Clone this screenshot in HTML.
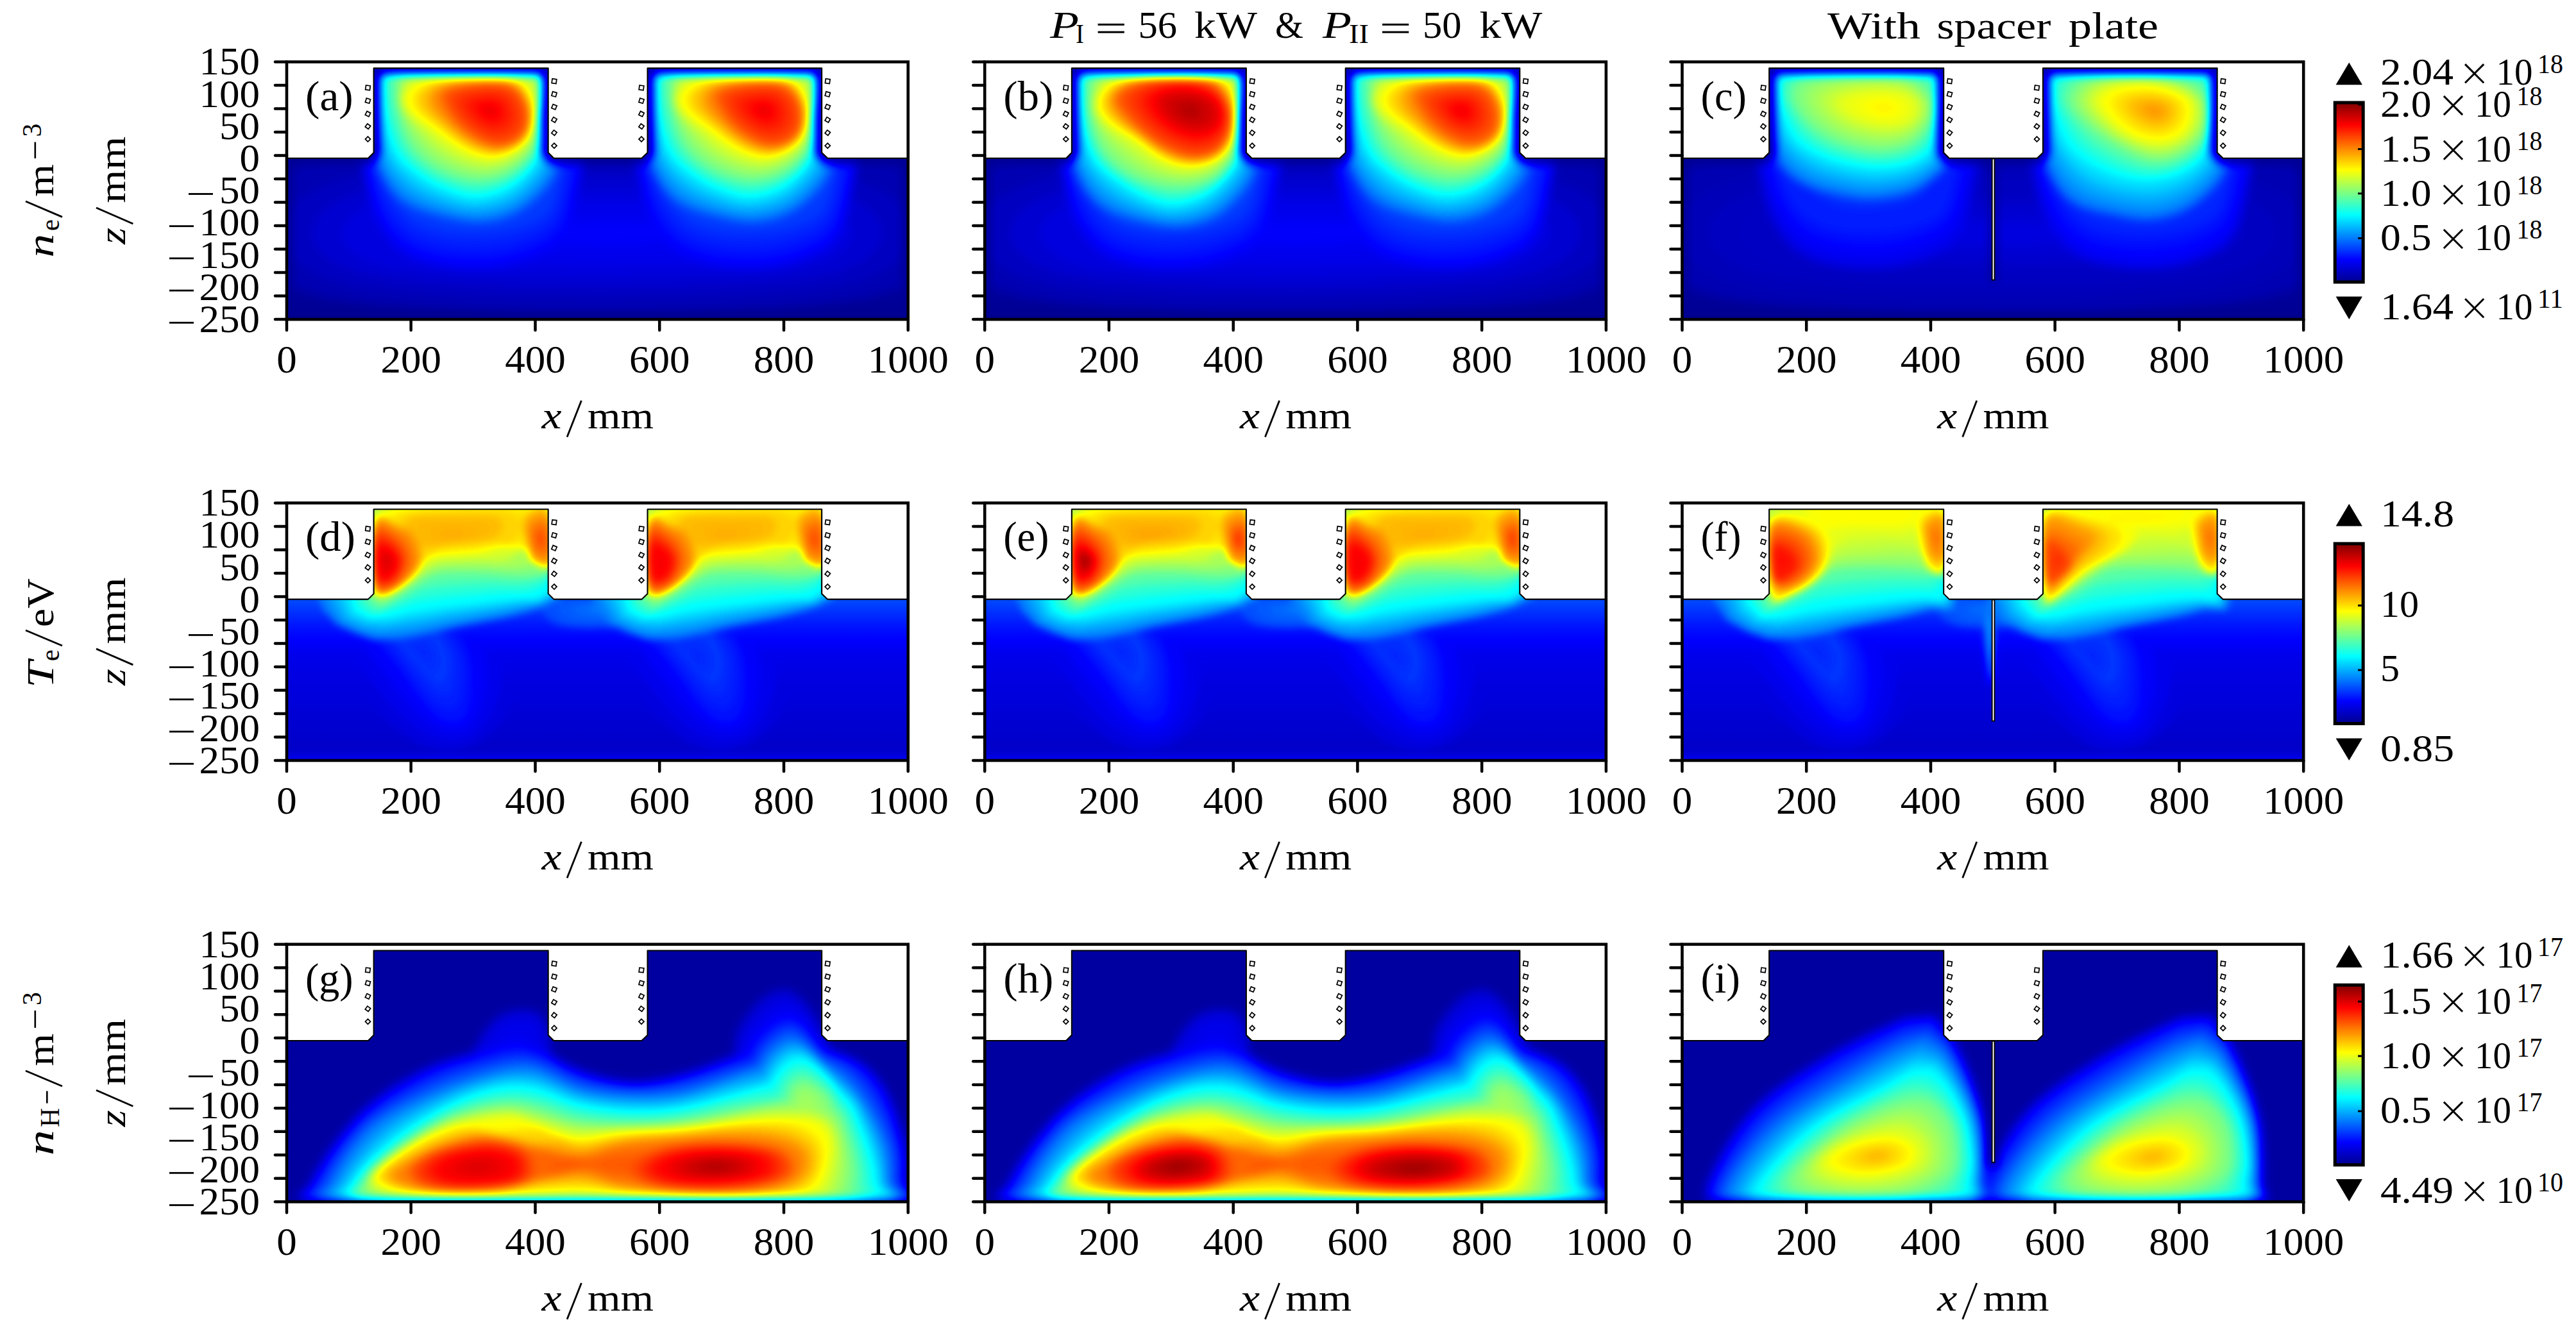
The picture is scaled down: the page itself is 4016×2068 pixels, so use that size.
<!DOCTYPE html><html><head><meta charset="utf-8"><style>html,body{margin:0;padding:0;background:#fff;overflow:hidden}svg{display:block}text{font-family:"Liberation Serif",serif;fill:#000}</style></head><body><svg xmlns="http://www.w3.org/2000/svg" width="4016" height="2068" viewBox="0 0 4016 2068"><defs><filter id="jet" x="0" y="0" width="1" height="1" color-interpolation-filters="sRGB"><feComponentTransfer><feFuncR type="table" tableValues="0 0 0 0 0.5 1 1 1 0.5"/><feFuncG type="table" tableValues="0 0 0.5 1 1 1 0.5 0 0"/><feFuncB type="table" tableValues="0.5625 1 1 1 0.5 0 0 0 0"/></feComponentTransfer></filter><linearGradient id="cbar" x1="0" y1="0" x2="0" y2="1"><stop offset="0.0000" stop-color="#800000"/><stop offset="0.0156" stop-color="#8f0000"/><stop offset="0.0312" stop-color="#9f0000"/><stop offset="0.0469" stop-color="#af0000"/><stop offset="0.0625" stop-color="#bf0000"/><stop offset="0.0781" stop-color="#cf0000"/><stop offset="0.0938" stop-color="#df0000"/><stop offset="0.1094" stop-color="#ef0000"/><stop offset="0.1250" stop-color="#ff0000"/><stop offset="0.1406" stop-color="#ff1000"/><stop offset="0.1562" stop-color="#ff2000"/><stop offset="0.1719" stop-color="#ff3000"/><stop offset="0.1875" stop-color="#ff4000"/><stop offset="0.2031" stop-color="#ff5000"/><stop offset="0.2188" stop-color="#ff6000"/><stop offset="0.2344" stop-color="#ff7000"/><stop offset="0.2500" stop-color="#ff8000"/><stop offset="0.2656" stop-color="#ff8f00"/><stop offset="0.2812" stop-color="#ff9f00"/><stop offset="0.2969" stop-color="#ffaf00"/><stop offset="0.3125" stop-color="#ffbf00"/><stop offset="0.3281" stop-color="#ffcf00"/><stop offset="0.3438" stop-color="#ffdf00"/><stop offset="0.3594" stop-color="#ffef00"/><stop offset="0.3750" stop-color="#ffff00"/><stop offset="0.3906" stop-color="#efff10"/><stop offset="0.4062" stop-color="#dfff20"/><stop offset="0.4219" stop-color="#cfff30"/><stop offset="0.4375" stop-color="#bfff40"/><stop offset="0.4531" stop-color="#afff50"/><stop offset="0.4688" stop-color="#9fff60"/><stop offset="0.4844" stop-color="#8fff70"/><stop offset="0.5000" stop-color="#80ff80"/><stop offset="0.5156" stop-color="#70ff8f"/><stop offset="0.5312" stop-color="#60ff9f"/><stop offset="0.5469" stop-color="#50ffaf"/><stop offset="0.5625" stop-color="#40ffbf"/><stop offset="0.5781" stop-color="#30ffcf"/><stop offset="0.5938" stop-color="#20ffdf"/><stop offset="0.6094" stop-color="#10ffef"/><stop offset="0.6250" stop-color="#00ffff"/><stop offset="0.6406" stop-color="#00efff"/><stop offset="0.6562" stop-color="#00dfff"/><stop offset="0.6719" stop-color="#00cfff"/><stop offset="0.6875" stop-color="#00bfff"/><stop offset="0.7031" stop-color="#00afff"/><stop offset="0.7188" stop-color="#009fff"/><stop offset="0.7344" stop-color="#008fff"/><stop offset="0.7500" stop-color="#0080ff"/><stop offset="0.7656" stop-color="#0070ff"/><stop offset="0.7812" stop-color="#0060ff"/><stop offset="0.7969" stop-color="#0050ff"/><stop offset="0.8125" stop-color="#0040ff"/><stop offset="0.8281" stop-color="#0030ff"/><stop offset="0.8438" stop-color="#0020ff"/><stop offset="0.8594" stop-color="#0010ff"/><stop offset="0.8750" stop-color="#0000ff"/><stop offset="0.8906" stop-color="#0000f1"/><stop offset="0.9062" stop-color="#0000e3"/><stop offset="0.9219" stop-color="#0000d5"/><stop offset="0.9375" stop-color="#0000c7"/><stop offset="0.9531" stop-color="#0000b9"/><stop offset="0.9688" stop-color="#0000ab"/><stop offset="0.9844" stop-color="#00009d"/><stop offset="1.0000" stop-color="#00008f"/></linearGradient><clipPath id="dom"><path d="M18.4 412 H352 L375 389 V43 H1090 V389 L1113 412 H1473 L1497 389 V43 H2211 V389 L2235 412 H2564.7 V1072.8 H18.4 Z"/></clipPath><linearGradient id="ne_base" gradientUnits="userSpaceOnUse" x1="0" y1="412" x2="0" y2="1072"><stop offset="0.000" stop-color="#080808"/><stop offset="0.500" stop-color="#0a0a0a"/><stop offset="0.800" stop-color="#050505"/><stop offset="1.000" stop-color="#000000"/></linearGradient><linearGradient id="te_base" gradientUnits="userSpaceOnUse" x1="0" y1="412" x2="0" y2="1072"><stop offset="0.000" stop-color="#333333"/><stop offset="0.150" stop-color="#262626"/><stop offset="0.350" stop-color="#1a1a1a"/><stop offset="0.600" stop-color="#161616"/><stop offset="0.900" stop-color="#111111"/><stop offset="0.960" stop-color="#111111"/><stop offset="1.000" stop-color="#212121"/></linearGradient><linearGradient id="nh_base" gradientUnits="userSpaceOnUse" x1="0" y1="412" x2="0" y2="1072"><stop offset="0.000" stop-color="#050505"/><stop offset="1.000" stop-color="#050505"/></linearGradient><filter id="fb00" x="-10%" y="-10%" width="120%" height="120%" color-interpolation-filters="sRGB"><feGaussianBlur stdDeviation="20"/></filter><filter id="mb00" x="-5%" y="-5%" width="110%" height="110%" color-interpolation-filters="sRGB"><feGaussianBlur stdDeviation="20"/></filter><filter id="fb01" x="-10%" y="-10%" width="120%" height="120%" color-interpolation-filters="sRGB"><feGaussianBlur stdDeviation="20"/></filter><filter id="mb01" x="-5%" y="-5%" width="110%" height="110%" color-interpolation-filters="sRGB"><feGaussianBlur stdDeviation="20"/></filter><filter id="fb02" x="-10%" y="-10%" width="120%" height="120%" color-interpolation-filters="sRGB"><feGaussianBlur stdDeviation="20"/></filter><filter id="mb02" x="-5%" y="-5%" width="110%" height="110%" color-interpolation-filters="sRGB"><feGaussianBlur stdDeviation="20"/></filter><filter id="fb10" x="-10%" y="-10%" width="120%" height="120%" color-interpolation-filters="sRGB"><feGaussianBlur stdDeviation="16"/></filter><filter id="fb11" x="-10%" y="-10%" width="120%" height="120%" color-interpolation-filters="sRGB"><feGaussianBlur stdDeviation="16"/></filter><filter id="fb12" x="-10%" y="-10%" width="120%" height="120%" color-interpolation-filters="sRGB"><feGaussianBlur stdDeviation="16"/></filter><filter id="fb20" x="-10%" y="-10%" width="120%" height="120%" color-interpolation-filters="sRGB"><feGaussianBlur stdDeviation="20"/></filter><filter id="mb20" x="-5%" y="-5%" width="110%" height="110%" color-interpolation-filters="sRGB"><feGaussianBlur stdDeviation="18"/></filter><filter id="fb21" x="-10%" y="-10%" width="120%" height="120%" color-interpolation-filters="sRGB"><feGaussianBlur stdDeviation="20"/></filter><filter id="mb21" x="-5%" y="-5%" width="110%" height="110%" color-interpolation-filters="sRGB"><feGaussianBlur stdDeviation="18"/></filter><filter id="fb22" x="-10%" y="-10%" width="120%" height="120%" color-interpolation-filters="sRGB"><feGaussianBlur stdDeviation="20"/></filter><filter id="mb22" x="-5%" y="-5%" width="110%" height="110%" color-interpolation-filters="sRGB"><feGaussianBlur stdDeviation="18"/></filter></defs><g transform="translate(440.000 89.995) scale(0.380431)">
<g clip-path="url(#dom)"><g filter="url(#jet)">
<g filter="url(#fb00)">
<rect x="-100" y="-100" width="2800" height="1300" fill="url(#ne_base)"/>
<g style="mix-blend-mode:lighten">
<g style="mix-blend-mode:lighten"><path d="M1251 300l-8 65l-9 65l-12 66l-14 69l-16 74l-25 78l-50 61l-71 34l-72 28l-75 17l-75 7l-74 0l-73 -7l-72 -14l-70 -23l-63 -39l-48 -56l-35 -64l-25 -65l-17 -63l-13 -61l-12 -57l-15 -57l-17 -58l-16 -63l-14 -68l-3 -73l18 -70l54 -49l72 -26l70 -15l63 -10l58 -7l55 -5l52 -2l51 -3l51 0l54 1l55 3l60 6l65 10l71 15l66 32l47 53l23 67l10 70l2 68z" fill="#202020"/><path d="M1225 300l-8 62l-9 61l-11 62l-14 65l-15 71l-26 71l-52 52l-66 30l-68 23l-69 14l-69 6l-68 0l-67 -6l-67 -12l-64 -21l-58 -34l-47 -49l-35 -57l-24 -60l-18 -59l-12 -56l-12 -55l-14 -53l-16 -55l-16 -59l-14 -65l-5 -70l13 -69l45 -52l67 -29l68 -16l62 -11l57 -7l54 -5l52 -3l51 -2l51 0l53 1l55 4l59 5l63 11l68 18l62 34l41 54l19 66l8 67l0 65z" fill="#252525"/><path d="M1199 300l-8 58l-9 58l-11 58l-12 62l-15 66l-28 64l-52 43l-63 26l-63 19l-63 11l-63 5l-62 0l-61 -5l-61 -10l-59 -18l-54 -30l-44 -43l-35 -50l-25 -54l-18 -54l-12 -53l-11 -51l-13 -50l-16 -52l-15 -56l-14 -61l-7 -67l8 -68l37 -55l61 -32l65 -18l61 -11l58 -7l53 -5l52 -3l50 -2l51 0l52 1l54 4l59 6l62 12l65 19l56 37l36 55l16 64l5 65l-2 62z" fill="#292929"/><path d="M1173 300l-8 55l-9 54l-11 55l-11 57l-14 63l-29 57l-53 34l-59 22l-59 14l-58 8l-56 3l-56 1l-55 -4l-55 -8l-54 -16l-49 -25l-43 -36l-34 -44l-26 -48l-17 -50l-12 -49l-11 -48l-13 -46l-14 -49l-15 -52l-14 -58l-9 -64l3 -68l28 -57l56 -35l63 -19l60 -12l57 -7l53 -6l51 -2l50 -2l50 0l52 1l54 5l58 6l60 13l62 21l52 38l29 57l13 63l3 62l-3 59z" fill="#2e2e2e"/><path d="M1067 300l-6 41l-7 41l-8 41l-8 43l-11 47l-21 43l-40 25l-44 17l-44 10l-44 6l-42 3l-42 0l-41 -2l-42 -7l-40 -12l-37 -19l-32 -27l-26 -32l-19 -36l-13 -38l-9 -37l-8 -35l-9 -36l-11 -36l-11 -39l-11 -44l-7 -48l2 -50l21 -43l42 -27l48 -14l45 -9l42 -5l40 -4l38 -2l38 -2l38 1l38 1l41 3l43 4l46 10l46 16l39 29l22 42l9 48l2 46l-2 45z" fill="#323232"/><path d="M962 300l-4 27l-5 27l-6 28l-5 29l-7 31l-15 28l-26 17l-29 12l-30 6l-29 4l-28 2l-28 0l-28 -1l-27 -5l-27 -7l-25 -13l-21 -18l-17 -22l-13 -24l-9 -25l-6 -24l-5 -24l-6 -24l-7 -24l-8 -26l-7 -29l-5 -32l2 -34l14 -29l28 -17l31 -10l31 -6l28 -3l26 -3l26 -1l25 -1l25 0l26 1l27 2l29 3l30 6l31 11l26 19l15 29l6 31l1 31l-1 30z" fill="#373737"/><path d="M856 300l-2 14l-3 13l-2 14l-3 14l-4 16l-7 14l-13 9l-15 5l-14 4l-15 2l-14 1l-14 0l-14 -1l-14 -2l-13 -4l-12 -7l-11 -9l-9 -10l-6 -12l-4 -13l-3 -12l-3 -12l-3 -12l-4 -12l-3 -13l-4 -15l-2 -16l0 -16l7 -15l14 -9l16 -4l15 -3l14 -2l14 -1l12 -1l13 -1l13 1l12 0l14 1l14 1l16 4l15 5l13 10l7 14l3 16l1 15l-1 15z" fill="#3b3b3b"/></g>
<g style="mix-blend-mode:lighten"><path d="M2373 300l-8 65l-9 65l-12 66l-14 69l-16 74l-25 78l-50 61l-71 34l-72 28l-75 17l-75 7l-74 0l-73 -7l-72 -14l-70 -23l-63 -39l-48 -56l-35 -64l-25 -65l-17 -63l-13 -61l-12 -57l-15 -57l-17 -58l-16 -63l-14 -68l-3 -73l18 -70l54 -49l72 -26l70 -15l63 -10l58 -7l55 -5l52 -2l51 -3l51 0l54 1l55 3l60 6l65 10l71 15l66 32l47 53l23 67l10 70l2 68z" fill="#202020"/><path d="M2347 300l-8 62l-9 61l-11 62l-14 65l-15 71l-26 71l-52 52l-66 30l-68 23l-69 14l-69 6l-68 0l-67 -6l-67 -12l-64 -21l-58 -34l-47 -49l-35 -57l-24 -60l-18 -59l-12 -56l-12 -55l-14 -53l-16 -55l-16 -59l-14 -65l-5 -70l13 -69l45 -52l67 -29l68 -16l62 -11l57 -7l54 -5l52 -3l51 -2l51 0l53 1l55 4l59 5l63 11l68 18l62 34l41 54l19 66l8 67l0 65z" fill="#252525"/><path d="M2321 300l-8 58l-9 58l-11 58l-12 62l-15 66l-28 64l-52 43l-63 26l-63 19l-63 11l-63 5l-62 0l-61 -5l-61 -10l-59 -18l-54 -30l-44 -43l-35 -50l-25 -54l-18 -54l-12 -53l-11 -51l-13 -50l-16 -52l-15 -56l-14 -61l-7 -67l8 -68l37 -55l61 -32l65 -18l61 -11l58 -7l53 -5l52 -3l50 -2l51 0l52 1l54 4l59 6l62 12l65 19l56 37l36 55l16 64l5 65l-2 62z" fill="#292929"/><path d="M2295 300l-8 55l-9 54l-11 55l-11 57l-14 63l-29 57l-53 34l-59 22l-59 14l-58 8l-56 3l-56 1l-55 -4l-55 -8l-54 -16l-49 -25l-43 -36l-34 -44l-26 -48l-17 -50l-12 -49l-11 -48l-13 -46l-14 -49l-15 -52l-14 -58l-9 -64l3 -68l28 -57l56 -35l63 -19l60 -12l57 -7l53 -6l51 -2l50 -2l50 0l52 1l54 5l58 6l60 13l62 21l52 38l29 57l13 63l3 62l-3 59z" fill="#2e2e2e"/><path d="M2189 300l-6 41l-7 41l-8 41l-8 43l-11 47l-21 43l-40 25l-44 17l-44 10l-44 6l-42 3l-42 0l-41 -2l-42 -7l-40 -12l-37 -19l-32 -27l-26 -32l-19 -36l-13 -38l-9 -37l-8 -35l-9 -36l-11 -36l-11 -39l-11 -44l-7 -48l2 -50l21 -43l42 -27l48 -14l45 -9l42 -5l40 -4l38 -2l38 -2l38 1l38 1l41 3l43 4l46 10l46 16l39 29l22 42l9 48l2 46l-2 45z" fill="#323232"/><path d="M2084 300l-4 27l-5 27l-6 28l-5 29l-7 31l-15 28l-26 17l-29 12l-30 6l-29 4l-28 2l-28 0l-28 -1l-27 -5l-27 -7l-25 -13l-21 -18l-17 -22l-13 -24l-9 -25l-6 -24l-5 -24l-6 -24l-7 -24l-8 -26l-7 -29l-5 -32l2 -34l14 -29l28 -17l31 -10l31 -6l28 -3l26 -3l26 -1l25 -1l25 0l26 1l27 2l29 3l30 6l31 11l26 19l15 29l6 31l1 31l-1 30z" fill="#373737"/><path d="M1978 300l-2 14l-3 13l-2 14l-3 14l-4 16l-7 14l-13 9l-15 5l-14 4l-15 2l-14 1l-14 0l-14 -1l-14 -2l-13 -4l-12 -7l-11 -9l-9 -10l-6 -12l-4 -13l-3 -12l-3 -12l-3 -12l-4 -12l-3 -13l-4 -15l-2 -16l0 -16l7 -15l14 -9l16 -4l15 -3l14 -2l14 -1l12 -1l13 -1l13 1l12 0l14 1l14 1l16 4l15 5l13 10l7 14l3 16l1 15l-1 15z" fill="#3b3b3b"/></g>
<g style="mix-blend-mode:lighten"><path d="M2712 720l-18 74l-48 71l-87 65l-137 51l-186 29l-184 15l-159 9l-141 6l-126 5l-118 1l-110 1l-108 2l-108 -2l-110 -1l-118 -1l-126 -5l-141 -6l-159 -9l-184 -15l-186 -29l-137 -51l-87 -65l-48 -71l-18 -74l9 -74l38 -73l72 -69l119 -58l173 -36l186 -20l168 -12l154 -6l137 -6l128 -2l120 -1l118 -2l118 2l120 1l128 2l137 6l154 6l168 12l186 20l173 36l119 58l72 69l38 73z" fill="#0a0a0a"/><path d="M2588 720l-20 67l-55 64l-96 56l-147 39l-171 22l-161 11l-137 8l-120 4l-107 3l-100 1l-93 1l-91 2l-91 -2l-93 -1l-100 -1l-107 -3l-120 -4l-137 -8l-161 -11l-171 -22l-147 -39l-96 -56l-55 -64l-20 -67l14 -68l48 -64l87 -58l134 -45l163 -27l162 -14l143 -9l129 -5l114 -4l106 -1l100 -1l98 -2l98 2l100 1l106 1l114 4l129 5l143 9l162 14l163 27l134 45l87 58l48 64z" fill="#0e0e0e"/><path d="M2464 720l-22 61l-61 56l-107 46l-155 28l-157 15l-137 8l-115 5l-100 3l-88 2l-81 1l-77 0l-74 1l-74 -1l-77 0l-81 -1l-88 -2l-100 -3l-115 -5l-137 -8l-157 -15l-155 -28l-107 -46l-61 -56l-22 -61l19 -61l57 -57l102 -47l149 -30l153 -18l138 -9l118 -6l104 -3l92 -3l85 -1l80 0l77 -1l77 1l80 0l85 1l92 3l104 3l118 6l138 9l153 18l149 30l102 47l57 57z" fill="#131313"/><path d="M2340 720l-24 54l-67 49l-117 36l-164 17l-143 8l-114 4l-93 3l-78 2l-70 0l-63 1l-60 1l-57 0l-57 0l-60 -1l-63 -1l-70 0l-78 -2l-93 -3l-114 -4l-143 -8l-164 -17l-117 -36l-67 -49l-24 -54l24 -54l67 -49l117 -36l164 -17l143 -8l114 -4l93 -3l78 -2l70 0l63 -1l60 -1l57 0l57 0l60 1l63 1l70 0l78 2l93 3l114 4l143 8l164 17l117 36l67 49z" fill="#171717"/><path d="M2078 720l-18 41l-51 36l-88 28l-123 12l-107 6l-85 3l-70 2l-59 2l-52 0l-48 1l-44 0l-43 0l-43 0l-44 0l-48 -1l-52 0l-59 -2l-70 -2l-85 -3l-107 -6l-123 -12l-88 -28l-51 -36l-18 -41l18 -41l51 -36l88 -28l123 -12l107 -6l85 -3l70 -2l59 -2l52 0l48 -1l44 0l43 0l43 0l44 0l48 1l52 0l59 2l70 2l85 3l107 6l123 12l88 28l51 36z" fill="#1a1a1a"/><path d="M1815 720l-12 27l-34 24l-58 19l-82 8l-71 4l-58 2l-46 1l-39 1l-35 1l-32 0l-29 0l-29 1l-29 -1l-29 0l-32 0l-35 -1l-39 -1l-46 -1l-58 -2l-71 -4l-82 -8l-58 -19l-34 -24l-12 -27l12 -27l34 -24l58 -19l82 -8l71 -4l58 -2l46 -1l39 -1l35 -1l32 0l29 0l29 -1l29 1l29 0l32 0l35 1l39 1l46 1l58 2l71 4l82 8l58 19l34 24z" fill="#1c1c1c"/><path d="M1552 720l-5 14l-17 12l-30 9l-41 4l-35 2l-29 1l-23 1l-20 0l-17 0l-16 1l-15 0l-14 0l-14 0l-15 0l-16 -1l-17 0l-20 0l-23 -1l-29 -1l-35 -2l-41 -4l-30 -9l-17 -12l-5 -14l5 -14l17 -12l30 -9l41 -4l35 -2l29 -1l23 -1l20 0l17 0l16 -1l15 0l14 0l14 0l15 0l16 1l17 0l20 0l23 1l29 1l35 2l41 4l30 9l17 12z" fill="#1f1f1f"/></g>
<g style="mix-blend-mode:lighten"><path d="M1140 215l1 38l1 40l1 43l-1 47l-8 50l-18 48l-28 44l-36 40l-42 37l-48 32l-54 23l-58 13l-60 4l-61 -8l-60 -13l-63 -16l-63 -21l-60 -34l-47 -49l-35 -59l-23 -64l-19 -64l-24 -63l-25 -68l-19 -74l-1 -76l47 -62l100 -26l90 -10l72 -3l58 0l48 0l41 0l37 2l34 1l33 1l32 2l33 3l34 2l38 3l41 5l48 6l56 10l53 23l9 50l-28 58l-21 46z" fill="#404040"/><path d="M1119 215l-1 35l0 37l0 39l-1 43l-7 45l-17 44l-25 41l-33 37l-38 35l-43 31l-50 21l-54 14l-56 6l-57 -6l-56 -14l-57 -17l-58 -21l-55 -31l-46 -44l-37 -51l-26 -59l-18 -60l-22 -61l-22 -64l-17 -69l-2 -73l37 -62l87 -30l85 -12l70 -4l57 -2l48 0l41 1l37 1l34 1l33 2l32 2l33 2l34 3l37 4l41 5l46 8l49 14l40 29l5 49l-23 52l-18 43z" fill="#4a4a4a"/><path d="M1098 215l-4 32l0 33l0 36l-2 39l-7 41l-14 40l-23 37l-29 34l-34 33l-40 29l-46 21l-49 14l-52 7l-53 -4l-51 -15l-52 -17l-52 -21l-50 -29l-45 -38l-40 -44l-28 -53l-19 -57l-19 -57l-20 -61l-15 -65l-2 -68l27 -62l73 -35l80 -14l69 -5l56 -3l48 0l41 0l37 1l34 2l33 1l32 3l33 2l34 3l37 5l40 6l44 9l42 19l27 34l1 47l-17 47l-16 39z" fill="#555555"/><path d="M1077 215l-6 29l-2 30l0 32l-2 34l-6 37l-13 36l-20 34l-26 32l-30 30l-36 27l-41 20l-45 15l-48 9l-49 -3l-47 -15l-46 -17l-47 -21l-44 -28l-44 -32l-43 -37l-31 -47l-18 -53l-17 -55l-17 -57l-13 -61l-3 -64l16 -62l61 -38l75 -17l67 -6l55 -4l47 0l41 0l38 1l34 1l33 1l32 3l33 3l34 4l36 5l39 7l42 11l36 23l14 39l-3 45l-12 42l-13 36z" fill="#606060"/><path d="M1071 215l-6 28l-2 29l-1 31l-2 33l-7 35l-13 34l-20 32l-25 28l-30 27l-35 23l-38 19l-42 12l-45 8l-45 -3l-44 -12l-44 -16l-43 -19l-43 -25l-41 -30l-40 -35l-30 -44l-19 -50l-16 -51l-14 -54l-11 -57l-3 -60l4 -63l71 -30l74 -12l62 -5l51 -2l43 -1l38 0l34 0l31 1l30 1l30 2l30 3l31 2l34 5l37 5l39 10l36 19l18 35l0 41l-10 40l-13 35z" fill="#6a6a6a"/><path d="M1065 215l-7 27l-2 28l-1 30l-2 32l-7 33l-14 32l-20 29l-25 26l-29 23l-33 20l-36 16l-39 11l-41 5l-42 -2l-41 -10l-41 -14l-41 -18l-40 -22l-39 -27l-36 -34l-29 -40l-20 -46l-16 -48l-11 -51l-9 -53l-3 -57l-8 -63l81 -21l73 -8l58 -3l46 -2l39 -1l34 0l30 0l29 1l27 0l27 2l28 1l29 2l31 3l34 5l37 8l37 15l22 30l3 38l-10 39l-12 34z" fill="#757575"/><path d="M1059 215l-7 27l-3 26l-1 29l-3 31l-6 32l-15 29l-20 27l-25 23l-28 20l-31 16l-34 13l-36 9l-38 4l-38 -2l-38 -8l-38 -12l-39 -16l-38 -19l-36 -26l-33 -31l-27 -37l-22 -42l-14 -45l-9 -48l-6 -50l-4 -52l-19 -63l91 -13l71 -4l53 -2l42 -1l35 -1l30 0l27 0l26 0l24 0l24 1l25 1l27 1l28 2l32 3l36 6l36 12l26 25l7 35l-9 38l-12 33z" fill="#808080"/><path d="M1050 215l-5 26l-2 26l-3 27l-5 28l-8 29l-15 26l-20 23l-24 20l-26 17l-29 14l-30 11l-33 7l-34 2l-34 -3l-33 -8l-34 -12l-33 -14l-33 -18l-32 -22l-30 -27l-27 -32l-25 -36l-25 -39l-22 -45l-11 -49l8 -49l4 -52l80 -12l64 -5l48 -2l39 -1l32 0l27 -1l25 0l24 0l22 1l22 0l23 1l24 2l26 2l29 4l31 6l30 13l22 22l8 31l-3 32l-6 30z" fill="#8a8a8a"/><path d="M1041 215l-2 25l-3 25l-4 25l-7 26l-10 26l-15 23l-20 20l-22 17l-25 14l-26 12l-28 9l-29 4l-30 0l-29 -5l-29 -8l-29 -11l-28 -13l-28 -16l-28 -19l-27 -23l-26 -26l-29 -29l-35 -34l-35 -42l-16 -49l18 -45l28 -40l69 -13l57 -4l44 -2l34 -2l29 0l26 0l22 0l22 0l20 0l20 1l21 1l22 1l23 3l25 4l26 8l25 13l19 20l9 25l3 27l0 27z" fill="#959595"/><path d="M1032 215l0 24l-3 24l-5 24l-9 23l-12 23l-16 19l-19 17l-21 14l-23 12l-23 10l-25 7l-26 2l-26 -3l-25 -6l-24 -9l-24 -10l-23 -12l-23 -14l-23 -16l-24 -18l-27 -20l-32 -24l-45 -28l-48 -39l-21 -48l29 -42l52 -28l57 -13l50 -5l39 -2l31 -1l26 -1l23 0l20 0l20 0l18 0l18 1l19 1l19 2l21 3l22 4l21 9l19 13l15 18l10 21l9 22l6 22z" fill="#9f9f9f"/><path d="M1024 215l1 23l-1 24l-5 23l-8 23l-13 21l-16 18l-19 15l-21 12l-22 10l-23 7l-23 4l-24 0l-23 -5l-22 -6l-22 -8l-20 -10l-20 -11l-20 -13l-20 -14l-21 -16l-22 -18l-26 -21l-35 -25l-36 -33l-19 -40l16 -38l38 -26l48 -14l43 -5l35 -3l28 -2l23 -1l21 -1l19 0l18 -1l17 0l17 1l18 1l18 1l19 3l20 5l20 8l18 12l14 17l11 19l9 20l6 22z" fill="#aeaeae"/><path d="M1017 215l2 22l-1 23l-4 23l-8 22l-12 20l-17 17l-19 14l-21 10l-22 7l-22 4l-21 1l-22 -2l-20 -6l-20 -7l-18 -8l-17 -9l-17 -10l-17 -12l-17 -12l-17 -14l-18 -16l-20 -18l-24 -22l-25 -27l-16 -32l3 -33l24 -26l39 -13l35 -7l30 -4l25 -2l21 -2l19 -1l18 -1l16 -1l16 0l16 1l16 0l17 2l18 2l19 5l18 8l17 11l13 16l11 17l9 19l8 20z" fill="#bdbdbd"/><path d="M1009 215l3 21l0 22l-3 23l-7 22l-13 19l-17 15l-19 12l-21 8l-21 5l-21 1l-21 -1l-19 -5l-18 -7l-16 -8l-15 -8l-15 -9l-14 -9l-13 -10l-14 -10l-14 -12l-14 -14l-13 -16l-14 -18l-13 -21l-14 -25l-10 -28l10 -24l30 -14l29 -7l25 -5l21 -3l19 -3l17 -1l16 -2l15 0l15 -1l15 0l15 1l16 1l17 3l17 4l16 8l15 10l13 14l11 16l10 17l8 19z" fill="#cccccc"/><path d="M969 215l3 16l0 17l-3 16l-5 17l-10 14l-12 12l-15 8l-16 6l-15 4l-16 1l-16 -1l-14 -4l-13 -5l-13 -6l-11 -6l-11 -6l-10 -7l-11 -7l-10 -8l-10 -9l-11 -11l-10 -12l-10 -13l-10 -16l-10 -18l-8 -22l8 -18l22 -10l22 -6l19 -3l16 -3l14 -2l13 -1l12 -1l11 0l11 -1l11 0l12 1l11 1l13 2l13 3l12 6l12 8l9 10l9 12l7 13l6 14z" fill="#d4d4d4"/><path d="M930 215l1 11l0 11l-2 11l-3 11l-7 9l-8 8l-10 6l-10 4l-11 2l-10 1l-10 -1l-10 -2l-9 -3l-8 -4l-8 -5l-7 -4l-7 -4l-7 -5l-7 -6l-6 -6l-7 -7l-7 -7l-7 -9l-6 -11l-7 -12l-5 -14l5 -13l14 -6l15 -4l12 -3l11 -1l10 -1l8 -1l8 -1l8 0l7 0l7 0l8 0l8 1l8 1l9 2l8 4l8 5l6 7l6 8l5 9l4 9z" fill="#dbdbdb"/><path d="M890 215l1 5l0 6l-1 5l-2 6l-3 5l-4 4l-5 2l-6 2l-5 2l-5 0l-5 0l-5 -2l-4 -1l-5 -2l-3 -2l-4 -2l-3 -3l-4 -2l-3 -3l-4 -3l-3 -3l-4 -4l-3 -5l-3 -5l-4 -6l-2 -7l2 -6l8 -4l7 -2l6 -1l6 -1l4 0l5 -1l4 0l3 0l4 0l4 0l4 0l3 0l5 1l4 1l4 2l4 3l3 3l3 4l2 4l2 5z" fill="#e3e3e3"/></g>
<g style="mix-blend-mode:lighten"><path d="M2262 215l1 38l1 40l1 43l-1 47l-8 50l-18 48l-28 44l-36 40l-42 37l-48 32l-54 23l-58 13l-60 4l-61 -8l-60 -13l-63 -16l-63 -21l-60 -34l-47 -49l-35 -59l-23 -64l-19 -64l-24 -63l-25 -68l-19 -74l-1 -76l47 -62l100 -26l90 -10l72 -3l58 0l48 0l41 0l37 2l34 1l33 1l32 2l33 3l34 2l38 3l41 5l48 6l56 10l53 23l9 50l-28 58l-21 46z" fill="#404040"/><path d="M2241 215l-1 35l0 37l0 39l-1 43l-7 45l-17 44l-25 41l-33 37l-38 35l-43 31l-50 21l-54 14l-56 6l-57 -6l-56 -14l-57 -17l-58 -21l-55 -31l-46 -44l-37 -51l-26 -59l-18 -60l-22 -61l-22 -64l-17 -69l-2 -73l37 -62l87 -30l85 -12l70 -4l57 -2l48 0l41 1l37 1l34 1l33 2l32 2l33 2l34 3l37 4l41 5l46 8l49 14l40 29l5 49l-23 52l-18 43z" fill="#4a4a4a"/><path d="M2220 215l-4 32l0 33l0 36l-2 39l-7 41l-14 40l-23 37l-29 34l-34 33l-40 29l-46 21l-49 14l-52 7l-53 -4l-51 -15l-52 -17l-52 -21l-50 -29l-45 -38l-40 -44l-28 -53l-19 -57l-19 -57l-20 -61l-15 -65l-2 -68l27 -62l73 -35l80 -14l69 -5l56 -3l48 0l41 0l37 1l34 2l33 1l32 3l33 2l34 3l37 5l40 6l44 9l42 19l27 34l1 47l-17 47l-16 39z" fill="#555555"/><path d="M2199 215l-6 29l-2 30l0 32l-2 34l-6 37l-13 36l-20 34l-26 32l-30 30l-36 27l-41 20l-45 15l-48 9l-49 -3l-47 -15l-46 -17l-47 -21l-44 -28l-44 -32l-43 -37l-31 -47l-18 -53l-17 -55l-17 -57l-13 -61l-3 -64l16 -62l61 -38l75 -17l67 -6l55 -4l47 0l41 0l38 1l34 1l33 1l32 3l33 3l34 4l36 5l39 7l42 11l36 23l14 39l-3 45l-12 42l-13 36z" fill="#606060"/><path d="M2193 215l-6 28l-2 29l-1 31l-2 33l-7 35l-13 34l-20 32l-25 28l-30 27l-35 23l-38 19l-42 12l-45 8l-45 -3l-44 -12l-44 -16l-43 -19l-43 -25l-41 -30l-40 -35l-30 -44l-19 -50l-16 -51l-14 -54l-11 -57l-3 -60l4 -63l71 -30l74 -12l62 -5l51 -2l43 -1l38 0l34 0l31 1l30 1l30 2l30 3l31 2l34 5l37 5l39 10l36 19l18 35l0 41l-10 40l-13 35z" fill="#6a6a6a"/><path d="M2187 215l-7 27l-2 28l-1 30l-2 32l-7 33l-14 32l-20 29l-25 26l-29 23l-33 20l-36 16l-39 11l-41 5l-42 -2l-41 -10l-41 -14l-41 -18l-40 -22l-39 -27l-36 -34l-29 -40l-20 -46l-16 -48l-11 -51l-9 -53l-3 -57l-8 -63l81 -21l73 -8l58 -3l46 -2l39 -1l34 0l30 0l29 1l27 0l27 2l28 1l29 2l31 3l34 5l37 8l37 15l22 30l3 38l-10 39l-12 34z" fill="#757575"/><path d="M2181 215l-7 27l-3 26l-1 29l-3 31l-6 32l-15 29l-20 27l-25 23l-28 20l-31 16l-34 13l-36 9l-38 4l-38 -2l-38 -8l-38 -12l-39 -16l-38 -19l-36 -26l-33 -31l-27 -37l-22 -42l-14 -45l-9 -48l-6 -50l-4 -52l-19 -63l91 -13l71 -4l53 -2l42 -1l35 -1l30 0l27 0l26 0l24 0l24 1l25 1l27 1l28 2l32 3l36 6l36 12l26 25l7 35l-9 38l-12 33z" fill="#808080"/><path d="M2172 215l-5 26l-2 26l-3 27l-5 28l-8 29l-15 26l-20 23l-24 20l-26 17l-29 14l-30 11l-33 7l-34 2l-34 -3l-33 -8l-34 -12l-33 -14l-33 -18l-32 -22l-30 -27l-27 -32l-25 -36l-25 -39l-22 -45l-11 -49l8 -49l4 -52l80 -12l64 -5l48 -2l39 -1l32 0l27 -1l25 0l24 0l22 1l22 0l23 1l24 2l26 2l29 4l31 6l30 13l22 22l8 31l-3 32l-6 30z" fill="#8a8a8a"/><path d="M2163 215l-2 25l-3 25l-4 25l-7 26l-10 26l-15 23l-20 20l-22 17l-25 14l-26 12l-28 9l-29 4l-30 0l-29 -5l-29 -8l-29 -11l-28 -13l-28 -16l-28 -19l-27 -23l-26 -26l-29 -29l-35 -34l-35 -42l-16 -49l18 -45l28 -40l69 -13l57 -4l44 -2l34 -2l29 0l26 0l22 0l22 0l20 0l20 1l21 1l22 1l23 3l25 4l26 8l25 13l19 20l9 25l3 27l0 27z" fill="#959595"/><path d="M2154 215l0 24l-3 24l-5 24l-9 23l-12 23l-16 19l-19 17l-21 14l-23 12l-23 10l-25 7l-26 2l-26 -3l-25 -6l-24 -9l-24 -10l-23 -12l-23 -14l-23 -16l-24 -18l-27 -20l-32 -24l-45 -28l-48 -39l-21 -48l29 -42l52 -28l57 -13l50 -5l39 -2l31 -1l26 -1l23 0l20 0l20 0l18 0l18 1l19 1l19 2l21 3l22 4l21 9l19 13l15 18l10 21l9 22l6 22z" fill="#9f9f9f"/><path d="M2146 215l1 23l-1 24l-5 23l-8 23l-13 21l-16 18l-19 15l-21 12l-22 10l-23 7l-23 4l-24 0l-23 -5l-22 -6l-22 -8l-20 -10l-20 -11l-20 -13l-20 -14l-21 -16l-22 -18l-26 -21l-35 -25l-36 -33l-19 -40l16 -38l38 -26l48 -14l43 -5l35 -3l28 -2l23 -1l21 -1l19 0l18 -1l17 0l17 1l18 1l18 1l19 3l20 5l20 8l18 12l14 17l11 19l9 20l6 22z" fill="#aeaeae"/><path d="M2139 215l2 22l-1 23l-4 23l-8 22l-12 20l-17 17l-19 14l-21 10l-22 7l-22 4l-21 1l-22 -2l-20 -6l-20 -7l-18 -8l-17 -9l-17 -10l-17 -12l-17 -12l-17 -14l-18 -16l-20 -18l-24 -22l-25 -27l-16 -32l3 -33l24 -26l39 -13l35 -7l30 -4l25 -2l21 -2l19 -1l18 -1l16 -1l16 0l16 1l16 0l17 2l18 2l19 5l18 8l17 11l13 16l11 17l9 19l8 20z" fill="#bdbdbd"/><path d="M2131 215l3 21l0 22l-3 23l-7 22l-13 19l-17 15l-19 12l-21 8l-21 5l-21 1l-21 -1l-19 -5l-18 -7l-16 -8l-15 -8l-15 -9l-14 -9l-13 -10l-14 -10l-14 -12l-14 -14l-13 -16l-14 -18l-13 -21l-14 -25l-10 -28l10 -24l30 -14l29 -7l25 -5l21 -3l19 -3l17 -1l16 -2l15 0l15 -1l15 0l15 1l16 1l17 3l17 4l16 8l15 10l13 14l11 16l10 17l8 19z" fill="#cccccc"/><path d="M2091 215l3 16l0 17l-3 16l-5 17l-10 14l-12 12l-15 8l-16 6l-15 4l-16 1l-16 -1l-14 -4l-13 -5l-13 -6l-11 -6l-11 -6l-10 -7l-11 -7l-10 -8l-10 -9l-11 -11l-10 -12l-10 -13l-10 -16l-10 -18l-8 -22l8 -18l22 -10l22 -6l19 -3l16 -3l14 -2l13 -1l12 -1l11 0l11 -1l11 0l12 1l11 1l13 2l13 3l12 6l12 8l9 10l9 12l7 13l6 14z" fill="#d4d4d4"/><path d="M2052 215l1 11l0 11l-2 11l-3 11l-7 9l-8 8l-10 6l-10 4l-11 2l-10 1l-10 -1l-10 -2l-9 -3l-8 -4l-8 -5l-7 -4l-7 -4l-7 -5l-7 -6l-6 -6l-7 -7l-7 -7l-7 -9l-6 -11l-7 -12l-5 -14l5 -13l14 -6l15 -4l12 -3l11 -1l10 -1l8 -1l8 -1l8 0l7 0l7 0l8 0l8 1l8 1l9 2l8 4l8 5l6 7l6 8l5 9l4 9z" fill="#dbdbdb"/><path d="M2012 215l1 5l0 6l-1 5l-2 6l-3 5l-4 4l-5 2l-6 2l-5 2l-5 0l-5 0l-5 -2l-4 -1l-5 -2l-3 -2l-4 -2l-3 -3l-4 -2l-3 -3l-4 -3l-3 -3l-4 -4l-3 -5l-3 -5l-4 -6l-2 -7l2 -6l8 -4l7 -2l6 -1l6 -1l4 0l5 -1l4 0l3 0l4 0l4 0l4 0l3 0l5 1l4 1l4 2l4 3l3 3l3 4l2 4l2 5z" fill="#e3e3e3"/></g>
</g>
</g>
<g style="mix-blend-mode:multiply" filter="url(#mb00)"><rect x="-100" y="-100" width="2800" height="1300" fill="#fff"/><path d="M18.4 412 H352 L375 389 V43 H1090 V389 L1113 412 H1473 L1497 389 V43 H2211 V389 L2235 412 H2564.7 V1072.8 H18.4 Z" fill="none" stroke="#000" stroke-width="44"/></g>
</g></g>
</g>
<g transform="translate(440.000 89.995) scale(0.380431)">
<path d="M18.4 412 H352 L375 389 V43 H1090 V389 L1113 412 H1473 L1497 389 V43 H2211 V389 L2235 412 H2564.7 V1072.8 H18.4 Z" fill="none" stroke="#000" stroke-width="5.5" stroke-linejoin="round"/>
<rect x="342" y="114" width="18" height="18" fill="#fff" stroke="#000" stroke-width="4.6" transform="rotate(8 351 123)"/>
<rect x="342.4" y="167.9" width="17.2" height="17.2" fill="#fff" stroke="#000" stroke-width="4.6" transform="rotate(17.2 351 176.5)"/>
<rect x="342.8" y="222.2" width="16.5" height="16.5" fill="#fff" stroke="#000" stroke-width="4.6" transform="rotate(26.5 351 230.4)"/>
<rect x="343.1" y="273.7" width="15.8" height="15.8" fill="#fff" stroke="#000" stroke-width="4.6" transform="rotate(35.8 351 281.6)"/>
<rect x="343.5" y="326.5" width="15" height="15" fill="#fff" stroke="#000" stroke-width="4.6" transform="rotate(45 351 334)"/>
<rect x="1105.5" y="87.3" width="18" height="18" fill="#fff" stroke="#000" stroke-width="4.6" transform="rotate(8 1114.5 96.3)"/>
<rect x="1105.8" y="141" width="17.4" height="17.4" fill="#fff" stroke="#000" stroke-width="4.6" transform="rotate(15.4 1114.5 149.7)"/>
<rect x="1106.1" y="193.4" width="16.8" height="16.8" fill="#fff" stroke="#000" stroke-width="4.6" transform="rotate(22.8 1114.5 201.8)"/>
<rect x="1106.4" y="246.5" width="16.2" height="16.2" fill="#fff" stroke="#000" stroke-width="4.6" transform="rotate(30.2 1114.5 254.6)"/>
<rect x="1106.7" y="299.9" width="15.6" height="15.6" fill="#fff" stroke="#000" stroke-width="4.6" transform="rotate(37.6 1114.5 307.7)"/>
<rect x="1107" y="353.1" width="15" height="15" fill="#fff" stroke="#000" stroke-width="4.6" transform="rotate(45 1114.5 360.6)"/>
<rect x="1463" y="114" width="18" height="18" fill="#fff" stroke="#000" stroke-width="4.6" transform="rotate(8 1472 123)"/>
<rect x="1463.4" y="167.9" width="17.2" height="17.2" fill="#fff" stroke="#000" stroke-width="4.6" transform="rotate(17.2 1472 176.5)"/>
<rect x="1463.8" y="222.2" width="16.5" height="16.5" fill="#fff" stroke="#000" stroke-width="4.6" transform="rotate(26.5 1472 230.4)"/>
<rect x="1464.1" y="273.7" width="15.8" height="15.8" fill="#fff" stroke="#000" stroke-width="4.6" transform="rotate(35.8 1472 281.6)"/>
<rect x="1464.5" y="326.5" width="15" height="15" fill="#fff" stroke="#000" stroke-width="4.6" transform="rotate(45 1472 334)"/>
<rect x="2226" y="87.3" width="18" height="18" fill="#fff" stroke="#000" stroke-width="4.6" transform="rotate(8 2235 96.3)"/>
<rect x="2226.3" y="141" width="17.4" height="17.4" fill="#fff" stroke="#000" stroke-width="4.6" transform="rotate(15.4 2235 149.7)"/>
<rect x="2226.6" y="193.4" width="16.8" height="16.8" fill="#fff" stroke="#000" stroke-width="4.6" transform="rotate(22.8 2235 201.8)"/>
<rect x="2226.9" y="246.5" width="16.2" height="16.2" fill="#fff" stroke="#000" stroke-width="4.6" transform="rotate(30.2 2235 254.6)"/>
<rect x="2227.2" y="299.9" width="15.6" height="15.6" fill="#fff" stroke="#000" stroke-width="4.6" transform="rotate(37.6 2235 307.7)"/>
<rect x="2227.5" y="353.1" width="15" height="15" fill="#fff" stroke="#000" stroke-width="4.6" transform="rotate(45 2235 360.6)"/>
</g>
<rect x="447" y="96.5" width="968.7" height="401.6" fill="none" stroke="#000" stroke-width="4.6"/>
<line x1="429" y1="96.5" x2="447" y2="96.5" stroke="#000" stroke-width="4.5" stroke-linecap="round"/>
<line x1="429" y1="133" x2="447" y2="133" stroke="#000" stroke-width="4.5" stroke-linecap="round"/>
<line x1="429" y1="169.5" x2="447" y2="169.5" stroke="#000" stroke-width="4.5" stroke-linecap="round"/>
<line x1="429" y1="206" x2="447" y2="206" stroke="#000" stroke-width="4.5" stroke-linecap="round"/>
<line x1="429" y1="242.5" x2="447" y2="242.5" stroke="#000" stroke-width="4.5" stroke-linecap="round"/>
<line x1="429" y1="279" x2="447" y2="279" stroke="#000" stroke-width="4.5" stroke-linecap="round"/>
<line x1="429" y1="315.6" x2="447" y2="315.6" stroke="#000" stroke-width="4.5" stroke-linecap="round"/>
<line x1="429" y1="352.1" x2="447" y2="352.1" stroke="#000" stroke-width="4.5" stroke-linecap="round"/>
<line x1="429" y1="388.6" x2="447" y2="388.6" stroke="#000" stroke-width="4.5" stroke-linecap="round"/>
<line x1="429" y1="425.1" x2="447" y2="425.1" stroke="#000" stroke-width="4.5" stroke-linecap="round"/>
<line x1="429" y1="461.6" x2="447" y2="461.6" stroke="#000" stroke-width="4.5" stroke-linecap="round"/>
<line x1="429" y1="498.1" x2="447" y2="498.1" stroke="#000" stroke-width="4.5" stroke-linecap="round"/>
<line x1="447" y1="498.1" x2="447" y2="515.1" stroke="#000" stroke-width="4.5" stroke-linecap="round"/>
<text x="447" y="581.1" font-size="62" text-anchor="middle" style="" textLength="31.5" lengthAdjust="spacingAndGlyphs" >0</text>
<line x1="640.7" y1="498.1" x2="640.7" y2="515.1" stroke="#000" stroke-width="4.5" stroke-linecap="round"/>
<text x="640.7" y="581.1" font-size="62" text-anchor="middle" style="" textLength="94.5" lengthAdjust="spacingAndGlyphs" >200</text>
<line x1="834.5" y1="498.1" x2="834.5" y2="515.1" stroke="#000" stroke-width="4.5" stroke-linecap="round"/>
<text x="834.5" y="581.1" font-size="62" text-anchor="middle" style="" textLength="94.5" lengthAdjust="spacingAndGlyphs" >400</text>
<line x1="1028.2" y1="498.1" x2="1028.2" y2="515.1" stroke="#000" stroke-width="4.5" stroke-linecap="round"/>
<text x="1028.2" y="581.1" font-size="62" text-anchor="middle" style="" textLength="94.5" lengthAdjust="spacingAndGlyphs" >600</text>
<line x1="1222" y1="498.1" x2="1222" y2="515.1" stroke="#000" stroke-width="4.5" stroke-linecap="round"/>
<text x="1222" y="581.1" font-size="62" text-anchor="middle" style="" textLength="94.5" lengthAdjust="spacingAndGlyphs" >800</text>
<line x1="1415.7" y1="498.1" x2="1415.7" y2="515.1" stroke="#000" stroke-width="4.5" stroke-linecap="round"/>
<text x="1415.7" y="581.1" font-size="62" text-anchor="middle" style="" textLength="126" lengthAdjust="spacingAndGlyphs" >1000</text>
<text x="844.6" y="667.8" font-size="60" text-anchor="start" style="font-style:italic;" textLength="31" lengthAdjust="spacingAndGlyphs" >x</text>
<line x1="906.4" y1="624.8" x2="884.1" y2="681.4" stroke="#000" stroke-width="2.8" stroke-linecap="butt"/>
<text x="916.1" y="667.8" font-size="60" text-anchor="start" style="" textLength="103" lengthAdjust="spacingAndGlyphs" >mm</text>
<text x="476" y="171.5" font-size="66" text-anchor="start" style="" textLength="74.7" lengthAdjust="spacingAndGlyphs" >(a)</text>
<text x="405" y="116.3" font-size="62" text-anchor="end" style="" textLength="94.5" lengthAdjust="spacingAndGlyphs" >150</text>
<text x="405" y="166.5" font-size="62" text-anchor="end" style="" textLength="94.5" lengthAdjust="spacingAndGlyphs" >100</text>
<text x="405" y="216.7" font-size="62" text-anchor="end" style="" textLength="63" lengthAdjust="spacingAndGlyphs" >50</text>
<text x="405" y="266.9" font-size="62" text-anchor="end" style="" textLength="31.5" lengthAdjust="spacingAndGlyphs" >0</text>
<text x="405" y="317.1" font-size="62" text-anchor="end" style="" textLength="63" lengthAdjust="spacingAndGlyphs" >50</text>
<rect x="294" y="301.1" width="38" height="2.8" fill="#000"/>
<text x="405" y="367.3" font-size="62" text-anchor="end" style="" textLength="94.5" lengthAdjust="spacingAndGlyphs" >100</text>
<rect x="264" y="351.3" width="38" height="2.8" fill="#000"/>
<text x="405" y="417.5" font-size="62" text-anchor="end" style="" textLength="94.5" lengthAdjust="spacingAndGlyphs" >150</text>
<rect x="264" y="401.5" width="38" height="2.8" fill="#000"/>
<text x="405" y="467.7" font-size="62" text-anchor="end" style="" textLength="94.5" lengthAdjust="spacingAndGlyphs" >200</text>
<rect x="264" y="451.7" width="38" height="2.8" fill="#000"/>
<text x="405" y="517.9" font-size="62" text-anchor="end" style="" textLength="94.5" lengthAdjust="spacingAndGlyphs" >250</text>
<rect x="264" y="501.9" width="38" height="2.8" fill="#000"/>
<g transform="translate(1528.200 89.995) scale(0.380431)">
<g clip-path="url(#dom)"><g filter="url(#jet)">
<g filter="url(#fb01)">
<rect x="-100" y="-100" width="2800" height="1300" fill="url(#ne_base)"/>
<g style="mix-blend-mode:lighten">
<g style="mix-blend-mode:lighten"><path d="M1251 300l-8 65l-9 65l-12 66l-14 69l-16 74l-25 78l-50 61l-71 34l-72 28l-75 17l-75 7l-74 0l-73 -7l-72 -14l-70 -23l-63 -39l-48 -56l-35 -64l-25 -65l-17 -63l-13 -61l-12 -57l-15 -57l-17 -58l-16 -63l-14 -68l-3 -73l18 -70l54 -49l72 -26l70 -15l63 -10l58 -7l55 -5l52 -2l51 -3l51 0l54 1l55 3l60 6l65 10l71 15l66 32l47 53l23 67l10 70l2 68z" fill="#202020"/><path d="M1225 300l-8 62l-9 61l-11 62l-14 65l-15 71l-26 71l-52 52l-66 30l-68 23l-69 14l-69 6l-68 0l-67 -6l-67 -12l-64 -21l-58 -34l-47 -49l-35 -57l-24 -60l-18 -59l-12 -56l-12 -55l-14 -53l-16 -55l-16 -59l-14 -65l-5 -70l13 -69l45 -52l67 -29l68 -16l62 -11l57 -7l54 -5l52 -3l51 -2l51 0l53 1l55 4l59 5l63 11l68 18l62 34l41 54l19 66l8 67l0 65z" fill="#252525"/><path d="M1199 300l-8 58l-9 58l-11 58l-12 62l-15 66l-28 64l-52 43l-63 26l-63 19l-63 11l-63 5l-62 0l-61 -5l-61 -10l-59 -18l-54 -30l-44 -43l-35 -50l-25 -54l-18 -54l-12 -53l-11 -51l-13 -50l-16 -52l-15 -56l-14 -61l-7 -67l8 -68l37 -55l61 -32l65 -18l61 -11l58 -7l53 -5l52 -3l50 -2l51 0l52 1l54 4l59 6l62 12l65 19l56 37l36 55l16 64l5 65l-2 62z" fill="#292929"/><path d="M1173 300l-8 55l-9 54l-11 55l-11 57l-14 63l-29 57l-53 34l-59 22l-59 14l-58 8l-56 3l-56 1l-55 -4l-55 -8l-54 -16l-49 -25l-43 -36l-34 -44l-26 -48l-17 -50l-12 -49l-11 -48l-13 -46l-14 -49l-15 -52l-14 -58l-9 -64l3 -68l28 -57l56 -35l63 -19l60 -12l57 -7l53 -6l51 -2l50 -2l50 0l52 1l54 5l58 6l60 13l62 21l52 38l29 57l13 63l3 62l-3 59z" fill="#2e2e2e"/><path d="M1067 300l-6 41l-7 41l-8 41l-8 43l-11 47l-21 43l-40 25l-44 17l-44 10l-44 6l-42 3l-42 0l-41 -2l-42 -7l-40 -12l-37 -19l-32 -27l-26 -32l-19 -36l-13 -38l-9 -37l-8 -35l-9 -36l-11 -36l-11 -39l-11 -44l-7 -48l2 -50l21 -43l42 -27l48 -14l45 -9l42 -5l40 -4l38 -2l38 -2l38 1l38 1l41 3l43 4l46 10l46 16l39 29l22 42l9 48l2 46l-2 45z" fill="#323232"/><path d="M962 300l-4 27l-5 27l-6 28l-5 29l-7 31l-15 28l-26 17l-29 12l-30 6l-29 4l-28 2l-28 0l-28 -1l-27 -5l-27 -7l-25 -13l-21 -18l-17 -22l-13 -24l-9 -25l-6 -24l-5 -24l-6 -24l-7 -24l-8 -26l-7 -29l-5 -32l2 -34l14 -29l28 -17l31 -10l31 -6l28 -3l26 -3l26 -1l25 -1l25 0l26 1l27 2l29 3l30 6l31 11l26 19l15 29l6 31l1 31l-1 30z" fill="#373737"/><path d="M856 300l-2 14l-3 13l-2 14l-3 14l-4 16l-7 14l-13 9l-15 5l-14 4l-15 2l-14 1l-14 0l-14 -1l-14 -2l-13 -4l-12 -7l-11 -9l-9 -10l-6 -12l-4 -13l-3 -12l-3 -12l-3 -12l-4 -12l-3 -13l-4 -15l-2 -16l0 -16l7 -15l14 -9l16 -4l15 -3l14 -2l14 -1l12 -1l13 -1l13 1l12 0l14 1l14 1l16 4l15 5l13 10l7 14l3 16l1 15l-1 15z" fill="#3b3b3b"/></g>
<g style="mix-blend-mode:lighten"><path d="M2373 300l-8 65l-9 65l-12 66l-14 69l-16 74l-25 78l-50 61l-71 34l-72 28l-75 17l-75 7l-74 0l-73 -7l-72 -14l-70 -23l-63 -39l-48 -56l-35 -64l-25 -65l-17 -63l-13 -61l-12 -57l-15 -57l-17 -58l-16 -63l-14 -68l-3 -73l18 -70l54 -49l72 -26l70 -15l63 -10l58 -7l55 -5l52 -2l51 -3l51 0l54 1l55 3l60 6l65 10l71 15l66 32l47 53l23 67l10 70l2 68z" fill="#202020"/><path d="M2347 300l-8 62l-9 61l-11 62l-14 65l-15 71l-26 71l-52 52l-66 30l-68 23l-69 14l-69 6l-68 0l-67 -6l-67 -12l-64 -21l-58 -34l-47 -49l-35 -57l-24 -60l-18 -59l-12 -56l-12 -55l-14 -53l-16 -55l-16 -59l-14 -65l-5 -70l13 -69l45 -52l67 -29l68 -16l62 -11l57 -7l54 -5l52 -3l51 -2l51 0l53 1l55 4l59 5l63 11l68 18l62 34l41 54l19 66l8 67l0 65z" fill="#252525"/><path d="M2321 300l-8 58l-9 58l-11 58l-12 62l-15 66l-28 64l-52 43l-63 26l-63 19l-63 11l-63 5l-62 0l-61 -5l-61 -10l-59 -18l-54 -30l-44 -43l-35 -50l-25 -54l-18 -54l-12 -53l-11 -51l-13 -50l-16 -52l-15 -56l-14 -61l-7 -67l8 -68l37 -55l61 -32l65 -18l61 -11l58 -7l53 -5l52 -3l50 -2l51 0l52 1l54 4l59 6l62 12l65 19l56 37l36 55l16 64l5 65l-2 62z" fill="#292929"/><path d="M2295 300l-8 55l-9 54l-11 55l-11 57l-14 63l-29 57l-53 34l-59 22l-59 14l-58 8l-56 3l-56 1l-55 -4l-55 -8l-54 -16l-49 -25l-43 -36l-34 -44l-26 -48l-17 -50l-12 -49l-11 -48l-13 -46l-14 -49l-15 -52l-14 -58l-9 -64l3 -68l28 -57l56 -35l63 -19l60 -12l57 -7l53 -6l51 -2l50 -2l50 0l52 1l54 5l58 6l60 13l62 21l52 38l29 57l13 63l3 62l-3 59z" fill="#2e2e2e"/><path d="M2189 300l-6 41l-7 41l-8 41l-8 43l-11 47l-21 43l-40 25l-44 17l-44 10l-44 6l-42 3l-42 0l-41 -2l-42 -7l-40 -12l-37 -19l-32 -27l-26 -32l-19 -36l-13 -38l-9 -37l-8 -35l-9 -36l-11 -36l-11 -39l-11 -44l-7 -48l2 -50l21 -43l42 -27l48 -14l45 -9l42 -5l40 -4l38 -2l38 -2l38 1l38 1l41 3l43 4l46 10l46 16l39 29l22 42l9 48l2 46l-2 45z" fill="#323232"/><path d="M2084 300l-4 27l-5 27l-6 28l-5 29l-7 31l-15 28l-26 17l-29 12l-30 6l-29 4l-28 2l-28 0l-28 -1l-27 -5l-27 -7l-25 -13l-21 -18l-17 -22l-13 -24l-9 -25l-6 -24l-5 -24l-6 -24l-7 -24l-8 -26l-7 -29l-5 -32l2 -34l14 -29l28 -17l31 -10l31 -6l28 -3l26 -3l26 -1l25 -1l25 0l26 1l27 2l29 3l30 6l31 11l26 19l15 29l6 31l1 31l-1 30z" fill="#373737"/><path d="M1978 300l-2 14l-3 13l-2 14l-3 14l-4 16l-7 14l-13 9l-15 5l-14 4l-15 2l-14 1l-14 0l-14 -1l-14 -2l-13 -4l-12 -7l-11 -9l-9 -10l-6 -12l-4 -13l-3 -12l-3 -12l-3 -12l-4 -12l-3 -13l-4 -15l-2 -16l0 -16l7 -15l14 -9l16 -4l15 -3l14 -2l14 -1l12 -1l13 -1l13 1l12 0l14 1l14 1l16 4l15 5l13 10l7 14l3 16l1 15l-1 15z" fill="#3b3b3b"/></g>
<g style="mix-blend-mode:lighten"><path d="M2712 720l-18 74l-48 71l-87 65l-137 51l-186 29l-184 15l-159 9l-141 6l-126 5l-118 1l-110 1l-108 2l-108 -2l-110 -1l-118 -1l-126 -5l-141 -6l-159 -9l-184 -15l-186 -29l-137 -51l-87 -65l-48 -71l-18 -74l9 -74l38 -73l72 -69l119 -58l173 -36l186 -20l168 -12l154 -6l137 -6l128 -2l120 -1l118 -2l118 2l120 1l128 2l137 6l154 6l168 12l186 20l173 36l119 58l72 69l38 73z" fill="#0a0a0a"/><path d="M2588 720l-20 67l-55 64l-96 56l-147 39l-171 22l-161 11l-137 8l-120 4l-107 3l-100 1l-93 1l-91 2l-91 -2l-93 -1l-100 -1l-107 -3l-120 -4l-137 -8l-161 -11l-171 -22l-147 -39l-96 -56l-55 -64l-20 -67l14 -68l48 -64l87 -58l134 -45l163 -27l162 -14l143 -9l129 -5l114 -4l106 -1l100 -1l98 -2l98 2l100 1l106 1l114 4l129 5l143 9l162 14l163 27l134 45l87 58l48 64z" fill="#0e0e0e"/><path d="M2464 720l-22 61l-61 56l-107 46l-155 28l-157 15l-137 8l-115 5l-100 3l-88 2l-81 1l-77 0l-74 1l-74 -1l-77 0l-81 -1l-88 -2l-100 -3l-115 -5l-137 -8l-157 -15l-155 -28l-107 -46l-61 -56l-22 -61l19 -61l57 -57l102 -47l149 -30l153 -18l138 -9l118 -6l104 -3l92 -3l85 -1l80 0l77 -1l77 1l80 0l85 1l92 3l104 3l118 6l138 9l153 18l149 30l102 47l57 57z" fill="#131313"/><path d="M2340 720l-24 54l-67 49l-117 36l-164 17l-143 8l-114 4l-93 3l-78 2l-70 0l-63 1l-60 1l-57 0l-57 0l-60 -1l-63 -1l-70 0l-78 -2l-93 -3l-114 -4l-143 -8l-164 -17l-117 -36l-67 -49l-24 -54l24 -54l67 -49l117 -36l164 -17l143 -8l114 -4l93 -3l78 -2l70 0l63 -1l60 -1l57 0l57 0l60 1l63 1l70 0l78 2l93 3l114 4l143 8l164 17l117 36l67 49z" fill="#171717"/><path d="M2078 720l-18 41l-51 36l-88 28l-123 12l-107 6l-85 3l-70 2l-59 2l-52 0l-48 1l-44 0l-43 0l-43 0l-44 0l-48 -1l-52 0l-59 -2l-70 -2l-85 -3l-107 -6l-123 -12l-88 -28l-51 -36l-18 -41l18 -41l51 -36l88 -28l123 -12l107 -6l85 -3l70 -2l59 -2l52 0l48 -1l44 0l43 0l43 0l44 0l48 1l52 0l59 2l70 2l85 3l107 6l123 12l88 28l51 36z" fill="#1a1a1a"/><path d="M1815 720l-12 27l-34 24l-58 19l-82 8l-71 4l-58 2l-46 1l-39 1l-35 1l-32 0l-29 0l-29 1l-29 -1l-29 0l-32 0l-35 -1l-39 -1l-46 -1l-58 -2l-71 -4l-82 -8l-58 -19l-34 -24l-12 -27l12 -27l34 -24l58 -19l82 -8l71 -4l58 -2l46 -1l39 -1l35 -1l32 0l29 0l29 -1l29 1l29 0l32 0l35 1l39 1l46 1l58 2l71 4l82 8l58 19l34 24z" fill="#1c1c1c"/><path d="M1552 720l-5 14l-17 12l-30 9l-41 4l-35 2l-29 1l-23 1l-20 0l-17 0l-16 1l-15 0l-14 0l-14 0l-15 0l-16 -1l-17 0l-20 0l-23 -1l-29 -1l-35 -2l-41 -4l-30 -9l-17 -12l-5 -14l5 -14l17 -12l30 -9l41 -4l35 -2l29 -1l23 -1l20 0l17 0l16 -1l15 0l14 0l14 0l15 0l16 1l17 0l20 0l23 1l29 1l35 2l41 4l30 9l17 12z" fill="#1f1f1f"/></g>
<g style="mix-blend-mode:lighten"><path d="M1140 215l1 37l1 39l1 41l-1 46l-4 50l-15 50l-25 47l-34 43l-41 42l-47 37l-56 26l-60 15l-63 6l-64 -7l-63 -14l-65 -16l-67 -23l-61 -36l-48 -53l-33 -62l-22 -67l-20 -66l-24 -65l-23 -70l-18 -75l3 -77l49 -63l103 -25l91 -9l72 -4l59 0l48 0l42 1l37 2l34 1l33 2l32 2l33 3l34 2l37 4l42 5l47 6l55 10l48 26l5 51l-29 57l-19 44z" fill="#404040"/><path d="M1119 215l-1 34l0 35l0 38l0 42l-5 45l-12 47l-23 44l-30 40l-37 39l-44 36l-51 26l-56 17l-59 8l-60 -5l-59 -15l-60 -18l-60 -24l-56 -35l-47 -46l-37 -55l-24 -62l-19 -62l-22 -63l-21 -66l-15 -71l2 -73l39 -62l89 -30l86 -12l71 -4l58 -1l48 0l41 1l38 1l34 2l33 1l32 3l33 3l34 3l37 4l40 6l45 8l47 15l36 30l2 49l-24 51l-17 41z" fill="#4a4a4a"/><path d="M1098 215l-4 31l0 32l0 34l-1 37l-4 42l-10 43l-20 41l-28 37l-33 36l-40 34l-46 27l-52 18l-56 10l-56 -2l-55 -16l-55 -20l-53 -25l-51 -33l-46 -40l-41 -48l-25 -56l-18 -60l-20 -59l-18 -63l-13 -67l0 -69l30 -62l75 -34l82 -14l69 -5l57 -2l48 0l41 0l38 2l34 1l33 2l32 3l33 2l34 4l36 5l39 7l43 10l39 20l24 35l-1 47l-18 45l-15 38z" fill="#555555"/><path d="M1077 215l-6 28l-1 28l-1 31l-1 33l-3 37l-8 40l-17 37l-25 35l-30 34l-35 32l-42 27l-48 19l-52 13l-53 -1l-51 -16l-49 -22l-47 -26l-45 -32l-46 -34l-44 -40l-27 -51l-17 -56l-18 -57l-15 -59l-11 -63l-2 -65l21 -61l61 -39l77 -16l68 -6l56 -3l48 -1l41 0l37 2l35 2l33 1l32 3l33 3l34 5l35 5l39 8l40 12l32 25l11 40l-4 44l-13 40l-12 34z" fill="#606060"/><path d="M1074 215l-6 27l-2 28l-1 30l-1 33l-4 36l-8 38l-17 36l-24 33l-30 31l-35 28l-41 22l-45 16l-48 10l-50 -1l-48 -14l-47 -18l-47 -23l-44 -28l-45 -32l-41 -38l-29 -49l-19 -53l-15 -55l-12 -57l-9 -60l0 -62l12 -61l75 -29l76 -12l63 -4l51 -3l44 0l37 0l34 1l32 1l30 1l30 3l30 2l31 3l33 5l36 6l39 10l34 21l17 34l-1 41l-12 39l-12 34z" fill="#6a6a6a"/><path d="M1072 215l-7 27l-2 27l-1 29l-2 32l-4 35l-10 36l-16 35l-24 32l-29 29l-35 23l-39 18l-43 12l-45 7l-46 -1l-46 -11l-45 -15l-45 -19l-44 -25l-43 -30l-40 -37l-29 -45l-21 -51l-14 -53l-9 -55l-5 -57l0 -59l4 -61l89 -19l74 -7l59 -3l46 -2l40 0l34 -1l30 1l29 1l27 0l27 2l28 2l28 2l31 3l34 5l37 8l36 16l22 29l3 38l-11 39l-12 34z" fill="#757575"/><path d="M1069 215l-7 27l-3 26l-1 29l-2 31l-5 34l-10 34l-16 34l-23 30l-30 26l-34 19l-38 14l-40 8l-42 4l-42 -2l-43 -7l-43 -12l-44 -16l-44 -21l-42 -28l-37 -35l-31 -43l-22 -47l-12 -52l-6 -53l-2 -54l0 -56l-4 -61l103 -8l73 -4l54 -1l42 -1l35 -1l30 0l27 0l26 0l24 0l24 1l25 1l27 1l28 3l32 3l35 6l38 11l27 24l7 35l-10 38l-13 34z" fill="#808080"/><path d="M1063 215l-4 26l-2 27l-3 27l-4 30l-6 31l-12 31l-17 30l-23 27l-28 22l-32 17l-35 11l-37 6l-38 2l-38 -3l-38 -8l-38 -12l-38 -16l-37 -21l-37 -25l-34 -30l-32 -35l-30 -40l-25 -46l-17 -51l0 -53l12 -52l15 -50l89 -10l65 -4l49 -3l39 -1l33 0l28 -1l25 0l24 1l23 0l23 1l23 1l24 1l26 3l30 3l31 7l32 12l23 22l9 32l-4 33l-7 30z" fill="#8a8a8a"/><path d="M1058 215l-2 26l-2 26l-3 27l-6 28l-9 28l-12 29l-18 26l-23 23l-27 18l-30 14l-33 9l-33 4l-34 0l-34 -4l-34 -9l-32 -12l-32 -17l-31 -19l-30 -23l-31 -25l-34 -28l-39 -32l-37 -41l-28 -48l2 -52l24 -47l33 -41l75 -11l59 -5l44 -3l36 -1l30 -1l26 0l24 0l22 0l21 1l21 1l21 1l23 2l24 2l26 4l28 7l26 13l20 21l9 27l2 28l-1 28z" fill="#959595"/><path d="M1052 215l2 25l-2 26l-5 26l-8 26l-11 26l-13 26l-18 23l-23 19l-26 14l-29 11l-29 7l-30 2l-30 -2l-30 -5l-29 -10l-27 -12l-26 -17l-24 -19l-25 -20l-27 -20l-36 -21l-47 -24l-49 -35l-40 -46l4 -51l35 -43l52 -30l62 -13l51 -6l40 -3l33 -2l27 0l24 -1l22 0l20 1l20 0l19 1l20 2l20 2l22 3l24 4l24 7l21 14l16 19l10 23l7 24l5 24z" fill="#9f9f9f"/><path d="M1044 215l2 24l-1 26l-4 25l-7 26l-10 25l-13 25l-18 22l-23 18l-26 13l-27 9l-28 5l-29 1l-28 -3l-28 -6l-27 -10l-26 -12l-24 -15l-23 -17l-24 -18l-26 -19l-31 -21l-39 -24l-42 -32l-35 -42l-5 -47l28 -41l49 -28l56 -14l47 -7l38 -3l31 -2l26 -1l24 0l21 0l19 0l19 1l19 1l18 2l20 2l20 3l22 5l21 9l20 13l14 18l11 21l8 22l6 22z" fill="#aeaeae"/><path d="M1036 215l2 23l0 25l-3 25l-5 25l-10 25l-13 24l-18 21l-22 17l-26 11l-26 8l-28 3l-27 0l-27 -4l-25 -7l-25 -10l-24 -11l-23 -13l-23 -15l-22 -17l-24 -18l-27 -21l-32 -23l-33 -30l-32 -38l-14 -44l22 -39l46 -26l50 -14l43 -8l36 -3l29 -2l26 -1l22 -1l20 0l19 1l18 1l18 1l18 2l18 2l19 4l20 6l19 9l17 13l14 16l11 19l9 20l7 22z" fill="#bdbdbd"/><path d="M1028 215l3 22l0 24l-1 24l-5 25l-9 25l-13 23l-18 20l-22 16l-25 10l-26 6l-26 2l-26 -2l-25 -6l-24 -8l-22 -9l-22 -10l-22 -12l-22 -13l-22 -15l-22 -18l-23 -20l-24 -23l-25 -28l-27 -33l-23 -40l15 -37l43 -25l44 -14l39 -9l33 -4l29 -2l24 -1l21 0l20 0l18 0l17 1l17 2l17 2l18 3l17 4l18 7l17 9l15 13l13 15l11 17l10 18l8 20z" fill="#cccccc"/><path d="M1013 215l3 21l0 21l-3 21l-6 22l-10 20l-14 18l-17 16l-19 11l-22 8l-22 4l-22 1l-21 -3l-20 -5l-20 -6l-19 -8l-18 -8l-18 -10l-18 -10l-18 -12l-19 -15l-19 -16l-19 -20l-21 -22l-21 -28l-19 -33l9 -31l31 -23l35 -13l33 -8l29 -4l24 -3l21 -1l19 0l17 0l16 0l15 1l15 1l15 3l15 3l15 3l16 6l15 8l14 11l13 12l11 14l10 17l9 18z" fill="#d4d4d4"/><path d="M999 215l2 19l-1 19l-3 19l-8 18l-11 15l-15 13l-16 11l-17 7l-18 5l-18 2l-17 0l-17 -2l-16 -4l-15 -5l-15 -6l-14 -7l-14 -7l-15 -8l-14 -10l-15 -11l-16 -13l-15 -15l-16 -18l-16 -22l-13 -26l2 -25l18 -21l27 -13l27 -7l24 -4l20 -3l18 -1l16 -1l15 0l14 0l13 2l13 1l13 3l12 2l13 4l14 5l13 6l13 8l13 10l12 12l10 14l8 16z" fill="#dddddd"/><path d="M985 215l1 17l-2 16l-4 17l-9 14l-13 11l-15 8l-15 6l-14 4l-15 2l-14 0l-13 -1l-12 -3l-12 -3l-11 -4l-10 -4l-11 -4l-10 -6l-11 -5l-11 -7l-11 -8l-12 -9l-11 -12l-11 -13l-10 -16l-8 -18l-5 -21l6 -18l19 -12l20 -7l19 -4l17 -3l14 -1l14 -1l12 0l12 0l11 1l11 2l10 2l11 3l10 4l11 4l12 4l12 6l13 7l12 10l11 12l8 14z" fill="#e6e6e6"/><path d="M954 215l0 12l-1 13l-3 12l-7 11l-9 9l-11 6l-12 4l-11 3l-11 1l-10 0l-10 -1l-9 -2l-9 -2l-8 -3l-8 -3l-8 -3l-7 -4l-9 -4l-8 -5l-8 -6l-9 -7l-9 -9l-8 -10l-7 -12l-7 -14l-3 -15l5 -14l14 -9l15 -5l14 -3l12 -2l11 -1l11 -1l9 0l9 0l8 1l8 2l8 1l8 2l8 3l8 3l9 3l9 5l9 5l10 7l8 9l5 11z" fill="#eaeaea"/><path d="M922 215l1 8l-1 9l-2 8l-4 7l-7 6l-7 4l-8 3l-7 1l-7 1l-7 1l-7 -1l-6 -1l-6 -2l-5 -2l-6 -2l-5 -2l-5 -3l-5 -3l-6 -3l-6 -4l-5 -5l-6 -5l-5 -7l-5 -8l-5 -9l-2 -10l3 -10l9 -5l11 -4l9 -2l8 -1l8 -1l6 -1l7 0l5 0l6 1l5 1l6 1l5 2l5 1l6 2l5 3l6 3l7 3l6 5l6 6l3 7z" fill="#eeeeee"/><path d="M891 215l0 4l0 4l-1 4l-2 4l-3 3l-4 2l-4 1l-4 1l-3 1l-4 0l-3 -1l-3 0l-3 -1l-3 -1l-2 -1l-3 -1l-2 -1l-3 -2l-3 -1l-3 -2l-3 -3l-3 -3l-2 -3l-3 -4l-2 -5l-1 -5l2 -4l4 -3l5 -2l5 -1l4 -1l4 0l3 0l3 0l3 0l3 0l3 1l2 0l3 1l3 1l2 1l3 1l3 1l3 2l4 2l2 3l2 4z" fill="#f3f3f3"/></g>
<g style="mix-blend-mode:lighten"><path d="M2262 215l1 38l1 40l1 43l-1 47l-8 50l-18 48l-28 44l-36 40l-42 37l-48 32l-54 23l-58 13l-60 4l-61 -8l-60 -13l-63 -16l-63 -21l-60 -34l-47 -49l-35 -59l-23 -64l-19 -64l-24 -63l-25 -68l-19 -74l-1 -76l47 -62l100 -26l90 -10l72 -3l58 0l48 0l41 0l37 2l34 1l33 1l32 2l33 3l34 2l38 3l41 5l48 6l56 10l53 23l9 50l-28 58l-21 46z" fill="#3e3e3e"/><path d="M2241 215l-1 35l0 37l0 39l-1 43l-7 45l-17 44l-25 41l-33 37l-38 35l-43 31l-50 21l-54 14l-56 6l-57 -6l-56 -14l-57 -17l-58 -21l-55 -31l-46 -44l-37 -51l-26 -59l-18 -60l-22 -61l-22 -64l-17 -69l-2 -73l37 -62l87 -30l85 -12l70 -4l57 -2l48 0l41 1l37 1l34 1l33 2l32 2l33 2l34 3l37 4l41 5l46 8l49 14l40 29l5 49l-23 52l-18 43z" fill="#494949"/><path d="M2220 215l-4 32l0 33l0 36l-2 39l-7 41l-14 40l-23 37l-29 34l-34 33l-40 29l-46 21l-49 14l-52 7l-53 -4l-51 -15l-52 -17l-52 -21l-50 -29l-45 -38l-40 -44l-28 -53l-19 -57l-19 -57l-20 -61l-15 -65l-2 -68l27 -62l73 -35l80 -14l69 -5l56 -3l48 0l41 0l37 1l34 2l33 1l32 3l33 2l34 3l37 5l40 6l44 9l42 19l27 34l1 47l-17 47l-16 39z" fill="#535353"/><path d="M2199 215l-6 29l-2 30l0 32l-2 34l-6 37l-13 36l-20 34l-26 32l-30 30l-36 27l-41 20l-45 15l-48 9l-49 -3l-47 -15l-46 -17l-47 -21l-44 -28l-44 -32l-43 -37l-31 -47l-18 -53l-17 -55l-17 -57l-13 -61l-3 -64l16 -62l61 -38l75 -17l67 -6l55 -4l47 0l41 0l38 1l34 1l33 1l32 3l33 3l34 4l36 5l39 7l42 11l36 23l14 39l-3 45l-12 42l-13 36z" fill="#5e5e5e"/><path d="M2193 215l-6 28l-2 29l-1 31l-2 33l-7 35l-13 34l-20 32l-25 28l-30 27l-35 23l-38 19l-42 12l-45 8l-45 -3l-44 -12l-44 -16l-43 -19l-43 -25l-41 -30l-40 -35l-30 -44l-19 -50l-16 -51l-14 -54l-11 -57l-3 -60l4 -63l71 -30l74 -12l62 -5l51 -2l43 -1l38 0l34 0l31 1l30 1l30 2l30 3l31 2l34 5l37 5l39 10l36 19l18 35l0 41l-10 40l-13 35z" fill="#686868"/><path d="M2187 215l-7 27l-2 28l-1 30l-2 32l-7 33l-14 32l-20 29l-25 26l-29 23l-33 20l-36 16l-39 11l-41 5l-42 -2l-41 -10l-41 -14l-41 -18l-40 -22l-39 -27l-36 -34l-29 -40l-20 -46l-16 -48l-11 -51l-9 -53l-3 -57l-8 -63l81 -21l73 -8l58 -3l46 -2l39 -1l34 0l30 0l29 1l27 0l27 2l28 1l29 2l31 3l34 5l37 8l37 15l22 30l3 38l-10 39l-12 34z" fill="#737373"/><path d="M2181 215l-7 27l-3 26l-1 29l-3 31l-6 32l-15 29l-20 27l-25 23l-28 20l-31 16l-34 13l-36 9l-38 4l-38 -2l-38 -8l-38 -12l-39 -16l-38 -19l-36 -26l-33 -31l-27 -37l-22 -42l-14 -45l-9 -48l-6 -50l-4 -52l-19 -63l91 -13l71 -4l53 -2l42 -1l35 -1l30 0l27 0l26 0l24 0l24 1l25 1l27 1l28 2l32 3l36 6l36 12l26 25l7 35l-9 38l-12 33z" fill="#7d7d7d"/><path d="M2172 215l-5 26l-2 26l-3 27l-5 28l-8 29l-15 26l-20 23l-24 20l-26 17l-29 14l-30 11l-33 7l-34 2l-34 -3l-33 -8l-34 -12l-33 -14l-33 -18l-32 -22l-30 -27l-27 -32l-25 -36l-25 -39l-22 -45l-11 -49l8 -49l4 -52l80 -12l64 -5l48 -2l39 -1l32 0l27 -1l25 0l24 0l22 1l22 0l23 1l24 2l26 2l29 4l31 6l30 13l22 22l8 31l-3 32l-6 30z" fill="#878787"/><path d="M2163 215l-2 25l-3 25l-4 25l-7 26l-10 26l-15 23l-20 20l-22 17l-25 14l-26 12l-28 9l-29 4l-30 0l-29 -5l-29 -8l-29 -11l-28 -13l-28 -16l-28 -19l-27 -23l-26 -26l-29 -29l-35 -34l-35 -42l-16 -49l18 -45l28 -40l69 -13l57 -4l44 -2l34 -2l29 0l26 0l22 0l22 0l20 0l20 1l21 1l22 1l23 3l25 4l26 8l25 13l19 20l9 25l3 27l0 27z" fill="#929292"/><path d="M2154 215l0 24l-3 24l-5 24l-9 23l-12 23l-16 19l-19 17l-21 14l-23 12l-23 10l-25 7l-26 2l-26 -3l-25 -6l-24 -9l-24 -10l-23 -12l-23 -14l-23 -16l-24 -18l-27 -20l-32 -24l-45 -28l-48 -39l-21 -48l29 -42l52 -28l57 -13l50 -5l39 -2l31 -1l26 -1l23 0l20 0l20 0l18 0l18 1l19 1l19 2l21 3l22 4l21 9l19 13l15 18l10 21l9 22l6 22z" fill="#9c9c9c"/><path d="M2146 215l1 23l-1 24l-5 23l-8 23l-13 21l-16 18l-19 15l-21 12l-22 10l-23 7l-23 4l-24 0l-23 -5l-22 -6l-22 -8l-20 -10l-20 -11l-20 -13l-20 -14l-21 -16l-22 -18l-26 -21l-35 -25l-36 -33l-19 -40l16 -38l38 -26l48 -14l43 -5l35 -3l28 -2l23 -1l21 -1l19 0l18 -1l17 0l17 1l18 1l18 1l19 3l20 5l20 8l18 12l14 17l11 19l9 20l6 22z" fill="#ababab"/><path d="M2139 215l2 22l-1 23l-4 23l-8 22l-12 20l-17 17l-19 14l-21 10l-22 7l-22 4l-21 1l-22 -2l-20 -6l-20 -7l-18 -8l-17 -9l-17 -10l-17 -12l-17 -12l-17 -14l-18 -16l-20 -18l-24 -22l-25 -27l-16 -32l3 -33l24 -26l39 -13l35 -7l30 -4l25 -2l21 -2l19 -1l18 -1l16 -1l16 0l16 1l16 0l17 2l18 2l19 5l18 8l17 11l13 16l11 17l9 19l8 20z" fill="#b9b9b9"/><path d="M2131 215l3 21l0 22l-3 23l-7 22l-13 19l-17 15l-19 12l-21 8l-21 5l-21 1l-21 -1l-19 -5l-18 -7l-16 -8l-15 -8l-15 -9l-14 -9l-13 -10l-14 -10l-14 -12l-14 -14l-13 -16l-14 -18l-13 -21l-14 -25l-10 -28l10 -24l30 -14l29 -7l25 -5l21 -3l19 -3l17 -1l16 -2l15 0l15 -1l15 0l15 1l16 1l17 3l17 4l16 8l15 10l13 14l11 16l10 17l8 19z" fill="#c8c8c8"/><path d="M2091 215l3 16l0 17l-3 16l-5 17l-10 14l-12 12l-15 8l-16 6l-15 4l-16 1l-16 -1l-14 -4l-13 -5l-13 -6l-11 -6l-11 -6l-10 -7l-11 -7l-10 -8l-10 -9l-11 -11l-10 -12l-10 -13l-10 -16l-10 -18l-8 -22l8 -18l22 -10l22 -6l19 -3l16 -3l14 -2l13 -1l12 -1l11 0l11 -1l11 0l12 1l11 1l13 2l13 3l12 6l12 8l9 10l9 12l7 13l6 14z" fill="#d1d1d1"/><path d="M2052 215l1 11l0 11l-2 11l-3 11l-7 9l-8 8l-10 6l-10 4l-11 2l-10 1l-10 -1l-10 -2l-9 -3l-8 -4l-8 -5l-7 -4l-7 -4l-7 -5l-7 -6l-6 -6l-7 -7l-7 -7l-7 -9l-6 -11l-7 -12l-5 -14l5 -13l14 -6l15 -4l12 -3l11 -1l10 -1l8 -1l8 -1l8 0l7 0l7 0l8 0l8 1l8 1l9 2l8 4l8 5l6 7l6 8l5 9l4 9z" fill="#d9d9d9"/><path d="M2012 215l1 5l0 6l-1 5l-2 6l-3 5l-4 4l-5 2l-6 2l-5 2l-5 0l-5 0l-5 -2l-4 -1l-5 -2l-3 -2l-4 -2l-3 -3l-4 -2l-3 -3l-4 -3l-3 -3l-4 -4l-3 -5l-3 -5l-4 -6l-2 -7l2 -6l8 -4l7 -2l6 -1l6 -1l4 0l5 -1l4 0l3 0l4 0l4 0l4 0l3 0l5 1l4 1l4 2l4 3l3 3l3 4l2 4l2 5z" fill="#e2e2e2"/></g>
</g>
</g>
<g style="mix-blend-mode:multiply" filter="url(#mb01)"><rect x="-100" y="-100" width="2800" height="1300" fill="#fff"/><path d="M18.4 412 H352 L375 389 V43 H1090 V389 L1113 412 H1473 L1497 389 V43 H2211 V389 L2235 412 H2564.7 V1072.8 H18.4 Z" fill="none" stroke="#000" stroke-width="44"/></g>
</g></g>
</g>
<g transform="translate(1528.200 89.995) scale(0.380431)">
<path d="M18.4 412 H352 L375 389 V43 H1090 V389 L1113 412 H1473 L1497 389 V43 H2211 V389 L2235 412 H2564.7 V1072.8 H18.4 Z" fill="none" stroke="#000" stroke-width="5.5" stroke-linejoin="round"/>
<rect x="342" y="114" width="18" height="18" fill="#fff" stroke="#000" stroke-width="4.6" transform="rotate(8 351 123)"/>
<rect x="342.4" y="167.9" width="17.2" height="17.2" fill="#fff" stroke="#000" stroke-width="4.6" transform="rotate(17.2 351 176.5)"/>
<rect x="342.8" y="222.2" width="16.5" height="16.5" fill="#fff" stroke="#000" stroke-width="4.6" transform="rotate(26.5 351 230.4)"/>
<rect x="343.1" y="273.7" width="15.8" height="15.8" fill="#fff" stroke="#000" stroke-width="4.6" transform="rotate(35.8 351 281.6)"/>
<rect x="343.5" y="326.5" width="15" height="15" fill="#fff" stroke="#000" stroke-width="4.6" transform="rotate(45 351 334)"/>
<rect x="1105.5" y="87.3" width="18" height="18" fill="#fff" stroke="#000" stroke-width="4.6" transform="rotate(8 1114.5 96.3)"/>
<rect x="1105.8" y="141" width="17.4" height="17.4" fill="#fff" stroke="#000" stroke-width="4.6" transform="rotate(15.4 1114.5 149.7)"/>
<rect x="1106.1" y="193.4" width="16.8" height="16.8" fill="#fff" stroke="#000" stroke-width="4.6" transform="rotate(22.8 1114.5 201.8)"/>
<rect x="1106.4" y="246.5" width="16.2" height="16.2" fill="#fff" stroke="#000" stroke-width="4.6" transform="rotate(30.2 1114.5 254.6)"/>
<rect x="1106.7" y="299.9" width="15.6" height="15.6" fill="#fff" stroke="#000" stroke-width="4.6" transform="rotate(37.6 1114.5 307.7)"/>
<rect x="1107" y="353.1" width="15" height="15" fill="#fff" stroke="#000" stroke-width="4.6" transform="rotate(45 1114.5 360.6)"/>
<rect x="1463" y="114" width="18" height="18" fill="#fff" stroke="#000" stroke-width="4.6" transform="rotate(8 1472 123)"/>
<rect x="1463.4" y="167.9" width="17.2" height="17.2" fill="#fff" stroke="#000" stroke-width="4.6" transform="rotate(17.2 1472 176.5)"/>
<rect x="1463.8" y="222.2" width="16.5" height="16.5" fill="#fff" stroke="#000" stroke-width="4.6" transform="rotate(26.5 1472 230.4)"/>
<rect x="1464.1" y="273.7" width="15.8" height="15.8" fill="#fff" stroke="#000" stroke-width="4.6" transform="rotate(35.8 1472 281.6)"/>
<rect x="1464.5" y="326.5" width="15" height="15" fill="#fff" stroke="#000" stroke-width="4.6" transform="rotate(45 1472 334)"/>
<rect x="2226" y="87.3" width="18" height="18" fill="#fff" stroke="#000" stroke-width="4.6" transform="rotate(8 2235 96.3)"/>
<rect x="2226.3" y="141" width="17.4" height="17.4" fill="#fff" stroke="#000" stroke-width="4.6" transform="rotate(15.4 2235 149.7)"/>
<rect x="2226.6" y="193.4" width="16.8" height="16.8" fill="#fff" stroke="#000" stroke-width="4.6" transform="rotate(22.8 2235 201.8)"/>
<rect x="2226.9" y="246.5" width="16.2" height="16.2" fill="#fff" stroke="#000" stroke-width="4.6" transform="rotate(30.2 2235 254.6)"/>
<rect x="2227.2" y="299.9" width="15.6" height="15.6" fill="#fff" stroke="#000" stroke-width="4.6" transform="rotate(37.6 2235 307.7)"/>
<rect x="2227.5" y="353.1" width="15" height="15" fill="#fff" stroke="#000" stroke-width="4.6" transform="rotate(45 2235 360.6)"/>
</g>
<rect x="1535.2" y="96.5" width="968.7" height="401.6" fill="none" stroke="#000" stroke-width="4.6"/>
<line x1="1517.2" y1="96.5" x2="1535.2" y2="96.5" stroke="#000" stroke-width="4.5" stroke-linecap="round"/>
<line x1="1517.2" y1="133" x2="1535.2" y2="133" stroke="#000" stroke-width="4.5" stroke-linecap="round"/>
<line x1="1517.2" y1="169.5" x2="1535.2" y2="169.5" stroke="#000" stroke-width="4.5" stroke-linecap="round"/>
<line x1="1517.2" y1="206" x2="1535.2" y2="206" stroke="#000" stroke-width="4.5" stroke-linecap="round"/>
<line x1="1517.2" y1="242.5" x2="1535.2" y2="242.5" stroke="#000" stroke-width="4.5" stroke-linecap="round"/>
<line x1="1517.2" y1="279" x2="1535.2" y2="279" stroke="#000" stroke-width="4.5" stroke-linecap="round"/>
<line x1="1517.2" y1="315.6" x2="1535.2" y2="315.6" stroke="#000" stroke-width="4.5" stroke-linecap="round"/>
<line x1="1517.2" y1="352.1" x2="1535.2" y2="352.1" stroke="#000" stroke-width="4.5" stroke-linecap="round"/>
<line x1="1517.2" y1="388.6" x2="1535.2" y2="388.6" stroke="#000" stroke-width="4.5" stroke-linecap="round"/>
<line x1="1517.2" y1="425.1" x2="1535.2" y2="425.1" stroke="#000" stroke-width="4.5" stroke-linecap="round"/>
<line x1="1517.2" y1="461.6" x2="1535.2" y2="461.6" stroke="#000" stroke-width="4.5" stroke-linecap="round"/>
<line x1="1517.2" y1="498.1" x2="1535.2" y2="498.1" stroke="#000" stroke-width="4.5" stroke-linecap="round"/>
<line x1="1535.2" y1="498.1" x2="1535.2" y2="515.1" stroke="#000" stroke-width="4.5" stroke-linecap="round"/>
<text x="1535.2" y="581.1" font-size="62" text-anchor="middle" style="" textLength="31.5" lengthAdjust="spacingAndGlyphs" >0</text>
<line x1="1728.9" y1="498.1" x2="1728.9" y2="515.1" stroke="#000" stroke-width="4.5" stroke-linecap="round"/>
<text x="1728.9" y="581.1" font-size="62" text-anchor="middle" style="" textLength="94.5" lengthAdjust="spacingAndGlyphs" >200</text>
<line x1="1922.7" y1="498.1" x2="1922.7" y2="515.1" stroke="#000" stroke-width="4.5" stroke-linecap="round"/>
<text x="1922.7" y="581.1" font-size="62" text-anchor="middle" style="" textLength="94.5" lengthAdjust="spacingAndGlyphs" >400</text>
<line x1="2116.4" y1="498.1" x2="2116.4" y2="515.1" stroke="#000" stroke-width="4.5" stroke-linecap="round"/>
<text x="2116.4" y="581.1" font-size="62" text-anchor="middle" style="" textLength="94.5" lengthAdjust="spacingAndGlyphs" >600</text>
<line x1="2310.2" y1="498.1" x2="2310.2" y2="515.1" stroke="#000" stroke-width="4.5" stroke-linecap="round"/>
<text x="2310.2" y="581.1" font-size="62" text-anchor="middle" style="" textLength="94.5" lengthAdjust="spacingAndGlyphs" >800</text>
<line x1="2503.9" y1="498.1" x2="2503.9" y2="515.1" stroke="#000" stroke-width="4.5" stroke-linecap="round"/>
<text x="2503.9" y="581.1" font-size="62" text-anchor="middle" style="" textLength="126" lengthAdjust="spacingAndGlyphs" >1000</text>
<text x="1932.9" y="667.8" font-size="60" text-anchor="start" style="font-style:italic;" textLength="31" lengthAdjust="spacingAndGlyphs" >x</text>
<line x1="1994.6" y1="624.8" x2="1972.4" y2="681.4" stroke="#000" stroke-width="2.8" stroke-linecap="butt"/>
<text x="2004.3" y="667.8" font-size="60" text-anchor="start" style="" textLength="103" lengthAdjust="spacingAndGlyphs" >mm</text>
<text x="1564.2" y="171.5" font-size="66" text-anchor="start" style="" textLength="78" lengthAdjust="spacingAndGlyphs" >(b)</text>
<g transform="translate(2615.500 89.995) scale(0.380431)">
<g clip-path="url(#dom)"><g filter="url(#jet)">
<g filter="url(#fb02)">
<rect x="-100" y="-100" width="2800" height="1300" fill="url(#ne_base)"/>
<g style="mix-blend-mode:lighten">
<g style="mix-blend-mode:lighten"><path d="M1251 300l-8 65l-9 65l-12 66l-14 69l-16 74l-25 78l-50 61l-71 34l-72 28l-75 17l-75 7l-74 0l-73 -7l-72 -14l-70 -23l-63 -39l-48 -56l-35 -64l-25 -65l-17 -63l-13 -61l-12 -57l-15 -57l-17 -58l-16 -63l-14 -68l-3 -73l18 -70l54 -49l72 -26l70 -15l63 -10l58 -7l55 -5l52 -2l51 -3l51 0l54 1l55 3l60 6l65 10l71 15l66 32l47 53l23 67l10 70l2 68z" fill="#1b1b1b"/><path d="M1225 300l-8 62l-9 61l-11 62l-14 65l-15 71l-26 71l-52 52l-66 30l-68 23l-69 14l-69 6l-68 0l-67 -6l-67 -12l-64 -21l-58 -34l-47 -49l-35 -57l-24 -60l-18 -59l-12 -56l-12 -55l-14 -53l-16 -55l-16 -59l-14 -65l-5 -70l13 -69l45 -52l67 -29l68 -16l62 -11l57 -7l54 -5l52 -3l51 -2l51 0l53 1l55 4l59 5l63 11l68 18l62 34l41 54l19 66l8 67l0 65z" fill="#1f1f1f"/><path d="M1199 300l-8 58l-9 58l-11 58l-12 62l-15 66l-28 64l-52 43l-63 26l-63 19l-63 11l-63 5l-62 0l-61 -5l-61 -10l-59 -18l-54 -30l-44 -43l-35 -50l-25 -54l-18 -54l-12 -53l-11 -51l-13 -50l-16 -52l-15 -56l-14 -61l-7 -67l8 -68l37 -55l61 -32l65 -18l61 -11l58 -7l53 -5l52 -3l50 -2l51 0l52 1l54 4l59 6l62 12l65 19l56 37l36 55l16 64l5 65l-2 62z" fill="#232323"/><path d="M1173 300l-8 55l-9 54l-11 55l-11 57l-14 63l-29 57l-53 34l-59 22l-59 14l-58 8l-56 3l-56 1l-55 -4l-55 -8l-54 -16l-49 -25l-43 -36l-34 -44l-26 -48l-17 -50l-12 -49l-11 -48l-13 -46l-14 -49l-15 -52l-14 -58l-9 -64l3 -68l28 -57l56 -35l63 -19l60 -12l57 -7l53 -6l51 -2l50 -2l50 0l52 1l54 5l58 6l60 13l62 21l52 38l29 57l13 63l3 62l-3 59z" fill="#272727"/><path d="M1067 300l-6 41l-7 41l-8 41l-8 43l-11 47l-21 43l-40 25l-44 17l-44 10l-44 6l-42 3l-42 0l-41 -2l-42 -7l-40 -12l-37 -19l-32 -27l-26 -32l-19 -36l-13 -38l-9 -37l-8 -35l-9 -36l-11 -36l-11 -39l-11 -44l-7 -48l2 -50l21 -43l42 -27l48 -14l45 -9l42 -5l40 -4l38 -2l38 -2l38 1l38 1l41 3l43 4l46 10l46 16l39 29l22 42l9 48l2 46l-2 45z" fill="#2b2b2b"/><path d="M962 300l-4 27l-5 27l-6 28l-5 29l-7 31l-15 28l-26 17l-29 12l-30 6l-29 4l-28 2l-28 0l-28 -1l-27 -5l-27 -7l-25 -13l-21 -18l-17 -22l-13 -24l-9 -25l-6 -24l-5 -24l-6 -24l-7 -24l-8 -26l-7 -29l-5 -32l2 -34l14 -29l28 -17l31 -10l31 -6l28 -3l26 -3l26 -1l25 -1l25 0l26 1l27 2l29 3l30 6l31 11l26 19l15 29l6 31l1 31l-1 30z" fill="#303030"/><path d="M856 300l-2 14l-3 13l-2 14l-3 14l-4 16l-7 14l-13 9l-15 5l-14 4l-15 2l-14 1l-14 0l-14 -1l-14 -2l-13 -4l-12 -7l-11 -9l-9 -10l-6 -12l-4 -13l-3 -12l-3 -12l-3 -12l-4 -12l-3 -13l-4 -15l-2 -16l0 -16l7 -15l14 -9l16 -4l15 -3l14 -2l14 -1l12 -1l13 -1l13 1l12 0l14 1l14 1l16 4l15 5l13 10l7 14l3 16l1 15l-1 15z" fill="#343434"/></g>
<g style="mix-blend-mode:lighten"><path d="M2373 300l-8 65l-9 65l-12 66l-14 69l-16 74l-25 78l-50 61l-71 34l-72 28l-75 17l-75 7l-74 0l-73 -7l-72 -14l-70 -23l-63 -39l-48 -56l-35 -64l-25 -65l-17 -63l-13 -61l-12 -57l-15 -57l-17 -58l-16 -63l-14 -68l-3 -73l18 -70l54 -49l72 -26l70 -15l63 -10l58 -7l55 -5l52 -2l51 -3l51 0l54 1l55 3l60 6l65 10l71 15l66 32l47 53l23 67l10 70l2 68z" fill="#1d1d1d"/><path d="M2347 300l-8 62l-9 61l-11 62l-14 65l-15 71l-26 71l-52 52l-66 30l-68 23l-69 14l-69 6l-68 0l-67 -6l-67 -12l-64 -21l-58 -34l-47 -49l-35 -57l-24 -60l-18 -59l-12 -56l-12 -55l-14 -53l-16 -55l-16 -59l-14 -65l-5 -70l13 -69l45 -52l67 -29l68 -16l62 -11l57 -7l54 -5l52 -3l51 -2l51 0l53 1l55 4l59 5l63 11l68 18l62 34l41 54l19 66l8 67l0 65z" fill="#212121"/><path d="M2321 300l-8 58l-9 58l-11 58l-12 62l-15 66l-28 64l-52 43l-63 26l-63 19l-63 11l-63 5l-62 0l-61 -5l-61 -10l-59 -18l-54 -30l-44 -43l-35 -50l-25 -54l-18 -54l-12 -53l-11 -51l-13 -50l-16 -52l-15 -56l-14 -61l-7 -67l8 -68l37 -55l61 -32l65 -18l61 -11l58 -7l53 -5l52 -3l50 -2l51 0l52 1l54 4l59 6l62 12l65 19l56 37l36 55l16 64l5 65l-2 62z" fill="#252525"/><path d="M2295 300l-8 55l-9 54l-11 55l-11 57l-14 63l-29 57l-53 34l-59 22l-59 14l-58 8l-56 3l-56 1l-55 -4l-55 -8l-54 -16l-49 -25l-43 -36l-34 -44l-26 -48l-17 -50l-12 -49l-11 -48l-13 -46l-14 -49l-15 -52l-14 -58l-9 -64l3 -68l28 -57l56 -35l63 -19l60 -12l57 -7l53 -6l51 -2l50 -2l50 0l52 1l54 5l58 6l60 13l62 21l52 38l29 57l13 63l3 62l-3 59z" fill="#292929"/><path d="M2189 300l-6 41l-7 41l-8 41l-8 43l-11 47l-21 43l-40 25l-44 17l-44 10l-44 6l-42 3l-42 0l-41 -2l-42 -7l-40 -12l-37 -19l-32 -27l-26 -32l-19 -36l-13 -38l-9 -37l-8 -35l-9 -36l-11 -36l-11 -39l-11 -44l-7 -48l2 -50l21 -43l42 -27l48 -14l45 -9l42 -5l40 -4l38 -2l38 -2l38 1l38 1l41 3l43 4l46 10l46 16l39 29l22 42l9 48l2 46l-2 45z" fill="#2d2d2d"/><path d="M2084 300l-4 27l-5 27l-6 28l-5 29l-7 31l-15 28l-26 17l-29 12l-30 6l-29 4l-28 2l-28 0l-28 -1l-27 -5l-27 -7l-25 -13l-21 -18l-17 -22l-13 -24l-9 -25l-6 -24l-5 -24l-6 -24l-7 -24l-8 -26l-7 -29l-5 -32l2 -34l14 -29l28 -17l31 -10l31 -6l28 -3l26 -3l26 -1l25 -1l25 0l26 1l27 2l29 3l30 6l31 11l26 19l15 29l6 31l1 31l-1 30z" fill="#313131"/><path d="M1978 300l-2 14l-3 13l-2 14l-3 14l-4 16l-7 14l-13 9l-15 5l-14 4l-15 2l-14 1l-14 0l-14 -1l-14 -2l-13 -4l-12 -7l-11 -9l-9 -10l-6 -12l-4 -13l-3 -12l-3 -12l-3 -12l-4 -12l-3 -13l-4 -15l-2 -16l0 -16l7 -15l14 -9l16 -4l15 -3l14 -2l14 -1l12 -1l13 -1l13 1l12 0l14 1l14 1l16 4l15 5l13 10l7 14l3 16l1 15l-1 15z" fill="#343434"/></g>
<g style="mix-blend-mode:lighten"><path d="M2712 720l-18 74l-48 71l-87 65l-137 51l-186 29l-184 15l-159 9l-141 6l-126 5l-118 1l-110 1l-108 2l-108 -2l-110 -1l-118 -1l-126 -5l-141 -6l-159 -9l-184 -15l-186 -29l-137 -51l-87 -65l-48 -71l-18 -74l9 -74l38 -73l72 -69l119 -58l173 -36l186 -20l168 -12l154 -6l137 -6l128 -2l120 -1l118 -2l118 2l120 1l128 2l137 6l154 6l168 12l186 20l173 36l119 58l72 69l38 73z" fill="#0a0a0a"/><path d="M2588 720l-20 67l-55 64l-96 56l-147 39l-171 22l-161 11l-137 8l-120 4l-107 3l-100 1l-93 1l-91 2l-91 -2l-93 -1l-100 -1l-107 -3l-120 -4l-137 -8l-161 -11l-171 -22l-147 -39l-96 -56l-55 -64l-20 -67l14 -68l48 -64l87 -58l134 -45l163 -27l162 -14l143 -9l129 -5l114 -4l106 -1l100 -1l98 -2l98 2l100 1l106 1l114 4l129 5l143 9l162 14l163 27l134 45l87 58l48 64z" fill="#0c0c0c"/><path d="M2464 720l-22 61l-61 56l-107 46l-155 28l-157 15l-137 8l-115 5l-100 3l-88 2l-81 1l-77 0l-74 1l-74 -1l-77 0l-81 -1l-88 -2l-100 -3l-115 -5l-137 -8l-157 -15l-155 -28l-107 -46l-61 -56l-22 -61l19 -61l57 -57l102 -47l149 -30l153 -18l138 -9l118 -6l104 -3l92 -3l85 -1l80 0l77 -1l77 1l80 0l85 1l92 3l104 3l118 6l138 9l153 18l149 30l102 47l57 57z" fill="#0e0e0e"/><path d="M2340 720l-24 54l-67 49l-117 36l-164 17l-143 8l-114 4l-93 3l-78 2l-70 0l-63 1l-60 1l-57 0l-57 0l-60 -1l-63 -1l-70 0l-78 -2l-93 -3l-114 -4l-143 -8l-164 -17l-117 -36l-67 -49l-24 -54l24 -54l67 -49l117 -36l164 -17l143 -8l114 -4l93 -3l78 -2l70 0l63 -1l60 -1l57 0l57 0l60 1l63 1l70 0l78 2l93 3l114 4l143 8l164 17l117 36l67 49z" fill="#0f0f0f"/><path d="M2078 720l-18 41l-51 36l-88 28l-123 12l-107 6l-85 3l-70 2l-59 2l-52 0l-48 1l-44 0l-43 0l-43 0l-44 0l-48 -1l-52 0l-59 -2l-70 -2l-85 -3l-107 -6l-123 -12l-88 -28l-51 -36l-18 -41l18 -41l51 -36l88 -28l123 -12l107 -6l85 -3l70 -2l59 -2l52 0l48 -1l44 0l43 0l43 0l44 0l48 1l52 0l59 2l70 2l85 3l107 6l123 12l88 28l51 36z" fill="#121212"/><path d="M1815 720l-12 27l-34 24l-58 19l-82 8l-71 4l-58 2l-46 1l-39 1l-35 1l-32 0l-29 0l-29 1l-29 -1l-29 0l-32 0l-35 -1l-39 -1l-46 -1l-58 -2l-71 -4l-82 -8l-58 -19l-34 -24l-12 -27l12 -27l34 -24l58 -19l82 -8l71 -4l58 -2l46 -1l39 -1l35 -1l32 0l29 0l29 -1l29 1l29 0l32 0l35 1l39 1l46 1l58 2l71 4l82 8l58 19l34 24z" fill="#141414"/><path d="M1552 720l-5 14l-17 12l-30 9l-41 4l-35 2l-29 1l-23 1l-20 0l-17 0l-16 1l-15 0l-14 0l-14 0l-15 0l-16 -1l-17 0l-20 0l-23 -1l-29 -1l-35 -2l-41 -4l-30 -9l-17 -12l-5 -14l5 -14l17 -12l30 -9l41 -4l35 -2l29 -1l23 -1l20 0l17 0l16 -1l15 0l14 0l14 0l15 0l16 1l17 0l20 0l23 1l29 1l35 2l41 4l30 9l17 12z" fill="#171717"/></g>
<g style="mix-blend-mode:lighten"><path d="M1140 205l1 38l1 40l1 43l-5 45l-15 43l-27 37l-32 32l-37 29l-39 25l-44 19l-46 11l-48 8l-49 4l-51 -1l-51 -8l-53 -11l-57 -13l-60 -20l-56 -32l-47 -44l-33 -56l-22 -61l-24 -62l-30 -66l-24 -73l-2 -77l58 -57l106 -21l89 -7l68 -3l55 0l46 0l39 0l35 1l32 1l31 1l31 2l31 2l33 2l36 3l40 4l46 5l54 9l57 18l21 45l-24 58l-25 48z" fill="#404040"/><path d="M1126 205l-3 36l-2 37l-2 38l-5 41l-14 40l-24 34l-30 29l-35 25l-37 20l-39 15l-42 10l-43 6l-44 4l-45 -2l-46 -7l-48 -9l-51 -12l-54 -17l-53 -27l-46 -37l-38 -48l-27 -55l-23 -58l-27 -63l-22 -69l-5 -73l46 -58l94 -24l85 -9l67 -4l54 -1l45 -1l39 0l35 1l33 1l31 1l31 2l31 2l33 2l36 4l39 4l44 8l48 13l45 24l16 43l-18 52l-19 44z" fill="#4a4a4a"/><path d="M1112 205l-6 34l-6 33l-5 34l-6 37l-12 36l-21 32l-28 26l-32 20l-35 16l-36 12l-37 8l-38 5l-39 2l-40 -2l-40 -5l-43 -8l-45 -11l-48 -14l-49 -22l-47 -30l-43 -40l-30 -49l-22 -55l-24 -59l-22 -65l-6 -69l33 -59l82 -28l81 -11l65 -5l54 -2l45 -1l39 0l35 1l33 1l31 0l31 2l32 3l33 2l35 5l39 5l41 10l42 17l32 29l11 42l-11 47l-14 40z" fill="#555555"/><path d="M1098 205l-10 31l-9 30l-8 30l-7 33l-10 33l-18 29l-26 23l-30 16l-32 12l-32 8l-33 6l-33 3l-34 1l-34 -1l-35 -5l-37 -6l-39 -9l-43 -12l-45 -17l-48 -23l-48 -32l-34 -44l-21 -51l-21 -55l-20 -60l-9 -65l21 -60l70 -33l77 -12l64 -6l53 -3l44 -1l39 -1l36 0l32 1l32 1l31 2l32 2l33 3l35 5l38 7l39 12l35 21l21 35l6 40l-5 41l-8 37z" fill="#606060"/><path d="M1081 205l-7 29l-9 29l-9 27l-9 29l-11 28l-18 26l-24 19l-28 15l-28 10l-29 8l-29 5l-30 3l-30 0l-31 -1l-31 -4l-34 -6l-35 -8l-38 -10l-41 -15l-43 -21l-44 -28l-36 -38l-26 -46l-24 -51l-20 -57l0 -59l35 -49l68 -26l68 -10l56 -5l46 -2l39 -1l34 -1l31 1l29 0l27 1l27 2l28 2l28 3l30 6l32 6l33 11l29 19l20 28l9 33l2 34l-2 33z" fill="#6a6a6a"/><path d="M1065 205l-5 28l-9 26l-10 25l-11 25l-13 24l-18 21l-22 17l-24 12l-25 10l-26 6l-26 5l-26 2l-27 1l-27 -2l-28 -3l-29 -5l-31 -7l-33 -10l-37 -12l-39 -18l-40 -24l-37 -33l-32 -41l-28 -47l-20 -54l11 -52l47 -39l67 -19l60 -7l48 -4l39 -2l33 -1l29 0l26 0l25 0l23 1l23 2l23 2l24 4l25 5l26 7l26 10l24 16l18 22l13 25l9 27l4 29z" fill="#757575"/><path d="M1048 205l-3 26l-7 24l-11 23l-14 21l-15 19l-18 17l-19 14l-21 11l-22 8l-23 6l-22 3l-23 3l-23 0l-24 -1l-24 -3l-25 -4l-27 -6l-29 -9l-32 -11l-35 -15l-37 -20l-38 -27l-37 -35l-31 -44l-20 -50l20 -47l61 -28l64 -12l52 -5l40 -3l33 -1l27 -1l24 0l22 0l20 1l19 1l19 1l19 2l19 4l20 5l19 7l20 10l18 13l18 15l16 18l16 21l11 23z" fill="#808080"/><path d="M1029 205l-3 23l-7 22l-11 20l-14 18l-15 16l-17 13l-18 11l-18 8l-19 6l-19 4l-19 2l-19 2l-19 0l-19 -1l-20 -3l-21 -4l-23 -5l-24 -6l-27 -9l-29 -12l-32 -16l-34 -23l-32 -29l-28 -37l-17 -43l21 -39l53 -22l53 -10l42 -5l34 -3l27 -1l23 -1l21 0l18 0l17 0l16 1l16 1l16 2l17 2l17 4l17 6l18 7l17 11l17 12l16 16l14 18l11 21z" fill="#888888"/><path d="M1010 205l-3 21l-7 19l-11 18l-13 15l-16 12l-16 9l-16 7l-16 6l-16 3l-16 3l-15 1l-15 1l-15 -1l-15 -1l-16 -2l-16 -3l-18 -4l-19 -5l-22 -6l-24 -9l-27 -13l-30 -17l-28 -24l-24 -30l-14 -35l21 -31l45 -18l42 -8l34 -5l27 -2l22 -1l19 -1l16 0l15 0l14 0l13 0l13 1l13 1l14 2l14 3l15 3l16 6l16 7l16 10l16 13l14 16l10 18z" fill="#909090"/><path d="M991 205l-3 18l-7 17l-10 15l-14 12l-16 8l-15 6l-15 4l-13 3l-13 1l-12 1l-12 0l-11 0l-11 -1l-11 -1l-12 -2l-12 -2l-12 -3l-15 -3l-16 -5l-19 -5l-23 -9l-24 -12l-24 -18l-21 -24l-11 -28l22 -23l36 -12l32 -7l24 -4l21 -2l16 -2l15 0l12 -1l12 0l11 1l10 0l10 0l11 1l11 1l11 1l13 2l14 3l15 5l15 7l16 10l13 13l10 17z" fill="#999999"/><path d="M956 205l-2 14l-6 12l-7 11l-11 9l-11 7l-12 4l-11 3l-10 2l-10 1l-9 1l-9 0l-8 0l-8 -1l-9 -1l-8 -1l-9 -2l-10 -2l-11 -2l-12 -4l-14 -4l-17 -6l-18 -10l-18 -13l-16 -18l-9 -21l17 -17l27 -9l24 -6l19 -3l15 -1l12 -1l11 -1l10 0l8 0l8 0l8 0l8 1l7 0l9 1l8 1l10 1l10 2l12 4l11 6l12 7l10 10l7 12z" fill="#9c9c9c"/><path d="M921 205l-2 9l-3 9l-6 7l-6 6l-8 4l-8 3l-7 2l-7 1l-7 1l-6 0l-5 1l-6 0l-6 -1l-5 -1l-6 -1l-6 -1l-6 -1l-7 -2l-9 -2l-9 -3l-11 -4l-13 -6l-12 -9l-10 -12l-6 -14l11 -11l19 -7l15 -3l13 -2l10 -1l8 -1l7 0l7 0l5 0l6 0l5 0l5 0l5 0l6 1l6 1l6 1l7 1l7 2l8 4l8 5l6 7l5 8z" fill="#9f9f9f"/><path d="M885 205l0 5l-2 4l-3 3l-3 3l-4 3l-4 1l-4 1l-3 1l-3 0l-3 0l-3 0l-3 0l-3 0l-3 0l-2 -1l-3 0l-4 -1l-3 -1l-4 -1l-5 -1l-6 -2l-6 -4l-6 -4l-5 -6l-3 -7l6 -6l9 -3l8 -2l6 -1l5 0l4 0l4 -1l3 0l3 0l2 0l3 0l3 1l2 0l3 0l3 0l3 1l4 1l3 1l4 2l4 2l3 3l3 4z" fill="#a3a3a3"/></g>
<g style="mix-blend-mode:lighten"><path d="M2260 215l1 40l1 41l1 45l-2 48l-8 51l-21 47l-31 42l-38 37l-43 34l-49 29l-54 20l-57 12l-59 2l-59 -8l-59 -12l-63 -13l-64 -19l-59 -33l-45 -50l-33 -58l-22 -63l-18 -63l-24 -62l-25 -67l-19 -72l-2 -76l45 -62l95 -27l89 -10l72 -3l57 -2l48 1l41 0l37 1l34 1l33 2l32 1l33 3l35 2l37 3l42 5l49 5l56 10l57 21l15 50l-28 59l-23 48z" fill="#404040"/><path d="M2247 215l-3 37l-2 39l-3 40l-3 43l-10 45l-20 42l-29 37l-35 32l-39 29l-44 24l-48 17l-51 10l-52 2l-53 -6l-53 -10l-55 -12l-57 -18l-53 -28l-45 -41l-36 -49l-27 -54l-21 -58l-22 -59l-23 -62l-18 -68l-5 -71l35 -62l82 -31l85 -12l69 -5l56 -2l48 -1l41 0l37 1l34 1l33 1l33 2l33 2l34 3l37 4l42 5l46 8l49 15l45 26l12 47l-20 54l-18 44z" fill="#4a4a4a"/><path d="M2233 215l-6 35l-6 35l-5 36l-6 38l-11 40l-18 37l-27 32l-32 27l-36 23l-40 19l-42 13l-44 9l-46 2l-46 -4l-46 -8l-48 -11l-50 -16l-48 -23l-44 -33l-39 -39l-32 -47l-23 -52l-20 -55l-21 -58l-19 -63l-7 -68l24 -61l71 -36l79 -14l67 -6l55 -3l48 -1l40 -1l37 1l35 1l33 1l33 2l33 2l35 3l37 5l40 6l44 10l42 19l33 32l9 44l-12 48l-13 42z" fill="#555555"/><path d="M2220 215l-10 33l-9 32l-9 31l-8 34l-11 33l-18 32l-25 27l-29 22l-33 18l-34 14l-36 9l-38 7l-39 3l-40 -2l-40 -6l-41 -11l-41 -13l-43 -19l-43 -24l-43 -30l-37 -38l-26 -47l-18 -51l-19 -54l-19 -59l-9 -64l14 -61l58 -39l75 -16l65 -7l54 -5l46 -1l41 -1l37 0l35 0l33 1l33 2l33 3l35 3l37 6l40 6l41 13l35 24l21 36l5 43l-3 42l-8 39z" fill="#606060"/><path d="M2207 215l-6 32l-8 30l-9 31l-10 30l-14 30l-19 28l-24 24l-28 19l-30 16l-32 12l-33 8l-34 5l-35 1l-35 -4l-35 -8l-36 -10l-36 -14l-36 -17l-38 -21l-38 -25l-35 -33l-28 -40l-23 -45l-26 -49l-18 -55l0 -57l23 -52l57 -32l66 -13l57 -7l48 -3l41 -1l36 0l32 0l30 1l29 2l28 2l29 3l29 4l31 5l33 7l35 11l31 19l22 29l11 34l4 35l-2 35z" fill="#6a6a6a"/><path d="M2194 215l-3 30l-6 30l-9 29l-13 28l-16 26l-20 24l-23 20l-26 17l-28 14l-29 10l-30 7l-31 3l-31 -2l-31 -5l-30 -9l-30 -11l-30 -13l-30 -16l-32 -18l-33 -21l-33 -27l-31 -33l-29 -38l-31 -45l-19 -51l11 -51l32 -42l54 -25l58 -11l50 -5l41 -2l36 -1l30 0l28 1l26 2l24 2l24 3l23 4l24 4l25 5l27 7l28 9l27 15l22 20l18 26l11 29l5 30z" fill="#757575"/><path d="M2181 215l0 29l-5 29l-9 28l-14 25l-19 22l-21 20l-23 17l-24 14l-25 12l-26 8l-27 6l-28 0l-27 -3l-26 -8l-25 -10l-25 -11l-24 -13l-24 -14l-27 -15l-28 -17l-30 -21l-34 -26l-35 -32l-36 -40l-20 -48l21 -43l41 -33l52 -19l50 -8l43 -3l35 -1l29 -1l26 1l23 2l21 2l20 3l19 3l19 4l18 5l20 5l20 6l21 8l23 10l23 13l24 17l18 22l11 27z" fill="#808080"/><path d="M2158 215l0 26l-4 26l-9 25l-13 22l-16 21l-19 17l-20 15l-22 12l-23 10l-24 7l-24 4l-24 1l-24 -3l-23 -7l-23 -8l-22 -9l-22 -11l-22 -12l-24 -13l-25 -16l-27 -19l-28 -24l-30 -28l-32 -36l-18 -42l16 -39l37 -29l47 -17l44 -8l38 -3l31 -1l26 -1l23 1l21 1l19 2l18 3l17 3l17 3l17 4l17 5l18 6l19 7l20 9l22 11l21 15l17 21l9 23z" fill="#8a8a8a"/><path d="M2135 215l0 23l-4 23l-8 22l-11 20l-14 18l-17 15l-18 13l-20 10l-20 8l-21 5l-21 3l-21 1l-21 -3l-20 -4l-20 -7l-20 -7l-20 -9l-20 -10l-21 -12l-22 -14l-23 -18l-24 -21l-25 -25l-26 -31l-18 -37l12 -35l34 -25l41 -15l38 -7l33 -3l27 -1l24 -1l20 1l18 1l17 1l16 3l15 2l15 4l15 3l15 5l16 5l17 6l18 8l19 10l20 13l14 18l8 21z" fill="#959595"/><path d="M2113 215l-1 20l-4 20l-7 18l-9 18l-12 16l-14 14l-17 10l-17 8l-18 6l-18 3l-18 2l-18 1l-18 -2l-17 -3l-17 -4l-18 -6l-18 -7l-18 -8l-18 -11l-19 -12l-19 -16l-19 -18l-21 -22l-20 -27l-17 -31l7 -31l31 -21l35 -13l32 -7l28 -3l24 -1l20 -1l17 0l16 1l15 2l14 2l13 2l13 3l13 3l14 4l13 4l15 6l16 7l17 8l17 12l13 16l7 18z" fill="#9f9f9f"/><path d="M2075 215l-1 15l-3 15l-5 14l-7 13l-9 12l-11 10l-12 8l-13 6l-14 4l-13 3l-14 2l-13 0l-13 -2l-13 -2l-13 -3l-13 -4l-14 -5l-13 -7l-14 -7l-14 -10l-14 -12l-15 -14l-15 -16l-16 -20l-12 -24l5 -23l23 -15l26 -10l25 -5l21 -2l17 -2l15 0l14 0l12 1l11 1l10 1l10 2l10 2l9 3l10 3l11 3l11 4l12 5l12 7l13 8l10 12l5 14z" fill="#a8a8a8"/><path d="M2036 215l0 10l-2 10l-4 9l-4 9l-6 8l-7 7l-8 5l-9 4l-9 3l-9 2l-9 1l-9 0l-9 -1l-9 -2l-8 -2l-9 -2l-9 -4l-9 -4l-9 -5l-10 -7l-9 -8l-10 -9l-10 -11l-10 -13l-8 -16l3 -15l15 -11l18 -6l16 -3l14 -2l12 -1l10 0l9 0l8 1l7 0l7 1l7 2l6 1l7 2l6 1l7 3l8 2l8 4l8 4l8 6l7 8l3 9z" fill="#b1b1b1"/><path d="M1998 215l0 5l-1 5l-2 5l-2 4l-3 4l-4 3l-4 3l-4 2l-5 1l-4 1l-5 1l-4 0l-4 -1l-5 0l-4 -1l-4 -2l-5 -1l-4 -3l-5 -2l-5 -3l-4 -4l-5 -5l-5 -5l-6 -7l-4 -8l2 -8l8 -5l8 -3l9 -2l7 0l5 -1l5 0l5 0l4 0l4 1l3 0l3 1l4 0l3 1l3 1l4 1l3 2l4 1l4 3l5 2l3 4l2 5z" fill="#b9b9b9"/></g>
</g>
</g>
<g style="mix-blend-mode:multiply" filter="url(#mb02)"><rect x="-100" y="-100" width="2800" height="1300" fill="#fff"/><path d="M18.4 412 H352 L375 389 V43 H1090 V389 L1113 412 H1473 L1497 389 V43 H2211 V389 L2235 412 H2564.7 V1072.8 H18.4 Z" fill="none" stroke="#000" stroke-width="44"/><rect x="1280" y="400" width="27" height="525" fill="#000"/></g>
</g></g>
</g>
<g transform="translate(2615.500 89.995) scale(0.380431)">
<path d="M18.4 412 H352 L375 389 V43 H1090 V389 L1113 412 H1473 L1497 389 V43 H2211 V389 L2235 412 H2564.7 V1072.8 H18.4 Z" fill="none" stroke="#000" stroke-width="5.5" stroke-linejoin="round"/>
<rect x="1288.5" y="414" width="10" height="497" fill="#fff" stroke="#000" stroke-width="5"/>
<rect x="342" y="114" width="18" height="18" fill="#fff" stroke="#000" stroke-width="4.6" transform="rotate(8 351 123)"/>
<rect x="342.4" y="167.9" width="17.2" height="17.2" fill="#fff" stroke="#000" stroke-width="4.6" transform="rotate(17.2 351 176.5)"/>
<rect x="342.8" y="222.2" width="16.5" height="16.5" fill="#fff" stroke="#000" stroke-width="4.6" transform="rotate(26.5 351 230.4)"/>
<rect x="343.1" y="273.7" width="15.8" height="15.8" fill="#fff" stroke="#000" stroke-width="4.6" transform="rotate(35.8 351 281.6)"/>
<rect x="343.5" y="326.5" width="15" height="15" fill="#fff" stroke="#000" stroke-width="4.6" transform="rotate(45 351 334)"/>
<rect x="1105.5" y="87.3" width="18" height="18" fill="#fff" stroke="#000" stroke-width="4.6" transform="rotate(8 1114.5 96.3)"/>
<rect x="1105.8" y="141" width="17.4" height="17.4" fill="#fff" stroke="#000" stroke-width="4.6" transform="rotate(15.4 1114.5 149.7)"/>
<rect x="1106.1" y="193.4" width="16.8" height="16.8" fill="#fff" stroke="#000" stroke-width="4.6" transform="rotate(22.8 1114.5 201.8)"/>
<rect x="1106.4" y="246.5" width="16.2" height="16.2" fill="#fff" stroke="#000" stroke-width="4.6" transform="rotate(30.2 1114.5 254.6)"/>
<rect x="1106.7" y="299.9" width="15.6" height="15.6" fill="#fff" stroke="#000" stroke-width="4.6" transform="rotate(37.6 1114.5 307.7)"/>
<rect x="1107" y="353.1" width="15" height="15" fill="#fff" stroke="#000" stroke-width="4.6" transform="rotate(45 1114.5 360.6)"/>
<rect x="1463" y="114" width="18" height="18" fill="#fff" stroke="#000" stroke-width="4.6" transform="rotate(8 1472 123)"/>
<rect x="1463.4" y="167.9" width="17.2" height="17.2" fill="#fff" stroke="#000" stroke-width="4.6" transform="rotate(17.2 1472 176.5)"/>
<rect x="1463.8" y="222.2" width="16.5" height="16.5" fill="#fff" stroke="#000" stroke-width="4.6" transform="rotate(26.5 1472 230.4)"/>
<rect x="1464.1" y="273.7" width="15.8" height="15.8" fill="#fff" stroke="#000" stroke-width="4.6" transform="rotate(35.8 1472 281.6)"/>
<rect x="1464.5" y="326.5" width="15" height="15" fill="#fff" stroke="#000" stroke-width="4.6" transform="rotate(45 1472 334)"/>
<rect x="2226" y="87.3" width="18" height="18" fill="#fff" stroke="#000" stroke-width="4.6" transform="rotate(8 2235 96.3)"/>
<rect x="2226.3" y="141" width="17.4" height="17.4" fill="#fff" stroke="#000" stroke-width="4.6" transform="rotate(15.4 2235 149.7)"/>
<rect x="2226.6" y="193.4" width="16.8" height="16.8" fill="#fff" stroke="#000" stroke-width="4.6" transform="rotate(22.8 2235 201.8)"/>
<rect x="2226.9" y="246.5" width="16.2" height="16.2" fill="#fff" stroke="#000" stroke-width="4.6" transform="rotate(30.2 2235 254.6)"/>
<rect x="2227.2" y="299.9" width="15.6" height="15.6" fill="#fff" stroke="#000" stroke-width="4.6" transform="rotate(37.6 2235 307.7)"/>
<rect x="2227.5" y="353.1" width="15" height="15" fill="#fff" stroke="#000" stroke-width="4.6" transform="rotate(45 2235 360.6)"/>
</g>
<rect x="2622.5" y="96.5" width="968.7" height="401.6" fill="none" stroke="#000" stroke-width="4.6"/>
<line x1="2604.5" y1="96.5" x2="2622.5" y2="96.5" stroke="#000" stroke-width="4.5" stroke-linecap="round"/>
<line x1="2604.5" y1="133" x2="2622.5" y2="133" stroke="#000" stroke-width="4.5" stroke-linecap="round"/>
<line x1="2604.5" y1="169.5" x2="2622.5" y2="169.5" stroke="#000" stroke-width="4.5" stroke-linecap="round"/>
<line x1="2604.5" y1="206" x2="2622.5" y2="206" stroke="#000" stroke-width="4.5" stroke-linecap="round"/>
<line x1="2604.5" y1="242.5" x2="2622.5" y2="242.5" stroke="#000" stroke-width="4.5" stroke-linecap="round"/>
<line x1="2604.5" y1="279" x2="2622.5" y2="279" stroke="#000" stroke-width="4.5" stroke-linecap="round"/>
<line x1="2604.5" y1="315.6" x2="2622.5" y2="315.6" stroke="#000" stroke-width="4.5" stroke-linecap="round"/>
<line x1="2604.5" y1="352.1" x2="2622.5" y2="352.1" stroke="#000" stroke-width="4.5" stroke-linecap="round"/>
<line x1="2604.5" y1="388.6" x2="2622.5" y2="388.6" stroke="#000" stroke-width="4.5" stroke-linecap="round"/>
<line x1="2604.5" y1="425.1" x2="2622.5" y2="425.1" stroke="#000" stroke-width="4.5" stroke-linecap="round"/>
<line x1="2604.5" y1="461.6" x2="2622.5" y2="461.6" stroke="#000" stroke-width="4.5" stroke-linecap="round"/>
<line x1="2604.5" y1="498.1" x2="2622.5" y2="498.1" stroke="#000" stroke-width="4.5" stroke-linecap="round"/>
<line x1="2622.5" y1="498.1" x2="2622.5" y2="515.1" stroke="#000" stroke-width="4.5" stroke-linecap="round"/>
<text x="2622.5" y="581.1" font-size="62" text-anchor="middle" style="" textLength="31.5" lengthAdjust="spacingAndGlyphs" >0</text>
<line x1="2816.2" y1="498.1" x2="2816.2" y2="515.1" stroke="#000" stroke-width="4.5" stroke-linecap="round"/>
<text x="2816.2" y="581.1" font-size="62" text-anchor="middle" style="" textLength="94.5" lengthAdjust="spacingAndGlyphs" >200</text>
<line x1="3010" y1="498.1" x2="3010" y2="515.1" stroke="#000" stroke-width="4.5" stroke-linecap="round"/>
<text x="3010" y="581.1" font-size="62" text-anchor="middle" style="" textLength="94.5" lengthAdjust="spacingAndGlyphs" >400</text>
<line x1="3203.7" y1="498.1" x2="3203.7" y2="515.1" stroke="#000" stroke-width="4.5" stroke-linecap="round"/>
<text x="3203.7" y="581.1" font-size="62" text-anchor="middle" style="" textLength="94.5" lengthAdjust="spacingAndGlyphs" >600</text>
<line x1="3397.5" y1="498.1" x2="3397.5" y2="515.1" stroke="#000" stroke-width="4.5" stroke-linecap="round"/>
<text x="3397.5" y="581.1" font-size="62" text-anchor="middle" style="" textLength="94.5" lengthAdjust="spacingAndGlyphs" >800</text>
<line x1="3591.2" y1="498.1" x2="3591.2" y2="515.1" stroke="#000" stroke-width="4.5" stroke-linecap="round"/>
<text x="3591.2" y="581.1" font-size="62" text-anchor="middle" style="" textLength="126" lengthAdjust="spacingAndGlyphs" >1000</text>
<text x="3020.2" y="667.8" font-size="60" text-anchor="start" style="font-style:italic;" textLength="31" lengthAdjust="spacingAndGlyphs" >x</text>
<line x1="3081.8" y1="624.8" x2="3059.7" y2="681.4" stroke="#000" stroke-width="2.8" stroke-linecap="butt"/>
<text x="3091.5" y="667.8" font-size="60" text-anchor="start" style="" textLength="103" lengthAdjust="spacingAndGlyphs" >mm</text>
<text x="2651.5" y="171.5" font-size="66" text-anchor="start" style="" textLength="71.3" lengthAdjust="spacingAndGlyphs" >(c)</text>
<g transform="translate(440.000 777.895) scale(0.380431)">
<g clip-path="url(#dom)"><g filter="url(#jet)">
<g filter="url(#fb10)">
<rect x="-100" y="-100" width="2800" height="1300" fill="url(#te_base)"/>
<g style="mix-blend-mode:lighten">
<g style="mix-blend-mode:lighten"><path d="M959 640l2 50l-3 51l-7 53l-15 51l-25 49l-33 44l-41 38l-47 28l-52 17l-54 7l-53 -3l-51 -12l-46 -23l-40 -27l-35 -30l-31 -30l-27 -29l-26 -29l-24 -29l-24 -30l-24 -31l-24 -34l-27 -38l-30 -43l-33 -51l-31 -62l-11 -66l57 -38l85 -6l71 3l54 3l43 4l36 2l31 2l29 2l27 1l27 2l27 2l29 2l31 3l35 3l39 6l44 10l49 16l44 27l29 40l17 46z" fill="#171717"/><path d="M895 640l3 42l-1 43l-4 45l-10 45l-17 44l-24 43l-30 40l-40 31l-48 14l-51 0l-49 -12l-44 -20l-38 -25l-33 -26l-27 -27l-25 -25l-21 -24l-20 -24l-20 -23l-18 -24l-19 -25l-20 -27l-23 -30l-24 -35l-29 -42l-29 -51l-18 -58l30 -42l64 -14l62 -1l49 1l41 2l34 3l30 2l28 2l26 3l25 3l26 4l25 4l27 6l29 6l31 9l35 11l37 16l34 25l23 33l15 38z" fill="#1b1b1b"/><path d="M830 640l4 34l2 35l-1 37l-5 38l-9 41l-14 42l-20 42l-33 32l-44 12l-48 -6l-45 -23l-37 -27l-30 -27l-25 -25l-20 -23l-18 -21l-16 -19l-15 -18l-14 -18l-14 -18l-14 -19l-16 -20l-17 -23l-20 -26l-24 -32l-27 -40l-25 -50l2 -47l44 -22l52 -6l46 0l38 1l33 2l29 2l26 3l25 4l24 4l23 6l22 8l23 8l23 9l24 11l25 14l25 16l24 21l17 26l12 30z" fill="#1f1f1f"/><path d="M766 640l5 25l4 27l2 30l0 32l-1 36l-4 42l-11 44l-26 33l-39 10l-45 -13l-40 -32l-31 -35l-22 -30l-17 -23l-14 -19l-11 -16l-10 -15l-9 -13l-9 -12l-9 -13l-10 -12l-11 -13l-12 -15l-15 -18l-19 -22l-25 -30l-33 -42l-25 -51l23 -30l43 -10l41 -3l36 0l31 2l28 2l25 4l24 5l22 6l21 8l20 10l18 11l17 12l16 14l15 15l14 16l13 18l12 20l10 22z" fill="#242424"/><path d="M736 640l5 21l3 23l1 24l0 27l-2 30l-5 33l-10 35l-21 26l-35 4l-36 -16l-32 -26l-24 -28l-17 -22l-13 -18l-11 -14l-9 -13l-8 -11l-7 -10l-8 -9l-7 -10l-8 -10l-8 -10l-10 -12l-12 -14l-16 -18l-20 -23l-27 -34l-25 -44l3 -36l30 -18l38 -3l34 1l30 3l26 3l23 4l22 5l20 7l19 8l17 10l15 11l15 12l13 13l12 14l11 14l11 16l9 17l8 18z" fill="#272727"/><path d="M707 640l4 17l2 19l0 19l-1 21l-2 24l-5 25l-9 26l-18 19l-29 -3l-29 -18l-23 -21l-17 -20l-12 -15l-10 -12l-7 -10l-7 -9l-6 -7l-5 -8l-6 -6l-5 -7l-6 -7l-7 -8l-7 -9l-9 -10l-12 -13l-15 -18l-22 -25l-25 -37l-16 -43l16 -25l35 -3l32 2l28 3l25 4l21 5l20 6l18 6l17 9l14 11l13 11l11 11l11 12l9 13l8 13l8 13l7 14l6 15z" fill="#2a2a2a"/><path d="M677 640l3 13l2 14l0 15l-2 16l-3 16l-6 17l-8 17l-14 12l-23 -10l-22 -20l-14 -16l-10 -11l-7 -8l-6 -7l-5 -5l-4 -5l-4 -4l-4 -4l-3 -5l-4 -4l-4 -4l-4 -5l-5 -5l-7 -7l-7 -8l-11 -12l-15 -17l-25 -30l-37 -50l3 -32l32 -3l31 2l26 5l22 5l20 5l18 6l16 7l14 9l12 11l11 11l8 11l7 12l7 11l5 11l5 11l5 11l4 12z" fill="#2e2e2e"/><path d="M653 640l2 10l1 10l0 12l-1 11l-3 13l-4 12l-6 13l-10 9l-18 -7l-16 -16l-11 -11l-7 -9l-5 -6l-5 -5l-3 -4l-3 -4l-3 -3l-3 -3l-3 -3l-3 -3l-3 -3l-3 -4l-4 -4l-4 -5l-6 -6l-8 -9l-12 -13l-19 -22l-27 -37l3 -24l24 -3l22 2l20 3l17 4l15 4l13 4l12 6l11 6l9 8l7 9l7 8l5 9l5 8l4 8l4 9l3 8l3 9z" fill="#2c2c2c"/><path d="M629 640l1 7l1 7l0 7l-1 8l-2 8l-2 9l-5 8l-6 6l-12 -5l-11 -10l-7 -8l-5 -6l-4 -4l-2 -3l-3 -3l-2 -2l-2 -2l-2 -2l-2 -2l-1 -2l-2 -3l-3 -2l-2 -3l-3 -3l-4 -4l-5 -6l-8 -9l-13 -14l-18 -25l2 -16l16 -2l15 1l13 2l11 3l10 3l9 2l8 4l7 5l6 5l5 6l5 5l3 6l3 5l3 6l3 5l2 6l2 6z" fill="#2b2b2b"/><path d="M604 640l1 3l0 4l0 4l0 3l-1 5l-1 4l-2 4l-4 3l-6 -2l-5 -6l-4 -3l-2 -3l-2 -2l-1 -2l-1 -1l-1 -2l-1 -1l-1 -1l-1 -1l-1 -1l-1 -1l-1 -1l-2 -1l-1 -2l-2 -2l-3 -3l-4 -4l-6 -8l-9 -12l1 -8l8 -1l7 1l7 1l6 1l5 1l4 2l4 2l4 2l3 2l2 3l2 3l2 3l2 3l1 2l1 3l1 3l1 3z" fill="#292929"/></g>
<g style="mix-blend-mode:lighten"><path d="M2082 660l0 50l-4 51l-9 51l-18 49l-27 46l-34 41l-40 35l-47 25l-51 15l-51 5l-51 -4l-48 -11l-44 -21l-38 -26l-33 -28l-30 -28l-26 -27l-25 -27l-23 -28l-23 -28l-23 -30l-24 -33l-26 -36l-29 -41l-33 -50l-35 -60l-23 -70l36 -50l83 -12l74 0l59 4l48 4l39 3l35 2l31 2l30 1l29 2l30 2l32 2l34 4l37 4l43 7l46 12l48 20l39 33l24 43l13 48z" fill="#171717"/><path d="M2019 660l1 42l-2 43l-6 44l-12 43l-19 42l-24 41l-31 36l-41 26l-47 11l-49 -2l-46 -13l-41 -18l-36 -23l-30 -24l-27 -24l-23 -24l-20 -22l-20 -22l-18 -23l-18 -22l-18 -24l-19 -26l-21 -28l-24 -33l-27 -40l-31 -49l-26 -59l11 -52l55 -24l64 -4l53 0l45 3l38 2l33 2l30 3l29 3l28 3l28 4l28 6l29 6l31 8l34 10l36 14l37 19l30 29l19 36l11 39z" fill="#1b1b1b"/><path d="M1956 660l2 34l0 35l-2 36l-6 38l-11 39l-15 40l-23 38l-34 25l-44 8l-45 -8l-41 -23l-35 -25l-28 -25l-23 -22l-19 -21l-17 -19l-14 -18l-14 -17l-13 -17l-13 -16l-14 -18l-14 -19l-16 -21l-18 -24l-22 -30l-27 -37l-29 -49l-14 -54l28 -35l52 -10l48 -2l42 0l36 2l32 3l29 3l28 4l26 5l26 7l25 8l24 10l25 11l25 13l26 15l25 19l21 24l16 29l9 31z" fill="#1f1f1f"/><path d="M1892 660l4 26l2 27l1 29l0 32l-3 35l-5 40l-14 39l-28 26l-40 4l-42 -15l-37 -32l-28 -32l-20 -27l-15 -21l-12 -17l-11 -14l-9 -13l-8 -12l-8 -11l-8 -11l-8 -12l-10 -12l-10 -13l-13 -16l-17 -20l-23 -26l-32 -38l-39 -56l0 -46l41 -16l43 -5l39 -1l34 1l31 3l29 4l26 5l25 7l23 9l21 12l20 13l18 14l17 16l16 17l14 18l12 20l11 22l8 23z" fill="#242424"/><path d="M1863 660l2 22l2 22l0 24l-2 26l-3 29l-6 31l-12 31l-26 17l-34 -4l-33 -16l-28 -24l-21 -25l-15 -19l-11 -15l-10 -13l-7 -11l-7 -10l-7 -8l-6 -9l-6 -8l-6 -9l-8 -9l-8 -10l-10 -12l-13 -15l-17 -20l-25 -30l-33 -44l-13 -46l14 -33l38 -7l37 0l33 2l29 3l27 5l24 5l23 8l21 10l18 12l17 13l15 14l14 15l13 16l11 16l9 17l9 19l6 19z" fill="#272727"/><path d="M1833 660l2 17l0 19l-1 19l-2 20l-4 22l-6 23l-12 21l-22 8l-29 -10l-24 -17l-19 -18l-14 -16l-10 -12l-8 -10l-6 -9l-5 -7l-5 -6l-4 -6l-5 -5l-4 -6l-5 -6l-5 -6l-5 -7l-8 -8l-9 -10l-12 -14l-18 -21l-26 -33l-26 -45l-13 -51l33 -9l35 0l31 3l28 4l25 5l22 7l21 8l18 10l16 13l14 13l12 14l11 14l9 14l8 15l8 15l6 15l5 16z" fill="#2a2a2a"/><path d="M1803 660l1 13l-1 14l-2 14l-3 15l-4 14l-7 15l-10 12l-19 0l-23 -18l-16 -17l-10 -11l-7 -8l-5 -6l-4 -4l-3 -4l-3 -3l-3 -3l-2 -3l-2 -3l-3 -3l-3 -3l-3 -3l-3 -4l-4 -4l-5 -6l-8 -8l-11 -12l-19 -21l-39 -45l-40 -68l28 -12l33 1l30 4l26 5l22 6l21 7l19 8l16 12l13 13l11 14l9 13l8 13l6 13l5 13l5 12l4 12l3 13z" fill="#2e2e2e"/><path d="M1778 660l0 10l0 10l-1 11l-3 11l-3 11l-5 11l-8 9l-14 0l-18 -14l-12 -13l-7 -8l-5 -6l-4 -4l-3 -3l-2 -3l-2 -3l-2 -2l-2 -2l-2 -2l-2 -2l-2 -2l-2 -3l-3 -3l-3 -3l-4 -4l-5 -6l-8 -9l-15 -16l-29 -34l-30 -51l21 -9l25 1l22 3l20 4l17 4l15 5l14 6l12 9l10 10l8 10l7 10l6 10l5 10l3 9l4 9l3 10l2 9z" fill="#2c2c2c"/><path d="M1753 660l0 7l0 7l-1 7l-2 7l-2 7l-4 7l-5 7l-9 0l-12 -10l-8 -8l-5 -6l-3 -4l-2 -2l-2 -3l-2 -1l-1 -2l-2 -2l-1 -1l-1 -1l-2 -2l-1 -1l-1 -2l-2 -2l-2 -2l-3 -3l-3 -4l-6 -6l-9 -10l-20 -23l-20 -34l14 -6l17 1l14 2l13 2l12 3l10 3l9 5l8 5l7 7l6 7l4 7l4 6l3 7l3 6l2 6l2 6l2 6z" fill="#2b2b2b"/><path d="M1727 660l0 3l0 4l0 3l-1 4l-1 4l-2 3l-2 3l-5 0l-6 -4l-4 -5l-2 -2l-2 -2l-1 -2l-1 -1l-1 -1l-1 -1l0 0l-1 -1l-1 -1l0 0l-1 -1l-1 -1l-1 -1l-1 -1l-1 -1l-2 -2l-2 -3l-5 -6l-10 -11l-10 -17l7 -3l8 0l8 1l6 2l6 1l5 2l5 2l4 3l3 3l3 3l2 4l2 3l2 3l1 3l1 3l1 4l1 3z" fill="#292929"/></g>
<g style="mix-blend-mode:lighten"><path d="M1530 450l-15 28l-23 23l-30 16l-33 7l-28 3l-22 2l-18 0l-15 1l-13 0l-12 0l-10 0l-11 0l-11 0l-10 0l-12 0l-13 0l-15 -1l-18 0l-22 -1l-29 -3l-36 -6l-34 -16l-25 -23l-15 -30l11 -30l64 -14l50 -4l30 -1l20 -1l15 0l12 0l9 0l8 0l8 0l6 0l7 0l7 0l6 0l8 0l8 0l9 0l12 0l14 1l20 0l30 2l49 3l57 15z" fill="#333333"/><path d="M1472 450l-11 21l-17 18l-22 11l-25 6l-21 2l-17 1l-13 0l-11 1l-10 0l-9 0l-8 0l-8 0l-8 0l-8 0l-9 0l-10 0l-11 0l-13 -1l-17 -1l-21 -2l-27 -5l-26 -11l-19 -18l-11 -22l8 -23l48 -10l38 -3l23 -1l15 0l11 0l8 0l7 0l6 -1l6 0l5 0l5 0l5 0l5 0l6 1l6 0l7 0l8 0l11 0l15 1l23 1l36 2l43 11z" fill="#363636"/><path d="M1415 450l-7 14l-12 12l-15 8l-17 3l-14 2l-11 0l-9 1l-7 0l-6 0l-6 0l-6 0l-5 0l-5 0l-6 0l-6 0l-6 0l-7 0l-9 -1l-12 0l-14 -1l-18 -4l-17 -7l-12 -12l-8 -15l6 -15l31 -7l25 -2l16 0l10 -1l7 0l6 0l5 0l4 0l3 0l4 0l3 0l3 0l4 0l3 0l4 0l5 0l6 0l7 0l10 1l15 0l24 2l29 8z" fill="#393939"/><path d="M1357 450l-3 7l-6 6l-7 4l-9 2l-7 0l-5 1l-5 0l-3 0l-4 0l-3 0l-2 0l-3 0l-3 0l-2 0l-3 0l-4 0l-3 0l-5 0l-5 -1l-7 0l-9 -2l-9 -4l-6 -6l-4 -7l3 -8l16 -3l12 -1l8 0l5 0l4 0l2 0l3 0l2 -1l2 0l1 0l2 0l2 0l1 0l2 1l2 0l3 0l2 0l4 0l5 0l8 0l12 1l14 4z" fill="#3d3d3d"/></g>
<g style="mix-blend-mode:lighten"><path d="M1218 150l-16 66l-19 63l-20 63l-19 64l-65 34l-66 23l-60 16l-56 13l-51 10l-49 9l-48 9l-49 10l-51 11l-57 13l-65 15l-73 8l-81 0l-74 -26l-76 -35l-55 -59l-27 -75l-24 -76l-22 -76l-18 -80l-8 -83l13 -83l50 -69l92 -40l95 -17l79 -10l66 -5l57 -4l50 -1l45 -1l43 -1l41 1l41 1l42 1l45 2l48 4l55 4l61 9l73 12l78 24l61 47l24 67l1 72z" fill="#404040"/><path d="M1201 150l-16 64l-18 61l-20 60l-18 63l-62 34l-70 15l-59 13l-53 10l-49 8l-46 8l-45 8l-45 8l-47 9l-53 11l-59 11l-67 9l-79 6l-76 -17l-73 -32l-43 -62l-24 -71l-21 -71l-20 -71l-15 -74l-7 -77l13 -76l45 -65l84 -37l87 -18l73 -9l61 -6l53 -3l47 -2l42 -1l40 -1l39 1l39 1l39 1l42 2l46 3l51 4l59 7l68 12l76 22l63 42l27 63l2 70z" fill="#4a4a4a"/><path d="M1184 150l-15 62l-18 59l-19 58l-18 60l-58 35l-75 7l-58 9l-51 8l-46 7l-43 6l-41 6l-42 6l-44 7l-47 9l-53 9l-62 9l-77 12l-79 -7l-70 -31l-31 -64l-20 -67l-19 -65l-17 -67l-12 -68l-5 -71l12 -70l40 -59l75 -36l79 -17l67 -10l58 -5l48 -4l44 -1l40 -1l37 -1l36 0l36 1l37 1l39 1l43 3l48 4l56 6l64 11l74 19l64 38l30 60l3 66z" fill="#555555"/><path d="M1167 150l-15 60l-17 56l-19 56l-16 59l-55 34l-80 0l-57 6l-49 5l-43 5l-39 5l-39 4l-38 5l-40 5l-42 6l-48 7l-56 9l-75 18l-82 3l-66 -29l-19 -67l-17 -63l-17 -60l-14 -61l-10 -63l-2 -64l10 -64l36 -55l66 -34l71 -17l61 -10l54 -4l45 -4l40 -2l37 0l34 -1l34 -1l34 1l34 1l37 1l40 2l44 4l53 5l60 10l72 16l66 34l32 56l5 63z" fill="#606060"/><path d="M1160 150l-16 59l-18 55l-20 54l-43 42l-62 21l-71 -1l-52 2l-42 4l-37 3l-34 3l-33 3l-32 3l-33 4l-36 5l-40 5l-48 9l-71 26l-98 29l-58 -31l-18 -63l-16 -59l-15 -57l-12 -57l-8 -59l-2 -60l11 -59l32 -52l59 -33l65 -17l58 -9l49 -5l43 -4l38 -2l35 -1l33 0l32 -1l32 1l33 1l35 1l38 2l42 3l50 5l59 8l70 15l69 30l35 53l7 62z" fill="#6a6a6a"/><path d="M1153 150l-17 57l-19 55l-21 52l-69 25l-71 8l-62 -3l-45 0l-36 1l-31 2l-29 1l-27 2l-26 2l-27 2l-28 3l-33 5l-39 8l-68 35l-114 54l-50 -34l-17 -58l-15 -55l-13 -54l-10 -53l-6 -55l-1 -55l10 -55l28 -49l52 -32l60 -17l54 -9l46 -6l41 -3l36 -2l33 -1l31 -1l30 0l30 0l31 1l33 1l37 2l40 3l48 4l57 7l68 13l72 27l38 50l8 61z" fill="#757575"/><path d="M1146 150l-18 56l-20 53l-22 51l-96 8l-78 -5l-54 -5l-38 -2l-31 -1l-25 0l-23 0l-21 0l-20 0l-21 1l-21 2l-25 3l-31 9l-65 42l-129 80l-42 -36l-16 -54l-14 -51l-11 -51l-9 -49l-4 -51l1 -51l10 -50l24 -45l44 -32l54 -18l51 -8l43 -6l38 -3l34 -2l31 -1l29 -1l29 0l29 0l29 0l31 2l34 1l39 2l45 5l55 6l67 11l75 23l42 48l9 59z" fill="#808080"/><path d="M1142 150l-17 56l-89 34l-27 38l-74 8l-61 -3l-43 -2l-31 -1l-25 0l-21 0l-19 0l-18 0l-17 1l-17 1l-19 1l-20 3l-26 6l-49 29l-94 54l-105 28l-14 -54l-10 -52l-8 -50l-5 -49l0 -48l3 -48l11 -47l32 -38l48 -25l50 -13l45 -7l38 -5l33 -2l29 -3l27 -1l26 0l25 -1l25 0l26 0l28 0l30 1l35 1l41 3l51 4l64 8l77 17l57 40l16 57z" fill="#8a8a8a"/><path d="M1139 150l-17 56l-158 15l-32 25l-52 8l-44 0l-32 0l-24 0l-20 0l-16 1l-16 1l-14 0l-14 1l-14 0l-15 1l-17 2l-20 4l-34 16l-58 28l-168 92l-12 -55l-7 -52l-3 -50l-1 -47l3 -46l5 -45l12 -43l39 -32l52 -18l46 -9l40 -5l32 -4l29 -2l25 -2l23 -1l22 -1l21 -1l22 -1l22 0l24 0l27 0l31 0l37 1l47 2l61 5l79 11l72 32l23 54z" fill="#959595"/><path d="M1136 150l-17 55l-227 -4l-37 13l-31 8l-26 3l-21 2l-17 1l-14 1l-13 1l-11 1l-11 1l-11 0l-11 1l-11 1l-13 1l-15 1l-18 3l-23 2l-232 157l-9 -56l-3 -53l0 -49l3 -46l7 -44l7 -42l13 -40l47 -25l55 -10l43 -6l34 -3l27 -3l24 -2l20 -1l19 -1l18 -2l18 -1l18 -1l19 0l20 -1l23 -1l27 -1l33 0l44 -1l58 1l81 6l87 24l30 52z" fill="#9f9f9f"/><path d="M1053 150l-23 43l-168 0l-35 10l-26 5l-22 3l-17 1l-14 1l-11 1l-10 1l-9 0l-9 1l-9 1l-9 0l-9 1l-11 1l-12 1l-14 2l-19 2l-160 106l-16 -36l-14 -34l-10 -37l-4 -36l1 -37l1 -36l8 -36l38 -23l50 -9l39 -4l30 -3l25 -1l20 -2l18 -1l17 -1l16 0l15 -1l16 -1l16 0l17 -1l20 -1l23 0l29 -1l37 0l50 1l68 6l65 23l20 44z" fill="#a5a5a5"/><path d="M971 150l-31 32l-108 3l-33 6l-22 4l-17 1l-13 1l-10 1l-9 1l-8 0l-7 1l-6 0l-7 1l-7 0l-7 1l-8 1l-9 1l-12 2l-15 2l-88 54l-21 -16l-26 -16l-19 -23l-11 -28l-5 -29l-5 -31l2 -31l29 -22l44 -7l35 -3l28 -1l21 -1l18 -1l16 0l14 -1l13 0l13 -1l13 0l14 0l14 -1l17 0l19 -1l24 0l31 0l42 1l54 5l44 22l9 36z" fill="#aaaaaa"/><path d="M888 150l-37 20l-49 7l-30 3l-19 1l-12 1l-9 0l-7 1l-6 0l-5 1l-5 0l-4 1l-5 0l-5 1l-5 0l-5 1l-7 1l-8 1l-11 2l-17 3l-26 5l-38 2l-29 -10l-18 -19l-11 -22l-11 -25l-4 -27l21 -20l39 -6l31 -2l24 0l19 0l15 0l13 0l12 0l10 0l11 0l11 0l11 0l11 -1l14 0l15 0l19 0l25 0l33 1l42 5l22 21l-1 27z" fill="#b0b0b0"/><path d="M841 150l-28 15l-37 5l-22 2l-14 1l-9 1l-7 0l-5 1l-5 0l-4 0l-3 1l-4 0l-3 0l-4 1l-3 0l-4 1l-5 1l-7 1l-8 1l-12 2l-20 4l-29 1l-21 -8l-13 -13l-9 -17l-8 -19l-3 -20l16 -15l29 -5l23 -1l18 0l14 0l11 0l10 0l9 0l8 0l8 0l8 0l8 0l9 0l10 -1l12 0l14 0l19 0l25 1l30 4l17 15l-1 21z" fill="#b1b1b1"/><path d="M794 150l-19 10l-24 4l-15 1l-9 0l-6 1l-5 0l-3 0l-3 1l-3 0l-2 0l-3 0l-2 1l-2 0l-3 0l-3 1l-3 0l-4 1l-6 1l-8 1l-13 2l-19 1l-15 -5l-8 -9l-6 -11l-5 -13l-2 -13l10 -10l19 -3l16 -1l12 0l9 0l8 0l6 0l6 0l6 0l5 0l5 0l6 0l6 0l6 0l8 -1l10 0l12 0l17 1l20 3l12 10l-1 14z" fill="#b2b2b2"/><path d="M747 150l-9 5l-13 2l-7 0l-5 1l-3 0l-2 0l-2 0l-1 0l-2 0l-1 1l-1 0l-1 0l-1 0l-1 0l-2 0l-1 1l-3 0l-2 0l-4 1l-7 1l-10 1l-7 -3l-4 -4l-3 -6l-3 -6l-1 -7l6 -5l9 -2l8 0l6 0l5 0l3 0l4 0l3 0l2 0l3 0l3 0l2 0l3 0l4 0l4 0l4 0l7 0l8 0l10 1l6 5l-1 7z" fill="#b4b4b4"/></g>
<g style="mix-blend-mode:lighten"><path d="M572 251l-4 18l-7 17l-10 15l-11 14l-11 12l-12 11l-12 10l-13 10l-13 10l-15 10l-16 9l-18 8l-20 5l-19 -4l-13 -20l-7 -23l-4 -20l-3 -16l-1 -15l-1 -12l-1 -10l0 -10l-1 -10l0 -9l0 -9l0 -10l0 -10l1 -11l1 -12l1 -15l2 -18l3 -23l5 -29l12 -32l22 -8l23 11l20 13l18 11l18 6l19 6l19 8l14 14l10 17l8 18l7 18l5 18l3 18z" fill="#b8b8b8"/><path d="M551 251l-2 16l-6 14l-8 14l-8 12l-9 11l-10 11l-10 11l-11 10l-12 9l-14 9l-14 9l-17 7l-18 5l-18 -4l-13 -16l-7 -20l-4 -19l-3 -16l-1 -14l-1 -11l-1 -11l0 -9l0 -9l-1 -9l0 -9l0 -9l1 -10l0 -10l1 -12l0 -15l2 -17l3 -22l6 -26l13 -24l20 -4l21 10l18 12l16 10l15 7l16 7l15 8l12 12l8 15l7 15l6 15l5 16l2 15z" fill="#bebebe"/><path d="M530 251l-1 13l-4 12l-5 12l-6 11l-7 11l-7 11l-9 10l-9 10l-11 10l-12 8l-14 8l-15 6l-17 4l-16 -2l-13 -13l-8 -18l-3 -18l-3 -15l-1 -13l-1 -11l0 -10l-1 -9l0 -9l0 -8l0 -8l0 -9l0 -9l0 -10l0 -12l1 -14l2 -17l3 -21l6 -23l14 -16l19 0l18 10l16 10l13 9l13 8l13 8l11 8l9 11l8 12l6 12l4 12l4 13l3 13z" fill="#c5c5c5"/><path d="M510 251l-1 10l-2 11l-3 10l-4 10l-4 10l-5 10l-6 10l-8 10l-9 10l-12 8l-12 7l-14 5l-15 3l-15 0l-13 -9l-8 -17l-4 -17l-2 -14l-1 -13l-1 -10l0 -9l-1 -9l0 -8l0 -8l0 -8l0 -8l0 -9l0 -10l0 -11l1 -13l1 -16l3 -20l7 -21l15 -8l17 4l16 9l14 8l11 9l10 9l9 8l8 9l7 9l6 9l5 10l4 9l3 10l2 11z" fill="#cccccc"/><path d="M498 251l0 9l-2 9l-2 9l-3 8l-3 9l-5 9l-5 10l-6 9l-8 9l-10 8l-11 7l-13 5l-14 3l-14 -1l-11 -8l-7 -15l-4 -15l-2 -13l-1 -11l-1 -10l0 -9l-1 -7l0 -8l0 -7l0 -7l0 -8l0 -8l0 -9l0 -10l1 -12l2 -14l4 -16l7 -14l13 -5l15 4l13 7l11 7l10 7l8 7l8 7l6 7l6 8l5 7l4 8l4 8l3 9l2 8z" fill="#d2d2d2"/><path d="M486 251l0 7l-1 8l-1 7l-2 8l-3 8l-3 8l-4 8l-6 9l-6 9l-9 8l-10 6l-11 5l-12 2l-13 0l-11 -7l-6 -13l-3 -14l-2 -12l-1 -10l-1 -9l0 -8l-1 -7l0 -6l0 -7l0 -7l0 -6l0 -8l0 -8l1 -9l1 -10l2 -12l4 -12l9 -9l11 -1l12 3l10 6l9 5l8 6l7 5l6 6l5 5l5 6l4 6l3 7l3 6l3 7l2 7z" fill="#d9d9d9"/><path d="M474 251l1 6l0 6l-1 6l-1 7l-2 6l-3 7l-3 8l-4 8l-5 8l-7 8l-9 6l-10 4l-11 3l-11 0l-10 -6l-5 -12l-3 -12l-2 -11l-1 -9l-1 -8l-1 -7l0 -6l0 -6l0 -6l0 -6l0 -6l0 -7l0 -7l1 -8l1 -9l3 -9l5 -9l9 -2l10 2l8 3l8 4l7 3l6 4l5 4l4 4l4 5l4 4l3 4l3 5l3 5l2 5l2 5z" fill="#dfdfdf"/><path d="M463 251l1 4l0 5l-1 5l-1 5l-1 5l-2 5l-3 5l-3 6l-4 7l-5 5l-6 5l-8 3l-8 2l-9 0l-7 -4l-4 -9l-2 -9l-2 -8l0 -7l-1 -6l0 -5l-1 -5l0 -5l0 -4l0 -4l0 -5l0 -5l0 -5l1 -6l1 -7l2 -7l4 -7l6 -1l8 1l6 2l6 3l5 3l4 3l4 3l4 3l3 3l3 3l2 4l2 3l2 4l2 4l1 4z" fill="#e2e2e2"/><path d="M452 251l0 3l0 3l0 3l-1 3l-1 4l-1 3l-1 4l-2 4l-3 4l-4 4l-4 3l-5 2l-5 2l-6 -1l-5 -3l-3 -6l-1 -6l-1 -5l-1 -4l0 -4l0 -4l0 -3l-1 -3l0 -3l0 -3l0 -3l0 -3l1 -4l0 -4l1 -4l1 -5l2 -4l5 -2l5 1l4 2l4 2l3 2l3 2l3 2l2 2l2 2l2 2l2 2l1 3l1 2l1 3l1 2z" fill="#e5e5e5"/><path d="M441 251l0 1l0 2l0 2l0 1l-1 2l0 2l-1 1l-1 2l-2 3l-1 1l-2 2l-3 1l-3 1l-3 0l-2 -2l-1 -3l-1 -3l-1 -2l0 -3l0 -2l0 -1l0 -2l0 -2l0 -1l0 -1l0 -2l0 -2l0 -1l0 -2l0 -3l1 -2l1 -2l2 -1l3 1l2 0l2 1l2 1l1 1l1 1l2 1l1 1l1 1l0 2l1 1l1 1l0 1l1 2z" fill="#e8e8e8"/></g>
<g style="mix-blend-mode:lighten"><path d="M1110 167l1 7l0 7l1 8l0 9l0 11l1 13l-1 16l-1 20l-8 18l-14 6l-16 -1l-15 -5l-14 -6l-12 -7l-10 -9l-7 -13l-4 -12l-3 -12l-3 -10l-2 -8l-2 -8l-2 -8l-2 -8l-2 -8l-2 -9l-2 -9l-3 -11l-2 -12l-1 -15l0 -17l5 -16l10 -12l12 -11l14 -9l15 -7l17 -4l17 1l14 16l7 22l5 19l2 15l2 12l1 10l1 9l1 7l1 7l0 7z" fill="#b0b0b0"/><path d="M1108 167l0 7l1 7l0 7l0 9l1 10l-1 11l0 15l-3 17l-8 14l-13 5l-14 -1l-13 -4l-12 -6l-11 -6l-9 -8l-6 -11l-4 -11l-3 -10l-2 -9l-2 -8l-1 -7l-2 -7l-2 -7l-1 -7l-2 -8l-2 -8l-2 -9l-1 -11l-1 -13l0 -14l4 -14l8 -11l11 -9l12 -8l13 -6l15 -4l15 0l13 10l8 18l5 16l2 14l2 12l1 9l1 9l1 7l1 7l0 6z" fill="#b5b5b5"/><path d="M1106 167l0 6l0 7l1 7l0 8l0 9l-1 11l-1 13l-3 15l-8 10l-12 3l-12 -2l-12 -3l-10 -4l-10 -6l-8 -7l-5 -9l-4 -10l-2 -9l-2 -7l-2 -7l-1 -7l-1 -6l-2 -6l-1 -6l-1 -6l-2 -8l-1 -7l-1 -10l-1 -10l1 -12l3 -12l7 -9l9 -8l10 -6l12 -6l12 -4l13 -1l12 5l9 12l5 15l3 13l1 11l2 9l1 8l0 7l1 6l0 7z" fill="#bababa"/><path d="M1103 167l1 6l0 6l0 7l0 7l0 9l-1 10l-2 12l-4 11l-8 6l-11 1l-10 -1l-10 -3l-9 -3l-8 -4l-7 -6l-5 -8l-3 -8l-2 -8l-1 -7l-2 -6l-1 -5l0 -6l-1 -5l-1 -5l-1 -5l-1 -6l-1 -7l-1 -7l0 -9l1 -9l3 -10l5 -7l7 -7l9 -5l9 -5l10 -4l11 -3l11 1l10 6l5 13l3 12l2 10l1 9l1 8l0 7l1 6l0 6z" fill="#bfbfbf"/><path d="M1092 167l0 5l0 4l0 5l0 6l0 6l0 8l-1 8l-4 9l-6 5l-8 0l-8 -1l-7 -2l-7 -2l-6 -3l-5 -5l-4 -6l-2 -6l-2 -5l-1 -6l0 -4l-1 -4l-1 -4l-1 -4l0 -4l-1 -4l-1 -4l0 -5l-1 -6l0 -6l1 -7l2 -7l4 -6l5 -5l7 -4l6 -4l8 -3l8 -2l9 1l7 4l4 10l2 9l1 8l1 6l1 6l0 5l1 5l0 5z" fill="#c4c4c4"/><path d="M1081 167l0 3l0 3l0 4l0 3l0 5l-1 4l0 6l-2 6l-5 3l-5 1l-5 -1l-5 -1l-4 -2l-5 -2l-3 -3l-2 -4l-2 -4l-1 -4l-1 -3l0 -3l-1 -3l0 -3l-1 -2l0 -3l-1 -3l0 -3l0 -3l-1 -4l0 -4l0 -5l2 -4l3 -4l3 -3l4 -3l5 -3l5 -2l6 -1l5 0l5 3l3 7l1 6l1 5l0 5l1 3l0 4l0 3l1 3z" fill="#c8c8c8"/><path d="M1069 167l0 2l0 1l0 2l0 2l0 2l0 2l0 3l-1 3l-2 2l-3 0l-3 -1l-2 0l-2 -1l-2 -1l-2 -2l-1 -2l-1 -2l-1 -1l0 -2l0 -2l0 -1l-1 -1l0 -2l0 -1l0 -1l-1 -2l0 -1l0 -2l0 -2l0 -3l1 -2l1 -2l2 -2l2 -1l2 -1l3 -1l3 -1l3 0l2 2l1 3l1 3l0 3l1 2l0 2l0 1l0 2l0 2z" fill="#cdcdcd"/></g>
<g style="mix-blend-mode:lighten"><path d="M2340 150l-16 66l-19 63l-20 63l-19 64l-65 34l-66 23l-60 16l-56 13l-51 10l-49 9l-48 9l-49 10l-51 11l-57 13l-65 15l-73 8l-81 0l-74 -26l-76 -35l-55 -59l-27 -75l-24 -76l-22 -76l-18 -80l-8 -83l13 -83l50 -69l92 -40l95 -17l79 -10l66 -5l57 -4l50 -1l45 -1l43 -1l41 1l41 1l42 1l45 2l48 4l55 4l61 9l73 12l78 24l61 47l24 67l1 72z" fill="#404040"/><path d="M2323 150l-16 64l-18 61l-20 60l-18 63l-62 34l-70 15l-59 13l-53 10l-49 8l-46 8l-45 8l-45 8l-47 9l-53 11l-59 11l-67 9l-79 6l-76 -17l-73 -32l-43 -62l-24 -71l-21 -71l-20 -71l-15 -74l-7 -77l13 -76l45 -65l84 -37l87 -18l73 -9l61 -6l53 -3l47 -2l42 -1l40 -1l39 1l39 1l39 1l42 2l46 3l51 4l59 7l68 12l76 22l63 42l27 63l2 70z" fill="#4a4a4a"/><path d="M2306 150l-15 62l-18 59l-19 58l-18 60l-58 35l-75 7l-58 9l-51 8l-46 7l-43 6l-41 6l-42 6l-44 7l-47 9l-53 9l-62 9l-77 12l-79 -7l-70 -31l-31 -64l-20 -67l-19 -65l-17 -67l-12 -68l-5 -71l12 -70l40 -59l75 -36l79 -17l67 -10l58 -5l48 -4l44 -1l40 -1l37 -1l36 0l36 1l37 1l39 1l43 3l48 4l56 6l64 11l74 19l64 38l30 60l3 66z" fill="#555555"/><path d="M2289 150l-15 60l-17 56l-19 56l-16 59l-55 34l-80 0l-57 6l-49 5l-43 5l-39 5l-39 4l-38 5l-40 5l-42 6l-48 7l-56 9l-75 18l-82 3l-66 -29l-19 -67l-17 -63l-17 -60l-14 -61l-10 -63l-2 -64l10 -64l36 -55l66 -34l71 -17l61 -10l54 -4l45 -4l40 -2l37 0l34 -1l34 -1l34 1l34 1l37 1l40 2l44 4l53 5l60 10l72 16l66 34l32 56l5 63z" fill="#606060"/><path d="M2282 150l-16 59l-18 55l-20 54l-43 42l-62 21l-71 -1l-52 2l-42 4l-37 3l-34 3l-33 3l-32 3l-33 4l-36 5l-40 5l-48 9l-71 26l-98 29l-58 -31l-18 -63l-16 -59l-15 -57l-12 -57l-8 -59l-2 -60l11 -59l32 -52l59 -33l65 -17l58 -9l49 -5l43 -4l38 -2l35 -1l33 0l32 -1l32 1l33 1l35 1l38 2l42 3l50 5l59 8l70 15l69 30l35 53l7 62z" fill="#6a6a6a"/><path d="M2275 150l-17 57l-19 55l-21 52l-69 25l-71 8l-62 -3l-45 0l-36 1l-31 2l-29 1l-27 2l-26 2l-27 2l-28 3l-33 5l-39 8l-68 35l-114 54l-50 -34l-17 -58l-15 -55l-13 -54l-10 -53l-6 -55l-1 -55l10 -55l28 -49l52 -32l60 -17l54 -9l46 -6l41 -3l36 -2l33 -1l31 -1l30 0l30 0l31 1l33 1l37 2l40 3l48 4l57 7l68 13l72 27l38 50l8 61z" fill="#757575"/><path d="M2268 150l-18 56l-20 53l-22 51l-96 8l-78 -5l-54 -5l-38 -2l-31 -1l-25 0l-23 0l-21 0l-20 0l-21 1l-21 2l-25 3l-31 9l-65 42l-129 80l-42 -36l-16 -54l-14 -51l-11 -51l-9 -49l-4 -51l1 -51l10 -50l24 -45l44 -32l54 -18l51 -8l43 -6l38 -3l34 -2l31 -1l29 -1l29 0l29 0l29 0l31 2l34 1l39 2l45 5l55 6l67 11l75 23l42 48l9 59z" fill="#808080"/><path d="M2264 150l-17 56l-89 34l-27 38l-74 8l-61 -3l-43 -2l-31 -1l-25 0l-21 0l-19 0l-18 0l-17 1l-17 1l-19 1l-20 3l-26 6l-49 29l-94 54l-105 28l-14 -54l-10 -52l-8 -50l-5 -49l0 -48l3 -48l11 -47l32 -38l48 -25l50 -13l45 -7l38 -5l33 -2l29 -3l27 -1l26 0l25 -1l25 0l26 0l28 0l30 1l35 1l41 3l51 4l64 8l77 17l57 40l16 57z" fill="#8a8a8a"/><path d="M2261 150l-17 56l-158 15l-32 25l-52 8l-44 0l-32 0l-24 0l-20 0l-16 1l-16 1l-14 0l-14 1l-14 0l-15 1l-17 2l-20 4l-34 16l-58 28l-168 92l-12 -55l-7 -52l-3 -50l-1 -47l3 -46l5 -45l12 -43l39 -32l52 -18l46 -9l40 -5l32 -4l29 -2l25 -2l23 -1l22 -1l21 -1l22 -1l22 0l24 0l27 0l31 0l37 1l47 2l61 5l79 11l72 32l23 54z" fill="#959595"/><path d="M2258 150l-17 55l-227 -4l-37 13l-31 8l-26 3l-21 2l-17 1l-14 1l-13 1l-11 1l-11 1l-11 0l-11 1l-11 1l-13 1l-15 1l-18 3l-23 2l-232 157l-9 -56l-3 -53l0 -49l3 -46l7 -44l7 -42l13 -40l47 -25l55 -10l43 -6l34 -3l27 -3l24 -2l20 -1l19 -1l18 -2l18 -1l18 -1l19 0l20 -1l23 -1l27 -1l33 0l44 -1l58 1l81 6l87 24l30 52z" fill="#9f9f9f"/><path d="M2175 150l-23 43l-168 0l-35 10l-26 5l-22 3l-17 1l-14 1l-11 1l-10 1l-9 0l-9 1l-9 1l-9 0l-9 1l-11 1l-12 1l-14 2l-19 2l-160 106l-16 -36l-14 -34l-10 -37l-4 -36l1 -37l1 -36l8 -36l38 -23l50 -9l39 -4l30 -3l25 -1l20 -2l18 -1l17 -1l16 0l15 -1l16 -1l16 0l17 -1l20 -1l23 0l29 -1l37 0l50 1l68 6l65 23l20 44z" fill="#a5a5a5"/><path d="M2093 150l-31 32l-108 3l-33 6l-22 4l-17 1l-13 1l-10 1l-9 1l-8 0l-7 1l-6 0l-7 1l-7 0l-7 1l-8 1l-9 1l-12 2l-15 2l-88 54l-21 -16l-26 -16l-19 -23l-11 -28l-5 -29l-5 -31l2 -31l29 -22l44 -7l35 -3l28 -1l21 -1l18 -1l16 0l14 -1l13 0l13 -1l13 0l14 0l14 -1l17 0l19 -1l24 0l31 0l42 1l54 5l44 22l9 36z" fill="#aaaaaa"/><path d="M2010 150l-37 20l-49 7l-30 3l-19 1l-12 1l-9 0l-7 1l-6 0l-5 1l-5 0l-4 1l-5 0l-5 1l-5 0l-5 1l-7 1l-8 1l-11 2l-17 3l-26 5l-38 2l-29 -10l-18 -19l-11 -22l-11 -25l-4 -27l21 -20l39 -6l31 -2l24 0l19 0l15 0l13 0l12 0l10 0l11 0l11 0l11 0l11 -1l14 0l15 0l19 0l25 0l33 1l42 5l22 21l-1 27z" fill="#b0b0b0"/><path d="M1963 150l-28 15l-37 5l-22 2l-14 1l-9 1l-7 0l-5 1l-5 0l-4 0l-3 1l-4 0l-3 0l-4 1l-3 0l-4 1l-5 1l-7 1l-8 1l-12 2l-20 4l-29 1l-21 -8l-13 -13l-9 -17l-8 -19l-3 -20l16 -15l29 -5l23 -1l18 0l14 0l11 0l10 0l9 0l8 0l8 0l8 0l8 0l9 0l10 -1l12 0l14 0l19 0l25 1l30 4l17 15l-1 21z" fill="#b1b1b1"/><path d="M1916 150l-19 10l-24 4l-15 1l-9 0l-6 1l-5 0l-3 0l-3 1l-3 0l-2 0l-3 0l-2 1l-2 0l-3 0l-3 1l-3 0l-4 1l-6 1l-8 1l-13 2l-19 1l-15 -5l-8 -9l-6 -11l-5 -13l-2 -13l10 -10l19 -3l16 -1l12 0l9 0l8 0l6 0l6 0l6 0l5 0l5 0l6 0l6 0l6 0l8 -1l10 0l12 0l17 1l20 3l12 10l-1 14z" fill="#b2b2b2"/><path d="M1869 150l-9 5l-13 2l-7 0l-5 1l-3 0l-2 0l-2 0l-1 0l-2 0l-1 1l-1 0l-1 0l-1 0l-1 0l-2 0l-1 1l-3 0l-2 0l-4 1l-7 1l-10 1l-7 -3l-4 -4l-3 -6l-3 -6l-1 -7l6 -5l9 -2l8 0l6 0l5 0l3 0l4 0l3 0l2 0l3 0l3 0l2 0l3 0l4 0l4 0l4 0l7 0l8 0l10 1l6 5l-1 7z" fill="#b4b4b4"/></g>
<g style="mix-blend-mode:lighten"><path d="M1694 251l-4 18l-7 17l-10 15l-11 14l-11 12l-12 11l-12 10l-13 10l-13 10l-15 10l-16 9l-18 8l-20 5l-19 -4l-13 -20l-7 -23l-4 -20l-3 -16l-1 -15l-1 -12l-1 -10l0 -10l-1 -10l0 -9l0 -9l0 -10l0 -10l1 -11l1 -12l1 -15l2 -18l3 -23l5 -29l12 -32l22 -8l23 11l20 13l18 11l18 6l19 6l19 8l14 14l10 17l8 18l7 18l5 18l3 18z" fill="#b8b8b8"/><path d="M1673 251l-2 16l-6 14l-8 14l-8 12l-9 11l-10 11l-10 11l-11 10l-12 9l-14 9l-14 9l-17 7l-18 5l-18 -4l-13 -16l-7 -20l-4 -19l-3 -16l-1 -14l-1 -11l-1 -11l0 -9l0 -9l-1 -9l0 -9l0 -9l1 -10l0 -10l1 -12l0 -15l2 -17l3 -22l6 -26l13 -24l20 -4l21 10l18 12l16 10l15 7l16 7l15 8l12 12l8 15l7 15l6 15l5 16l2 15z" fill="#bebebe"/><path d="M1652 251l-1 13l-4 12l-5 12l-6 11l-7 11l-7 11l-9 10l-9 10l-11 10l-12 8l-14 8l-15 6l-17 4l-16 -2l-13 -13l-8 -18l-3 -18l-3 -15l-1 -13l-1 -11l0 -10l-1 -9l0 -9l0 -8l0 -8l0 -9l0 -9l0 -10l0 -12l1 -14l2 -17l3 -21l6 -23l14 -16l19 0l18 10l16 10l13 9l13 8l13 8l11 8l9 11l8 12l6 12l4 12l4 13l3 13z" fill="#c5c5c5"/><path d="M1632 251l-1 10l-2 11l-3 10l-4 10l-4 10l-5 10l-6 10l-8 10l-9 10l-12 8l-12 7l-14 5l-15 3l-15 0l-13 -9l-8 -17l-4 -17l-2 -14l-1 -13l-1 -10l0 -9l-1 -9l0 -8l0 -8l0 -8l0 -8l0 -9l0 -10l0 -11l1 -13l1 -16l3 -20l7 -21l15 -8l17 4l16 9l14 8l11 9l10 9l9 8l8 9l7 9l6 9l5 10l4 9l3 10l2 11z" fill="#cccccc"/><path d="M1620 251l0 9l-2 9l-2 9l-3 8l-3 9l-5 9l-5 10l-6 9l-8 9l-10 8l-11 7l-13 5l-14 3l-14 -1l-11 -8l-7 -15l-4 -15l-2 -13l-1 -11l-1 -10l0 -9l-1 -7l0 -8l0 -7l0 -7l0 -8l0 -8l0 -9l0 -10l1 -12l2 -14l4 -16l7 -14l13 -5l15 4l13 7l11 7l10 7l8 7l8 7l6 7l6 8l5 7l4 8l4 8l3 9l2 8z" fill="#d2d2d2"/><path d="M1608 251l0 7l-1 8l-1 7l-2 8l-3 8l-3 8l-4 8l-6 9l-6 9l-9 8l-10 6l-11 5l-12 2l-13 0l-11 -7l-6 -13l-3 -14l-2 -12l-1 -10l-1 -9l0 -8l-1 -7l0 -6l0 -7l0 -7l0 -6l0 -8l0 -8l1 -9l1 -10l2 -12l4 -12l9 -9l11 -1l12 3l10 6l9 5l8 6l7 5l6 6l5 5l5 6l4 6l3 7l3 6l3 7l2 7z" fill="#d9d9d9"/><path d="M1596 251l1 6l0 6l-1 6l-1 7l-2 6l-3 7l-3 8l-4 8l-5 8l-7 8l-9 6l-10 4l-11 3l-11 0l-10 -6l-5 -12l-3 -12l-2 -11l-1 -9l-1 -8l-1 -7l0 -6l0 -6l0 -6l0 -6l0 -6l0 -7l0 -7l1 -8l1 -9l3 -9l5 -9l9 -2l10 2l8 3l8 4l7 3l6 4l5 4l4 4l4 5l4 4l3 4l3 5l3 5l2 5l2 5z" fill="#dfdfdf"/><path d="M1585 251l1 4l0 5l-1 5l-1 5l-1 5l-2 5l-3 5l-3 6l-4 7l-5 5l-6 5l-8 3l-8 2l-9 0l-7 -4l-4 -9l-2 -9l-2 -8l0 -7l-1 -6l0 -5l-1 -5l0 -5l0 -4l0 -4l0 -5l0 -5l0 -5l1 -6l1 -7l2 -7l4 -7l6 -1l8 1l6 2l6 3l5 3l4 3l4 3l4 3l3 3l3 3l2 4l2 3l2 4l2 4l1 4z" fill="#dfdfdf"/><path d="M1574 251l0 3l0 3l0 3l-1 3l-1 4l-1 3l-1 4l-2 4l-3 4l-4 4l-4 3l-5 2l-5 2l-6 -1l-5 -3l-3 -6l-1 -6l-1 -5l-1 -4l0 -4l0 -4l0 -3l-1 -3l0 -3l0 -3l0 -3l0 -3l1 -4l0 -4l1 -4l1 -5l2 -4l5 -2l5 1l4 2l4 2l3 2l3 2l3 2l2 2l2 2l2 2l2 2l1 3l1 2l1 3l1 2z" fill="#e0e0e0"/><path d="M1563 251l0 1l0 2l0 2l0 1l-1 2l0 2l-1 1l-1 2l-2 3l-1 1l-2 2l-3 1l-3 1l-3 0l-2 -2l-1 -3l-1 -3l-1 -2l0 -3l0 -2l0 -1l0 -2l0 -2l0 -1l0 -1l0 -2l0 -2l0 -1l0 -2l0 -3l1 -2l1 -2l2 -1l3 1l2 0l2 1l2 1l1 1l1 1l2 1l1 1l1 1l0 2l1 1l1 1l0 1l1 2z" fill="#e0e0e0"/></g>
<g style="mix-blend-mode:lighten"><path d="M2232 167l1 7l0 7l1 8l0 9l0 11l1 13l-1 16l-1 20l-8 18l-14 6l-16 -1l-15 -5l-14 -6l-12 -7l-10 -9l-7 -13l-4 -12l-3 -12l-3 -10l-2 -8l-2 -8l-2 -8l-2 -8l-2 -8l-2 -9l-2 -9l-3 -11l-2 -12l-1 -15l0 -17l5 -16l10 -12l12 -11l14 -9l15 -7l17 -4l17 1l14 16l7 22l5 19l2 15l2 12l1 10l1 9l1 7l1 7l0 7z" fill="#b0b0b0"/><path d="M2230 167l0 7l1 7l0 7l0 9l1 10l-1 11l0 15l-3 17l-8 14l-13 5l-14 -1l-13 -4l-12 -6l-11 -6l-9 -8l-6 -11l-4 -11l-3 -10l-2 -9l-2 -8l-1 -7l-2 -7l-2 -7l-1 -7l-2 -8l-2 -8l-2 -9l-1 -11l-1 -13l0 -14l4 -14l8 -11l11 -9l12 -8l13 -6l15 -4l15 0l13 10l8 18l5 16l2 14l2 12l1 9l1 9l1 7l1 7l0 6z" fill="#b5b5b5"/><path d="M2228 167l0 6l0 7l1 7l0 8l0 9l-1 11l-1 13l-3 15l-8 10l-12 3l-12 -2l-12 -3l-10 -4l-10 -6l-8 -7l-5 -9l-4 -10l-2 -9l-2 -7l-2 -7l-1 -7l-1 -6l-2 -6l-1 -6l-1 -6l-2 -8l-1 -7l-1 -10l-1 -10l1 -12l3 -12l7 -9l9 -8l10 -6l12 -6l12 -4l13 -1l12 5l9 12l5 15l3 13l1 11l2 9l1 8l0 7l1 6l0 7z" fill="#bababa"/><path d="M2225 167l1 6l0 6l0 7l0 7l0 9l-1 10l-2 12l-4 11l-8 6l-11 1l-10 -1l-10 -3l-9 -3l-8 -4l-7 -6l-5 -8l-3 -8l-2 -8l-1 -7l-2 -6l-1 -5l0 -6l-1 -5l-1 -5l-1 -5l-1 -6l-1 -7l-1 -7l0 -9l1 -9l3 -10l5 -7l7 -7l9 -5l9 -5l10 -4l11 -3l11 1l10 6l5 13l3 12l2 10l1 9l1 8l0 7l1 6l0 6z" fill="#bfbfbf"/><path d="M2214 167l0 5l0 4l0 5l0 6l0 6l0 8l-1 8l-4 9l-6 5l-8 0l-8 -1l-7 -2l-7 -2l-6 -3l-5 -5l-4 -6l-2 -6l-2 -5l-1 -6l0 -4l-1 -4l-1 -4l-1 -4l0 -4l-1 -4l-1 -4l0 -5l-1 -6l0 -6l1 -7l2 -7l4 -6l5 -5l7 -4l6 -4l8 -3l8 -2l9 1l7 4l4 10l2 9l1 8l1 6l1 6l0 5l1 5l0 5z" fill="#c4c4c4"/><path d="M2203 167l0 3l0 3l0 4l0 3l0 5l-1 4l0 6l-2 6l-5 3l-5 1l-5 -1l-5 -1l-4 -2l-5 -2l-3 -3l-2 -4l-2 -4l-1 -4l-1 -3l0 -3l-1 -3l0 -3l-1 -2l0 -3l-1 -3l0 -3l0 -3l-1 -4l0 -4l0 -5l2 -4l3 -4l3 -3l4 -3l5 -3l5 -2l6 -1l5 0l5 3l3 7l1 6l1 5l0 5l1 3l0 4l0 3l1 3z" fill="#c8c8c8"/><path d="M2191 167l0 2l0 1l0 2l0 2l0 2l0 2l0 3l-1 3l-2 2l-3 0l-3 -1l-2 0l-2 -1l-2 -1l-2 -2l-1 -2l-1 -2l-1 -1l0 -2l0 -2l0 -1l-1 -1l0 -2l0 -1l0 -1l-1 -2l0 -1l0 -2l0 -2l0 -3l1 -2l1 -2l2 -2l2 -1l2 -1l3 -1l3 -1l3 0l2 2l1 3l1 3l0 3l1 2l0 2l0 1l0 2l0 2z" fill="#cdcdcd"/></g>
</g>
</g>
</g></g>
</g>
<g transform="translate(440.000 777.895) scale(0.380431)">
<path d="M18.4 412 H352 L375 389 V43 H1090 V389 L1113 412 H1473 L1497 389 V43 H2211 V389 L2235 412 H2564.7 V1072.8 H18.4 Z" fill="none" stroke="#000" stroke-width="5.5" stroke-linejoin="round"/>
<rect x="342" y="114" width="18" height="18" fill="#fff" stroke="#000" stroke-width="4.6" transform="rotate(8 351 123)"/>
<rect x="342.4" y="167.9" width="17.2" height="17.2" fill="#fff" stroke="#000" stroke-width="4.6" transform="rotate(17.2 351 176.5)"/>
<rect x="342.8" y="222.2" width="16.5" height="16.5" fill="#fff" stroke="#000" stroke-width="4.6" transform="rotate(26.5 351 230.4)"/>
<rect x="343.1" y="273.7" width="15.8" height="15.8" fill="#fff" stroke="#000" stroke-width="4.6" transform="rotate(35.8 351 281.6)"/>
<rect x="343.5" y="326.5" width="15" height="15" fill="#fff" stroke="#000" stroke-width="4.6" transform="rotate(45 351 334)"/>
<rect x="1105.5" y="87.3" width="18" height="18" fill="#fff" stroke="#000" stroke-width="4.6" transform="rotate(8 1114.5 96.3)"/>
<rect x="1105.8" y="141" width="17.4" height="17.4" fill="#fff" stroke="#000" stroke-width="4.6" transform="rotate(15.4 1114.5 149.7)"/>
<rect x="1106.1" y="193.4" width="16.8" height="16.8" fill="#fff" stroke="#000" stroke-width="4.6" transform="rotate(22.8 1114.5 201.8)"/>
<rect x="1106.4" y="246.5" width="16.2" height="16.2" fill="#fff" stroke="#000" stroke-width="4.6" transform="rotate(30.2 1114.5 254.6)"/>
<rect x="1106.7" y="299.9" width="15.6" height="15.6" fill="#fff" stroke="#000" stroke-width="4.6" transform="rotate(37.6 1114.5 307.7)"/>
<rect x="1107" y="353.1" width="15" height="15" fill="#fff" stroke="#000" stroke-width="4.6" transform="rotate(45 1114.5 360.6)"/>
<rect x="1463" y="114" width="18" height="18" fill="#fff" stroke="#000" stroke-width="4.6" transform="rotate(8 1472 123)"/>
<rect x="1463.4" y="167.9" width="17.2" height="17.2" fill="#fff" stroke="#000" stroke-width="4.6" transform="rotate(17.2 1472 176.5)"/>
<rect x="1463.8" y="222.2" width="16.5" height="16.5" fill="#fff" stroke="#000" stroke-width="4.6" transform="rotate(26.5 1472 230.4)"/>
<rect x="1464.1" y="273.7" width="15.8" height="15.8" fill="#fff" stroke="#000" stroke-width="4.6" transform="rotate(35.8 1472 281.6)"/>
<rect x="1464.5" y="326.5" width="15" height="15" fill="#fff" stroke="#000" stroke-width="4.6" transform="rotate(45 1472 334)"/>
<rect x="2226" y="87.3" width="18" height="18" fill="#fff" stroke="#000" stroke-width="4.6" transform="rotate(8 2235 96.3)"/>
<rect x="2226.3" y="141" width="17.4" height="17.4" fill="#fff" stroke="#000" stroke-width="4.6" transform="rotate(15.4 2235 149.7)"/>
<rect x="2226.6" y="193.4" width="16.8" height="16.8" fill="#fff" stroke="#000" stroke-width="4.6" transform="rotate(22.8 2235 201.8)"/>
<rect x="2226.9" y="246.5" width="16.2" height="16.2" fill="#fff" stroke="#000" stroke-width="4.6" transform="rotate(30.2 2235 254.6)"/>
<rect x="2227.2" y="299.9" width="15.6" height="15.6" fill="#fff" stroke="#000" stroke-width="4.6" transform="rotate(37.6 2235 307.7)"/>
<rect x="2227.5" y="353.1" width="15" height="15" fill="#fff" stroke="#000" stroke-width="4.6" transform="rotate(45 2235 360.6)"/>
</g>
<rect x="447" y="784.4" width="968.7" height="401.6" fill="none" stroke="#000" stroke-width="4.6"/>
<line x1="429" y1="784.4" x2="447" y2="784.4" stroke="#000" stroke-width="4.5" stroke-linecap="round"/>
<line x1="429" y1="820.9" x2="447" y2="820.9" stroke="#000" stroke-width="4.5" stroke-linecap="round"/>
<line x1="429" y1="857.4" x2="447" y2="857.4" stroke="#000" stroke-width="4.5" stroke-linecap="round"/>
<line x1="429" y1="893.9" x2="447" y2="893.9" stroke="#000" stroke-width="4.5" stroke-linecap="round"/>
<line x1="429" y1="930.4" x2="447" y2="930.4" stroke="#000" stroke-width="4.5" stroke-linecap="round"/>
<line x1="429" y1="966.9" x2="447" y2="966.9" stroke="#000" stroke-width="4.5" stroke-linecap="round"/>
<line x1="429" y1="1003.5" x2="447" y2="1003.5" stroke="#000" stroke-width="4.5" stroke-linecap="round"/>
<line x1="429" y1="1040" x2="447" y2="1040" stroke="#000" stroke-width="4.5" stroke-linecap="round"/>
<line x1="429" y1="1076.5" x2="447" y2="1076.5" stroke="#000" stroke-width="4.5" stroke-linecap="round"/>
<line x1="429" y1="1113" x2="447" y2="1113" stroke="#000" stroke-width="4.5" stroke-linecap="round"/>
<line x1="429" y1="1149.5" x2="447" y2="1149.5" stroke="#000" stroke-width="4.5" stroke-linecap="round"/>
<line x1="429" y1="1186" x2="447" y2="1186" stroke="#000" stroke-width="4.5" stroke-linecap="round"/>
<line x1="447" y1="1186" x2="447" y2="1203" stroke="#000" stroke-width="4.5" stroke-linecap="round"/>
<text x="447" y="1269" font-size="62" text-anchor="middle" style="" textLength="31.5" lengthAdjust="spacingAndGlyphs" >0</text>
<line x1="640.7" y1="1186" x2="640.7" y2="1203" stroke="#000" stroke-width="4.5" stroke-linecap="round"/>
<text x="640.7" y="1269" font-size="62" text-anchor="middle" style="" textLength="94.5" lengthAdjust="spacingAndGlyphs" >200</text>
<line x1="834.5" y1="1186" x2="834.5" y2="1203" stroke="#000" stroke-width="4.5" stroke-linecap="round"/>
<text x="834.5" y="1269" font-size="62" text-anchor="middle" style="" textLength="94.5" lengthAdjust="spacingAndGlyphs" >400</text>
<line x1="1028.2" y1="1186" x2="1028.2" y2="1203" stroke="#000" stroke-width="4.5" stroke-linecap="round"/>
<text x="1028.2" y="1269" font-size="62" text-anchor="middle" style="" textLength="94.5" lengthAdjust="spacingAndGlyphs" >600</text>
<line x1="1222" y1="1186" x2="1222" y2="1203" stroke="#000" stroke-width="4.5" stroke-linecap="round"/>
<text x="1222" y="1269" font-size="62" text-anchor="middle" style="" textLength="94.5" lengthAdjust="spacingAndGlyphs" >800</text>
<line x1="1415.7" y1="1186" x2="1415.7" y2="1203" stroke="#000" stroke-width="4.5" stroke-linecap="round"/>
<text x="1415.7" y="1269" font-size="62" text-anchor="middle" style="" textLength="126" lengthAdjust="spacingAndGlyphs" >1000</text>
<text x="844.6" y="1355.7" font-size="60" text-anchor="start" style="font-style:italic;" textLength="31" lengthAdjust="spacingAndGlyphs" >x</text>
<line x1="906.4" y1="1312.7" x2="884.1" y2="1369.3" stroke="#000" stroke-width="2.8" stroke-linecap="butt"/>
<text x="916.1" y="1355.7" font-size="60" text-anchor="start" style="" textLength="103" lengthAdjust="spacingAndGlyphs" >mm</text>
<text x="476" y="859.4" font-size="66" text-anchor="start" style="" textLength="78" lengthAdjust="spacingAndGlyphs" >(d)</text>
<text x="405" y="804.2" font-size="62" text-anchor="end" style="" textLength="94.5" lengthAdjust="spacingAndGlyphs" >150</text>
<text x="405" y="854.4" font-size="62" text-anchor="end" style="" textLength="94.5" lengthAdjust="spacingAndGlyphs" >100</text>
<text x="405" y="904.6" font-size="62" text-anchor="end" style="" textLength="63" lengthAdjust="spacingAndGlyphs" >50</text>
<text x="405" y="954.8" font-size="62" text-anchor="end" style="" textLength="31.5" lengthAdjust="spacingAndGlyphs" >0</text>
<text x="405" y="1005" font-size="62" text-anchor="end" style="" textLength="63" lengthAdjust="spacingAndGlyphs" >50</text>
<rect x="294" y="989" width="38" height="2.8" fill="#000"/>
<text x="405" y="1055.2" font-size="62" text-anchor="end" style="" textLength="94.5" lengthAdjust="spacingAndGlyphs" >100</text>
<rect x="264" y="1039.2" width="38" height="2.8" fill="#000"/>
<text x="405" y="1105.4" font-size="62" text-anchor="end" style="" textLength="94.5" lengthAdjust="spacingAndGlyphs" >150</text>
<rect x="264" y="1089.4" width="38" height="2.8" fill="#000"/>
<text x="405" y="1155.6" font-size="62" text-anchor="end" style="" textLength="94.5" lengthAdjust="spacingAndGlyphs" >200</text>
<rect x="264" y="1139.6" width="38" height="2.8" fill="#000"/>
<text x="405" y="1205.8" font-size="62" text-anchor="end" style="" textLength="94.5" lengthAdjust="spacingAndGlyphs" >250</text>
<rect x="264" y="1189.8" width="38" height="2.8" fill="#000"/>
<g transform="translate(1528.200 777.895) scale(0.380431)">
<g clip-path="url(#dom)"><g filter="url(#jet)">
<g filter="url(#fb11)">
<rect x="-100" y="-100" width="2800" height="1300" fill="url(#te_base)"/>
<g style="mix-blend-mode:lighten">
<g style="mix-blend-mode:lighten"><path d="M959 640l2 50l-3 51l-7 53l-15 51l-25 49l-33 44l-41 38l-47 28l-52 17l-54 7l-53 -3l-51 -12l-46 -23l-40 -27l-35 -30l-31 -30l-27 -29l-26 -29l-24 -29l-24 -30l-24 -31l-24 -34l-27 -38l-30 -43l-33 -51l-31 -62l-11 -66l57 -38l85 -6l71 3l54 3l43 4l36 2l31 2l29 2l27 1l27 2l27 2l29 2l31 3l35 3l39 6l44 10l49 16l44 27l29 40l17 46z" fill="#171717"/><path d="M895 640l3 42l-1 43l-4 45l-10 45l-17 44l-24 43l-30 40l-40 31l-48 14l-51 0l-49 -12l-44 -20l-38 -25l-33 -26l-27 -27l-25 -25l-21 -24l-20 -24l-20 -23l-18 -24l-19 -25l-20 -27l-23 -30l-24 -35l-29 -42l-29 -51l-18 -58l30 -42l64 -14l62 -1l49 1l41 2l34 3l30 2l28 2l26 3l25 3l26 4l25 4l27 6l29 6l31 9l35 11l37 16l34 25l23 33l15 38z" fill="#1b1b1b"/><path d="M830 640l4 34l2 35l-1 37l-5 38l-9 41l-14 42l-20 42l-33 32l-44 12l-48 -6l-45 -23l-37 -27l-30 -27l-25 -25l-20 -23l-18 -21l-16 -19l-15 -18l-14 -18l-14 -18l-14 -19l-16 -20l-17 -23l-20 -26l-24 -32l-27 -40l-25 -50l2 -47l44 -22l52 -6l46 0l38 1l33 2l29 2l26 3l25 4l24 4l23 6l22 8l23 8l23 9l24 11l25 14l25 16l24 21l17 26l12 30z" fill="#1f1f1f"/><path d="M766 640l5 25l4 27l2 30l0 32l-1 36l-4 42l-11 44l-26 33l-39 10l-45 -13l-40 -32l-31 -35l-22 -30l-17 -23l-14 -19l-11 -16l-10 -15l-9 -13l-9 -12l-9 -13l-10 -12l-11 -13l-12 -15l-15 -18l-19 -22l-25 -30l-33 -42l-25 -51l23 -30l43 -10l41 -3l36 0l31 2l28 2l25 4l24 5l22 6l21 8l20 10l18 11l17 12l16 14l15 15l14 16l13 18l12 20l10 22z" fill="#242424"/><path d="M736 640l5 21l3 23l1 24l0 27l-2 30l-5 33l-10 35l-21 26l-35 4l-36 -16l-32 -26l-24 -28l-17 -22l-13 -18l-11 -14l-9 -13l-8 -11l-7 -10l-8 -9l-7 -10l-8 -10l-8 -10l-10 -12l-12 -14l-16 -18l-20 -23l-27 -34l-25 -44l3 -36l30 -18l38 -3l34 1l30 3l26 3l23 4l22 5l20 7l19 8l17 10l15 11l15 12l13 13l12 14l11 14l11 16l9 17l8 18z" fill="#272727"/><path d="M707 640l4 17l2 19l0 19l-1 21l-2 24l-5 25l-9 26l-18 19l-29 -3l-29 -18l-23 -21l-17 -20l-12 -15l-10 -12l-7 -10l-7 -9l-6 -7l-5 -8l-6 -6l-5 -7l-6 -7l-7 -8l-7 -9l-9 -10l-12 -13l-15 -18l-22 -25l-25 -37l-16 -43l16 -25l35 -3l32 2l28 3l25 4l21 5l20 6l18 6l17 9l14 11l13 11l11 11l11 12l9 13l8 13l8 13l7 14l6 15z" fill="#2a2a2a"/><path d="M677 640l3 13l2 14l0 15l-2 16l-3 16l-6 17l-8 17l-14 12l-23 -10l-22 -20l-14 -16l-10 -11l-7 -8l-6 -7l-5 -5l-4 -5l-4 -4l-4 -4l-3 -5l-4 -4l-4 -4l-4 -5l-5 -5l-7 -7l-7 -8l-11 -12l-15 -17l-25 -30l-37 -50l3 -32l32 -3l31 2l26 5l22 5l20 5l18 6l16 7l14 9l12 11l11 11l8 11l7 12l7 11l5 11l5 11l5 11l4 12z" fill="#2e2e2e"/><path d="M653 640l2 10l1 10l0 12l-1 11l-3 13l-4 12l-6 13l-10 9l-18 -7l-16 -16l-11 -11l-7 -9l-5 -6l-5 -5l-3 -4l-3 -4l-3 -3l-3 -3l-3 -3l-3 -3l-3 -3l-3 -4l-4 -4l-4 -5l-6 -6l-8 -9l-12 -13l-19 -22l-27 -37l3 -24l24 -3l22 2l20 3l17 4l15 4l13 4l12 6l11 6l9 8l7 9l7 8l5 9l5 8l4 8l4 9l3 8l3 9z" fill="#2c2c2c"/><path d="M629 640l1 7l1 7l0 7l-1 8l-2 8l-2 9l-5 8l-6 6l-12 -5l-11 -10l-7 -8l-5 -6l-4 -4l-2 -3l-3 -3l-2 -2l-2 -2l-2 -2l-2 -2l-1 -2l-2 -3l-3 -2l-2 -3l-3 -3l-4 -4l-5 -6l-8 -9l-13 -14l-18 -25l2 -16l16 -2l15 1l13 2l11 3l10 3l9 2l8 4l7 5l6 5l5 6l5 5l3 6l3 5l3 6l3 5l2 6l2 6z" fill="#2b2b2b"/><path d="M604 640l1 3l0 4l0 4l0 3l-1 5l-1 4l-2 4l-4 3l-6 -2l-5 -6l-4 -3l-2 -3l-2 -2l-1 -2l-1 -1l-1 -2l-1 -1l-1 -1l-1 -1l-1 -1l-1 -1l-1 -1l-2 -1l-1 -2l-2 -2l-3 -3l-4 -4l-6 -8l-9 -12l1 -8l8 -1l7 1l7 1l6 1l5 1l4 2l4 2l4 2l3 2l2 3l2 3l2 3l2 3l1 2l1 3l1 3l1 3z" fill="#292929"/></g>
<g style="mix-blend-mode:lighten"><path d="M2082 660l0 50l-4 51l-9 51l-18 49l-27 46l-34 41l-40 35l-47 25l-51 15l-51 5l-51 -4l-48 -11l-44 -21l-38 -26l-33 -28l-30 -28l-26 -27l-25 -27l-23 -28l-23 -28l-23 -30l-24 -33l-26 -36l-29 -41l-33 -50l-35 -60l-23 -70l36 -50l83 -12l74 0l59 4l48 4l39 3l35 2l31 2l30 1l29 2l30 2l32 2l34 4l37 4l43 7l46 12l48 20l39 33l24 43l13 48z" fill="#171717"/><path d="M2019 660l1 42l-2 43l-6 44l-12 43l-19 42l-24 41l-31 36l-41 26l-47 11l-49 -2l-46 -13l-41 -18l-36 -23l-30 -24l-27 -24l-23 -24l-20 -22l-20 -22l-18 -23l-18 -22l-18 -24l-19 -26l-21 -28l-24 -33l-27 -40l-31 -49l-26 -59l11 -52l55 -24l64 -4l53 0l45 3l38 2l33 2l30 3l29 3l28 3l28 4l28 6l29 6l31 8l34 10l36 14l37 19l30 29l19 36l11 39z" fill="#1b1b1b"/><path d="M1956 660l2 34l0 35l-2 36l-6 38l-11 39l-15 40l-23 38l-34 25l-44 8l-45 -8l-41 -23l-35 -25l-28 -25l-23 -22l-19 -21l-17 -19l-14 -18l-14 -17l-13 -17l-13 -16l-14 -18l-14 -19l-16 -21l-18 -24l-22 -30l-27 -37l-29 -49l-14 -54l28 -35l52 -10l48 -2l42 0l36 2l32 3l29 3l28 4l26 5l26 7l25 8l24 10l25 11l25 13l26 15l25 19l21 24l16 29l9 31z" fill="#1f1f1f"/><path d="M1892 660l4 26l2 27l1 29l0 32l-3 35l-5 40l-14 39l-28 26l-40 4l-42 -15l-37 -32l-28 -32l-20 -27l-15 -21l-12 -17l-11 -14l-9 -13l-8 -12l-8 -11l-8 -11l-8 -12l-10 -12l-10 -13l-13 -16l-17 -20l-23 -26l-32 -38l-39 -56l0 -46l41 -16l43 -5l39 -1l34 1l31 3l29 4l26 5l25 7l23 9l21 12l20 13l18 14l17 16l16 17l14 18l12 20l11 22l8 23z" fill="#242424"/><path d="M1863 660l2 22l2 22l0 24l-2 26l-3 29l-6 31l-12 31l-26 17l-34 -4l-33 -16l-28 -24l-21 -25l-15 -19l-11 -15l-10 -13l-7 -11l-7 -10l-7 -8l-6 -9l-6 -8l-6 -9l-8 -9l-8 -10l-10 -12l-13 -15l-17 -20l-25 -30l-33 -44l-13 -46l14 -33l38 -7l37 0l33 2l29 3l27 5l24 5l23 8l21 10l18 12l17 13l15 14l14 15l13 16l11 16l9 17l9 19l6 19z" fill="#272727"/><path d="M1833 660l2 17l0 19l-1 19l-2 20l-4 22l-6 23l-12 21l-22 8l-29 -10l-24 -17l-19 -18l-14 -16l-10 -12l-8 -10l-6 -9l-5 -7l-5 -6l-4 -6l-5 -5l-4 -6l-5 -6l-5 -6l-5 -7l-8 -8l-9 -10l-12 -14l-18 -21l-26 -33l-26 -45l-13 -51l33 -9l35 0l31 3l28 4l25 5l22 7l21 8l18 10l16 13l14 13l12 14l11 14l9 14l8 15l8 15l6 15l5 16z" fill="#2a2a2a"/><path d="M1803 660l1 13l-1 14l-2 14l-3 15l-4 14l-7 15l-10 12l-19 0l-23 -18l-16 -17l-10 -11l-7 -8l-5 -6l-4 -4l-3 -4l-3 -3l-3 -3l-2 -3l-2 -3l-3 -3l-3 -3l-3 -3l-3 -4l-4 -4l-5 -6l-8 -8l-11 -12l-19 -21l-39 -45l-40 -68l28 -12l33 1l30 4l26 5l22 6l21 7l19 8l16 12l13 13l11 14l9 13l8 13l6 13l5 13l5 12l4 12l3 13z" fill="#2e2e2e"/><path d="M1778 660l0 10l0 10l-1 11l-3 11l-3 11l-5 11l-8 9l-14 0l-18 -14l-12 -13l-7 -8l-5 -6l-4 -4l-3 -3l-2 -3l-2 -3l-2 -2l-2 -2l-2 -2l-2 -2l-2 -2l-2 -3l-3 -3l-3 -3l-4 -4l-5 -6l-8 -9l-15 -16l-29 -34l-30 -51l21 -9l25 1l22 3l20 4l17 4l15 5l14 6l12 9l10 10l8 10l7 10l6 10l5 10l3 9l4 9l3 10l2 9z" fill="#2c2c2c"/><path d="M1753 660l0 7l0 7l-1 7l-2 7l-2 7l-4 7l-5 7l-9 0l-12 -10l-8 -8l-5 -6l-3 -4l-2 -2l-2 -3l-2 -1l-1 -2l-2 -2l-1 -1l-1 -1l-2 -2l-1 -1l-1 -2l-2 -2l-2 -2l-3 -3l-3 -4l-6 -6l-9 -10l-20 -23l-20 -34l14 -6l17 1l14 2l13 2l12 3l10 3l9 5l8 5l7 7l6 7l4 7l4 6l3 7l3 6l2 6l2 6l2 6z" fill="#2b2b2b"/><path d="M1727 660l0 3l0 4l0 3l-1 4l-1 4l-2 3l-2 3l-5 0l-6 -4l-4 -5l-2 -2l-2 -2l-1 -2l-1 -1l-1 -1l-1 -1l0 0l-1 -1l-1 -1l0 0l-1 -1l-1 -1l-1 -1l-1 -1l-1 -1l-2 -2l-2 -3l-5 -6l-10 -11l-10 -17l7 -3l8 0l8 1l6 2l6 1l5 2l5 2l4 3l3 3l3 3l2 4l2 3l2 3l1 3l1 3l1 4l1 3z" fill="#292929"/></g>
<g style="mix-blend-mode:lighten"><path d="M1530 450l-15 28l-23 23l-30 16l-33 7l-28 3l-22 2l-18 0l-15 1l-13 0l-12 0l-10 0l-11 0l-11 0l-10 0l-12 0l-13 0l-15 -1l-18 0l-22 -1l-29 -3l-36 -6l-34 -16l-25 -23l-15 -30l11 -30l64 -14l50 -4l30 -1l20 -1l15 0l12 0l9 0l8 0l8 0l6 0l7 0l7 0l6 0l8 0l8 0l9 0l12 0l14 1l20 0l30 2l49 3l57 15z" fill="#333333"/><path d="M1472 450l-11 21l-17 18l-22 11l-25 6l-21 2l-17 1l-13 0l-11 1l-10 0l-9 0l-8 0l-8 0l-8 0l-8 0l-9 0l-10 0l-11 0l-13 -1l-17 -1l-21 -2l-27 -5l-26 -11l-19 -18l-11 -22l8 -23l48 -10l38 -3l23 -1l15 0l11 0l8 0l7 0l6 -1l6 0l5 0l5 0l5 0l5 0l6 1l6 0l7 0l8 0l11 0l15 1l23 1l36 2l43 11z" fill="#363636"/><path d="M1415 450l-7 14l-12 12l-15 8l-17 3l-14 2l-11 0l-9 1l-7 0l-6 0l-6 0l-6 0l-5 0l-5 0l-6 0l-6 0l-6 0l-7 0l-9 -1l-12 0l-14 -1l-18 -4l-17 -7l-12 -12l-8 -15l6 -15l31 -7l25 -2l16 0l10 -1l7 0l6 0l5 0l4 0l3 0l4 0l3 0l3 0l4 0l3 0l4 0l5 0l6 0l7 0l10 1l15 0l24 2l29 8z" fill="#393939"/><path d="M1357 450l-3 7l-6 6l-7 4l-9 2l-7 0l-5 1l-5 0l-3 0l-4 0l-3 0l-2 0l-3 0l-3 0l-2 0l-3 0l-4 0l-3 0l-5 0l-5 -1l-7 0l-9 -2l-9 -4l-6 -6l-4 -7l3 -8l16 -3l12 -1l8 0l5 0l4 0l2 0l3 0l2 -1l2 0l1 0l2 0l2 0l1 0l2 1l2 0l3 0l2 0l4 0l5 0l8 0l12 1l14 4z" fill="#3d3d3d"/></g>
<g style="mix-blend-mode:lighten"><path d="M1218 150l-16 66l-19 63l-20 63l-19 64l-65 34l-66 23l-60 16l-56 13l-51 10l-49 9l-48 9l-49 10l-51 11l-57 13l-65 15l-73 8l-81 0l-74 -26l-76 -35l-55 -59l-27 -75l-24 -76l-22 -76l-18 -80l-8 -83l13 -83l50 -69l92 -40l95 -17l79 -10l66 -5l57 -4l50 -1l45 -1l43 -1l41 1l41 1l42 1l45 2l48 4l55 4l61 9l73 12l78 24l61 47l24 67l1 72z" fill="#404040"/><path d="M1201 150l-16 64l-18 61l-20 60l-18 63l-62 34l-70 15l-59 13l-53 10l-49 8l-46 8l-45 8l-45 8l-47 9l-53 11l-59 11l-67 9l-79 6l-76 -17l-73 -32l-43 -62l-24 -71l-21 -71l-20 -71l-15 -74l-7 -77l13 -76l45 -65l84 -37l87 -18l73 -9l61 -6l53 -3l47 -2l42 -1l40 -1l39 1l39 1l39 1l42 2l46 3l51 4l59 7l68 12l76 22l63 42l27 63l2 70z" fill="#4a4a4a"/><path d="M1184 150l-15 62l-18 59l-19 58l-18 60l-58 35l-75 7l-58 9l-51 8l-46 7l-43 6l-41 6l-42 6l-44 7l-47 9l-53 9l-62 9l-77 12l-79 -7l-70 -31l-31 -64l-20 -67l-19 -65l-17 -67l-12 -68l-5 -71l12 -70l40 -59l75 -36l79 -17l67 -10l58 -5l48 -4l44 -1l40 -1l37 -1l36 0l36 1l37 1l39 1l43 3l48 4l56 6l64 11l74 19l64 38l30 60l3 66z" fill="#555555"/><path d="M1167 150l-15 60l-17 56l-19 56l-16 59l-55 34l-80 0l-57 6l-49 5l-43 5l-39 5l-39 4l-38 5l-40 5l-42 6l-48 7l-56 9l-75 18l-82 3l-66 -29l-19 -67l-17 -63l-17 -60l-14 -61l-10 -63l-2 -64l10 -64l36 -55l66 -34l71 -17l61 -10l54 -4l45 -4l40 -2l37 0l34 -1l34 -1l34 1l34 1l37 1l40 2l44 4l53 5l60 10l72 16l66 34l32 56l5 63z" fill="#606060"/><path d="M1160 150l-16 59l-18 55l-20 54l-43 42l-62 21l-71 -1l-52 2l-42 4l-37 3l-34 3l-33 3l-32 3l-33 4l-36 5l-40 5l-48 9l-71 26l-98 29l-58 -31l-18 -63l-16 -59l-15 -57l-12 -57l-8 -59l-2 -60l11 -59l32 -52l59 -33l65 -17l58 -9l49 -5l43 -4l38 -2l35 -1l33 0l32 -1l32 1l33 1l35 1l38 2l42 3l50 5l59 8l70 15l69 30l35 53l7 62z" fill="#6a6a6a"/><path d="M1153 150l-17 57l-19 55l-21 52l-69 25l-71 8l-62 -3l-45 0l-36 1l-31 2l-29 1l-27 2l-26 2l-27 2l-28 3l-33 5l-39 8l-68 35l-114 54l-50 -34l-17 -58l-15 -55l-13 -54l-10 -53l-6 -55l-1 -55l10 -55l28 -49l52 -32l60 -17l54 -9l46 -6l41 -3l36 -2l33 -1l31 -1l30 0l30 0l31 1l33 1l37 2l40 3l48 4l57 7l68 13l72 27l38 50l8 61z" fill="#757575"/><path d="M1146 150l-18 56l-20 53l-22 51l-96 8l-78 -5l-54 -5l-38 -2l-31 -1l-25 0l-23 0l-21 0l-20 0l-21 1l-21 2l-25 3l-31 9l-65 42l-129 80l-42 -36l-16 -54l-14 -51l-11 -51l-9 -49l-4 -51l1 -51l10 -50l24 -45l44 -32l54 -18l51 -8l43 -6l38 -3l34 -2l31 -1l29 -1l29 0l29 0l29 0l31 2l34 1l39 2l45 5l55 6l67 11l75 23l42 48l9 59z" fill="#808080"/><path d="M1142 150l-17 56l-89 34l-27 38l-74 8l-61 -3l-43 -2l-31 -1l-25 0l-21 0l-19 0l-18 0l-17 1l-17 1l-19 1l-20 3l-26 6l-49 29l-94 54l-105 28l-14 -54l-10 -52l-8 -50l-5 -49l0 -48l3 -48l11 -47l32 -38l48 -25l50 -13l45 -7l38 -5l33 -2l29 -3l27 -1l26 0l25 -1l25 0l26 0l28 0l30 1l35 1l41 3l51 4l64 8l77 17l57 40l16 57z" fill="#8a8a8a"/><path d="M1139 150l-17 56l-158 15l-32 25l-52 8l-44 0l-32 0l-24 0l-20 0l-16 1l-16 1l-14 0l-14 1l-14 0l-15 1l-17 2l-20 4l-34 16l-58 28l-168 92l-12 -55l-7 -52l-3 -50l-1 -47l3 -46l5 -45l12 -43l39 -32l52 -18l46 -9l40 -5l32 -4l29 -2l25 -2l23 -1l22 -1l21 -1l22 -1l22 0l24 0l27 0l31 0l37 1l47 2l61 5l79 11l72 32l23 54z" fill="#959595"/><path d="M1136 150l-17 55l-227 -4l-37 13l-31 8l-26 3l-21 2l-17 1l-14 1l-13 1l-11 1l-11 1l-11 0l-11 1l-11 1l-13 1l-15 1l-18 3l-23 2l-232 157l-9 -56l-3 -53l0 -49l3 -46l7 -44l7 -42l13 -40l47 -25l55 -10l43 -6l34 -3l27 -3l24 -2l20 -1l19 -1l18 -2l18 -1l18 -1l19 0l20 -1l23 -1l27 -1l33 0l44 -1l58 1l81 6l87 24l30 52z" fill="#9f9f9f"/><path d="M1053 150l-23 43l-168 0l-35 10l-26 5l-22 3l-17 1l-14 1l-11 1l-10 1l-9 0l-9 1l-9 1l-9 0l-9 1l-11 1l-12 1l-14 2l-19 2l-160 106l-16 -36l-14 -34l-10 -37l-4 -36l1 -37l1 -36l8 -36l38 -23l50 -9l39 -4l30 -3l25 -1l20 -2l18 -1l17 -1l16 0l15 -1l16 -1l16 0l17 -1l20 -1l23 0l29 -1l37 0l50 1l68 6l65 23l20 44z" fill="#a5a5a5"/><path d="M971 150l-31 32l-108 3l-33 6l-22 4l-17 1l-13 1l-10 1l-9 1l-8 0l-7 1l-6 0l-7 1l-7 0l-7 1l-8 1l-9 1l-12 2l-15 2l-88 54l-21 -16l-26 -16l-19 -23l-11 -28l-5 -29l-5 -31l2 -31l29 -22l44 -7l35 -3l28 -1l21 -1l18 -1l16 0l14 -1l13 0l13 -1l13 0l14 0l14 -1l17 0l19 -1l24 0l31 0l42 1l54 5l44 22l9 36z" fill="#aaaaaa"/><path d="M888 150l-37 20l-49 7l-30 3l-19 1l-12 1l-9 0l-7 1l-6 0l-5 1l-5 0l-4 1l-5 0l-5 1l-5 0l-5 1l-7 1l-8 1l-11 2l-17 3l-26 5l-38 2l-29 -10l-18 -19l-11 -22l-11 -25l-4 -27l21 -20l39 -6l31 -2l24 0l19 0l15 0l13 0l12 0l10 0l11 0l11 0l11 0l11 -1l14 0l15 0l19 0l25 0l33 1l42 5l22 21l-1 27z" fill="#b0b0b0"/><path d="M841 150l-28 15l-37 5l-22 2l-14 1l-9 1l-7 0l-5 1l-5 0l-4 0l-3 1l-4 0l-3 0l-4 1l-3 0l-4 1l-5 1l-7 1l-8 1l-12 2l-20 4l-29 1l-21 -8l-13 -13l-9 -17l-8 -19l-3 -20l16 -15l29 -5l23 -1l18 0l14 0l11 0l10 0l9 0l8 0l8 0l8 0l8 0l9 0l10 -1l12 0l14 0l19 0l25 1l30 4l17 15l-1 21z" fill="#b2b2b2"/><path d="M794 150l-19 10l-24 4l-15 1l-9 0l-6 1l-5 0l-3 0l-3 1l-3 0l-2 0l-3 0l-2 1l-2 0l-3 0l-3 1l-3 0l-4 1l-6 1l-8 1l-13 2l-19 1l-15 -5l-8 -9l-6 -11l-5 -13l-2 -13l10 -10l19 -3l16 -1l12 0l9 0l8 0l6 0l6 0l6 0l5 0l5 0l6 0l6 0l6 0l8 -1l10 0l12 0l17 1l20 3l12 10l-1 14z" fill="#b4b4b4"/><path d="M747 150l-9 5l-13 2l-7 0l-5 1l-3 0l-2 0l-2 0l-1 0l-2 0l-1 1l-1 0l-1 0l-1 0l-1 0l-2 0l-1 1l-3 0l-2 0l-4 1l-7 1l-10 1l-7 -3l-4 -4l-3 -6l-3 -6l-1 -7l6 -5l9 -2l8 0l6 0l5 0l3 0l4 0l3 0l2 0l3 0l3 0l2 0l3 0l4 0l4 0l4 0l7 0l8 0l10 1l6 5l-1 7z" fill="#b6b6b6"/></g>
<g style="mix-blend-mode:lighten"><path d="M572 251l-4 18l-7 17l-10 15l-11 14l-11 12l-12 11l-12 10l-13 10l-13 10l-15 10l-16 9l-18 8l-20 5l-19 -4l-13 -20l-7 -23l-4 -20l-3 -16l-1 -15l-1 -12l-1 -10l0 -10l-1 -10l0 -9l0 -9l0 -10l0 -10l1 -11l1 -12l1 -15l2 -18l3 -23l5 -29l12 -32l22 -8l23 11l20 13l18 11l18 6l19 6l19 8l14 14l10 17l8 18l7 18l5 18l3 18z" fill="#b8b8b8"/><path d="M551 251l-2 16l-6 14l-8 14l-8 12l-9 11l-10 11l-10 11l-11 10l-12 9l-14 9l-14 9l-17 7l-18 5l-18 -4l-13 -16l-7 -20l-4 -19l-3 -16l-1 -14l-1 -11l-1 -11l0 -9l0 -9l-1 -9l0 -9l0 -9l1 -10l0 -10l1 -12l0 -15l2 -17l3 -22l6 -26l13 -24l20 -4l21 10l18 12l16 10l15 7l16 7l15 8l12 12l8 15l7 15l6 15l5 16l2 15z" fill="#bebebe"/><path d="M530 251l-1 13l-4 12l-5 12l-6 11l-7 11l-7 11l-9 10l-9 10l-11 10l-12 8l-14 8l-15 6l-17 4l-16 -2l-13 -13l-8 -18l-3 -18l-3 -15l-1 -13l-1 -11l0 -10l-1 -9l0 -9l0 -8l0 -8l0 -9l0 -9l0 -10l0 -12l1 -14l2 -17l3 -21l6 -23l14 -16l19 0l18 10l16 10l13 9l13 8l13 8l11 8l9 11l8 12l6 12l4 12l4 13l3 13z" fill="#c5c5c5"/><path d="M510 251l-1 10l-2 11l-3 10l-4 10l-4 10l-5 10l-6 10l-8 10l-9 10l-12 8l-12 7l-14 5l-15 3l-15 0l-13 -9l-8 -17l-4 -17l-2 -14l-1 -13l-1 -10l0 -9l-1 -9l0 -8l0 -8l0 -8l0 -8l0 -9l0 -10l0 -11l1 -13l1 -16l3 -20l7 -21l15 -8l17 4l16 9l14 8l11 9l10 9l9 8l8 9l7 9l6 9l5 10l4 9l3 10l2 11z" fill="#cccccc"/><path d="M498 251l0 9l-2 9l-2 9l-3 8l-3 9l-5 9l-5 10l-6 9l-8 9l-10 8l-11 7l-13 5l-14 3l-14 -1l-11 -8l-7 -15l-4 -15l-2 -13l-1 -11l-1 -10l0 -9l-1 -7l0 -8l0 -7l0 -7l0 -8l0 -8l0 -9l0 -10l1 -12l2 -14l4 -16l7 -14l13 -5l15 4l13 7l11 7l10 7l8 7l8 7l6 7l6 8l5 7l4 8l4 8l3 9l2 8z" fill="#d2d2d2"/><path d="M486 251l0 7l-1 8l-1 7l-2 8l-3 8l-3 8l-4 8l-6 9l-6 9l-9 8l-10 6l-11 5l-12 2l-13 0l-11 -7l-6 -13l-3 -14l-2 -12l-1 -10l-1 -9l0 -8l-1 -7l0 -6l0 -7l0 -7l0 -6l0 -8l0 -8l1 -9l1 -10l2 -12l4 -12l9 -9l11 -1l12 3l10 6l9 5l8 6l7 5l6 6l5 5l5 6l4 6l3 7l3 6l3 7l2 7z" fill="#d9d9d9"/><path d="M474 251l1 6l0 6l-1 6l-1 7l-2 6l-3 7l-3 8l-4 8l-5 8l-7 8l-9 6l-10 4l-11 3l-11 0l-10 -6l-5 -12l-3 -12l-2 -11l-1 -9l-1 -8l-1 -7l0 -6l0 -6l0 -6l0 -6l0 -6l0 -7l0 -7l1 -8l1 -9l3 -9l5 -9l9 -2l10 2l8 3l8 4l7 3l6 4l5 4l4 4l4 5l4 4l3 4l3 5l3 5l2 5l2 5z" fill="#dfdfdf"/><path d="M463 251l1 4l0 5l-1 5l-1 5l-1 5l-2 5l-3 5l-3 6l-4 7l-5 5l-6 5l-8 3l-8 2l-9 0l-7 -4l-4 -9l-2 -9l-2 -8l0 -7l-1 -6l0 -5l-1 -5l0 -5l0 -4l0 -4l0 -5l0 -5l0 -5l1 -6l1 -7l2 -7l4 -7l6 -1l8 1l6 2l6 3l5 3l4 3l4 3l4 3l3 3l3 3l2 4l2 3l2 4l2 4l1 4z" fill="#e7e7e7"/><path d="M452 251l0 3l0 3l0 3l-1 3l-1 4l-1 3l-1 4l-2 4l-3 4l-4 4l-4 3l-5 2l-5 2l-6 -1l-5 -3l-3 -6l-1 -6l-1 -5l-1 -4l0 -4l0 -4l0 -3l-1 -3l0 -3l0 -3l0 -3l0 -3l1 -4l0 -4l1 -4l1 -5l2 -4l5 -2l5 1l4 2l4 2l3 2l3 2l3 2l2 2l2 2l2 2l2 2l1 3l1 2l1 3l1 2z" fill="#efefef"/><path d="M441 251l0 1l0 2l0 2l0 1l-1 2l0 2l-1 1l-1 2l-2 3l-1 1l-2 2l-3 1l-3 1l-3 0l-2 -2l-1 -3l-1 -3l-1 -2l0 -3l0 -2l0 -1l0 -2l0 -2l0 -1l0 -1l0 -2l0 -2l0 -1l0 -2l0 -3l1 -2l1 -2l2 -1l3 1l2 0l2 1l2 1l1 1l1 1l2 1l1 1l1 1l0 2l1 1l1 1l0 1l1 2z" fill="#f7f7f7"/></g>
<g style="mix-blend-mode:lighten"><path d="M1110 167l1 7l0 7l1 8l0 9l0 11l1 13l-1 16l-1 20l-8 18l-14 6l-16 -1l-15 -5l-14 -6l-12 -7l-10 -9l-7 -13l-4 -12l-3 -12l-3 -10l-2 -8l-2 -8l-2 -8l-2 -8l-2 -8l-2 -9l-2 -9l-3 -11l-2 -12l-1 -15l0 -17l5 -16l10 -12l12 -11l14 -9l15 -7l17 -4l17 1l14 16l7 22l5 19l2 15l2 12l1 10l1 9l1 7l1 7l0 7z" fill="#b0b0b0"/><path d="M1108 167l0 7l1 7l0 7l0 9l1 10l-1 11l0 15l-3 17l-8 14l-13 5l-14 -1l-13 -4l-12 -6l-11 -6l-9 -8l-6 -11l-4 -11l-3 -10l-2 -9l-2 -8l-1 -7l-2 -7l-2 -7l-1 -7l-2 -8l-2 -8l-2 -9l-1 -11l-1 -13l0 -14l4 -14l8 -11l11 -9l12 -8l13 -6l15 -4l15 0l13 10l8 18l5 16l2 14l2 12l1 9l1 9l1 7l1 7l0 6z" fill="#b5b5b5"/><path d="M1106 167l0 6l0 7l1 7l0 8l0 9l-1 11l-1 13l-3 15l-8 10l-12 3l-12 -2l-12 -3l-10 -4l-10 -6l-8 -7l-5 -9l-4 -10l-2 -9l-2 -7l-2 -7l-1 -7l-1 -6l-2 -6l-1 -6l-1 -6l-2 -8l-1 -7l-1 -10l-1 -10l1 -12l3 -12l7 -9l9 -8l10 -6l12 -6l12 -4l13 -1l12 5l9 12l5 15l3 13l1 11l2 9l1 8l0 7l1 6l0 7z" fill="#bababa"/><path d="M1103 167l1 6l0 6l0 7l0 7l0 9l-1 10l-2 12l-4 11l-8 6l-11 1l-10 -1l-10 -3l-9 -3l-8 -4l-7 -6l-5 -8l-3 -8l-2 -8l-1 -7l-2 -6l-1 -5l0 -6l-1 -5l-1 -5l-1 -5l-1 -6l-1 -7l-1 -7l0 -9l1 -9l3 -10l5 -7l7 -7l9 -5l9 -5l10 -4l11 -3l11 1l10 6l5 13l3 12l2 10l1 9l1 8l0 7l1 6l0 6z" fill="#bfbfbf"/><path d="M1092 167l0 5l0 4l0 5l0 6l0 6l0 8l-1 8l-4 9l-6 5l-8 0l-8 -1l-7 -2l-7 -2l-6 -3l-5 -5l-4 -6l-2 -6l-2 -5l-1 -6l0 -4l-1 -4l-1 -4l-1 -4l0 -4l-1 -4l-1 -4l0 -5l-1 -6l0 -6l1 -7l2 -7l4 -6l5 -5l7 -4l6 -4l8 -3l8 -2l9 1l7 4l4 10l2 9l1 8l1 6l1 6l0 5l1 5l0 5z" fill="#c6c6c6"/><path d="M1081 167l0 3l0 3l0 4l0 3l0 5l-1 4l0 6l-2 6l-5 3l-5 1l-5 -1l-5 -1l-4 -2l-5 -2l-3 -3l-2 -4l-2 -4l-1 -4l-1 -3l0 -3l-1 -3l0 -3l-1 -2l0 -3l-1 -3l0 -3l0 -3l-1 -4l0 -4l0 -5l2 -4l3 -4l3 -3l4 -3l5 -3l5 -2l6 -1l5 0l5 3l3 7l1 6l1 5l0 5l1 3l0 4l0 3l1 3z" fill="#cdcdcd"/><path d="M1069 167l0 2l0 1l0 2l0 2l0 2l0 2l0 3l-1 3l-2 2l-3 0l-3 -1l-2 0l-2 -1l-2 -1l-2 -2l-1 -2l-1 -2l-1 -1l0 -2l0 -2l0 -1l-1 -1l0 -2l0 -1l0 -1l-1 -2l0 -1l0 -2l0 -2l0 -3l1 -2l1 -2l2 -2l2 -1l2 -1l3 -1l3 -1l3 0l2 2l1 3l1 3l0 3l1 2l0 2l0 1l0 2l0 2z" fill="#d4d4d4"/></g>
<g style="mix-blend-mode:lighten"><path d="M2340 150l-16 66l-19 63l-20 63l-19 64l-65 34l-66 23l-60 16l-56 13l-51 10l-49 9l-48 9l-49 10l-51 11l-57 13l-65 15l-73 8l-81 0l-74 -26l-76 -35l-55 -59l-27 -75l-24 -76l-22 -76l-18 -80l-8 -83l13 -83l50 -69l92 -40l95 -17l79 -10l66 -5l57 -4l50 -1l45 -1l43 -1l41 1l41 1l42 1l45 2l48 4l55 4l61 9l73 12l78 24l61 47l24 67l1 72z" fill="#404040"/><path d="M2323 150l-16 64l-18 61l-20 60l-18 63l-62 34l-70 15l-59 13l-53 10l-49 8l-46 8l-45 8l-45 8l-47 9l-53 11l-59 11l-67 9l-79 6l-76 -17l-73 -32l-43 -62l-24 -71l-21 -71l-20 -71l-15 -74l-7 -77l13 -76l45 -65l84 -37l87 -18l73 -9l61 -6l53 -3l47 -2l42 -1l40 -1l39 1l39 1l39 1l42 2l46 3l51 4l59 7l68 12l76 22l63 42l27 63l2 70z" fill="#4a4a4a"/><path d="M2306 150l-15 62l-18 59l-19 58l-18 60l-58 35l-75 7l-58 9l-51 8l-46 7l-43 6l-41 6l-42 6l-44 7l-47 9l-53 9l-62 9l-77 12l-79 -7l-70 -31l-31 -64l-20 -67l-19 -65l-17 -67l-12 -68l-5 -71l12 -70l40 -59l75 -36l79 -17l67 -10l58 -5l48 -4l44 -1l40 -1l37 -1l36 0l36 1l37 1l39 1l43 3l48 4l56 6l64 11l74 19l64 38l30 60l3 66z" fill="#555555"/><path d="M2289 150l-15 60l-17 56l-19 56l-16 59l-55 34l-80 0l-57 6l-49 5l-43 5l-39 5l-39 4l-38 5l-40 5l-42 6l-48 7l-56 9l-75 18l-82 3l-66 -29l-19 -67l-17 -63l-17 -60l-14 -61l-10 -63l-2 -64l10 -64l36 -55l66 -34l71 -17l61 -10l54 -4l45 -4l40 -2l37 0l34 -1l34 -1l34 1l34 1l37 1l40 2l44 4l53 5l60 10l72 16l66 34l32 56l5 63z" fill="#606060"/><path d="M2282 150l-16 59l-18 55l-20 54l-43 42l-62 21l-71 -1l-52 2l-42 4l-37 3l-34 3l-33 3l-32 3l-33 4l-36 5l-40 5l-48 9l-71 26l-98 29l-58 -31l-18 -63l-16 -59l-15 -57l-12 -57l-8 -59l-2 -60l11 -59l32 -52l59 -33l65 -17l58 -9l49 -5l43 -4l38 -2l35 -1l33 0l32 -1l32 1l33 1l35 1l38 2l42 3l50 5l59 8l70 15l69 30l35 53l7 62z" fill="#6a6a6a"/><path d="M2275 150l-17 57l-19 55l-21 52l-69 25l-71 8l-62 -3l-45 0l-36 1l-31 2l-29 1l-27 2l-26 2l-27 2l-28 3l-33 5l-39 8l-68 35l-114 54l-50 -34l-17 -58l-15 -55l-13 -54l-10 -53l-6 -55l-1 -55l10 -55l28 -49l52 -32l60 -17l54 -9l46 -6l41 -3l36 -2l33 -1l31 -1l30 0l30 0l31 1l33 1l37 2l40 3l48 4l57 7l68 13l72 27l38 50l8 61z" fill="#757575"/><path d="M2268 150l-18 56l-20 53l-22 51l-96 8l-78 -5l-54 -5l-38 -2l-31 -1l-25 0l-23 0l-21 0l-20 0l-21 1l-21 2l-25 3l-31 9l-65 42l-129 80l-42 -36l-16 -54l-14 -51l-11 -51l-9 -49l-4 -51l1 -51l10 -50l24 -45l44 -32l54 -18l51 -8l43 -6l38 -3l34 -2l31 -1l29 -1l29 0l29 0l29 0l31 2l34 1l39 2l45 5l55 6l67 11l75 23l42 48l9 59z" fill="#808080"/><path d="M2264 150l-17 56l-89 34l-27 38l-74 8l-61 -3l-43 -2l-31 -1l-25 0l-21 0l-19 0l-18 0l-17 1l-17 1l-19 1l-20 3l-26 6l-49 29l-94 54l-105 28l-14 -54l-10 -52l-8 -50l-5 -49l0 -48l3 -48l11 -47l32 -38l48 -25l50 -13l45 -7l38 -5l33 -2l29 -3l27 -1l26 0l25 -1l25 0l26 0l28 0l30 1l35 1l41 3l51 4l64 8l77 17l57 40l16 57z" fill="#8a8a8a"/><path d="M2261 150l-17 56l-158 15l-32 25l-52 8l-44 0l-32 0l-24 0l-20 0l-16 1l-16 1l-14 0l-14 1l-14 0l-15 1l-17 2l-20 4l-34 16l-58 28l-168 92l-12 -55l-7 -52l-3 -50l-1 -47l3 -46l5 -45l12 -43l39 -32l52 -18l46 -9l40 -5l32 -4l29 -2l25 -2l23 -1l22 -1l21 -1l22 -1l22 0l24 0l27 0l31 0l37 1l47 2l61 5l79 11l72 32l23 54z" fill="#959595"/><path d="M2258 150l-17 55l-227 -4l-37 13l-31 8l-26 3l-21 2l-17 1l-14 1l-13 1l-11 1l-11 1l-11 0l-11 1l-11 1l-13 1l-15 1l-18 3l-23 2l-232 157l-9 -56l-3 -53l0 -49l3 -46l7 -44l7 -42l13 -40l47 -25l55 -10l43 -6l34 -3l27 -3l24 -2l20 -1l19 -1l18 -2l18 -1l18 -1l19 0l20 -1l23 -1l27 -1l33 0l44 -1l58 1l81 6l87 24l30 52z" fill="#9f9f9f"/><path d="M2175 150l-23 43l-168 0l-35 10l-26 5l-22 3l-17 1l-14 1l-11 1l-10 1l-9 0l-9 1l-9 1l-9 0l-9 1l-11 1l-12 1l-14 2l-19 2l-160 106l-16 -36l-14 -34l-10 -37l-4 -36l1 -37l1 -36l8 -36l38 -23l50 -9l39 -4l30 -3l25 -1l20 -2l18 -1l17 -1l16 0l15 -1l16 -1l16 0l17 -1l20 -1l23 0l29 -1l37 0l50 1l68 6l65 23l20 44z" fill="#a5a5a5"/><path d="M2093 150l-31 32l-108 3l-33 6l-22 4l-17 1l-13 1l-10 1l-9 1l-8 0l-7 1l-6 0l-7 1l-7 0l-7 1l-8 1l-9 1l-12 2l-15 2l-88 54l-21 -16l-26 -16l-19 -23l-11 -28l-5 -29l-5 -31l2 -31l29 -22l44 -7l35 -3l28 -1l21 -1l18 -1l16 0l14 -1l13 0l13 -1l13 0l14 0l14 -1l17 0l19 -1l24 0l31 0l42 1l54 5l44 22l9 36z" fill="#aaaaaa"/><path d="M2010 150l-37 20l-49 7l-30 3l-19 1l-12 1l-9 0l-7 1l-6 0l-5 1l-5 0l-4 1l-5 0l-5 1l-5 0l-5 1l-7 1l-8 1l-11 2l-17 3l-26 5l-38 2l-29 -10l-18 -19l-11 -22l-11 -25l-4 -27l21 -20l39 -6l31 -2l24 0l19 0l15 0l13 0l12 0l10 0l11 0l11 0l11 0l11 -1l14 0l15 0l19 0l25 0l33 1l42 5l22 21l-1 27z" fill="#b0b0b0"/><path d="M1963 150l-28 15l-37 5l-22 2l-14 1l-9 1l-7 0l-5 1l-5 0l-4 0l-3 1l-4 0l-3 0l-4 1l-3 0l-4 1l-5 1l-7 1l-8 1l-12 2l-20 4l-29 1l-21 -8l-13 -13l-9 -17l-8 -19l-3 -20l16 -15l29 -5l23 -1l18 0l14 0l11 0l10 0l9 0l8 0l8 0l8 0l8 0l9 0l10 -1l12 0l14 0l19 0l25 1l30 4l17 15l-1 21z" fill="#b1b1b1"/><path d="M1916 150l-19 10l-24 4l-15 1l-9 0l-6 1l-5 0l-3 0l-3 1l-3 0l-2 0l-3 0l-2 1l-2 0l-3 0l-3 1l-3 0l-4 1l-6 1l-8 1l-13 2l-19 1l-15 -5l-8 -9l-6 -11l-5 -13l-2 -13l10 -10l19 -3l16 -1l12 0l9 0l8 0l6 0l6 0l6 0l5 0l5 0l6 0l6 0l6 0l8 -1l10 0l12 0l17 1l20 3l12 10l-1 14z" fill="#b2b2b2"/><path d="M1869 150l-9 5l-13 2l-7 0l-5 1l-3 0l-2 0l-2 0l-1 0l-2 0l-1 1l-1 0l-1 0l-1 0l-1 0l-2 0l-1 1l-3 0l-2 0l-4 1l-7 1l-10 1l-7 -3l-4 -4l-3 -6l-3 -6l-1 -7l6 -5l9 -2l8 0l6 0l5 0l3 0l4 0l3 0l2 0l3 0l3 0l2 0l3 0l4 0l4 0l4 0l7 0l8 0l10 1l6 5l-1 7z" fill="#b4b4b4"/></g>
<g style="mix-blend-mode:lighten"><path d="M1694 251l-4 18l-7 17l-10 15l-11 14l-11 12l-12 11l-12 10l-13 10l-13 10l-15 10l-16 9l-18 8l-20 5l-19 -4l-13 -20l-7 -23l-4 -20l-3 -16l-1 -15l-1 -12l-1 -10l0 -10l-1 -10l0 -9l0 -9l0 -10l0 -10l1 -11l1 -12l1 -15l2 -18l3 -23l5 -29l12 -32l22 -8l23 11l20 13l18 11l18 6l19 6l19 8l14 14l10 17l8 18l7 18l5 18l3 18z" fill="#b8b8b8"/><path d="M1673 251l-2 16l-6 14l-8 14l-8 12l-9 11l-10 11l-10 11l-11 10l-12 9l-14 9l-14 9l-17 7l-18 5l-18 -4l-13 -16l-7 -20l-4 -19l-3 -16l-1 -14l-1 -11l-1 -11l0 -9l0 -9l-1 -9l0 -9l0 -9l1 -10l0 -10l1 -12l0 -15l2 -17l3 -22l6 -26l13 -24l20 -4l21 10l18 12l16 10l15 7l16 7l15 8l12 12l8 15l7 15l6 15l5 16l2 15z" fill="#bebebe"/><path d="M1652 251l-1 13l-4 12l-5 12l-6 11l-7 11l-7 11l-9 10l-9 10l-11 10l-12 8l-14 8l-15 6l-17 4l-16 -2l-13 -13l-8 -18l-3 -18l-3 -15l-1 -13l-1 -11l0 -10l-1 -9l0 -9l0 -8l0 -8l0 -9l0 -9l0 -10l0 -12l1 -14l2 -17l3 -21l6 -23l14 -16l19 0l18 10l16 10l13 9l13 8l13 8l11 8l9 11l8 12l6 12l4 12l4 13l3 13z" fill="#c5c5c5"/><path d="M1632 251l-1 10l-2 11l-3 10l-4 10l-4 10l-5 10l-6 10l-8 10l-9 10l-12 8l-12 7l-14 5l-15 3l-15 0l-13 -9l-8 -17l-4 -17l-2 -14l-1 -13l-1 -10l0 -9l-1 -9l0 -8l0 -8l0 -8l0 -8l0 -9l0 -10l0 -11l1 -13l1 -16l3 -20l7 -21l15 -8l17 4l16 9l14 8l11 9l10 9l9 8l8 9l7 9l6 9l5 10l4 9l3 10l2 11z" fill="#cccccc"/><path d="M1620 251l0 9l-2 9l-2 9l-3 8l-3 9l-5 9l-5 10l-6 9l-8 9l-10 8l-11 7l-13 5l-14 3l-14 -1l-11 -8l-7 -15l-4 -15l-2 -13l-1 -11l-1 -10l0 -9l-1 -7l0 -8l0 -7l0 -7l0 -8l0 -8l0 -9l0 -10l1 -12l2 -14l4 -16l7 -14l13 -5l15 4l13 7l11 7l10 7l8 7l8 7l6 7l6 8l5 7l4 8l4 8l3 9l2 8z" fill="#d2d2d2"/><path d="M1608 251l0 7l-1 8l-1 7l-2 8l-3 8l-3 8l-4 8l-6 9l-6 9l-9 8l-10 6l-11 5l-12 2l-13 0l-11 -7l-6 -13l-3 -14l-2 -12l-1 -10l-1 -9l0 -8l-1 -7l0 -6l0 -7l0 -7l0 -6l0 -8l0 -8l1 -9l1 -10l2 -12l4 -12l9 -9l11 -1l12 3l10 6l9 5l8 6l7 5l6 6l5 5l5 6l4 6l3 7l3 6l3 7l2 7z" fill="#d9d9d9"/><path d="M1596 251l1 6l0 6l-1 6l-1 7l-2 6l-3 7l-3 8l-4 8l-5 8l-7 8l-9 6l-10 4l-11 3l-11 0l-10 -6l-5 -12l-3 -12l-2 -11l-1 -9l-1 -8l-1 -7l0 -6l0 -6l0 -6l0 -6l0 -6l0 -7l0 -7l1 -8l1 -9l3 -9l5 -9l9 -2l10 2l8 3l8 4l7 3l6 4l5 4l4 4l4 5l4 4l3 4l3 5l3 5l2 5l2 5z" fill="#dfdfdf"/><path d="M1585 251l1 4l0 5l-1 5l-1 5l-1 5l-2 5l-3 5l-3 6l-4 7l-5 5l-6 5l-8 3l-8 2l-9 0l-7 -4l-4 -9l-2 -9l-2 -8l0 -7l-1 -6l0 -5l-1 -5l0 -5l0 -4l0 -4l0 -5l0 -5l0 -5l1 -6l1 -7l2 -7l4 -7l6 -1l8 1l6 2l6 3l5 3l4 3l4 3l4 3l3 3l3 3l2 4l2 3l2 4l2 4l1 4z" fill="#dfdfdf"/><path d="M1574 251l0 3l0 3l0 3l-1 3l-1 4l-1 3l-1 4l-2 4l-3 4l-4 4l-4 3l-5 2l-5 2l-6 -1l-5 -3l-3 -6l-1 -6l-1 -5l-1 -4l0 -4l0 -4l0 -3l-1 -3l0 -3l0 -3l0 -3l0 -3l1 -4l0 -4l1 -4l1 -5l2 -4l5 -2l5 1l4 2l4 2l3 2l3 2l3 2l2 2l2 2l2 2l2 2l1 3l1 2l1 3l1 2z" fill="#e0e0e0"/><path d="M1563 251l0 1l0 2l0 2l0 1l-1 2l0 2l-1 1l-1 2l-2 3l-1 1l-2 2l-3 1l-3 1l-3 0l-2 -2l-1 -3l-1 -3l-1 -2l0 -3l0 -2l0 -1l0 -2l0 -2l0 -1l0 -1l0 -2l0 -2l0 -1l0 -2l0 -3l1 -2l1 -2l2 -1l3 1l2 0l2 1l2 1l1 1l1 1l2 1l1 1l1 1l0 2l1 1l1 1l0 1l1 2z" fill="#e0e0e0"/></g>
<g style="mix-blend-mode:lighten"><path d="M2232 167l1 7l0 7l1 8l0 9l0 11l1 13l-1 16l-1 20l-8 18l-14 6l-16 -1l-15 -5l-14 -6l-12 -7l-10 -9l-7 -13l-4 -12l-3 -12l-3 -10l-2 -8l-2 -8l-2 -8l-2 -8l-2 -8l-2 -9l-2 -9l-3 -11l-2 -12l-1 -15l0 -17l5 -16l10 -12l12 -11l14 -9l15 -7l17 -4l17 1l14 16l7 22l5 19l2 15l2 12l1 10l1 9l1 7l1 7l0 7z" fill="#b0b0b0"/><path d="M2230 167l0 7l1 7l0 7l0 9l1 10l-1 11l0 15l-3 17l-8 14l-13 5l-14 -1l-13 -4l-12 -6l-11 -6l-9 -8l-6 -11l-4 -11l-3 -10l-2 -9l-2 -8l-1 -7l-2 -7l-2 -7l-1 -7l-2 -8l-2 -8l-2 -9l-1 -11l-1 -13l0 -14l4 -14l8 -11l11 -9l12 -8l13 -6l15 -4l15 0l13 10l8 18l5 16l2 14l2 12l1 9l1 9l1 7l1 7l0 6z" fill="#b5b5b5"/><path d="M2228 167l0 6l0 7l1 7l0 8l0 9l-1 11l-1 13l-3 15l-8 10l-12 3l-12 -2l-12 -3l-10 -4l-10 -6l-8 -7l-5 -9l-4 -10l-2 -9l-2 -7l-2 -7l-1 -7l-1 -6l-2 -6l-1 -6l-1 -6l-2 -8l-1 -7l-1 -10l-1 -10l1 -12l3 -12l7 -9l9 -8l10 -6l12 -6l12 -4l13 -1l12 5l9 12l5 15l3 13l1 11l2 9l1 8l0 7l1 6l0 7z" fill="#bababa"/><path d="M2225 167l1 6l0 6l0 7l0 7l0 9l-1 10l-2 12l-4 11l-8 6l-11 1l-10 -1l-10 -3l-9 -3l-8 -4l-7 -6l-5 -8l-3 -8l-2 -8l-1 -7l-2 -6l-1 -5l0 -6l-1 -5l-1 -5l-1 -5l-1 -6l-1 -7l-1 -7l0 -9l1 -9l3 -10l5 -7l7 -7l9 -5l9 -5l10 -4l11 -3l11 1l10 6l5 13l3 12l2 10l1 9l1 8l0 7l1 6l0 6z" fill="#bfbfbf"/><path d="M2214 167l0 5l0 4l0 5l0 6l0 6l0 8l-1 8l-4 9l-6 5l-8 0l-8 -1l-7 -2l-7 -2l-6 -3l-5 -5l-4 -6l-2 -6l-2 -5l-1 -6l0 -4l-1 -4l-1 -4l-1 -4l0 -4l-1 -4l-1 -4l0 -5l-1 -6l0 -6l1 -7l2 -7l4 -6l5 -5l7 -4l6 -4l8 -3l8 -2l9 1l7 4l4 10l2 9l1 8l1 6l1 6l0 5l1 5l0 5z" fill="#c5c5c5"/><path d="M2203 167l0 3l0 3l0 4l0 3l0 5l-1 4l0 6l-2 6l-5 3l-5 1l-5 -1l-5 -1l-4 -2l-5 -2l-3 -3l-2 -4l-2 -4l-1 -4l-1 -3l0 -3l-1 -3l0 -3l-1 -2l0 -3l-1 -3l0 -3l0 -3l-1 -4l0 -4l0 -5l2 -4l3 -4l3 -3l4 -3l5 -3l5 -2l6 -1l5 0l5 3l3 7l1 6l1 5l0 5l1 3l0 4l0 3l1 3z" fill="#cbcbcb"/><path d="M2191 167l0 2l0 1l0 2l0 2l0 2l0 2l0 3l-1 3l-2 2l-3 0l-3 -1l-2 0l-2 -1l-2 -1l-2 -2l-1 -2l-1 -2l-1 -1l0 -2l0 -2l0 -1l-1 -1l0 -2l0 -1l0 -1l-1 -2l0 -1l0 -2l0 -2l0 -3l1 -2l1 -2l2 -2l2 -1l2 -1l3 -1l3 -1l3 0l2 2l1 3l1 3l0 3l1 2l0 2l0 1l0 2l0 2z" fill="#d0d0d0"/></g>
</g>
</g>
</g></g>
</g>
<g transform="translate(1528.200 777.895) scale(0.380431)">
<path d="M18.4 412 H352 L375 389 V43 H1090 V389 L1113 412 H1473 L1497 389 V43 H2211 V389 L2235 412 H2564.7 V1072.8 H18.4 Z" fill="none" stroke="#000" stroke-width="5.5" stroke-linejoin="round"/>
<rect x="342" y="114" width="18" height="18" fill="#fff" stroke="#000" stroke-width="4.6" transform="rotate(8 351 123)"/>
<rect x="342.4" y="167.9" width="17.2" height="17.2" fill="#fff" stroke="#000" stroke-width="4.6" transform="rotate(17.2 351 176.5)"/>
<rect x="342.8" y="222.2" width="16.5" height="16.5" fill="#fff" stroke="#000" stroke-width="4.6" transform="rotate(26.5 351 230.4)"/>
<rect x="343.1" y="273.7" width="15.8" height="15.8" fill="#fff" stroke="#000" stroke-width="4.6" transform="rotate(35.8 351 281.6)"/>
<rect x="343.5" y="326.5" width="15" height="15" fill="#fff" stroke="#000" stroke-width="4.6" transform="rotate(45 351 334)"/>
<rect x="1105.5" y="87.3" width="18" height="18" fill="#fff" stroke="#000" stroke-width="4.6" transform="rotate(8 1114.5 96.3)"/>
<rect x="1105.8" y="141" width="17.4" height="17.4" fill="#fff" stroke="#000" stroke-width="4.6" transform="rotate(15.4 1114.5 149.7)"/>
<rect x="1106.1" y="193.4" width="16.8" height="16.8" fill="#fff" stroke="#000" stroke-width="4.6" transform="rotate(22.8 1114.5 201.8)"/>
<rect x="1106.4" y="246.5" width="16.2" height="16.2" fill="#fff" stroke="#000" stroke-width="4.6" transform="rotate(30.2 1114.5 254.6)"/>
<rect x="1106.7" y="299.9" width="15.6" height="15.6" fill="#fff" stroke="#000" stroke-width="4.6" transform="rotate(37.6 1114.5 307.7)"/>
<rect x="1107" y="353.1" width="15" height="15" fill="#fff" stroke="#000" stroke-width="4.6" transform="rotate(45 1114.5 360.6)"/>
<rect x="1463" y="114" width="18" height="18" fill="#fff" stroke="#000" stroke-width="4.6" transform="rotate(8 1472 123)"/>
<rect x="1463.4" y="167.9" width="17.2" height="17.2" fill="#fff" stroke="#000" stroke-width="4.6" transform="rotate(17.2 1472 176.5)"/>
<rect x="1463.8" y="222.2" width="16.5" height="16.5" fill="#fff" stroke="#000" stroke-width="4.6" transform="rotate(26.5 1472 230.4)"/>
<rect x="1464.1" y="273.7" width="15.8" height="15.8" fill="#fff" stroke="#000" stroke-width="4.6" transform="rotate(35.8 1472 281.6)"/>
<rect x="1464.5" y="326.5" width="15" height="15" fill="#fff" stroke="#000" stroke-width="4.6" transform="rotate(45 1472 334)"/>
<rect x="2226" y="87.3" width="18" height="18" fill="#fff" stroke="#000" stroke-width="4.6" transform="rotate(8 2235 96.3)"/>
<rect x="2226.3" y="141" width="17.4" height="17.4" fill="#fff" stroke="#000" stroke-width="4.6" transform="rotate(15.4 2235 149.7)"/>
<rect x="2226.6" y="193.4" width="16.8" height="16.8" fill="#fff" stroke="#000" stroke-width="4.6" transform="rotate(22.8 2235 201.8)"/>
<rect x="2226.9" y="246.5" width="16.2" height="16.2" fill="#fff" stroke="#000" stroke-width="4.6" transform="rotate(30.2 2235 254.6)"/>
<rect x="2227.2" y="299.9" width="15.6" height="15.6" fill="#fff" stroke="#000" stroke-width="4.6" transform="rotate(37.6 2235 307.7)"/>
<rect x="2227.5" y="353.1" width="15" height="15" fill="#fff" stroke="#000" stroke-width="4.6" transform="rotate(45 2235 360.6)"/>
</g>
<rect x="1535.2" y="784.4" width="968.7" height="401.6" fill="none" stroke="#000" stroke-width="4.6"/>
<line x1="1517.2" y1="784.4" x2="1535.2" y2="784.4" stroke="#000" stroke-width="4.5" stroke-linecap="round"/>
<line x1="1517.2" y1="820.9" x2="1535.2" y2="820.9" stroke="#000" stroke-width="4.5" stroke-linecap="round"/>
<line x1="1517.2" y1="857.4" x2="1535.2" y2="857.4" stroke="#000" stroke-width="4.5" stroke-linecap="round"/>
<line x1="1517.2" y1="893.9" x2="1535.2" y2="893.9" stroke="#000" stroke-width="4.5" stroke-linecap="round"/>
<line x1="1517.2" y1="930.4" x2="1535.2" y2="930.4" stroke="#000" stroke-width="4.5" stroke-linecap="round"/>
<line x1="1517.2" y1="966.9" x2="1535.2" y2="966.9" stroke="#000" stroke-width="4.5" stroke-linecap="round"/>
<line x1="1517.2" y1="1003.5" x2="1535.2" y2="1003.5" stroke="#000" stroke-width="4.5" stroke-linecap="round"/>
<line x1="1517.2" y1="1040" x2="1535.2" y2="1040" stroke="#000" stroke-width="4.5" stroke-linecap="round"/>
<line x1="1517.2" y1="1076.5" x2="1535.2" y2="1076.5" stroke="#000" stroke-width="4.5" stroke-linecap="round"/>
<line x1="1517.2" y1="1113" x2="1535.2" y2="1113" stroke="#000" stroke-width="4.5" stroke-linecap="round"/>
<line x1="1517.2" y1="1149.5" x2="1535.2" y2="1149.5" stroke="#000" stroke-width="4.5" stroke-linecap="round"/>
<line x1="1517.2" y1="1186" x2="1535.2" y2="1186" stroke="#000" stroke-width="4.5" stroke-linecap="round"/>
<line x1="1535.2" y1="1186" x2="1535.2" y2="1203" stroke="#000" stroke-width="4.5" stroke-linecap="round"/>
<text x="1535.2" y="1269" font-size="62" text-anchor="middle" style="" textLength="31.5" lengthAdjust="spacingAndGlyphs" >0</text>
<line x1="1728.9" y1="1186" x2="1728.9" y2="1203" stroke="#000" stroke-width="4.5" stroke-linecap="round"/>
<text x="1728.9" y="1269" font-size="62" text-anchor="middle" style="" textLength="94.5" lengthAdjust="spacingAndGlyphs" >200</text>
<line x1="1922.7" y1="1186" x2="1922.7" y2="1203" stroke="#000" stroke-width="4.5" stroke-linecap="round"/>
<text x="1922.7" y="1269" font-size="62" text-anchor="middle" style="" textLength="94.5" lengthAdjust="spacingAndGlyphs" >400</text>
<line x1="2116.4" y1="1186" x2="2116.4" y2="1203" stroke="#000" stroke-width="4.5" stroke-linecap="round"/>
<text x="2116.4" y="1269" font-size="62" text-anchor="middle" style="" textLength="94.5" lengthAdjust="spacingAndGlyphs" >600</text>
<line x1="2310.2" y1="1186" x2="2310.2" y2="1203" stroke="#000" stroke-width="4.5" stroke-linecap="round"/>
<text x="2310.2" y="1269" font-size="62" text-anchor="middle" style="" textLength="94.5" lengthAdjust="spacingAndGlyphs" >800</text>
<line x1="2503.9" y1="1186" x2="2503.9" y2="1203" stroke="#000" stroke-width="4.5" stroke-linecap="round"/>
<text x="2503.9" y="1269" font-size="62" text-anchor="middle" style="" textLength="126" lengthAdjust="spacingAndGlyphs" >1000</text>
<text x="1932.9" y="1355.7" font-size="60" text-anchor="start" style="font-style:italic;" textLength="31" lengthAdjust="spacingAndGlyphs" >x</text>
<line x1="1994.6" y1="1312.7" x2="1972.4" y2="1369.3" stroke="#000" stroke-width="2.8" stroke-linecap="butt"/>
<text x="2004.3" y="1355.7" font-size="60" text-anchor="start" style="" textLength="103" lengthAdjust="spacingAndGlyphs" >mm</text>
<text x="1564.2" y="859.4" font-size="66" text-anchor="start" style="" textLength="71.3" lengthAdjust="spacingAndGlyphs" >(e)</text>
<g transform="translate(2615.500 777.895) scale(0.380431)">
<g clip-path="url(#dom)"><g filter="url(#jet)">
<g filter="url(#fb12)">
<rect x="-100" y="-100" width="2800" height="1300" fill="url(#te_base)"/>
<g style="mix-blend-mode:lighten">
<g style="mix-blend-mode:lighten"><path d="M959 640l2 50l-3 51l-7 53l-15 51l-25 49l-33 44l-41 38l-47 28l-52 17l-54 7l-53 -3l-51 -12l-46 -23l-40 -27l-35 -30l-31 -30l-27 -29l-26 -29l-24 -29l-24 -30l-24 -31l-24 -34l-27 -38l-30 -43l-33 -51l-31 -62l-11 -66l57 -38l85 -6l71 3l54 3l43 4l36 2l31 2l29 2l27 1l27 2l27 2l29 2l31 3l35 3l39 6l44 10l49 16l44 27l29 40l17 46z" fill="#171717"/><path d="M895 640l3 42l-1 43l-4 45l-10 45l-17 44l-24 43l-30 40l-40 31l-48 14l-51 0l-49 -12l-44 -20l-38 -25l-33 -26l-27 -27l-25 -25l-21 -24l-20 -24l-20 -23l-18 -24l-19 -25l-20 -27l-23 -30l-24 -35l-29 -42l-29 -51l-18 -58l30 -42l64 -14l62 -1l49 1l41 2l34 3l30 2l28 2l26 3l25 3l26 4l25 4l27 6l29 6l31 9l35 11l37 16l34 25l23 33l15 38z" fill="#1b1b1b"/><path d="M830 640l4 34l2 35l-1 37l-5 38l-9 41l-14 42l-20 42l-33 32l-44 12l-48 -6l-45 -23l-37 -27l-30 -27l-25 -25l-20 -23l-18 -21l-16 -19l-15 -18l-14 -18l-14 -18l-14 -19l-16 -20l-17 -23l-20 -26l-24 -32l-27 -40l-25 -50l2 -47l44 -22l52 -6l46 0l38 1l33 2l29 2l26 3l25 4l24 4l23 6l22 8l23 8l23 9l24 11l25 14l25 16l24 21l17 26l12 30z" fill="#1f1f1f"/><path d="M766 640l5 25l4 27l2 30l0 32l-1 36l-4 42l-11 44l-26 33l-39 10l-45 -13l-40 -32l-31 -35l-22 -30l-17 -23l-14 -19l-11 -16l-10 -15l-9 -13l-9 -12l-9 -13l-10 -12l-11 -13l-12 -15l-15 -18l-19 -22l-25 -30l-33 -42l-25 -51l23 -30l43 -10l41 -3l36 0l31 2l28 2l25 4l24 5l22 6l21 8l20 10l18 11l17 12l16 14l15 15l14 16l13 18l12 20l10 22z" fill="#242424"/><path d="M736 640l5 21l3 23l1 24l0 27l-2 30l-5 33l-10 35l-21 26l-35 4l-36 -16l-32 -26l-24 -28l-17 -22l-13 -18l-11 -14l-9 -13l-8 -11l-7 -10l-8 -9l-7 -10l-8 -10l-8 -10l-10 -12l-12 -14l-16 -18l-20 -23l-27 -34l-25 -44l3 -36l30 -18l38 -3l34 1l30 3l26 3l23 4l22 5l20 7l19 8l17 10l15 11l15 12l13 13l12 14l11 14l11 16l9 17l8 18z" fill="#272727"/><path d="M707 640l4 17l2 19l0 19l-1 21l-2 24l-5 25l-9 26l-18 19l-29 -3l-29 -18l-23 -21l-17 -20l-12 -15l-10 -12l-7 -10l-7 -9l-6 -7l-5 -8l-6 -6l-5 -7l-6 -7l-7 -8l-7 -9l-9 -10l-12 -13l-15 -18l-22 -25l-25 -37l-16 -43l16 -25l35 -3l32 2l28 3l25 4l21 5l20 6l18 6l17 9l14 11l13 11l11 11l11 12l9 13l8 13l8 13l7 14l6 15z" fill="#2a2a2a"/><path d="M677 640l3 13l2 14l0 15l-2 16l-3 16l-6 17l-8 17l-14 12l-23 -10l-22 -20l-14 -16l-10 -11l-7 -8l-6 -7l-5 -5l-4 -5l-4 -4l-4 -4l-3 -5l-4 -4l-4 -4l-4 -5l-5 -5l-7 -7l-7 -8l-11 -12l-15 -17l-25 -30l-37 -50l3 -32l32 -3l31 2l26 5l22 5l20 5l18 6l16 7l14 9l12 11l11 11l8 11l7 12l7 11l5 11l5 11l5 11l4 12z" fill="#2e2e2e"/><path d="M653 640l2 10l1 10l0 12l-1 11l-3 13l-4 12l-6 13l-10 9l-18 -7l-16 -16l-11 -11l-7 -9l-5 -6l-5 -5l-3 -4l-3 -4l-3 -3l-3 -3l-3 -3l-3 -3l-3 -3l-3 -4l-4 -4l-4 -5l-6 -6l-8 -9l-12 -13l-19 -22l-27 -37l3 -24l24 -3l22 2l20 3l17 4l15 4l13 4l12 6l11 6l9 8l7 9l7 8l5 9l5 8l4 8l4 9l3 8l3 9z" fill="#2c2c2c"/><path d="M629 640l1 7l1 7l0 7l-1 8l-2 8l-2 9l-5 8l-6 6l-12 -5l-11 -10l-7 -8l-5 -6l-4 -4l-2 -3l-3 -3l-2 -2l-2 -2l-2 -2l-2 -2l-1 -2l-2 -3l-3 -2l-2 -3l-3 -3l-4 -4l-5 -6l-8 -9l-13 -14l-18 -25l2 -16l16 -2l15 1l13 2l11 3l10 3l9 2l8 4l7 5l6 5l5 6l5 5l3 6l3 5l3 6l3 5l2 6l2 6z" fill="#2b2b2b"/><path d="M604 640l1 3l0 4l0 4l0 3l-1 5l-1 4l-2 4l-4 3l-6 -2l-5 -6l-4 -3l-2 -3l-2 -2l-1 -2l-1 -1l-1 -2l-1 -1l-1 -1l-1 -1l-1 -1l-1 -1l-1 -1l-2 -1l-1 -2l-2 -2l-3 -3l-4 -4l-6 -8l-9 -12l1 -8l8 -1l7 1l7 1l6 1l5 1l4 2l4 2l4 2l3 2l2 3l2 3l2 3l2 3l1 2l1 3l1 3l1 3z" fill="#292929"/></g>
<g style="mix-blend-mode:lighten"><path d="M2082 660l0 50l-4 51l-9 51l-18 49l-27 46l-34 41l-40 35l-47 25l-51 15l-51 5l-51 -4l-48 -11l-44 -21l-38 -26l-33 -28l-30 -28l-26 -27l-25 -27l-23 -28l-23 -28l-23 -30l-24 -33l-26 -36l-29 -41l-33 -50l-35 -60l-23 -70l36 -50l83 -12l74 0l59 4l48 4l39 3l35 2l31 2l30 1l29 2l30 2l32 2l34 4l37 4l43 7l46 12l48 20l39 33l24 43l13 48z" fill="#171717"/><path d="M2019 660l1 42l-2 43l-6 44l-12 43l-19 42l-24 41l-31 36l-41 26l-47 11l-49 -2l-46 -13l-41 -18l-36 -23l-30 -24l-27 -24l-23 -24l-20 -22l-20 -22l-18 -23l-18 -22l-18 -24l-19 -26l-21 -28l-24 -33l-27 -40l-31 -49l-26 -59l11 -52l55 -24l64 -4l53 0l45 3l38 2l33 2l30 3l29 3l28 3l28 4l28 6l29 6l31 8l34 10l36 14l37 19l30 29l19 36l11 39z" fill="#1b1b1b"/><path d="M1956 660l2 34l0 35l-2 36l-6 38l-11 39l-15 40l-23 38l-34 25l-44 8l-45 -8l-41 -23l-35 -25l-28 -25l-23 -22l-19 -21l-17 -19l-14 -18l-14 -17l-13 -17l-13 -16l-14 -18l-14 -19l-16 -21l-18 -24l-22 -30l-27 -37l-29 -49l-14 -54l28 -35l52 -10l48 -2l42 0l36 2l32 3l29 3l28 4l26 5l26 7l25 8l24 10l25 11l25 13l26 15l25 19l21 24l16 29l9 31z" fill="#1f1f1f"/><path d="M1892 660l4 26l2 27l1 29l0 32l-3 35l-5 40l-14 39l-28 26l-40 4l-42 -15l-37 -32l-28 -32l-20 -27l-15 -21l-12 -17l-11 -14l-9 -13l-8 -12l-8 -11l-8 -11l-8 -12l-10 -12l-10 -13l-13 -16l-17 -20l-23 -26l-32 -38l-39 -56l0 -46l41 -16l43 -5l39 -1l34 1l31 3l29 4l26 5l25 7l23 9l21 12l20 13l18 14l17 16l16 17l14 18l12 20l11 22l8 23z" fill="#242424"/><path d="M1863 660l2 22l2 22l0 24l-2 26l-3 29l-6 31l-12 31l-26 17l-34 -4l-33 -16l-28 -24l-21 -25l-15 -19l-11 -15l-10 -13l-7 -11l-7 -10l-7 -8l-6 -9l-6 -8l-6 -9l-8 -9l-8 -10l-10 -12l-13 -15l-17 -20l-25 -30l-33 -44l-13 -46l14 -33l38 -7l37 0l33 2l29 3l27 5l24 5l23 8l21 10l18 12l17 13l15 14l14 15l13 16l11 16l9 17l9 19l6 19z" fill="#272727"/><path d="M1833 660l2 17l0 19l-1 19l-2 20l-4 22l-6 23l-12 21l-22 8l-29 -10l-24 -17l-19 -18l-14 -16l-10 -12l-8 -10l-6 -9l-5 -7l-5 -6l-4 -6l-5 -5l-4 -6l-5 -6l-5 -6l-5 -7l-8 -8l-9 -10l-12 -14l-18 -21l-26 -33l-26 -45l-13 -51l33 -9l35 0l31 3l28 4l25 5l22 7l21 8l18 10l16 13l14 13l12 14l11 14l9 14l8 15l8 15l6 15l5 16z" fill="#2a2a2a"/><path d="M1803 660l1 13l-1 14l-2 14l-3 15l-4 14l-7 15l-10 12l-19 0l-23 -18l-16 -17l-10 -11l-7 -8l-5 -6l-4 -4l-3 -4l-3 -3l-3 -3l-2 -3l-2 -3l-3 -3l-3 -3l-3 -3l-3 -4l-4 -4l-5 -6l-8 -8l-11 -12l-19 -21l-39 -45l-40 -68l28 -12l33 1l30 4l26 5l22 6l21 7l19 8l16 12l13 13l11 14l9 13l8 13l6 13l5 13l5 12l4 12l3 13z" fill="#2e2e2e"/><path d="M1778 660l0 10l0 10l-1 11l-3 11l-3 11l-5 11l-8 9l-14 0l-18 -14l-12 -13l-7 -8l-5 -6l-4 -4l-3 -3l-2 -3l-2 -3l-2 -2l-2 -2l-2 -2l-2 -2l-2 -2l-2 -3l-3 -3l-3 -3l-4 -4l-5 -6l-8 -9l-15 -16l-29 -34l-30 -51l21 -9l25 1l22 3l20 4l17 4l15 5l14 6l12 9l10 10l8 10l7 10l6 10l5 10l3 9l4 9l3 10l2 9z" fill="#2c2c2c"/><path d="M1753 660l0 7l0 7l-1 7l-2 7l-2 7l-4 7l-5 7l-9 0l-12 -10l-8 -8l-5 -6l-3 -4l-2 -2l-2 -3l-2 -1l-1 -2l-2 -2l-1 -1l-1 -1l-2 -2l-1 -1l-1 -2l-2 -2l-2 -2l-3 -3l-3 -4l-6 -6l-9 -10l-20 -23l-20 -34l14 -6l17 1l14 2l13 2l12 3l10 3l9 5l8 5l7 7l6 7l4 7l4 6l3 7l3 6l2 6l2 6l2 6z" fill="#2b2b2b"/><path d="M1727 660l0 3l0 4l0 3l-1 4l-1 4l-2 3l-2 3l-5 0l-6 -4l-4 -5l-2 -2l-2 -2l-1 -2l-1 -1l-1 -1l-1 -1l0 0l-1 -1l-1 -1l0 0l-1 -1l-1 -1l-1 -1l-1 -1l-1 -1l-2 -2l-2 -3l-5 -6l-10 -11l-10 -17l7 -3l8 0l8 1l6 2l6 1l5 2l5 2l4 3l3 3l3 3l2 4l2 3l2 3l1 3l1 3l1 4l1 3z" fill="#292929"/></g>
<g style="mix-blend-mode:lighten"><path d="M1530 450l-15 28l-23 23l-30 16l-33 7l-28 3l-22 2l-18 0l-15 1l-13 0l-12 0l-10 0l-11 0l-11 0l-10 0l-12 0l-13 0l-15 -1l-18 0l-22 -1l-29 -3l-36 -6l-34 -16l-25 -23l-15 -30l11 -30l64 -14l50 -4l30 -1l20 -1l15 0l12 0l9 0l8 0l8 0l6 0l7 0l7 0l6 0l8 0l8 0l9 0l12 0l14 1l20 0l30 2l49 3l57 15z" fill="#333333"/><path d="M1472 450l-11 21l-17 18l-22 11l-25 6l-21 2l-17 1l-13 0l-11 1l-10 0l-9 0l-8 0l-8 0l-8 0l-8 0l-9 0l-10 0l-11 0l-13 -1l-17 -1l-21 -2l-27 -5l-26 -11l-19 -18l-11 -22l8 -23l48 -10l38 -3l23 -1l15 0l11 0l8 0l7 0l6 -1l6 0l5 0l5 0l5 0l5 0l6 1l6 0l7 0l8 0l11 0l15 1l23 1l36 2l43 11z" fill="#363636"/><path d="M1415 450l-7 14l-12 12l-15 8l-17 3l-14 2l-11 0l-9 1l-7 0l-6 0l-6 0l-6 0l-5 0l-5 0l-6 0l-6 0l-6 0l-7 0l-9 -1l-12 0l-14 -1l-18 -4l-17 -7l-12 -12l-8 -15l6 -15l31 -7l25 -2l16 0l10 -1l7 0l6 0l5 0l4 0l3 0l4 0l3 0l3 0l4 0l3 0l4 0l5 0l6 0l7 0l10 1l15 0l24 2l29 8z" fill="#393939"/><path d="M1357 450l-3 7l-6 6l-7 4l-9 2l-7 0l-5 1l-5 0l-3 0l-4 0l-3 0l-2 0l-3 0l-3 0l-2 0l-3 0l-4 0l-3 0l-5 0l-5 -1l-7 0l-9 -2l-9 -4l-6 -6l-4 -7l3 -8l16 -3l12 -1l8 0l5 0l4 0l2 0l3 0l2 -1l2 0l1 0l2 0l2 0l1 0l2 1l2 0l3 0l2 0l4 0l5 0l8 0l12 1l14 4z" fill="#3d3d3d"/></g>
<g style="mix-blend-mode:lighten"><path d="M1230 80l-10 62l-15 60l-17 60l-19 60l-20 64l-20 73l-91 -4l-61 18l-58 14l-57 12l-55 10l-57 11l-59 12l-66 15l-75 17l-86 12l-95 0l-84 -31l-83 -45l-48 -76l-27 -86l-25 -84l-21 -86l-11 -88l9 -88l54 -77l111 -45l111 -18l88 -8l66 -5l55 -1l46 -1l39 -1l36 0l33 1l32 1l32 1l32 1l34 2l37 4l42 3l48 6l56 9l67 15l70 28l43 49l18 61z" fill="#404040"/><path d="M1212 80l-9 60l-13 58l-17 57l-19 58l-19 62l-18 72l-90 -6l-61 14l-56 10l-54 10l-53 9l-53 9l-56 10l-61 12l-69 14l-80 12l-93 7l-88 -21l-74 -47l-39 -77l-24 -81l-23 -79l-17 -81l-9 -82l11 -82l52 -71l105 -40l102 -17l81 -7l61 -4l50 -2l42 -1l36 -1l33 0l31 1l29 1l29 1l30 1l32 2l34 3l38 3l45 5l53 8l62 13l68 25l49 44l20 57z" fill="#4a4a4a"/><path d="M1194 80l-7 57l-13 57l-16 55l-19 56l-18 59l-17 70l-87 -6l-62 8l-54 8l-51 7l-50 8l-50 7l-52 8l-56 9l-64 11l-74 11l-91 14l-92 -10l-66 -49l-29 -78l-22 -76l-19 -75l-15 -75l-6 -76l13 -75l50 -65l99 -36l93 -15l73 -7l56 -4l46 -1l38 -1l33 -1l30 0l28 1l27 0l27 1l27 1l29 1l31 3l36 3l41 4l49 7l59 12l66 21l53 39l23 54z" fill="#555555"/><path d="M1177 80l-7 55l-12 54l-16 54l-17 53l-18 58l-16 67l-85 -7l-61 3l-53 5l-49 6l-46 5l-47 6l-48 6l-52 6l-57 9l-68 10l-90 21l-96 0l-57 -52l-20 -77l-19 -72l-17 -70l-12 -69l-2 -71l14 -69l48 -59l93 -31l83 -14l67 -6l50 -4l42 -1l34 -1l30 0l27 -1l26 1l24 1l24 0l25 1l26 1l29 2l32 3l38 3l45 6l55 10l65 18l57 34l26 50z" fill="#606060"/><path d="M1169 80l-6 54l-14 53l-17 51l-18 52l-29 47l-38 40l-73 -5l-55 2l-46 3l-43 3l-40 4l-40 4l-41 4l-44 5l-49 6l-58 10l-86 30l-117 32l-48 -55l-19 -73l-18 -68l-14 -67l-9 -66l-1 -66l15 -64l46 -55l86 -29l78 -13l62 -5l47 -4l39 -1l32 -1l28 0l25 -1l23 1l23 1l22 0l24 1l24 1l27 2l29 2l36 3l42 5l53 9l64 15l62 30l30 49z" fill="#6a6a6a"/><path d="M1162 80l-7 53l-14 52l-19 49l-20 49l-38 38l-60 13l-62 -4l-48 0l-40 1l-36 2l-34 2l-34 2l-34 2l-36 3l-40 5l-49 8l-83 40l-136 63l-40 -57l-18 -69l-16 -65l-12 -63l-7 -62l2 -62l15 -60l44 -50l80 -27l72 -12l58 -5l43 -3l36 -1l29 -1l26 0l23 0l22 0l21 0l21 1l21 1l23 1l24 1l28 2l33 3l39 5l50 7l64 12l67 27l35 46z" fill="#757575"/><path d="M1155 80l-8 52l-15 50l-19 48l-22 47l-49 27l-82 -14l-50 -1l-41 -2l-34 -2l-30 0l-28 0l-27 1l-27 0l-29 2l-31 2l-39 7l-79 50l-157 95l-30 -61l-18 -64l-14 -61l-10 -60l-5 -58l4 -58l16 -55l42 -46l74 -25l66 -11l53 -4l40 -3l32 -2l28 0l24 0l21 0l20 0l19 0l19 1l20 1l20 1l23 1l26 2l30 2l37 4l47 6l63 10l71 23l40 43z" fill="#808080"/><path d="M1153 80l-7 52l-17 49l-22 47l-49 30l-57 15l-67 -9l-43 0l-35 -1l-30 0l-27 1l-25 0l-24 1l-24 1l-26 1l-29 3l-35 7l-69 42l-162 106l-43 -48l-19 -62l-14 -61l-10 -58l-4 -59l6 -57l23 -53l54 -41l76 -20l63 -9l48 -3l37 -2l29 -1l24 0l21 0l19 0l18 -1l17 1l17 1l17 0l18 1l21 1l23 1l26 3l34 3l42 4l59 9l72 18l58 37z" fill="#858585"/><path d="M1152 80l-7 52l-19 49l-25 44l-77 13l-64 3l-52 -3l-36 1l-30 1l-25 1l-24 1l-22 1l-21 1l-22 1l-23 2l-25 3l-32 7l-60 34l-165 116l-56 -33l-20 -61l-15 -60l-10 -58l-3 -58l8 -57l30 -52l67 -35l78 -16l60 -5l43 -3l33 -1l26 -1l21 0l18 0l17 0l15 0l15 1l15 0l15 1l16 1l17 0l20 1l24 2l30 2l38 4l54 6l73 14l75 31z" fill="#8a8a8a"/><path d="M1150 80l-6 52l-22 48l-27 43l-104 -4l-72 -9l-37 2l-29 3l-24 2l-21 2l-20 2l-19 1l-19 1l-19 2l-20 1l-23 4l-29 7l-50 26l-169 127l-68 -20l-21 -60l-16 -58l-10 -58l-2 -58l10 -56l36 -50l81 -30l80 -11l57 -3l38 -2l29 0l22 0l18 0l16 0l14 0l13 0l13 0l13 1l12 0l14 1l15 1l17 0l21 1l25 2l34 3l50 4l74 9l93 26z" fill="#8f8f8f"/><path d="M1106 80l-20 44l-45 34l-33 29l-77 -3l-53 -6l-28 2l-22 1l-19 2l-16 1l-15 1l-14 1l-14 1l-14 1l-15 1l-17 2l-21 5l-36 18l-115 84l-49 -13l-20 -39l-25 -37l-34 -36l-10 -46l2 -47l25 -43l66 -27l71 -10l49 -2l34 -2l25 0l19 0l16 0l14 0l12 0l12 0l11 0l11 0l11 1l12 0l14 0l15 1l18 1l23 1l31 2l46 3l72 7l87 23z" fill="#949494"/><path d="M1062 80l-34 37l-68 19l-38 15l-51 -1l-34 -3l-20 0l-15 1l-12 1l-11 0l-10 1l-10 0l-9 1l-9 0l-10 1l-11 1l-13 2l-21 9l-62 42l-30 -6l-19 -19l-34 -15l-58 -14l-17 -35l-6 -37l13 -36l52 -24l61 -8l42 -2l29 -2l21 0l17 0l13 0l12 -1l11 0l9 0l10 1l10 0l9 0l11 0l11 0l14 1l16 0l21 1l28 1l41 2l69 5l83 21z" fill="#999999"/><path d="M1018 80l-48 29l-90 6l-45 0l-24 0l-15 0l-11 0l-8 0l-7 0l-6 -1l-5 0l-4 0l-5 0l-5 0l-4 0l-5 0l-6 0l-6 0l-8 0l-11 1l-18 1l-43 8l-82 7l-24 -23l-15 -28l2 -30l37 -20l52 -6l35 -3l24 0l17 -1l14 0l11 -1l10 0l9 0l8 0l8 0l8 0l8 0l9 0l10 0l12 0l14 0l18 1l25 0l38 1l65 4l79 17z" fill="#9e9e9e"/><path d="M951 80l-36 22l-68 4l-33 0l-18 0l-12 0l-8 0l-6 0l-5 0l-4 0l-4 0l-4 0l-3 0l-3 0l-4 0l-4 0l-4 0l-5 0l-6 0l-8 0l-13 1l-32 6l-62 5l-18 -17l-11 -21l1 -22l28 -16l39 -4l26 -2l18 -1l13 0l10 0l9 0l7 0l7 -1l6 0l6 0l6 0l6 0l7 0l7 0l9 0l10 1l14 0l19 0l28 1l49 2l59 14z" fill="#9f9f9f"/><path d="M884 80l-24 14l-45 3l-22 1l-12 0l-8 0l-6 -1l-4 0l-3 0l-3 0l-2 0l-3 0l-2 0l-2 0l-3 0l-2 0l-3 0l-3 0l-4 0l-6 0l-8 1l-22 4l-41 3l-12 -11l-8 -14l2 -15l18 -10l26 -3l17 -1l12 -1l9 0l7 0l6 0l4 0l5 0l4 0l4 0l4 0l4 0l5 0l5 0l5 0l7 0l9 0l13 0l19 1l32 1l40 9z" fill="#9f9f9f"/><path d="M817 80l-12 7l-23 2l-11 0l-6 0l-4 0l-2 0l-2 0l-2 0l-1 0l-2 0l-1 0l-1 0l-1 0l-1 0l-2 0l-1 0l-2 0l-2 0l-2 0l-5 0l-10 2l-21 2l-6 -6l-4 -7l1 -7l9 -6l13 -1l9 -1l6 0l4 0l3 0l3 0l3 0l2 0l2 0l2 0l2 0l2 0l2 0l3 0l3 0l3 0l5 0l6 0l9 0l17 1l19 5z" fill="#a0a0a0"/></g>
<g style="mix-blend-mode:lighten"><path d="M622 250l-10 24l-12 22l-14 19l-16 16l-16 14l-17 12l-16 11l-17 10l-17 9l-18 9l-18 10l-21 11l-23 6l-21 -10l-10 -32l-5 -28l-3 -22l-2 -17l-1 -14l-1 -12l-1 -10l0 -10l-1 -9l0 -9l-1 -9l0 -9l0 -11l0 -11l0 -13l0 -16l2 -19l2 -25l5 -32l14 -28l21 -14l25 -4l25 1l25 4l24 7l25 8l25 10l26 11l23 17l15 24l9 28l3 27l-2 28z" fill="#9e9e9e"/><path d="M604 250l-8 22l-10 20l-13 17l-14 16l-14 13l-15 12l-16 10l-15 9l-16 8l-17 8l-17 8l-19 8l-20 4l-19 -10l-10 -26l-5 -25l-3 -19l-2 -16l-1 -13l-2 -10l0 -10l-1 -9l0 -9l-1 -8l0 -8l-1 -9l0 -10l0 -11l0 -12l0 -15l1 -19l1 -24l6 -30l13 -25l21 -11l23 -3l23 3l22 5l22 6l22 8l22 10l23 11l19 17l14 21l8 24l4 24l0 24z" fill="#a9a9a9"/><path d="M587 250l-7 20l-9 18l-10 16l-13 14l-12 13l-14 11l-14 10l-15 8l-14 7l-16 7l-16 7l-17 5l-18 1l-16 -10l-10 -21l-6 -20l-3 -17l-2 -14l-1 -12l-1 -10l-1 -9l0 -8l-1 -8l-1 -8l0 -8l-1 -8l0 -9l0 -10l-1 -12l0 -15l1 -18l1 -23l5 -29l14 -22l20 -8l21 0l21 3l20 6l20 7l19 8l19 9l18 12l16 15l12 18l8 21l4 21l2 21z" fill="#b4b4b4"/><path d="M569 250l-5 18l-7 16l-9 15l-10 13l-12 12l-12 10l-12 9l-14 8l-13 7l-15 5l-14 5l-16 3l-16 -3l-13 -9l-10 -15l-6 -16l-3 -15l-2 -13l-1 -11l-1 -9l-1 -8l-1 -8l-1 -7l0 -7l-1 -7l-1 -8l0 -9l-1 -9l0 -12l0 -13l0 -18l1 -23l5 -27l13 -18l19 -5l20 1l19 5l18 6l17 7l16 8l16 10l15 11l12 14l10 16l8 17l5 17l3 19z" fill="#bfbfbf"/><path d="M542 250l-3 14l-4 14l-7 13l-8 11l-9 11l-9 9l-11 8l-11 7l-11 6l-12 6l-13 5l-14 3l-14 0l-13 -6l-10 -12l-5 -16l-4 -14l-1 -12l-2 -10l-1 -8l0 -8l-1 -7l-1 -7l0 -7l0 -7l-1 -7l0 -8l0 -9l-1 -10l1 -12l1 -15l2 -18l7 -19l12 -12l15 -2l16 2l15 4l14 5l13 6l13 6l13 8l11 9l9 11l8 12l7 13l5 14l3 14z" fill="#c8c8c8"/><path d="M514 250l0 11l-2 11l-3 11l-6 9l-6 9l-8 8l-8 7l-9 7l-9 6l-10 6l-11 5l-12 4l-13 1l-12 -3l-9 -9l-6 -14l-3 -13l-2 -11l-1 -10l-1 -8l0 -7l-1 -7l0 -7l-1 -6l0 -6l0 -7l0 -7l0 -8l0 -10l1 -10l2 -12l4 -13l7 -10l11 -6l12 0l12 2l11 3l10 5l10 4l9 5l9 6l8 7l7 8l6 9l5 9l4 10l3 10z" fill="#d0d0d0"/><path d="M487 250l2 8l1 8l-1 8l-3 8l-4 8l-6 6l-5 7l-7 6l-7 6l-8 6l-9 5l-10 4l-11 3l-11 0l-10 -6l-6 -12l-3 -12l-1 -11l-1 -9l-1 -8l-1 -7l0 -6l0 -6l0 -6l0 -6l-1 -6l0 -7l1 -7l0 -8l2 -9l3 -10l5 -7l9 -2l10 1l8 2l8 2l7 3l7 3l6 4l5 3l5 4l5 5l4 5l4 5l4 5l4 6l3 7z" fill="#d9d9d9"/><path d="M472 250l2 6l1 6l-1 6l-2 6l-3 6l-4 5l-5 5l-4 4l-6 5l-6 4l-7 4l-7 3l-8 3l-9 0l-7 -5l-4 -9l-2 -9l-2 -8l-1 -7l0 -6l0 -5l-1 -5l0 -5l0 -4l0 -4l0 -5l0 -5l0 -6l1 -6l1 -6l2 -7l4 -6l7 -2l7 1l6 2l6 2l5 2l5 2l5 3l4 2l4 3l3 4l4 3l3 4l2 4l3 5l2 5z" fill="#dadada"/><path d="M458 250l1 4l1 4l-1 4l-1 4l-2 4l-3 3l-3 3l-3 3l-4 3l-4 3l-4 3l-5 2l-5 2l-6 0l-5 -3l-3 -6l-1 -7l-1 -5l-1 -4l0 -4l0 -4l0 -3l-1 -3l0 -3l0 -3l0 -3l0 -3l0 -4l1 -4l0 -5l2 -4l3 -4l4 -1l5 0l4 1l4 2l4 1l3 2l3 1l3 2l2 2l3 2l2 3l2 2l2 3l1 3l2 3z" fill="#dbdbdb"/><path d="M444 250l1 2l0 2l0 2l-1 2l-1 2l-1 2l-2 1l-1 2l-2 1l-2 2l-3 1l-2 1l-3 1l-3 0l-2 -2l-1 -3l-1 -3l-1 -2l0 -3l0 -2l0 -1l0 -2l0 -2l0 -1l0 -1l0 -2l0 -2l0 -2l0 -2l0 -2l1 -2l1 -2l3 -1l2 1l2 0l2 1l2 1l1 0l2 1l1 1l2 1l1 1l1 1l1 2l1 1l1 2l0 1z" fill="#dddddd"/></g>
<g style="mix-blend-mode:lighten"><path d="M1105 160l1 6l0 7l0 7l0 8l0 9l0 11l0 14l-1 20l-2 27l-7 32l-18 12l-20 -4l-18 -11l-15 -14l-10 -19l-7 -18l-5 -15l-4 -13l-3 -11l-2 -11l-3 -9l-1 -10l-2 -9l-2 -9l-1 -10l-2 -10l-1 -11l-1 -13l0 -15l3 -15l6 -15l10 -11l12 -10l14 -8l16 -7l16 -4l17 1l14 12l8 23l3 21l2 15l1 12l1 10l0 8l0 8l1 6l0 7z" fill="#9e9e9e"/><path d="M1105 160l0 6l0 7l0 7l0 7l0 9l0 11l0 14l-1 18l-4 23l-8 23l-16 8l-18 -4l-16 -9l-13 -12l-9 -16l-6 -16l-4 -14l-3 -11l-2 -10l-2 -9l-2 -8l-1 -8l-2 -8l-1 -8l-1 -8l-2 -9l-1 -10l-1 -11l0 -12l2 -14l5 -13l8 -11l11 -8l12 -8l13 -6l15 -5l15 0l14 9l8 18l3 18l2 15l2 11l1 10l0 8l1 7l0 7l0 6z" fill="#a7a7a7"/><path d="M1104 160l0 6l0 6l0 7l1 8l0 9l0 11l-1 13l-2 17l-4 19l-11 14l-14 4l-15 -4l-14 -7l-11 -11l-8 -14l-4 -13l-3 -12l-3 -10l-1 -9l-2 -8l-1 -7l-1 -6l-1 -7l-1 -6l-1 -7l-1 -7l-2 -8l0 -9l-1 -11l1 -12l4 -12l7 -9l9 -8l10 -7l11 -6l13 -4l13 -1l13 4l9 14l4 16l2 13l1 12l1 9l1 7l1 7l0 7l1 6z" fill="#afafaf"/><path d="M1103 160l0 6l1 6l0 7l0 8l0 8l0 11l-1 13l-2 16l-6 14l-12 5l-13 0l-12 -4l-11 -5l-10 -8l-6 -12l-4 -12l-2 -10l-1 -9l-2 -7l0 -6l-1 -6l-1 -5l-1 -5l-1 -5l0 -5l-1 -6l-1 -7l-1 -7l-1 -9l0 -10l3 -10l5 -8l7 -7l9 -6l9 -6l11 -5l12 -2l11 1l10 8l4 15l3 12l1 11l1 8l1 8l1 7l0 6l1 6z" fill="#b8b8b8"/><path d="M1092 160l0 4l0 5l0 5l0 6l0 6l0 8l0 10l-2 12l-4 11l-9 4l-10 0l-9 -3l-8 -4l-7 -6l-5 -9l-3 -9l-2 -8l-1 -6l-1 -6l0 -4l-1 -4l0 -4l-1 -4l-1 -4l0 -4l-1 -4l-1 -5l0 -6l-1 -6l0 -8l2 -7l4 -7l6 -5l6 -4l7 -5l8 -3l9 -2l9 1l6 6l4 11l2 9l1 8l1 7l0 5l1 5l0 5l1 5z" fill="#bbbbbb"/><path d="M1081 160l0 3l0 3l0 3l0 4l0 5l0 5l0 6l-1 8l-4 7l-5 3l-7 0l-6 -2l-6 -3l-4 -4l-4 -5l-1 -6l-2 -5l0 -5l-1 -3l0 -3l-1 -3l0 -3l0 -2l-1 -3l0 -3l-1 -3l0 -3l-1 -3l0 -5l0 -5l1 -5l3 -4l4 -4l4 -3l5 -2l5 -3l6 -1l6 0l4 5l3 7l1 6l1 5l0 5l1 3l0 4l0 3l0 3z" fill="#bfbfbf"/><path d="M1069 160l0 1l0 2l0 2l0 2l0 2l0 2l0 4l0 4l-2 3l-3 2l-3 0l-3 -1l-3 -2l-2 -2l-2 -3l-1 -3l0 -2l-1 -2l0 -2l0 -2l0 -1l0 -1l-1 -2l0 -1l0 -1l0 -2l-1 -1l0 -2l0 -2l0 -3l1 -2l1 -3l2 -1l2 -2l2 -1l3 -1l3 -1l3 0l2 2l1 4l1 3l0 3l1 2l0 2l0 1l0 2l0 2z" fill="#c3c3c3"/></g>
<g style="mix-blend-mode:lighten"><path d="M2352 80l-10 62l-15 60l-17 60l-19 60l-20 64l-20 73l-91 -4l-61 18l-58 14l-57 12l-55 10l-57 11l-59 12l-66 15l-75 17l-86 12l-95 0l-84 -31l-83 -45l-48 -76l-27 -86l-25 -84l-21 -86l-11 -88l9 -88l54 -77l111 -45l111 -18l88 -8l66 -5l55 -1l46 -1l39 -1l36 0l33 1l32 1l32 1l32 1l34 2l37 4l42 3l48 6l56 9l67 15l70 28l43 49l18 61z" fill="#404040"/><path d="M2334 80l-9 60l-13 58l-17 57l-19 58l-19 62l-18 72l-90 -6l-61 14l-56 10l-54 10l-53 9l-53 9l-56 10l-61 12l-69 14l-80 12l-93 7l-88 -21l-74 -47l-39 -77l-24 -81l-23 -79l-17 -81l-9 -82l11 -82l52 -71l105 -40l102 -17l81 -7l61 -4l50 -2l42 -1l36 -1l33 0l31 1l29 1l29 1l30 1l32 2l34 3l38 3l45 5l53 8l62 13l68 25l49 44l20 57z" fill="#4a4a4a"/><path d="M2316 80l-7 57l-13 57l-16 55l-19 56l-18 59l-17 70l-87 -6l-62 8l-54 8l-51 7l-50 8l-50 7l-52 8l-56 9l-64 11l-74 11l-91 14l-92 -10l-66 -49l-29 -78l-22 -76l-19 -75l-15 -75l-6 -76l13 -75l50 -65l99 -36l93 -15l73 -7l56 -4l46 -1l38 -1l33 -1l30 0l28 1l27 0l27 1l27 1l29 1l31 3l36 3l41 4l49 7l59 12l66 21l53 39l23 54z" fill="#555555"/><path d="M2299 80l-7 55l-12 54l-16 54l-17 53l-18 58l-16 67l-85 -7l-61 3l-53 5l-49 6l-46 5l-47 6l-48 6l-52 6l-57 9l-68 10l-90 21l-96 0l-57 -52l-20 -77l-19 -72l-17 -70l-12 -69l-2 -71l14 -69l48 -59l93 -31l83 -14l67 -6l50 -4l42 -1l34 -1l30 0l27 -1l26 1l24 1l24 0l25 1l26 1l29 2l32 3l38 3l45 6l55 10l65 18l57 34l26 50z" fill="#606060"/><path d="M2291 80l-6 54l-14 53l-17 51l-18 52l-29 47l-38 40l-73 -5l-55 2l-46 3l-43 3l-40 4l-40 4l-41 4l-44 5l-49 6l-58 10l-86 30l-117 32l-48 -55l-19 -73l-18 -68l-14 -67l-9 -66l-1 -66l15 -64l46 -55l86 -29l78 -13l62 -5l47 -4l39 -1l32 -1l28 0l25 -1l23 1l23 1l22 0l24 1l24 1l27 2l29 2l36 3l42 5l53 9l64 15l62 30l30 49z" fill="#6a6a6a"/><path d="M2284 80l-7 53l-14 52l-19 49l-20 49l-38 38l-60 13l-62 -4l-48 0l-40 1l-36 2l-34 2l-34 2l-34 2l-36 3l-40 5l-49 8l-83 40l-136 63l-40 -57l-18 -69l-16 -65l-12 -63l-7 -62l2 -62l15 -60l44 -50l80 -27l72 -12l58 -5l43 -3l36 -1l29 -1l26 0l23 0l22 0l21 0l21 1l21 1l23 1l24 1l28 2l33 3l39 5l50 7l64 12l67 27l35 46z" fill="#757575"/><path d="M2277 80l-8 52l-15 50l-19 48l-22 47l-49 27l-82 -14l-50 -1l-41 -2l-34 -2l-30 0l-28 0l-27 1l-27 0l-29 2l-31 2l-39 7l-79 50l-157 95l-30 -61l-18 -64l-14 -61l-10 -60l-5 -58l4 -58l16 -55l42 -46l74 -25l66 -11l53 -4l40 -3l32 -2l28 0l24 0l21 0l20 0l19 0l19 1l20 1l20 1l23 1l26 2l30 2l37 4l47 6l63 10l71 23l40 43z" fill="#808080"/><path d="M2275 80l-7 52l-17 49l-22 47l-49 30l-57 15l-67 -9l-43 0l-35 -1l-30 0l-27 1l-25 0l-24 1l-24 1l-26 1l-29 3l-35 7l-69 42l-162 106l-43 -48l-19 -62l-14 -61l-10 -58l-4 -59l6 -57l23 -53l54 -41l76 -20l63 -9l48 -3l37 -2l29 -1l24 0l21 0l19 0l18 -1l17 1l17 1l17 0l18 1l21 1l23 1l26 3l34 3l42 4l59 9l72 18l58 37z" fill="#858585"/><path d="M2274 80l-7 52l-19 49l-25 44l-77 13l-64 3l-52 -3l-36 1l-30 1l-25 1l-24 1l-22 1l-21 1l-22 1l-23 2l-25 3l-32 7l-60 34l-165 116l-56 -33l-20 -61l-15 -60l-10 -58l-3 -58l8 -57l30 -52l67 -35l78 -16l60 -5l43 -3l33 -1l26 -1l21 0l18 0l17 0l15 0l15 1l15 0l15 1l16 1l17 0l20 1l24 2l30 2l38 4l54 6l73 14l75 31z" fill="#8a8a8a"/><path d="M2272 80l-6 52l-22 48l-27 43l-104 -4l-72 -9l-37 2l-29 3l-24 2l-21 2l-20 2l-19 1l-19 1l-19 2l-20 1l-23 4l-29 7l-50 26l-169 127l-68 -20l-21 -60l-16 -58l-10 -58l-2 -58l10 -56l36 -50l81 -30l80 -11l57 -3l38 -2l29 0l22 0l18 0l16 0l14 0l13 0l13 0l13 1l12 0l14 1l15 1l17 0l21 1l25 2l34 3l50 4l74 9l93 26z" fill="#8f8f8f"/><path d="M2228 80l-20 44l-45 34l-33 29l-77 -3l-53 -6l-28 2l-22 1l-19 2l-16 1l-15 1l-14 1l-14 1l-14 1l-15 1l-17 2l-21 5l-36 18l-115 84l-49 -13l-20 -39l-25 -37l-34 -36l-10 -46l2 -47l25 -43l66 -27l71 -10l49 -2l34 -2l25 0l19 0l16 0l14 0l12 0l12 0l11 0l11 0l11 1l12 0l14 0l15 1l18 1l23 1l31 2l46 3l72 7l87 23z" fill="#949494"/><path d="M2184 80l-34 37l-68 19l-38 15l-51 -1l-34 -3l-20 0l-15 1l-12 1l-11 0l-10 1l-10 0l-9 1l-9 0l-10 1l-11 1l-13 2l-21 9l-62 42l-30 -6l-19 -19l-34 -15l-58 -14l-17 -35l-6 -37l13 -36l52 -24l61 -8l42 -2l29 -2l21 0l17 0l13 0l12 -1l11 0l9 0l10 1l10 0l9 0l11 0l11 0l14 1l16 0l21 1l28 1l41 2l69 5l83 21z" fill="#999999"/><path d="M2140 80l-48 29l-90 6l-45 0l-24 0l-15 0l-11 0l-8 0l-7 0l-6 -1l-5 0l-4 0l-5 0l-5 0l-4 0l-5 0l-6 0l-6 0l-8 0l-11 1l-18 1l-43 8l-82 7l-24 -23l-15 -28l2 -30l37 -20l52 -6l35 -3l24 0l17 -1l14 0l11 -1l10 0l9 0l8 0l8 0l8 0l8 0l9 0l10 0l12 0l14 0l18 1l25 0l38 1l65 4l79 17z" fill="#9e9e9e"/><path d="M2073 80l-36 22l-68 4l-33 0l-18 0l-12 0l-8 0l-6 0l-5 0l-4 0l-4 0l-4 0l-3 0l-3 0l-4 0l-4 0l-4 0l-5 0l-6 0l-8 0l-13 1l-32 6l-62 5l-18 -17l-11 -21l1 -22l28 -16l39 -4l26 -2l18 -1l13 0l10 0l9 0l7 0l7 -1l6 0l6 0l6 0l6 0l7 0l7 0l9 0l10 1l14 0l19 0l28 1l49 2l59 14z" fill="#9f9f9f"/><path d="M2006 80l-24 14l-45 3l-22 1l-12 0l-8 0l-6 -1l-4 0l-3 0l-3 0l-2 0l-3 0l-2 0l-2 0l-3 0l-2 0l-3 0l-3 0l-4 0l-6 0l-8 1l-22 4l-41 3l-12 -11l-8 -14l2 -15l18 -10l26 -3l17 -1l12 -1l9 0l7 0l6 0l4 0l5 0l4 0l4 0l4 0l4 0l5 0l5 0l5 0l7 0l9 0l13 0l19 1l32 1l40 9z" fill="#a1a1a1"/><path d="M1939 80l-12 7l-23 2l-11 0l-6 0l-4 0l-2 0l-2 0l-2 0l-1 0l-2 0l-1 0l-1 0l-1 0l-1 0l-2 0l-1 0l-2 0l-2 0l-2 0l-5 0l-10 2l-21 2l-6 -6l-4 -7l1 -7l9 -6l13 -1l9 -1l6 0l4 0l3 0l3 0l3 0l2 0l2 0l2 0l2 0l2 0l2 0l3 0l3 0l3 0l5 0l6 0l9 0l17 1l19 5z" fill="#a2a2a2"/></g>
<g style="mix-blend-mode:lighten"><path d="M1774 250l-45 22l-29 16l-20 12l-15 11l-12 10l-12 10l-11 10l-12 10l-11 11l-14 12l-15 13l-18 13l-22 16l-26 12l-13 -32l-4 -33l-3 -24l-2 -19l-2 -15l-1 -13l-1 -11l-1 -11l-1 -10l0 -10l-1 -10l-1 -11l0 -11l0 -13l0 -15l-1 -19l1 -22l2 -30l7 -36l16 -30l25 -13l28 -3l28 2l27 5l28 7l28 7l30 8l36 7l43 8l50 13l48 24l1 47l-44 49z" fill="#9e9e9e"/><path d="M1733 250l-33 18l-22 14l-15 11l-12 9l-11 10l-9 9l-10 8l-10 10l-10 10l-12 10l-13 12l-16 13l-20 17l-24 12l-12 -28l-5 -30l-3 -22l-2 -17l-1 -15l-1 -12l-1 -10l-1 -10l0 -10l-1 -9l-1 -9l0 -10l-1 -11l0 -12l-1 -14l0 -18l1 -21l2 -29l5 -35l16 -29l24 -11l26 -1l26 4l25 7l24 7l26 8l27 7l31 8l36 10l38 14l28 27l-8 40l-35 39z" fill="#a7a7a7"/><path d="M1692 250l-20 15l-15 11l-11 9l-10 9l-8 8l-8 8l-8 8l-8 8l-9 9l-10 9l-11 11l-14 14l-18 18l-22 11l-11 -24l-5 -27l-3 -20l-2 -16l-1 -13l-1 -12l-1 -9l-1 -10l0 -8l-1 -9l-1 -9l0 -9l-1 -10l0 -11l-1 -14l0 -16l0 -20l2 -28l4 -34l15 -28l23 -9l25 2l24 6l22 7l22 8l23 8l24 7l26 9l29 11l26 17l8 28l-17 35l-27 29z" fill="#afafaf"/><path d="M1652 250l-9 11l-8 9l-7 8l-6 8l-6 7l-6 7l-7 6l-6 8l-8 7l-8 8l-9 10l-12 14l-16 19l-20 11l-11 -20l-4 -24l-3 -19l-2 -14l-1 -12l-1 -10l-1 -9l-1 -9l0 -8l-1 -8l-1 -8l0 -9l-1 -9l0 -10l-1 -13l0 -15l0 -20l1 -26l4 -33l13 -28l23 -5l23 4l22 7l20 9l19 8l20 8l21 8l21 9l21 12l15 19l-12 31l-26 29l-18 18z" fill="#b8b8b8"/><path d="M1637 250l-5 9l-5 9l-5 8l-5 7l-5 7l-5 7l-6 6l-6 7l-7 7l-8 8l-9 9l-11 11l-15 15l-17 9l-12 -13l-6 -19l-4 -17l-1 -15l-2 -12l-1 -10l0 -9l-1 -8l0 -8l-1 -8l0 -8l-1 -8l0 -9l0 -10l0 -12l0 -14l1 -17l3 -21l7 -23l13 -17l18 -2l19 4l17 7l16 8l15 7l14 7l16 7l15 8l16 10l10 14l-7 22l-17 21l-11 15z" fill="#bebebe"/><path d="M1623 250l-2 8l-2 8l-3 7l-4 7l-4 7l-4 7l-5 6l-6 7l-7 7l-7 7l-9 7l-10 10l-13 10l-15 8l-13 -7l-8 -14l-4 -16l-2 -14l-1 -12l-1 -10l-1 -9l0 -8l0 -8l-1 -8l0 -8l0 -8l0 -8l0 -10l1 -11l0 -13l3 -14l5 -15l9 -13l12 -7l15 2l14 4l12 6l12 7l10 6l10 6l10 6l9 7l10 7l7 10l-3 14l-7 13l-4 10z" fill="#c5c5c5"/><path d="M1609 250l1 7l0 6l0 8l-2 7l-3 6l-4 7l-5 6l-5 6l-6 7l-7 6l-8 7l-10 7l-11 6l-14 6l-13 1l-10 -9l-5 -15l-1 -15l-2 -11l0 -10l-1 -9l0 -9l0 -7l0 -8l0 -8l0 -7l0 -9l0 -9l1 -10l2 -11l3 -13l7 -9l12 -2l12 3l11 5l9 5l8 5l7 6l5 5l6 5l4 5l4 5l3 6l3 5l2 5l3 6l2 6z" fill="#cccccc"/><path d="M1596 250l1 5l1 5l-1 5l-1 6l-3 5l-2 5l-4 4l-4 5l-4 5l-6 5l-6 5l-7 5l-9 5l-10 4l-10 1l-7 -7l-3 -12l-2 -10l-1 -9l0 -8l-1 -6l0 -7l0 -5l0 -6l0 -6l0 -6l0 -6l1 -6l0 -8l1 -9l3 -9l5 -7l9 -1l9 2l8 3l7 4l6 4l5 4l4 4l4 4l3 4l3 4l3 4l2 4l2 4l2 4l1 4z" fill="#cfcfcf"/><path d="M1584 250l1 3l0 4l0 3l-1 4l-2 3l-2 3l-2 4l-3 3l-3 3l-3 3l-4 4l-5 3l-6 3l-6 3l-7 0l-5 -4l-2 -8l-1 -7l-1 -6l0 -5l0 -4l-1 -4l0 -4l0 -4l0 -4l0 -4l0 -4l1 -4l0 -5l1 -6l1 -6l4 -5l6 -1l6 2l5 2l5 3l4 2l3 3l3 2l3 3l2 3l2 2l1 3l2 3l1 2l1 3l1 3z" fill="#d1d1d1"/><path d="M1572 250l0 2l1 1l-1 2l0 2l-1 2l-1 1l-1 2l-1 1l-2 2l-2 2l-2 1l-2 2l-3 2l-3 1l-4 0l-2 -2l-1 -4l-1 -3l0 -3l0 -3l0 -2l0 -2l0 -2l0 -2l0 -2l0 -2l0 -2l0 -2l0 -3l0 -3l1 -3l2 -2l3 0l3 0l3 1l2 2l2 1l2 1l1 2l1 1l1 1l1 2l1 1l1 1l1 2l0 1l1 1z" fill="#d4d4d4"/></g>
<g style="mix-blend-mode:lighten"><path d="M2227 160l1 6l0 7l0 7l0 8l0 9l0 11l0 14l-1 20l-2 27l-7 32l-18 12l-20 -4l-18 -11l-15 -14l-10 -19l-7 -18l-5 -15l-4 -13l-3 -11l-2 -11l-3 -9l-1 -10l-2 -9l-2 -9l-1 -10l-2 -10l-1 -11l-1 -13l0 -15l3 -15l6 -15l10 -11l12 -10l14 -8l16 -7l16 -4l17 1l14 12l8 23l3 21l2 15l1 12l1 10l0 8l0 8l1 6l0 7z" fill="#9e9e9e"/><path d="M2227 160l0 6l0 7l0 7l0 7l0 9l0 11l0 14l-1 18l-4 23l-8 23l-16 8l-18 -4l-16 -9l-13 -12l-9 -16l-6 -16l-4 -14l-3 -11l-2 -10l-2 -9l-2 -8l-1 -8l-2 -8l-1 -8l-1 -8l-2 -9l-1 -10l-1 -11l0 -12l2 -14l5 -13l8 -11l11 -8l12 -8l13 -6l15 -5l15 0l14 9l8 18l3 18l2 15l2 11l1 10l0 8l1 7l0 7l0 6z" fill="#a7a7a7"/><path d="M2226 160l0 6l0 6l0 7l1 8l0 9l0 11l-1 13l-2 17l-4 19l-11 14l-14 4l-15 -4l-14 -7l-11 -11l-8 -14l-4 -13l-3 -12l-3 -10l-1 -9l-2 -8l-1 -7l-1 -6l-1 -7l-1 -6l-1 -7l-1 -7l-2 -8l0 -9l-1 -11l1 -12l4 -12l7 -9l9 -8l10 -7l11 -6l13 -4l13 -1l13 4l9 14l4 16l2 13l1 12l1 9l1 7l1 7l0 7l1 6z" fill="#afafaf"/><path d="M2225 160l0 6l1 6l0 7l0 8l0 8l0 11l-1 13l-2 16l-6 14l-12 5l-13 0l-12 -4l-11 -5l-10 -8l-6 -12l-4 -12l-2 -10l-1 -9l-2 -7l0 -6l-1 -6l-1 -5l-1 -5l-1 -5l0 -5l-1 -6l-1 -7l-1 -7l-1 -9l0 -10l3 -10l5 -8l7 -7l9 -6l9 -6l11 -5l12 -2l11 1l10 8l4 15l3 12l1 11l1 8l1 8l1 7l0 6l1 6z" fill="#b8b8b8"/><path d="M2214 160l0 4l0 5l0 5l0 6l0 6l0 8l0 10l-2 12l-4 11l-9 4l-10 0l-9 -3l-8 -4l-7 -6l-5 -9l-3 -9l-2 -8l-1 -6l-1 -6l0 -4l-1 -4l0 -4l-1 -4l-1 -4l0 -4l-1 -4l-1 -5l0 -6l-1 -6l0 -8l2 -7l4 -7l6 -5l6 -4l7 -5l8 -3l9 -2l9 1l6 6l4 11l2 9l1 8l1 7l0 5l1 5l0 5l1 5z" fill="#bbbbbb"/><path d="M2203 160l0 3l0 3l0 3l0 4l0 5l0 5l0 6l-1 8l-4 7l-5 3l-7 0l-6 -2l-6 -3l-4 -4l-4 -5l-1 -6l-2 -5l0 -5l-1 -3l0 -3l-1 -3l0 -3l0 -2l-1 -3l0 -3l-1 -3l0 -3l-1 -3l0 -5l0 -5l1 -5l3 -4l4 -4l4 -3l5 -2l5 -3l6 -1l6 0l4 5l3 7l1 6l1 5l0 5l1 3l0 4l0 3l0 3z" fill="#bfbfbf"/><path d="M2191 160l0 1l0 2l0 2l0 2l0 2l0 2l0 4l0 4l-2 3l-3 2l-3 0l-3 -1l-3 -2l-2 -2l-2 -3l-1 -3l0 -2l-1 -2l0 -2l0 -2l0 -1l0 -1l-1 -2l0 -1l0 -1l0 -2l-1 -1l0 -2l0 -2l0 -3l1 -2l1 -3l2 -1l2 -2l2 -1l3 -1l3 -1l3 0l2 2l1 4l1 3l0 3l1 2l0 2l0 1l0 2l0 2z" fill="#c3c3c3"/></g>
<g style="mix-blend-mode:lighten"><path d="M1299 560l0 3l0 3l0 4l0 4l0 4l0 6l0 7l0 10l0 16l-1 30l-2 73l-21 46l-12 -113l-3 -38l-1 -17l0 -10l0 -7l-1 -4l0 -4l0 -3l0 -3l0 -2l0 -3l0 -2l-1 -2l0 -3l0 -2l0 -3l0 -4l0 -4l-1 -6l0 -9l0 -14l-1 -29l1 -70l19 -34l19 35l4 59l1 29l0 16l0 10l0 7l0 6l0 4l0 4l0 4l0 3z" fill="#333333"/><path d="M1293 560l0 2l0 3l0 2l0 3l0 4l0 4l0 5l0 8l0 12l-1 22l-1 55l-16 34l-9 -84l-2 -29l-1 -13l0 -7l0 -5l-1 -3l0 -3l0 -3l0 -2l0 -2l0 -1l0 -2l0 -2l0 -2l0 -2l0 -2l-1 -2l0 -4l0 -4l0 -7l-1 -10l0 -22l1 -52l14 -26l14 26l3 45l1 21l0 12l0 8l0 5l0 4l0 4l0 3l0 2l0 3z" fill="#3c3c3c"/><path d="M1287 560l0 2l0 1l0 2l0 2l0 2l0 3l0 4l0 5l0 8l0 14l-1 37l-11 23l-6 -57l-1 -19l-1 -8l0 -5l0 -3l0 -3l0 -2l-1 -1l0 -1l0 -2l0 -1l0 -1l0 -1l0 -1l0 -2l0 -1l0 -2l0 -2l0 -3l0 -4l-1 -7l0 -15l0 -35l10 -17l10 18l2 29l0 14l0 8l0 5l0 4l0 3l0 2l0 2l0 2l0 1z" fill="#454545"/><path d="M1281 560l0 1l0 1l0 0l0 1l0 2l0 1l0 2l0 2l0 4l0 8l-1 18l-5 11l-3 -28l-1 -9l0 -5l0 -2l0 -2l0 -1l0 -1l0 -1l0 0l0 -1l0 0l0 -1l0 -1l0 0l0 -1l0 -1l-1 0l0 -2l0 -1l0 -2l0 -4l0 -7l0 -17l5 -9l5 9l1 15l0 7l0 4l0 2l0 2l0 1l0 2l0 1l0 0l0 1z" fill="#4e4e4e"/></g>
</g>
</g>
</g></g>
</g>
<g transform="translate(2615.500 777.895) scale(0.380431)">
<path d="M18.4 412 H352 L375 389 V43 H1090 V389 L1113 412 H1473 L1497 389 V43 H2211 V389 L2235 412 H2564.7 V1072.8 H18.4 Z" fill="none" stroke="#000" stroke-width="5.5" stroke-linejoin="round"/>
<rect x="1288.5" y="414" width="10" height="497" fill="#fff" stroke="#000" stroke-width="5"/>
<rect x="342" y="114" width="18" height="18" fill="#fff" stroke="#000" stroke-width="4.6" transform="rotate(8 351 123)"/>
<rect x="342.4" y="167.9" width="17.2" height="17.2" fill="#fff" stroke="#000" stroke-width="4.6" transform="rotate(17.2 351 176.5)"/>
<rect x="342.8" y="222.2" width="16.5" height="16.5" fill="#fff" stroke="#000" stroke-width="4.6" transform="rotate(26.5 351 230.4)"/>
<rect x="343.1" y="273.7" width="15.8" height="15.8" fill="#fff" stroke="#000" stroke-width="4.6" transform="rotate(35.8 351 281.6)"/>
<rect x="343.5" y="326.5" width="15" height="15" fill="#fff" stroke="#000" stroke-width="4.6" transform="rotate(45 351 334)"/>
<rect x="1105.5" y="87.3" width="18" height="18" fill="#fff" stroke="#000" stroke-width="4.6" transform="rotate(8 1114.5 96.3)"/>
<rect x="1105.8" y="141" width="17.4" height="17.4" fill="#fff" stroke="#000" stroke-width="4.6" transform="rotate(15.4 1114.5 149.7)"/>
<rect x="1106.1" y="193.4" width="16.8" height="16.8" fill="#fff" stroke="#000" stroke-width="4.6" transform="rotate(22.8 1114.5 201.8)"/>
<rect x="1106.4" y="246.5" width="16.2" height="16.2" fill="#fff" stroke="#000" stroke-width="4.6" transform="rotate(30.2 1114.5 254.6)"/>
<rect x="1106.7" y="299.9" width="15.6" height="15.6" fill="#fff" stroke="#000" stroke-width="4.6" transform="rotate(37.6 1114.5 307.7)"/>
<rect x="1107" y="353.1" width="15" height="15" fill="#fff" stroke="#000" stroke-width="4.6" transform="rotate(45 1114.5 360.6)"/>
<rect x="1463" y="114" width="18" height="18" fill="#fff" stroke="#000" stroke-width="4.6" transform="rotate(8 1472 123)"/>
<rect x="1463.4" y="167.9" width="17.2" height="17.2" fill="#fff" stroke="#000" stroke-width="4.6" transform="rotate(17.2 1472 176.5)"/>
<rect x="1463.8" y="222.2" width="16.5" height="16.5" fill="#fff" stroke="#000" stroke-width="4.6" transform="rotate(26.5 1472 230.4)"/>
<rect x="1464.1" y="273.7" width="15.8" height="15.8" fill="#fff" stroke="#000" stroke-width="4.6" transform="rotate(35.8 1472 281.6)"/>
<rect x="1464.5" y="326.5" width="15" height="15" fill="#fff" stroke="#000" stroke-width="4.6" transform="rotate(45 1472 334)"/>
<rect x="2226" y="87.3" width="18" height="18" fill="#fff" stroke="#000" stroke-width="4.6" transform="rotate(8 2235 96.3)"/>
<rect x="2226.3" y="141" width="17.4" height="17.4" fill="#fff" stroke="#000" stroke-width="4.6" transform="rotate(15.4 2235 149.7)"/>
<rect x="2226.6" y="193.4" width="16.8" height="16.8" fill="#fff" stroke="#000" stroke-width="4.6" transform="rotate(22.8 2235 201.8)"/>
<rect x="2226.9" y="246.5" width="16.2" height="16.2" fill="#fff" stroke="#000" stroke-width="4.6" transform="rotate(30.2 2235 254.6)"/>
<rect x="2227.2" y="299.9" width="15.6" height="15.6" fill="#fff" stroke="#000" stroke-width="4.6" transform="rotate(37.6 2235 307.7)"/>
<rect x="2227.5" y="353.1" width="15" height="15" fill="#fff" stroke="#000" stroke-width="4.6" transform="rotate(45 2235 360.6)"/>
</g>
<rect x="2622.5" y="784.4" width="968.7" height="401.6" fill="none" stroke="#000" stroke-width="4.6"/>
<line x1="2604.5" y1="784.4" x2="2622.5" y2="784.4" stroke="#000" stroke-width="4.5" stroke-linecap="round"/>
<line x1="2604.5" y1="820.9" x2="2622.5" y2="820.9" stroke="#000" stroke-width="4.5" stroke-linecap="round"/>
<line x1="2604.5" y1="857.4" x2="2622.5" y2="857.4" stroke="#000" stroke-width="4.5" stroke-linecap="round"/>
<line x1="2604.5" y1="893.9" x2="2622.5" y2="893.9" stroke="#000" stroke-width="4.5" stroke-linecap="round"/>
<line x1="2604.5" y1="930.4" x2="2622.5" y2="930.4" stroke="#000" stroke-width="4.5" stroke-linecap="round"/>
<line x1="2604.5" y1="966.9" x2="2622.5" y2="966.9" stroke="#000" stroke-width="4.5" stroke-linecap="round"/>
<line x1="2604.5" y1="1003.5" x2="2622.5" y2="1003.5" stroke="#000" stroke-width="4.5" stroke-linecap="round"/>
<line x1="2604.5" y1="1040" x2="2622.5" y2="1040" stroke="#000" stroke-width="4.5" stroke-linecap="round"/>
<line x1="2604.5" y1="1076.5" x2="2622.5" y2="1076.5" stroke="#000" stroke-width="4.5" stroke-linecap="round"/>
<line x1="2604.5" y1="1113" x2="2622.5" y2="1113" stroke="#000" stroke-width="4.5" stroke-linecap="round"/>
<line x1="2604.5" y1="1149.5" x2="2622.5" y2="1149.5" stroke="#000" stroke-width="4.5" stroke-linecap="round"/>
<line x1="2604.5" y1="1186" x2="2622.5" y2="1186" stroke="#000" stroke-width="4.5" stroke-linecap="round"/>
<line x1="2622.5" y1="1186" x2="2622.5" y2="1203" stroke="#000" stroke-width="4.5" stroke-linecap="round"/>
<text x="2622.5" y="1269" font-size="62" text-anchor="middle" style="" textLength="31.5" lengthAdjust="spacingAndGlyphs" >0</text>
<line x1="2816.2" y1="1186" x2="2816.2" y2="1203" stroke="#000" stroke-width="4.5" stroke-linecap="round"/>
<text x="2816.2" y="1269" font-size="62" text-anchor="middle" style="" textLength="94.5" lengthAdjust="spacingAndGlyphs" >200</text>
<line x1="3010" y1="1186" x2="3010" y2="1203" stroke="#000" stroke-width="4.5" stroke-linecap="round"/>
<text x="3010" y="1269" font-size="62" text-anchor="middle" style="" textLength="94.5" lengthAdjust="spacingAndGlyphs" >400</text>
<line x1="3203.7" y1="1186" x2="3203.7" y2="1203" stroke="#000" stroke-width="4.5" stroke-linecap="round"/>
<text x="3203.7" y="1269" font-size="62" text-anchor="middle" style="" textLength="94.5" lengthAdjust="spacingAndGlyphs" >600</text>
<line x1="3397.5" y1="1186" x2="3397.5" y2="1203" stroke="#000" stroke-width="4.5" stroke-linecap="round"/>
<text x="3397.5" y="1269" font-size="62" text-anchor="middle" style="" textLength="94.5" lengthAdjust="spacingAndGlyphs" >800</text>
<line x1="3591.2" y1="1186" x2="3591.2" y2="1203" stroke="#000" stroke-width="4.5" stroke-linecap="round"/>
<text x="3591.2" y="1269" font-size="62" text-anchor="middle" style="" textLength="126" lengthAdjust="spacingAndGlyphs" >1000</text>
<text x="3020.2" y="1355.7" font-size="60" text-anchor="start" style="font-style:italic;" textLength="31" lengthAdjust="spacingAndGlyphs" >x</text>
<line x1="3081.8" y1="1312.7" x2="3059.7" y2="1369.3" stroke="#000" stroke-width="2.8" stroke-linecap="butt"/>
<text x="3091.5" y="1355.7" font-size="60" text-anchor="start" style="" textLength="103" lengthAdjust="spacingAndGlyphs" >mm</text>
<text x="2651.5" y="859.4" font-size="66" text-anchor="start" style="" textLength="63" lengthAdjust="spacingAndGlyphs" >(f)</text>
<g transform="translate(440.000 1466.195) scale(0.380431)">
<g clip-path="url(#dom)"><g filter="url(#jet)">
<g filter="url(#fb20)">
<rect x="-100" y="-100" width="2800" height="1300" fill="url(#nh_base)"/>
<g style="mix-blend-mode:lighten">
<g style="mix-blend-mode:lighten"><path d="M2560 920l-1 33l-3 33l13 35l57 41l-84 27l-174 8l-157 3l-128 1l-105 0l-88 0l-73 0l-64 0l-56 0l-50 0l-45 0l-41 0l-39 -1l-35 0l-34 0l-32 0l-31 0l-31 0l-29 0l-30 0l-30 0l-29 0l-31 0l-31 0l-32 0l-34 0l-35 0l-39 1l-41 0l-45 0l-50 0l-56 0l-64 0l-74 0l-87 0l-104 0l-126 -2l-150 -4l-150 -11l-35 -31l43 -37l19 -34l17 -31l18 -31l19 -30l19 -28l21 -29l20 -27l22 -28l23 -27l24 -28l28 -27l31 -27l34 -27l37 -27l40 -26l45 -26l47 -26l54 -25l61 -22l68 -19l69 -18l70 -21l78 -14l100 27l99 60l74 32l63 20l57 13l55 8l57 2l64 -8l76 -16l97 -28l147 -56l158 -45l120 -4l91 16l78 25l64 30l47 36l34 39l26 38l21 38l15 37l13 36l10 35l10 34l8 34l7 33l4 33z" fill="#202020"/><path d="M2537 920l-1 32l-2 33l11 34l59 41l-70 28l-168 9l-155 3l-128 1l-105 0l-88 0l-73 0l-64 0l-56 0l-50 0l-45 0l-41 0l-39 -1l-35 0l-34 0l-32 0l-31 0l-31 0l-29 0l-30 0l-30 0l-29 0l-31 0l-31 0l-32 0l-34 0l-36 0l-38 1l-41 0l-45 0l-50 0l-56 0l-64 0l-74 0l-86 0l-104 -1l-125 -1l-145 -5l-139 -12l-19 -32l40 -37l18 -32l17 -31l17 -30l19 -29l19 -28l20 -27l20 -27l22 -27l24 -27l26 -26l30 -26l32 -25l36 -25l39 -24l42 -24l44 -24l47 -24l52 -23l59 -20l63 -18l66 -17l67 -19l76 -8l97 32l91 52l67 26l59 16l54 11l53 7l53 1l59 -4l68 -12l84 -20l123 -42l146 -43l145 -26l110 4l77 23l60 30l45 35l33 37l27 37l21 37l17 35l15 35l12 34l11 33l9 33l8 32l5 33z" fill="#2a2a2a"/><path d="M2513 920l0 32l-1 32l10 33l61 40l-57 29l-162 10l-154 3l-128 2l-104 0l-88 0l-73 0l-64 0l-56 0l-50 0l-45 0l-41 0l-38 -1l-36 0l-34 0l-32 0l-31 0l-31 0l-29 0l-30 0l-30 0l-29 0l-31 0l-31 0l-32 0l-34 0l-36 1l-38 0l-41 0l-45 0l-50 0l-56 0l-64 0l-74 0l-86 0l-103 -1l-124 -2l-141 -5l-127 -14l-3 -33l38 -36l17 -31l16 -30l17 -29l18 -28l18 -27l20 -27l20 -26l22 -26l24 -26l28 -25l32 -24l35 -24l38 -22l40 -23l43 -22l44 -22l47 -21l51 -21l55 -18l59 -18l63 -16l64 -15l75 -3l93 36l82 45l62 20l54 13l51 8l50 5l51 2l53 -2l61 -6l71 -13l98 -27l134 -41l170 -49l128 -9l76 22l58 30l42 34l33 36l26 35l22 35l19 35l16 33l15 33l12 32l11 32l9 32l5 31z" fill="#353535"/><path d="M2490 920l1 31l-1 32l8 32l63 40l-43 30l-156 11l-153 3l-127 2l-104 0l-88 0l-73 0l-64 0l-56 0l-50 0l-45 0l-41 0l-38 -1l-36 0l-34 0l-32 0l-31 0l-31 0l-29 0l-30 0l-30 0l-29 0l-31 0l-31 0l-32 0l-34 0l-36 1l-38 0l-41 0l-45 0l-50 0l-56 0l-64 0l-74 0l-86 0l-103 -1l-122 -2l-136 -6l-116 -15l13 -35l36 -34l15 -31l16 -29l16 -28l17 -27l18 -27l20 -26l20 -25l22 -25l25 -25l30 -24l34 -22l37 -22l40 -21l42 -20l43 -20l44 -20l47 -19l49 -18l53 -17l55 -17l58 -15l62 -13l74 2l90 42l72 37l56 15l50 8l48 6l47 4l48 2l49 1l52 -2l59 -5l74 -12l122 -40l194 -70l147 -23l75 21l54 29l41 34l31 34l26 35l23 33l21 33l18 32l16 32l14 31l13 31l9 31l6 31z" fill="#404040"/><path d="M2471 920l2 31l1 31l7 32l59 39l-34 31l-148 11l-150 4l-126 2l-104 0l-87 0l-74 0l-64 0l-56 0l-50 0l-45 0l-41 0l-38 0l-36 -1l-34 0l-32 0l-31 0l-31 0l-29 0l-30 0l-30 0l-29 0l-31 0l-31 0l-32 0l-34 0l-36 1l-38 0l-41 0l-45 0l-50 0l-56 0l-64 0l-74 0l-86 0l-102 -1l-119 -3l-127 -7l-98 -17l14 -34l33 -33l16 -30l17 -29l18 -27l19 -26l21 -26l20 -25l22 -24l24 -24l26 -23l29 -22l32 -22l35 -21l37 -20l39 -20l41 -19l42 -19l44 -19l47 -17l51 -16l54 -15l58 -13l64 -6l74 9l82 38l65 30l52 13l47 8l45 6l44 3l44 3l45 1l49 -1l54 -4l65 -10l102 -29l157 -52l144 -29l124 -7l64 23l48 30l38 31l29 33l23 33l18 32l16 32l15 31l14 31l11 31l10 30l7 30z" fill="#4a4a4a"/><path d="M2451 920l5 30l1 31l7 32l56 38l-26 31l-140 13l-147 4l-125 1l-105 1l-86 0l-74 0l-64 0l-56 0l-50 0l-45 0l-41 0l-38 0l-36 -1l-34 0l-32 0l-31 0l-31 0l-29 0l-30 0l-30 0l-29 0l-31 0l-31 0l-32 0l-34 1l-36 0l-38 0l-41 0l-46 0l-50 0l-56 1l-64 0l-73 0l-87 -1l-100 -1l-117 -4l-117 -8l-80 -20l14 -32l31 -33l17 -29l18 -27l20 -27l22 -25l22 -25l22 -24l24 -23l24 -22l27 -22l29 -21l31 -21l33 -20l34 -19l36 -19l38 -19l39 -19l42 -18l45 -16l50 -16l53 -13l57 -9l66 0l74 17l75 34l58 22l47 11l44 7l42 6l40 4l41 2l42 1l45 0l49 -3l57 -6l81 -19l119 -34l143 -34l171 -36l74 17l56 25l44 29l33 31l22 32l17 33l13 31l14 31l13 30l11 30l10 30l8 30z" fill="#555555"/><path d="M2432 920l7 30l2 30l5 31l53 38l-18 31l-130 14l-145 5l-125 1l-104 1l-86 0l-74 0l-64 0l-56 0l-50 0l-45 0l-41 0l-38 0l-36 -1l-34 0l-32 0l-31 0l-31 0l-29 0l-30 0l-30 0l-29 0l-31 0l-31 0l-32 0l-34 1l-36 0l-38 0l-42 0l-45 0l-50 1l-56 0l-64 0l-74 0l-86 -1l-100 -1l-113 -4l-108 -10l-62 -22l15 -32l29 -31l17 -28l20 -27l22 -26l23 -25l24 -23l24 -23l25 -21l26 -21l27 -21l29 -20l29 -19l31 -19l32 -19l33 -19l35 -18l36 -18l40 -18l43 -16l48 -14l52 -11l57 -7l69 7l73 24l67 30l51 16l44 8l40 7l38 5l38 4l37 3l39 1l40 0l44 -1l50 -4l60 -8l82 -16l140 -40l220 -63l84 10l63 21l50 26l37 29l22 32l14 32l12 32l12 30l12 30l11 29l10 29l9 30z" fill="#606060"/><path d="M2402 920l5 29l1 29l2 30l33 34l-6 32l-117 15l-138 5l-120 2l-100 1l-85 0l-71 0l-62 0l-55 0l-49 0l-44 0l-40 0l-38 0l-35 0l-33 0l-32 0l-30 0l-30 0l-29 0l-29 0l-29 0l-29 0l-30 0l-31 0l-31 0l-34 0l-35 0l-37 1l-41 0l-44 0l-50 0l-55 0l-62 0l-72 0l-84 0l-98 -2l-110 -4l-106 -10l-60 -21l12 -31l26 -30l17 -28l21 -27l24 -25l25 -24l25 -23l26 -22l25 -21l26 -20l27 -20l28 -19l29 -19l30 -18l31 -18l34 -18l36 -16l39 -16l42 -15l45 -13l48 -10l54 -7l62 3l65 12l65 21l56 23l45 11l39 7l36 5l35 4l34 3l34 3l35 1l37 0l40 -1l44 -3l52 -6l70 -12l111 -28l171 -46l94 -1l112 -2l84 13l39 27l26 30l18 31l10 31l11 29l11 30l10 28l9 29l8 28z" fill="#6a6a6a"/><path d="M2372 920l4 28l0 29l-2 28l12 31l6 32l-102 16l-131 5l-116 3l-97 1l-82 0l-70 0l-60 1l-53 0l-48 0l-43 0l-39 0l-37 0l-34 0l-33 -1l-31 0l-30 0l-29 0l-29 0l-28 0l-28 0l-29 0l-29 1l-30 0l-31 0l-33 0l-35 0l-36 0l-40 0l-44 0l-48 1l-54 0l-61 0l-71 0l-82 -1l-95 -2l-108 -4l-102 -10l-59 -20l9 -30l24 -30l17 -27l21 -26l26 -25l27 -23l27 -23l26 -21l26 -20l26 -20l26 -19l27 -19l29 -18l29 -17l32 -17l34 -17l38 -14l41 -14l43 -12l47 -10l49 -7l56 -1l66 12l62 16l56 19l47 15l37 8l35 5l32 3l31 3l31 3l31 1l31 1l33 0l36 0l39 -2l45 -4l56 -7l83 -18l122 -28l104 -12l161 -25l117 0l42 25l30 28l21 29l10 31l10 29l10 28l8 28l8 28l7 28z" fill="#757575"/><path d="M2342 920l2 27l-1 28l-5 28l-8 27l17 32l-87 17l-125 6l-111 2l-94 1l-79 1l-68 1l-59 0l-51 0l-47 0l-42 0l-39 0l-35 0l-34 0l-32 0l-30 0l-29 0l-29 0l-28 0l-28 0l-28 0l-28 0l-29 0l-29 0l-31 0l-32 0l-33 1l-36 0l-39 0l-43 0l-47 0l-53 0l-60 0l-69 0l-80 -1l-93 -1l-105 -4l-100 -10l-57 -20l7 -29l21 -29l16 -27l23 -26l27 -24l29 -23l28 -21l27 -21l27 -19l26 -19l26 -19l26 -18l28 -17l29 -17l31 -17l35 -14l40 -13l43 -12l45 -9l48 -7l49 -4l58 4l72 23l58 19l47 17l37 7l31 4l30 3l28 3l28 2l27 1l28 1l28 1l29 0l31 0l34 -1l37 -2l44 -3l54 -6l73 -11l114 -23l210 -48l150 -13l45 23l34 26l24 28l10 29l9 29l8 28l8 27l7 28l6 27z" fill="#808080"/><path d="M2308 920l-1 26l-3 27l-8 26l-10 27l0 28l-83 16l-117 5l-105 2l-88 2l-75 0l-65 0l-56 0l-50 -1l-45 0l-40 -1l-36 0l-34 -1l-31 0l-29 -1l-28 0l-27 -1l-26 0l-26 -1l-25 0l-25 0l-25 -1l-26 0l-26 0l-27 0l-29 0l-30 1l-34 1l-36 1l-41 1l-46 1l-50 1l-56 0l-65 0l-74 0l-86 -2l-97 -3l-97 -9l-64 -17l-18 -25l0 -26l7 -26l20 -26l26 -24l28 -23l29 -21l28 -21l27 -19l28 -19l28 -18l30 -17l31 -17l32 -15l36 -15l39 -13l41 -11l44 -9l46 -7l47 -5l71 12l60 12l59 18l47 14l39 11l30 4l27 2l27 1l25 1l25 0l26 -1l27 0l27 -1l28 0l30 -1l33 -1l35 -1l41 -3l48 -4l64 -8l95 -17l169 -35l140 -15l74 12l62 17l36 24l15 28l11 27l8 27l6 27l4 27l3 27z" fill="#8a8a8a"/><path d="M2273 920l-4 25l-5 26l-9 25l-12 25l-17 25l-80 14l-110 5l-97 3l-83 1l-71 0l-62 -1l-54 0l-48 -2l-42 -1l-38 -1l-35 -1l-31 -1l-29 -1l-27 -1l-26 -1l-24 0l-24 -1l-23 -1l-22 -1l-22 -1l-22 -1l-23 0l-22 -1l-24 0l-26 1l-27 1l-31 1l-34 3l-39 2l-44 2l-47 1l-53 1l-61 1l-68 -1l-78 -2l-90 -3l-94 -7l-72 -14l-43 -20l-21 -24l-1 -25l18 -26l25 -24l27 -23l29 -21l28 -21l29 -19l29 -19l31 -17l33 -17l34 -15l36 -14l39 -13l43 -11l44 -9l45 -7l46 -6l47 -3l91 29l63 19l47 14l35 8l30 6l25 2l23 -1l22 -1l23 -1l23 -2l24 -2l26 -2l26 -2l28 -1l29 -1l30 -1l34 -1l37 -2l44 -3l54 -5l76 -10l127 -24l131 -15l103 -1l90 8l47 21l21 26l13 26l8 27l5 26l0 27l0 25z" fill="#959595"/><path d="M2239 920l-7 24l-8 25l-10 24l-14 23l-35 21l-75 14l-103 4l-91 3l-78 1l-67 0l-58 -1l-52 -2l-46 -1l-40 -2l-36 -2l-32 -2l-29 -1l-27 -1l-25 -2l-23 -1l-22 -1l-21 -2l-20 -1l-20 -1l-19 -2l-19 -1l-19 0l-20 -1l-21 0l-22 1l-24 1l-28 2l-32 3l-38 4l-41 3l-45 2l-50 1l-56 1l-62 0l-70 -2l-83 -3l-91 -5l-79 -12l-68 -16l-43 -21l-8 -25l14 -25l24 -24l27 -23l28 -21l30 -21l30 -19l31 -18l33 -17l35 -16l38 -15l40 -13l43 -10l46 -9l46 -7l46 -6l46 -4l48 -1l112 47l64 26l35 9l24 3l21 0l19 -1l19 -2l19 -3l20 -4l21 -4l23 -4l24 -3l25 -3l27 -2l28 -2l29 -1l32 -1l34 -1l38 -1l45 -2l57 -4l86 -11l121 -17l133 -12l117 -1l58 17l27 24l16 25l7 26l3 26l-2 26l-4 25z" fill="#9f9f9f"/><path d="M2207 920l-6 24l-10 23l-15 23l-22 22l-40 19l-69 12l-90 6l-85 3l-76 0l-66 -1l-58 -1l-51 -2l-44 -3l-39 -2l-35 -3l-30 -2l-28 -2l-25 -2l-23 -3l-22 -2l-20 -3l-19 -2l-17 -3l-17 -2l-16 -2l-15 -2l-16 -1l-15 -1l-16 -1l-17 0l-18 0l-21 1l-24 2l-27 1l-30 2l-33 1l-37 1l-44 1l-129 21l-76 1l-88 0l-92 -5l-78 -10l-64 -16l-42 -21l-11 -23l15 -25l28 -23l30 -22l31 -20l32 -20l31 -18l33 -16l35 -16l36 -14l38 -13l39 -11l137 20l39 -5l36 -4l35 -4l34 -3l34 -1l77 30l46 17l25 6l19 1l16 0l16 -2l15 -3l16 -2l16 -4l18 -4l19 -3l20 -4l23 -4l24 -3l25 -2l27 -3l29 -1l32 -2l36 -2l41 -2l51 -4l73 -9l101 -12l111 -9l104 -1l66 11l44 18l30 21l21 23l12 24l4 24l0 24z" fill="#aaaaaa"/><path d="M2175 920l-5 23l-12 22l-20 22l-30 20l-44 17l-63 12l-78 7l-79 3l-74 0l-65 -2l-57 -2l-50 -3l-44 -3l-37 -3l-33 -3l-30 -3l-26 -3l-23 -3l-22 -3l-20 -4l-18 -4l-17 -4l-14 -4l-14 -3l-13 -2l-11 -3l-12 -2l-11 -2l-11 -1l-12 -1l-12 -1l-14 0l-15 0l-17 0l-20 0l-21 1l-23 0l-32 1l-196 43l-82 4l-93 1l-93 -3l-77 -10l-60 -16l-42 -19l-13 -23l17 -23l30 -23l34 -21l34 -19l33 -18l34 -17l34 -15l36 -14l38 -12l38 -11l39 -10l230 50l33 -1l26 -2l22 -2l22 -2l21 -1l43 14l26 8l17 2l13 0l12 -1l11 -2l12 -3l12 -2l13 -4l14 -3l16 -4l17 -4l19 -5l21 -4l23 -3l25 -3l27 -3l29 -3l33 -2l38 -2l45 -4l61 -6l79 -8l91 -7l89 -1l75 7l61 12l44 16l34 20l23 21l10 23l3 23z" fill="#b5b5b5"/><path d="M2143 920l-5 22l-12 21l-25 21l-39 18l-49 15l-56 12l-66 8l-73 3l-72 -1l-64 -2l-57 -3l-49 -4l-42 -3l-37 -4l-31 -4l-28 -3l-25 -4l-22 -4l-20 -4l-19 -6l-16 -5l-14 -5l-12 -4l-10 -4l-9 -4l-8 -3l-8 -3l-7 -2l-7 -2l-6 -2l-6 -2l-7 -2l-7 -1l-7 -2l-8 -1l-9 0l-11 -1l-19 2l-262 65l-89 6l-97 4l-94 -2l-76 -10l-57 -15l-41 -19l-15 -21l17 -23l34 -22l38 -20l36 -18l35 -17l35 -15l36 -14l38 -12l39 -11l38 -9l38 -9l324 81l26 3l16 1l10 -1l10 -1l9 -1l7 -1l8 -2l7 -1l7 -2l8 -2l8 -2l8 -3l8 -2l10 -3l11 -4l12 -4l13 -4l16 -5l19 -5l20 -5l23 -4l24 -4l28 -3l30 -3l34 -3l39 -3l48 -3l59 -4l69 -4l75 -1l84 1l78 6l59 12l46 17l33 19l16 21l7 22z" fill="#bfbfbf"/><path d="M1933 920l-4 16l-10 17l-19 15l-29 13l-36 12l-42 9l-49 6l-55 2l-54 -1l-49 -1l-42 -2l-37 -3l-32 -3l-27 -3l-24 -3l-20 -2l-19 -3l-17 -3l-15 -3l-14 -4l-12 -4l-10 -4l-9 -3l-8 -3l-7 -3l-6 -2l-6 -2l-5 -2l-5 -2l-5 -1l-5 -2l-5 -1l-5 -1l-5 -1l-6 -1l-7 0l-8 -1l-14 1l-197 49l-66 5l-73 3l-71 -2l-57 -7l-42 -11l-31 -14l-12 -16l14 -18l25 -16l28 -15l28 -14l26 -12l26 -12l27 -10l28 -9l29 -8l29 -7l29 -6l243 60l19 2l12 1l8 -1l7 0l6 -1l6 -1l6 -1l5 -1l6 -2l5 -1l6 -2l6 -2l7 -2l7 -2l8 -3l9 -3l10 -3l12 -4l14 -4l15 -3l17 -3l19 -3l20 -2l23 -3l26 -2l29 -2l36 -2l44 -4l52 -2l56 -1l63 1l58 4l45 10l35 12l24 14l12 16l5 16z" fill="#c2c2c2"/><path d="M1722 920l-3 11l-6 11l-13 10l-19 9l-24 7l-29 6l-32 4l-37 2l-36 0l-32 -1l-28 -2l-25 -2l-21 -2l-18 -2l-16 -1l-14 -2l-12 -2l-11 -2l-10 -2l-10 -3l-8 -2l-7 -3l-6 -2l-5 -2l-5 -2l-4 -1l-3 -2l-4 -1l-3 -1l-4 -1l-3 -1l-3 -1l-3 -1l-4 0l-4 -1l-5 0l-5 0l-10 0l-131 33l-44 3l-49 2l-47 -1l-38 -5l-28 -7l-21 -10l-7 -11l9 -11l17 -11l18 -10l19 -9l17 -8l18 -8l17 -7l19 -6l20 -5l19 -5l19 -4l162 40l13 2l8 0l5 0l5 -1l4 0l4 -1l4 -1l4 -1l3 -1l4 -1l4 -1l4 -1l4 -1l5 -2l5 -1l6 -2l7 -3l8 -2l9 -3l11 -2l11 -2l12 -2l14 -2l15 -1l17 -1l20 -2l24 -2l29 -2l35 -1l37 -1l42 0l39 4l29 6l24 8l16 9l8 11l3 11z" fill="#c6c6c6"/><path d="M1511 920l-1 5l-4 6l-6 5l-10 4l-12 4l-14 3l-16 2l-18 1l-18 0l-17 -1l-14 0l-12 -1l-11 -1l-9 -1l-8 -1l-6 -1l-7 -1l-5 -1l-5 -1l-5 -1l-4 -2l-3 -1l-3 -1l-3 -1l-2 -1l-2 -1l-2 0l-2 -1l-2 -1l-1 0l-2 -1l-2 0l-1 0l-2 -1l-2 0l-2 0l-3 0l-5 0l-65 16l-22 2l-25 1l-23 -1l-19 -2l-14 -4l-11 -4l-4 -6l5 -6l8 -5l10 -5l9 -5l9 -4l8 -4l9 -3l10 -3l9 -3l10 -2l10 -2l81 20l6 1l4 0l3 0l2 0l2 -1l2 0l2 0l2 -1l2 0l1 -1l2 0l2 -1l3 -1l2 0l3 -1l3 -1l3 -1l4 -2l5 -1l5 -1l5 -1l7 -1l6 -1l8 -1l9 0l9 -1l12 -1l15 -1l17 -1l19 0l21 0l19 2l15 3l12 4l8 5l4 5l2 5z" fill="#c9c9c9"/></g>
<g style="mix-blend-mode:lighten"><path d="M2401 660l-3 34l-11 32l-18 29l-24 23l-30 16l-32 9l-31 3l-27 1l-24 0l-22 -2l-20 -1l-19 -3l-18 -3l-18 -4l-18 -5l-18 -5l-18 -7l-19 -8l-18 -11l-19 -14l-17 -16l-17 -20l-17 -22l-16 -26l-16 -30l-18 -36l-17 -43l-17 -53l-9 -60l10 -58l26 -51l36 -47l42 -46l54 -31l61 -5l61 46l46 63l30 67l24 43l21 31l21 25l19 24l19 23l19 23l19 25l19 27l16 30z" fill="#141414"/><path d="M2385 660l0 32l-9 31l-18 27l-24 22l-29 15l-30 8l-29 3l-26 1l-23 -1l-20 -2l-19 -1l-18 -3l-17 -3l-17 -4l-16 -4l-17 -5l-17 -6l-18 -8l-18 -10l-19 -12l-17 -15l-16 -19l-16 -21l-16 -25l-16 -29l-15 -34l-16 -41l-14 -49l-8 -57l10 -53l26 -46l34 -43l40 -41l50 -29l57 -5l56 43l43 60l29 57l22 40l21 29l19 24l18 22l17 22l17 22l18 24l17 25l15 28z" fill="#181818"/><path d="M2370 660l2 31l-8 29l-18 25l-23 21l-28 13l-28 8l-28 2l-24 1l-22 -1l-19 -2l-17 -2l-17 -2l-16 -3l-15 -3l-16 -4l-16 -5l-16 -5l-17 -7l-17 -9l-18 -11l-18 -14l-16 -18l-15 -20l-15 -24l-15 -28l-14 -32l-14 -39l-12 -45l-6 -53l11 -48l24 -43l33 -38l38 -37l46 -26l52 -5l52 40l39 56l28 48l22 36l19 28l17 23l17 21l16 21l15 21l16 22l16 23l15 26z" fill="#1c1c1c"/><path d="M2355 660l4 29l-7 28l-17 24l-23 18l-27 12l-27 7l-25 3l-23 0l-20 -1l-18 -2l-17 -2l-15 -2l-15 -3l-14 -3l-14 -3l-15 -5l-15 -5l-16 -6l-17 -8l-18 -10l-17 -12l-16 -17l-15 -19l-14 -23l-14 -26l-13 -31l-12 -36l-10 -43l-5 -48l12 -44l24 -38l31 -34l35 -32l42 -25l48 -5l48 38l36 52l27 39l20 32l18 27l16 22l15 20l14 20l15 19l14 21l14 21l14 24z" fill="#202020"/><path d="M2351 660l5 28l-6 28l-18 24l-22 18l-25 14l-25 8l-24 5l-23 2l-21 0l-19 -2l-17 -3l-16 -3l-15 -3l-15 -5l-14 -4l-15 -5l-15 -6l-16 -6l-16 -8l-17 -11l-18 -13l-16 -16l-15 -19l-12 -23l-11 -26l-10 -29l-8 -33l-6 -38l-1 -43l12 -39l22 -35l28 -30l33 -28l38 -23l44 -3l43 32l33 43l26 34l20 28l17 24l15 21l15 19l14 18l14 19l15 19l14 21l15 23z" fill="#2a2a2a"/><path d="M2346 660l7 28l-6 27l-17 24l-21 18l-23 15l-24 10l-23 7l-23 3l-21 1l-20 -2l-18 -3l-17 -4l-16 -4l-15 -5l-14 -5l-15 -6l-15 -6l-15 -8l-16 -8l-17 -11l-18 -13l-16 -16l-15 -19l-11 -23l-8 -25l-6 -28l-4 -30l-1 -34l2 -37l11 -35l21 -30l26 -27l30 -25l34 -20l40 -1l38 27l31 33l24 29l19 24l17 22l15 19l14 18l14 17l14 17l14 19l15 20l15 22z" fill="#353535"/><path d="M2341 660l9 28l-6 27l-16 23l-21 19l-21 15l-22 12l-22 8l-22 6l-22 2l-21 -2l-19 -4l-18 -5l-16 -5l-16 -6l-15 -6l-14 -6l-15 -7l-15 -8l-16 -9l-16 -11l-18 -13l-17 -16l-14 -19l-9 -23l-5 -25l-3 -26l1 -27l2 -29l6 -31l11 -31l19 -27l23 -23l27 -21l31 -18l35 2l34 20l28 25l23 23l19 20l16 19l15 18l14 16l13 17l14 16l14 17l15 19l16 21z" fill="#404040"/><path d="M2328 660l6 25l-5 26l-14 22l-17 18l-19 16l-20 12l-22 7l-22 4l-21 1l-20 -3l-18 -4l-16 -4l-15 -5l-15 -5l-13 -5l-14 -6l-14 -7l-14 -7l-14 -9l-16 -10l-15 -12l-16 -15l-13 -18l-10 -21l-6 -23l-2 -24l2 -26l5 -25l6 -28l12 -26l17 -24l21 -21l24 -19l28 -16l31 -1l31 15l26 20l22 20l18 18l16 17l15 17l14 15l13 16l13 16l14 16l14 19l13 21z" fill="#4a4a4a"/><path d="M2316 660l2 23l-5 23l-10 21l-14 19l-16 16l-18 13l-23 6l-21 1l-21 -1l-18 -2l-17 -4l-15 -4l-14 -5l-13 -4l-13 -5l-13 -5l-13 -6l-13 -7l-13 -8l-14 -10l-14 -11l-14 -14l-13 -17l-10 -19l-7 -22l-1 -22l3 -23l7 -23l8 -23l12 -22l15 -21l19 -19l21 -18l25 -13l28 -3l27 9l24 15l21 17l18 16l16 16l14 14l14 15l13 15l13 15l13 17l12 18l11 20z" fill="#555555"/><path d="M2303 660l-1 21l-5 21l-7 20l-10 19l-13 16l-17 13l-22 5l-22 -1l-20 -2l-17 -3l-15 -4l-14 -3l-13 -4l-12 -4l-12 -5l-12 -4l-12 -6l-12 -6l-12 -8l-12 -9l-13 -11l-12 -12l-12 -15l-11 -18l-8 -20l0 -21l4 -21l9 -19l10 -19l12 -18l14 -18l16 -17l18 -16l22 -11l24 -5l24 3l23 10l19 14l18 14l15 14l14 13l14 14l13 14l12 15l12 16l11 17l9 20z" fill="#606060"/><path d="M2285 660l1 19l-1 20l-5 19l-7 19l-11 17l-15 13l-21 5l-21 1l-18 0l-17 -2l-16 -3l-14 -2l-13 -4l-13 -4l-12 -5l-11 -8l-10 -8l-9 -9l-9 -9l-9 -9l-8 -11l-9 -11l-8 -13l-7 -15l-5 -16l0 -17l3 -17l6 -16l8 -15l9 -16l12 -14l13 -14l15 -12l18 -9l19 -4l20 2l19 7l16 10l15 11l13 11l12 11l12 11l12 11l11 13l11 13l10 15l9 17z" fill="#6a6a6a"/><path d="M2268 660l3 17l1 18l-2 19l-4 18l-9 18l-14 13l-19 7l-19 2l-18 1l-17 0l-15 -1l-15 -2l-14 -3l-13 -5l-13 -6l-9 -10l-8 -11l-7 -11l-5 -11l-5 -10l-5 -10l-4 -11l-5 -10l-3 -12l-3 -12l1 -13l2 -13l4 -12l5 -13l7 -12l9 -12l10 -10l12 -9l14 -7l15 -3l15 1l15 5l13 6l12 8l11 8l10 8l10 9l10 9l10 9l11 11l10 12l9 14z" fill="#757575"/><path d="M2250 660l6 15l3 17l1 18l-2 18l-6 18l-12 14l-18 7l-18 4l-17 3l-16 1l-16 0l-15 -2l-15 -2l-14 -4l-12 -8l-9 -13l-6 -14l-3 -13l-2 -12l-2 -11l0 -10l-1 -9l0 -9l0 -8l0 -8l1 -9l0 -9l2 -9l3 -10l4 -9l7 -8l7 -7l9 -5l10 -5l10 -2l11 0l11 1l9 4l10 4l9 5l8 5l9 6l8 7l9 7l9 8l10 9l9 12z" fill="#808080"/><path d="M2222 660l5 11l2 13l1 13l-1 14l-5 13l-9 11l-13 5l-14 4l-13 1l-12 1l-12 0l-11 -1l-11 -2l-10 -3l-10 -6l-6 -9l-5 -11l-2 -10l-2 -9l-1 -8l-1 -7l0 -7l0 -7l0 -6l0 -6l0 -7l1 -6l1 -7l2 -7l4 -7l4 -6l6 -6l7 -4l7 -3l8 -2l8 0l8 1l7 3l7 3l7 4l6 4l7 4l6 5l7 5l7 7l7 7l7 8z" fill="#838383"/><path d="M2195 660l3 8l1 8l1 9l-1 9l-3 9l-6 7l-9 4l-9 2l-8 1l-9 0l-7 0l-8 0l-7 -2l-7 -2l-6 -4l-5 -6l-3 -7l-1 -7l-2 -6l0 -5l-1 -5l0 -4l0 -5l0 -4l0 -4l0 -4l1 -5l1 -5l1 -4l2 -5l3 -4l4 -3l5 -3l4 -2l6 -1l5 -1l5 1l5 2l5 2l4 3l5 2l4 3l4 3l4 4l5 4l5 5l5 5z" fill="#868686"/><path d="M2168 660l1 4l1 4l0 4l0 5l-2 4l-3 4l-4 2l-5 1l-4 0l-4 1l-4 0l-4 -1l-4 0l-3 -1l-3 -2l-2 -3l-2 -4l-1 -3l0 -3l-1 -3l0 -2l0 -3l0 -2l0 -2l0 -2l0 -2l0 -2l1 -3l0 -2l2 -2l1 -2l2 -2l2 -2l3 -1l2 0l3 0l3 0l2 1l2 1l3 1l2 2l2 1l2 2l2 1l3 3l2 2l2 3z" fill="#898989"/></g>
<g style="mix-blend-mode:lighten"><path d="M1100 460l-1 18l-3 18l-4 19l-7 17l-9 17l-14 13l-16 10l-18 5l-18 3l-17 2l-17 1l-16 1l-16 -1l-17 0l-17 -2l-19 -2l-20 -3l-21 -6l-20 -10l-19 -14l-16 -18l-11 -21l-5 -23l4 -24l8 -22l10 -21l11 -18l11 -18l12 -17l13 -16l15 -15l15 -14l18 -12l20 -9l22 -7l22 -4l23 -1l23 1l24 4l22 10l16 19l11 21l8 22l5 21l4 20l2 19l2 19z" fill="#171717"/><path d="M1065 460l-1 14l-2 13l-3 14l-5 13l-7 13l-10 10l-13 7l-13 4l-14 2l-12 2l-13 0l-12 1l-12 0l-13 -1l-13 -1l-14 -2l-15 -2l-15 -5l-16 -7l-14 -10l-12 -14l-8 -16l-3 -17l2 -18l6 -17l8 -15l8 -14l8 -13l9 -13l10 -12l11 -11l12 -11l13 -9l15 -7l16 -5l17 -3l17 -1l18 1l17 3l17 8l12 14l8 16l6 16l4 16l3 15l2 14l1 14z" fill="#1a1a1a"/><path d="M1030 460l-1 9l-1 9l-2 9l-3 9l-5 8l-7 7l-8 5l-9 3l-9 1l-9 1l-8 1l-8 0l-8 0l-8 -1l-9 0l-9 -1l-10 -2l-11 -3l-10 -5l-10 -7l-8 -9l-5 -10l-2 -12l1 -12l4 -11l5 -10l6 -10l6 -9l6 -8l6 -8l7 -7l8 -8l9 -6l10 -4l11 -3l11 -2l11 -1l12 0l12 3l11 5l8 9l5 11l4 10l3 11l2 10l1 9l1 10z" fill="#1c1c1c"/><path d="M995 460l0 5l-1 4l-1 5l-2 4l-2 4l-3 4l-5 2l-4 1l-5 1l-4 1l-4 0l-4 0l-4 0l-4 0l-5 -1l-4 0l-5 -1l-6 -1l-5 -3l-4 -3l-4 -5l-3 -5l-1 -6l1 -6l2 -6l2 -5l3 -4l3 -5l3 -4l3 -4l4 -4l4 -3l4 -3l5 -3l5 -1l6 -1l6 -1l6 1l5 1l6 2l4 5l3 5l2 6l1 5l1 5l1 5l0 4z" fill="#1f1f1f"/></g>
<g style="mix-blend-mode:lighten"><path d="M1033 927l0 15l-3 16l-6 15l-12 15l-21 12l-28 8l-29 5l-28 4l-27 3l-26 2l-26 1l-25 2l-26 1l-28 1l-29 0l-31 -1l-34 -2l-36 -5l-33 -9l-28 -12l-21 -16l-13 -18l-2 -19l10 -18l16 -17l18 -15l20 -13l22 -11l24 -10l24 -8l23 -6l24 -6l24 -6l24 -4l26 -5l26 -3l28 -2l29 -1l29 3l29 5l27 7l25 9l21 11l17 13l12 14l7 15l4 15z" fill="#cccccc"/><path d="M1012 927l0 14l-2 14l-6 14l-11 13l-19 11l-25 8l-26 5l-26 3l-25 3l-24 2l-23 1l-23 2l-24 1l-25 0l-26 0l-28 -2l-30 -2l-31 -5l-29 -8l-25 -11l-18 -14l-11 -16l-1 -17l8 -16l14 -15l16 -13l18 -12l20 -10l20 -8l21 -7l22 -6l21 -5l21 -5l21 -4l23 -3l23 -3l25 -2l25 0l26 1l25 4l25 6l22 8l21 9l16 12l12 12l7 14l4 13z" fill="#d2d2d2"/><path d="M992 927l-1 12l-2 13l-5 13l-10 12l-17 9l-22 7l-24 5l-23 4l-22 2l-22 2l-21 1l-21 1l-22 1l-22 0l-23 -1l-25 -1l-26 -3l-27 -5l-25 -7l-20 -10l-15 -12l-9 -14l-1 -15l7 -14l12 -13l14 -11l15 -10l17 -9l18 -8l18 -6l19 -5l18 -4l19 -4l19 -3l19 -3l20 -3l21 -1l22 0l22 1l23 3l21 5l21 6l19 8l16 9l12 11l7 12l4 13z" fill="#d9d9d9"/><path d="M971 927l0 11l-3 11l-5 11l-8 11l-15 9l-19 6l-21 5l-21 3l-20 2l-19 2l-19 1l-19 1l-19 0l-20 0l-21 -1l-21 -2l-22 -3l-22 -4l-21 -7l-17 -9l-12 -11l-7 -12l-1 -12l6 -12l10 -11l12 -10l14 -8l14 -8l15 -6l15 -5l16 -5l16 -3l16 -3l16 -3l16 -2l17 -2l18 -1l18 0l19 1l19 2l19 3l19 5l18 6l15 8l12 9l7 11l4 11z" fill="#dfdfdf"/><path d="M929 927l0 8l-2 9l-4 8l-7 8l-10 7l-15 5l-16 3l-15 2l-15 2l-15 1l-14 1l-14 1l-14 0l-15 0l-16 -1l-16 -2l-16 -2l-17 -3l-16 -5l-12 -7l-9 -8l-5 -9l-1 -9l4 -9l8 -8l9 -8l10 -6l11 -6l11 -4l11 -4l12 -4l12 -2l12 -3l12 -1l12 -2l13 -1l13 -1l14 0l14 0l15 2l14 2l14 4l13 5l12 6l9 7l5 8l3 8z" fill="#e2e2e2"/><path d="M887 927l-1 6l-1 5l-2 6l-5 5l-7 4l-10 4l-10 2l-10 1l-10 2l-10 0l-10 1l-9 0l-10 1l-10 -1l-10 0l-10 -1l-11 -1l-12 -3l-10 -3l-9 -4l-6 -6l-3 -6l0 -6l2 -6l6 -5l6 -5l6 -5l7 -3l8 -4l8 -2l7 -2l8 -2l8 -2l8 -1l9 -1l8 -1l9 0l9 -1l9 1l10 1l10 2l9 2l9 3l8 4l6 5l3 5l2 5z" fill="#e5e5e5"/><path d="M844 927l0 3l0 3l-2 2l-2 3l-3 2l-5 2l-6 1l-5 1l-5 0l-5 1l-4 0l-5 0l-5 0l-5 0l-5 0l-5 -1l-6 0l-5 -1l-6 -2l-4 -2l-3 -3l-1 -3l-1 -3l2 -3l2 -3l3 -2l4 -2l3 -2l4 -2l4 -1l4 -1l4 -1l4 -1l4 0l4 -1l4 0l4 -1l5 0l5 0l5 1l4 1l5 1l4 2l4 2l3 2l2 3l1 2z" fill="#e8e8e8"/></g>
<g style="mix-blend-mode:lighten"><path d="M2093 930l-2 20l-15 20l-28 15l-38 12l-36 7l-34 6l-30 5l-28 3l-27 3l-25 2l-25 2l-25 1l-25 0l-27 0l-27 0l-30 -2l-33 -2l-36 -3l-42 -5l-44 -8l-41 -13l-31 -18l-20 -22l-4 -23l18 -23l28 -19l34 -16l35 -13l36 -9l36 -7l33 -4l31 -4l29 -2l27 -2l27 -1l26 0l26 0l27 1l28 1l29 2l32 3l35 5l37 6l38 9l28 15l19 18l10 20z" fill="#cccccc"/><path d="M2061 930l-2 18l-12 18l-25 14l-33 10l-33 7l-31 5l-28 4l-26 3l-23 3l-23 1l-23 2l-22 1l-23 0l-23 0l-25 0l-27 -1l-30 -2l-33 -2l-38 -5l-40 -7l-37 -12l-28 -16l-18 -20l-5 -21l16 -20l27 -18l30 -15l32 -11l33 -8l32 -6l30 -5l28 -2l26 -3l25 -1l24 -1l24 0l24 0l24 1l25 1l26 2l29 3l31 3l34 6l34 9l25 13l17 16l9 18z" fill="#d2d2d2"/><path d="M2029 930l-2 16l-10 16l-21 13l-29 9l-30 6l-28 5l-25 3l-23 2l-21 2l-20 2l-20 1l-20 1l-20 0l-21 0l-22 0l-24 -1l-27 -1l-30 -2l-34 -4l-37 -6l-33 -11l-25 -14l-16 -18l-4 -19l14 -18l24 -16l28 -13l29 -10l29 -8l29 -5l27 -4l25 -2l23 -2l23 -1l21 -1l21 0l21 0l21 1l23 1l23 1l26 3l28 3l30 5l30 8l22 12l14 14l8 16z" fill="#d9d9d9"/><path d="M1997 930l-2 14l-7 14l-17 12l-26 8l-26 5l-25 4l-23 3l-20 2l-19 1l-18 1l-17 1l-17 1l-17 0l-19 0l-19 0l-21 0l-24 -1l-27 -2l-30 -3l-33 -5l-29 -10l-22 -13l-15 -15l-4 -17l13 -16l22 -14l24 -12l26 -9l26 -6l25 -5l24 -3l22 -2l21 -2l20 -1l19 0l18 0l18 0l19 1l20 1l20 1l23 2l24 3l27 4l26 7l19 10l12 13l7 14z" fill="#dfdfdf"/><path d="M1943 930l-2 11l-5 10l-13 9l-19 6l-20 4l-19 3l-16 2l-16 1l-14 1l-13 1l-13 1l-13 0l-13 1l-14 0l-14 0l-16 -1l-18 0l-20 -2l-23 -2l-25 -4l-21 -7l-17 -10l-11 -11l-3 -13l10 -12l16 -11l19 -8l18 -7l20 -5l19 -3l18 -3l17 -1l15 -1l15 -1l14 -1l14 0l14 0l14 1l15 1l15 1l17 1l18 2l20 4l19 5l15 8l9 9l5 10z" fill="#e6e6e6"/><path d="M1889 930l-1 7l-4 7l-9 6l-12 4l-14 3l-12 1l-11 2l-10 1l-10 0l-9 1l-8 1l-9 0l-9 0l-9 0l-9 0l-11 0l-12 -1l-13 0l-16 -2l-16 -3l-14 -4l-12 -7l-7 -8l-2 -8l7 -8l10 -7l13 -6l12 -4l13 -4l13 -2l12 -2l11 -1l11 0l9 -1l10 0l9 0l9 0l10 0l9 1l11 0l11 1l12 2l13 2l13 4l10 5l6 6l3 7z" fill="#ededed"/><path d="M1834 930l0 4l-2 3l-4 3l-7 2l-6 1l-7 1l-5 1l-5 0l-5 1l-4 0l-5 0l-4 0l-4 1l-5 0l-5 0l-5 -1l-6 0l-7 0l-7 -1l-9 -1l-7 -3l-5 -3l-4 -4l-1 -4l3 -4l6 -4l6 -2l6 -3l7 -1l6 -1l6 -1l6 -1l5 0l5 0l4 -1l5 0l5 0l4 1l5 0l5 0l6 1l6 0l7 2l6 1l5 3l3 3l2 3z" fill="#f3f3f3"/></g>
</g>
</g>
<g style="mix-blend-mode:multiply" filter="url(#mb20)"><rect x="-100" y="-100" width="2800" height="1300" fill="#fff"/><rect x="-100" y="1058" width="2800" height="300" fill="#888"/></g>
</g></g>
</g>
<g transform="translate(440.000 1466.195) scale(0.380431)">
<path d="M18.4 412 H352 L375 389 V43 H1090 V389 L1113 412 H1473 L1497 389 V43 H2211 V389 L2235 412 H2564.7 V1072.8 H18.4 Z" fill="none" stroke="#000" stroke-width="5.5" stroke-linejoin="round"/>
<rect x="342" y="114" width="18" height="18" fill="#fff" stroke="#000" stroke-width="4.6" transform="rotate(8 351 123)"/>
<rect x="342.4" y="167.9" width="17.2" height="17.2" fill="#fff" stroke="#000" stroke-width="4.6" transform="rotate(17.2 351 176.5)"/>
<rect x="342.8" y="222.2" width="16.5" height="16.5" fill="#fff" stroke="#000" stroke-width="4.6" transform="rotate(26.5 351 230.4)"/>
<rect x="343.1" y="273.7" width="15.8" height="15.8" fill="#fff" stroke="#000" stroke-width="4.6" transform="rotate(35.8 351 281.6)"/>
<rect x="343.5" y="326.5" width="15" height="15" fill="#fff" stroke="#000" stroke-width="4.6" transform="rotate(45 351 334)"/>
<rect x="1105.5" y="87.3" width="18" height="18" fill="#fff" stroke="#000" stroke-width="4.6" transform="rotate(8 1114.5 96.3)"/>
<rect x="1105.8" y="141" width="17.4" height="17.4" fill="#fff" stroke="#000" stroke-width="4.6" transform="rotate(15.4 1114.5 149.7)"/>
<rect x="1106.1" y="193.4" width="16.8" height="16.8" fill="#fff" stroke="#000" stroke-width="4.6" transform="rotate(22.8 1114.5 201.8)"/>
<rect x="1106.4" y="246.5" width="16.2" height="16.2" fill="#fff" stroke="#000" stroke-width="4.6" transform="rotate(30.2 1114.5 254.6)"/>
<rect x="1106.7" y="299.9" width="15.6" height="15.6" fill="#fff" stroke="#000" stroke-width="4.6" transform="rotate(37.6 1114.5 307.7)"/>
<rect x="1107" y="353.1" width="15" height="15" fill="#fff" stroke="#000" stroke-width="4.6" transform="rotate(45 1114.5 360.6)"/>
<rect x="1463" y="114" width="18" height="18" fill="#fff" stroke="#000" stroke-width="4.6" transform="rotate(8 1472 123)"/>
<rect x="1463.4" y="167.9" width="17.2" height="17.2" fill="#fff" stroke="#000" stroke-width="4.6" transform="rotate(17.2 1472 176.5)"/>
<rect x="1463.8" y="222.2" width="16.5" height="16.5" fill="#fff" stroke="#000" stroke-width="4.6" transform="rotate(26.5 1472 230.4)"/>
<rect x="1464.1" y="273.7" width="15.8" height="15.8" fill="#fff" stroke="#000" stroke-width="4.6" transform="rotate(35.8 1472 281.6)"/>
<rect x="1464.5" y="326.5" width="15" height="15" fill="#fff" stroke="#000" stroke-width="4.6" transform="rotate(45 1472 334)"/>
<rect x="2226" y="87.3" width="18" height="18" fill="#fff" stroke="#000" stroke-width="4.6" transform="rotate(8 2235 96.3)"/>
<rect x="2226.3" y="141" width="17.4" height="17.4" fill="#fff" stroke="#000" stroke-width="4.6" transform="rotate(15.4 2235 149.7)"/>
<rect x="2226.6" y="193.4" width="16.8" height="16.8" fill="#fff" stroke="#000" stroke-width="4.6" transform="rotate(22.8 2235 201.8)"/>
<rect x="2226.9" y="246.5" width="16.2" height="16.2" fill="#fff" stroke="#000" stroke-width="4.6" transform="rotate(30.2 2235 254.6)"/>
<rect x="2227.2" y="299.9" width="15.6" height="15.6" fill="#fff" stroke="#000" stroke-width="4.6" transform="rotate(37.6 2235 307.7)"/>
<rect x="2227.5" y="353.1" width="15" height="15" fill="#fff" stroke="#000" stroke-width="4.6" transform="rotate(45 2235 360.6)"/>
</g>
<rect x="447" y="1472.7" width="968.7" height="401.6" fill="none" stroke="#000" stroke-width="4.6"/>
<line x1="429" y1="1472.7" x2="447" y2="1472.7" stroke="#000" stroke-width="4.5" stroke-linecap="round"/>
<line x1="429" y1="1509.2" x2="447" y2="1509.2" stroke="#000" stroke-width="4.5" stroke-linecap="round"/>
<line x1="429" y1="1545.7" x2="447" y2="1545.7" stroke="#000" stroke-width="4.5" stroke-linecap="round"/>
<line x1="429" y1="1582.2" x2="447" y2="1582.2" stroke="#000" stroke-width="4.5" stroke-linecap="round"/>
<line x1="429" y1="1618.7" x2="447" y2="1618.7" stroke="#000" stroke-width="4.5" stroke-linecap="round"/>
<line x1="429" y1="1655.2" x2="447" y2="1655.2" stroke="#000" stroke-width="4.5" stroke-linecap="round"/>
<line x1="429" y1="1691.8" x2="447" y2="1691.8" stroke="#000" stroke-width="4.5" stroke-linecap="round"/>
<line x1="429" y1="1728.3" x2="447" y2="1728.3" stroke="#000" stroke-width="4.5" stroke-linecap="round"/>
<line x1="429" y1="1764.8" x2="447" y2="1764.8" stroke="#000" stroke-width="4.5" stroke-linecap="round"/>
<line x1="429" y1="1801.3" x2="447" y2="1801.3" stroke="#000" stroke-width="4.5" stroke-linecap="round"/>
<line x1="429" y1="1837.8" x2="447" y2="1837.8" stroke="#000" stroke-width="4.5" stroke-linecap="round"/>
<line x1="429" y1="1874.3" x2="447" y2="1874.3" stroke="#000" stroke-width="4.5" stroke-linecap="round"/>
<line x1="447" y1="1874.3" x2="447" y2="1891.3" stroke="#000" stroke-width="4.5" stroke-linecap="round"/>
<text x="447" y="1957.3" font-size="62" text-anchor="middle" style="" textLength="31.5" lengthAdjust="spacingAndGlyphs" >0</text>
<line x1="640.7" y1="1874.3" x2="640.7" y2="1891.3" stroke="#000" stroke-width="4.5" stroke-linecap="round"/>
<text x="640.7" y="1957.3" font-size="62" text-anchor="middle" style="" textLength="94.5" lengthAdjust="spacingAndGlyphs" >200</text>
<line x1="834.5" y1="1874.3" x2="834.5" y2="1891.3" stroke="#000" stroke-width="4.5" stroke-linecap="round"/>
<text x="834.5" y="1957.3" font-size="62" text-anchor="middle" style="" textLength="94.5" lengthAdjust="spacingAndGlyphs" >400</text>
<line x1="1028.2" y1="1874.3" x2="1028.2" y2="1891.3" stroke="#000" stroke-width="4.5" stroke-linecap="round"/>
<text x="1028.2" y="1957.3" font-size="62" text-anchor="middle" style="" textLength="94.5" lengthAdjust="spacingAndGlyphs" >600</text>
<line x1="1222" y1="1874.3" x2="1222" y2="1891.3" stroke="#000" stroke-width="4.5" stroke-linecap="round"/>
<text x="1222" y="1957.3" font-size="62" text-anchor="middle" style="" textLength="94.5" lengthAdjust="spacingAndGlyphs" >800</text>
<line x1="1415.7" y1="1874.3" x2="1415.7" y2="1891.3" stroke="#000" stroke-width="4.5" stroke-linecap="round"/>
<text x="1415.7" y="1957.3" font-size="62" text-anchor="middle" style="" textLength="126" lengthAdjust="spacingAndGlyphs" >1000</text>
<text x="844.6" y="2044" font-size="60" text-anchor="start" style="font-style:italic;" textLength="31" lengthAdjust="spacingAndGlyphs" >x</text>
<line x1="906.4" y1="2001" x2="884.1" y2="2057.6" stroke="#000" stroke-width="2.8" stroke-linecap="butt"/>
<text x="916.1" y="2044" font-size="60" text-anchor="start" style="" textLength="103" lengthAdjust="spacingAndGlyphs" >mm</text>
<text x="476" y="1547.7" font-size="66" text-anchor="start" style="" textLength="74.7" lengthAdjust="spacingAndGlyphs" >(g)</text>
<text x="405" y="1492.5" font-size="62" text-anchor="end" style="" textLength="94.5" lengthAdjust="spacingAndGlyphs" >150</text>
<text x="405" y="1542.7" font-size="62" text-anchor="end" style="" textLength="94.5" lengthAdjust="spacingAndGlyphs" >100</text>
<text x="405" y="1592.9" font-size="62" text-anchor="end" style="" textLength="63" lengthAdjust="spacingAndGlyphs" >50</text>
<text x="405" y="1643.1" font-size="62" text-anchor="end" style="" textLength="31.5" lengthAdjust="spacingAndGlyphs" >0</text>
<text x="405" y="1693.3" font-size="62" text-anchor="end" style="" textLength="63" lengthAdjust="spacingAndGlyphs" >50</text>
<rect x="294" y="1677.3" width="38" height="2.8" fill="#000"/>
<text x="405" y="1743.5" font-size="62" text-anchor="end" style="" textLength="94.5" lengthAdjust="spacingAndGlyphs" >100</text>
<rect x="264" y="1727.5" width="38" height="2.8" fill="#000"/>
<text x="405" y="1793.7" font-size="62" text-anchor="end" style="" textLength="94.5" lengthAdjust="spacingAndGlyphs" >150</text>
<rect x="264" y="1777.7" width="38" height="2.8" fill="#000"/>
<text x="405" y="1843.9" font-size="62" text-anchor="end" style="" textLength="94.5" lengthAdjust="spacingAndGlyphs" >200</text>
<rect x="264" y="1827.9" width="38" height="2.8" fill="#000"/>
<text x="405" y="1894.1" font-size="62" text-anchor="end" style="" textLength="94.5" lengthAdjust="spacingAndGlyphs" >250</text>
<rect x="264" y="1878.1" width="38" height="2.8" fill="#000"/>
<g transform="translate(1528.200 1466.195) scale(0.380431)">
<g clip-path="url(#dom)"><g filter="url(#jet)">
<g filter="url(#fb21)">
<rect x="-100" y="-100" width="2800" height="1300" fill="url(#nh_base)"/>
<g style="mix-blend-mode:lighten">
<g style="mix-blend-mode:lighten"><path d="M2560 920l-1 33l-3 33l13 35l57 41l-84 27l-174 8l-157 3l-128 1l-105 0l-88 0l-73 0l-64 0l-56 0l-50 0l-45 0l-41 0l-39 -1l-35 0l-34 0l-32 0l-31 0l-31 0l-29 0l-30 0l-30 0l-29 0l-31 0l-31 0l-32 0l-34 0l-35 0l-39 1l-41 0l-45 0l-50 0l-56 0l-64 0l-74 0l-87 0l-104 0l-126 -2l-150 -4l-150 -11l-35 -31l43 -37l19 -34l17 -31l18 -31l19 -30l19 -28l21 -29l20 -27l22 -28l23 -27l24 -28l28 -27l31 -27l34 -27l37 -27l40 -26l45 -26l47 -26l54 -25l61 -22l68 -19l69 -18l70 -21l78 -14l100 27l99 60l74 32l63 20l57 13l55 8l57 2l64 -8l76 -16l97 -28l147 -56l158 -45l120 -4l91 16l78 25l64 30l47 36l34 39l26 38l21 38l15 37l13 36l10 35l10 34l8 34l7 33l4 33z" fill="#202020"/><path d="M2537 920l-1 32l-2 33l11 34l59 41l-70 28l-168 9l-155 3l-128 1l-105 0l-88 0l-73 0l-64 0l-56 0l-50 0l-45 0l-41 0l-39 -1l-35 0l-34 0l-32 0l-31 0l-31 0l-29 0l-30 0l-30 0l-29 0l-31 0l-31 0l-32 0l-34 0l-36 0l-38 1l-41 0l-45 0l-50 0l-56 0l-64 0l-74 0l-86 0l-104 -1l-125 -1l-145 -5l-139 -12l-19 -32l40 -37l18 -32l17 -31l17 -30l19 -29l19 -28l20 -27l20 -27l22 -27l24 -27l26 -26l30 -26l32 -25l36 -25l39 -24l42 -24l44 -24l47 -24l52 -23l59 -20l63 -18l66 -17l67 -19l76 -8l97 32l91 52l67 26l59 16l54 11l53 7l53 1l59 -4l68 -12l84 -20l123 -42l146 -43l145 -26l110 4l77 23l60 30l45 35l33 37l27 37l21 37l17 35l15 35l12 34l11 33l9 33l8 32l5 33z" fill="#2a2a2a"/><path d="M2513 920l0 32l-1 32l10 33l61 40l-57 29l-162 10l-154 3l-128 2l-104 0l-88 0l-73 0l-64 0l-56 0l-50 0l-45 0l-41 0l-38 -1l-36 0l-34 0l-32 0l-31 0l-31 0l-29 0l-30 0l-30 0l-29 0l-31 0l-31 0l-32 0l-34 0l-36 1l-38 0l-41 0l-45 0l-50 0l-56 0l-64 0l-74 0l-86 0l-103 -1l-124 -2l-141 -5l-127 -14l-3 -33l38 -36l17 -31l16 -30l17 -29l18 -28l18 -27l20 -27l20 -26l22 -26l24 -26l28 -25l32 -24l35 -24l38 -22l40 -23l43 -22l44 -22l47 -21l51 -21l55 -18l59 -18l63 -16l64 -15l75 -3l93 36l82 45l62 20l54 13l51 8l50 5l51 2l53 -2l61 -6l71 -13l98 -27l134 -41l170 -49l128 -9l76 22l58 30l42 34l33 36l26 35l22 35l19 35l16 33l15 33l12 32l11 32l9 32l5 31z" fill="#353535"/><path d="M2490 920l1 31l-1 32l8 32l63 40l-43 30l-156 11l-153 3l-127 2l-104 0l-88 0l-73 0l-64 0l-56 0l-50 0l-45 0l-41 0l-38 -1l-36 0l-34 0l-32 0l-31 0l-31 0l-29 0l-30 0l-30 0l-29 0l-31 0l-31 0l-32 0l-34 0l-36 1l-38 0l-41 0l-45 0l-50 0l-56 0l-64 0l-74 0l-86 0l-103 -1l-122 -2l-136 -6l-116 -15l13 -35l36 -34l15 -31l16 -29l16 -28l17 -27l18 -27l20 -26l20 -25l22 -25l25 -25l30 -24l34 -22l37 -22l40 -21l42 -20l43 -20l44 -20l47 -19l49 -18l53 -17l55 -17l58 -15l62 -13l74 2l90 42l72 37l56 15l50 8l48 6l47 4l48 2l49 1l52 -2l59 -5l74 -12l122 -40l194 -70l147 -23l75 21l54 29l41 34l31 34l26 35l23 33l21 33l18 32l16 32l14 31l13 31l9 31l6 31z" fill="#404040"/><path d="M2471 920l2 31l1 31l7 32l59 39l-34 31l-148 11l-150 4l-126 2l-104 0l-87 0l-74 0l-64 0l-56 0l-50 0l-45 0l-41 0l-38 0l-36 -1l-34 0l-32 0l-31 0l-31 0l-29 0l-30 0l-30 0l-29 0l-31 0l-31 0l-32 0l-34 0l-36 1l-38 0l-41 0l-45 0l-50 0l-56 0l-64 0l-74 0l-86 0l-102 -1l-119 -3l-127 -7l-98 -17l14 -34l33 -33l16 -30l17 -29l18 -27l19 -26l21 -26l20 -25l22 -24l24 -24l26 -23l29 -22l32 -22l35 -21l37 -20l39 -20l41 -19l42 -19l44 -19l47 -17l51 -16l54 -15l58 -13l64 -6l74 9l82 38l65 30l52 13l47 8l45 6l44 3l44 3l45 1l49 -1l54 -4l65 -10l102 -29l157 -52l144 -29l124 -7l64 23l48 30l38 31l29 33l23 33l18 32l16 32l15 31l14 31l11 31l10 30l7 30z" fill="#4a4a4a"/><path d="M2451 920l5 30l1 31l7 32l56 38l-26 31l-140 13l-147 4l-125 1l-105 1l-86 0l-74 0l-64 0l-56 0l-50 0l-45 0l-41 0l-38 0l-36 -1l-34 0l-32 0l-31 0l-31 0l-29 0l-30 0l-30 0l-29 0l-31 0l-31 0l-32 0l-34 1l-36 0l-38 0l-41 0l-46 0l-50 0l-56 1l-64 0l-73 0l-87 -1l-100 -1l-117 -4l-117 -8l-80 -20l14 -32l31 -33l17 -29l18 -27l20 -27l22 -25l22 -25l22 -24l24 -23l24 -22l27 -22l29 -21l31 -21l33 -20l34 -19l36 -19l38 -19l39 -19l42 -18l45 -16l50 -16l53 -13l57 -9l66 0l74 17l75 34l58 22l47 11l44 7l42 6l40 4l41 2l42 1l45 0l49 -3l57 -6l81 -19l119 -34l143 -34l171 -36l74 17l56 25l44 29l33 31l22 32l17 33l13 31l14 31l13 30l11 30l10 30l8 30z" fill="#555555"/><path d="M2432 920l7 30l2 30l5 31l53 38l-18 31l-130 14l-145 5l-125 1l-104 1l-86 0l-74 0l-64 0l-56 0l-50 0l-45 0l-41 0l-38 0l-36 -1l-34 0l-32 0l-31 0l-31 0l-29 0l-30 0l-30 0l-29 0l-31 0l-31 0l-32 0l-34 1l-36 0l-38 0l-42 0l-45 0l-50 1l-56 0l-64 0l-74 0l-86 -1l-100 -1l-113 -4l-108 -10l-62 -22l15 -32l29 -31l17 -28l20 -27l22 -26l23 -25l24 -23l24 -23l25 -21l26 -21l27 -21l29 -20l29 -19l31 -19l32 -19l33 -19l35 -18l36 -18l40 -18l43 -16l48 -14l52 -11l57 -7l69 7l73 24l67 30l51 16l44 8l40 7l38 5l38 4l37 3l39 1l40 0l44 -1l50 -4l60 -8l82 -16l140 -40l220 -63l84 10l63 21l50 26l37 29l22 32l14 32l12 32l12 30l12 30l11 29l10 29l9 30z" fill="#606060"/><path d="M2402 920l5 29l1 29l2 30l33 34l-6 32l-117 15l-138 5l-120 2l-100 1l-85 0l-71 0l-62 0l-55 0l-49 0l-44 0l-40 0l-38 0l-35 0l-33 0l-32 0l-30 0l-30 0l-29 0l-29 0l-29 0l-29 0l-30 0l-31 0l-31 0l-34 0l-35 0l-37 1l-41 0l-44 0l-50 0l-55 0l-62 0l-72 0l-84 0l-98 -2l-110 -4l-106 -10l-60 -21l12 -31l26 -30l17 -28l21 -27l24 -25l25 -24l25 -23l26 -22l25 -21l26 -20l27 -20l28 -19l29 -19l30 -18l31 -18l34 -18l36 -16l39 -16l42 -15l45 -13l48 -10l54 -7l62 3l65 12l65 21l56 23l45 11l39 7l36 5l35 4l34 3l34 3l35 1l37 0l40 -1l44 -3l52 -6l70 -12l111 -28l171 -46l94 -1l112 -2l84 13l39 27l26 30l18 31l10 31l11 29l11 30l10 28l9 29l8 28z" fill="#6a6a6a"/><path d="M2372 920l4 28l0 29l-2 28l12 31l6 32l-102 16l-131 5l-116 3l-97 1l-82 0l-70 0l-60 1l-53 0l-48 0l-43 0l-39 0l-37 0l-34 0l-33 -1l-31 0l-30 0l-29 0l-29 0l-28 0l-28 0l-29 0l-29 1l-30 0l-31 0l-33 0l-35 0l-36 0l-40 0l-44 0l-48 1l-54 0l-61 0l-71 0l-82 -1l-95 -2l-108 -4l-102 -10l-59 -20l9 -30l24 -30l17 -27l21 -26l26 -25l27 -23l27 -23l26 -21l26 -20l26 -20l26 -19l27 -19l29 -18l29 -17l32 -17l34 -17l38 -14l41 -14l43 -12l47 -10l49 -7l56 -1l66 12l62 16l56 19l47 15l37 8l35 5l32 3l31 3l31 3l31 1l31 1l33 0l36 0l39 -2l45 -4l56 -7l83 -18l122 -28l104 -12l161 -25l117 0l42 25l30 28l21 29l10 31l10 29l10 28l8 28l8 28l7 28z" fill="#757575"/><path d="M2342 920l2 27l-1 28l-5 28l-8 27l17 32l-87 17l-125 6l-111 2l-94 1l-79 1l-68 1l-59 0l-51 0l-47 0l-42 0l-39 0l-35 0l-34 0l-32 0l-30 0l-29 0l-29 0l-28 0l-28 0l-28 0l-28 0l-29 0l-29 0l-31 0l-32 0l-33 1l-36 0l-39 0l-43 0l-47 0l-53 0l-60 0l-69 0l-80 -1l-93 -1l-105 -4l-100 -10l-57 -20l7 -29l21 -29l16 -27l23 -26l27 -24l29 -23l28 -21l27 -21l27 -19l26 -19l26 -19l26 -18l28 -17l29 -17l31 -17l35 -14l40 -13l43 -12l45 -9l48 -7l49 -4l58 4l72 23l58 19l47 17l37 7l31 4l30 3l28 3l28 2l27 1l28 1l28 1l29 0l31 0l34 -1l37 -2l44 -3l54 -6l73 -11l114 -23l210 -48l150 -13l45 23l34 26l24 28l10 29l9 29l8 28l8 27l7 28l6 27z" fill="#808080"/><path d="M2308 920l-1 26l-3 27l-8 26l-10 27l0 28l-83 16l-117 5l-105 2l-88 2l-75 0l-65 0l-56 0l-50 -1l-45 0l-40 -1l-36 0l-34 -1l-31 0l-29 -1l-28 0l-27 -1l-26 0l-26 -1l-25 0l-25 0l-25 -1l-26 0l-26 0l-27 0l-29 0l-30 1l-34 1l-36 1l-41 1l-46 1l-50 1l-56 0l-65 0l-74 0l-86 -2l-97 -3l-97 -9l-64 -17l-18 -25l0 -26l7 -26l20 -26l26 -24l28 -23l29 -21l28 -21l27 -19l28 -19l28 -18l30 -17l31 -17l32 -15l36 -15l39 -13l41 -11l44 -9l46 -7l47 -5l71 12l60 12l59 18l47 14l39 11l30 4l27 2l27 1l25 1l25 0l26 -1l27 0l27 -1l28 0l30 -1l33 -1l35 -1l41 -3l48 -4l64 -8l95 -17l169 -35l140 -15l74 12l62 17l36 24l15 28l11 27l8 27l6 27l4 27l3 27z" fill="#8a8a8a"/><path d="M2273 920l-4 25l-5 26l-9 25l-12 25l-17 25l-80 14l-110 5l-97 3l-83 1l-71 0l-62 -1l-54 0l-48 -2l-42 -1l-38 -1l-35 -1l-31 -1l-29 -1l-27 -1l-26 -1l-24 0l-24 -1l-23 -1l-22 -1l-22 -1l-22 -1l-23 0l-22 -1l-24 0l-26 1l-27 1l-31 1l-34 3l-39 2l-44 2l-47 1l-53 1l-61 1l-68 -1l-78 -2l-90 -3l-94 -7l-72 -14l-43 -20l-21 -24l-1 -25l18 -26l25 -24l27 -23l29 -21l28 -21l29 -19l29 -19l31 -17l33 -17l34 -15l36 -14l39 -13l43 -11l44 -9l45 -7l46 -6l47 -3l91 29l63 19l47 14l35 8l30 6l25 2l23 -1l22 -1l23 -1l23 -2l24 -2l26 -2l26 -2l28 -1l29 -1l30 -1l34 -1l37 -2l44 -3l54 -5l76 -10l127 -24l131 -15l103 -1l90 8l47 21l21 26l13 26l8 27l5 26l0 27l0 25z" fill="#959595"/><path d="M2239 920l-7 24l-8 25l-10 24l-14 23l-35 21l-75 14l-103 4l-91 3l-78 1l-67 0l-58 -1l-52 -2l-46 -1l-40 -2l-36 -2l-32 -2l-29 -1l-27 -1l-25 -2l-23 -1l-22 -1l-21 -2l-20 -1l-20 -1l-19 -2l-19 -1l-19 0l-20 -1l-21 0l-22 1l-24 1l-28 2l-32 3l-38 4l-41 3l-45 2l-50 1l-56 1l-62 0l-70 -2l-83 -3l-91 -5l-79 -12l-68 -16l-43 -21l-8 -25l14 -25l24 -24l27 -23l28 -21l30 -21l30 -19l31 -18l33 -17l35 -16l38 -15l40 -13l43 -10l46 -9l46 -7l46 -6l46 -4l48 -1l112 47l64 26l35 9l24 3l21 0l19 -1l19 -2l19 -3l20 -4l21 -4l23 -4l24 -3l25 -3l27 -2l28 -2l29 -1l32 -1l34 -1l38 -1l45 -2l57 -4l86 -11l121 -17l133 -12l117 -1l58 17l27 24l16 25l7 26l3 26l-2 26l-4 25z" fill="#9f9f9f"/><path d="M2207 920l-6 24l-10 23l-15 23l-22 22l-40 19l-69 12l-90 6l-85 3l-76 0l-66 -1l-58 -1l-51 -2l-44 -3l-39 -2l-35 -3l-30 -2l-28 -2l-25 -2l-23 -3l-22 -2l-20 -3l-19 -2l-17 -3l-17 -2l-16 -2l-15 -2l-16 -1l-15 -1l-16 -1l-17 0l-18 0l-21 1l-24 2l-27 1l-30 2l-33 1l-37 1l-44 1l-129 21l-76 1l-88 0l-92 -5l-78 -10l-64 -16l-42 -21l-11 -23l15 -25l28 -23l30 -22l31 -20l32 -20l31 -18l33 -16l35 -16l36 -14l38 -13l39 -11l137 20l39 -5l36 -4l35 -4l34 -3l34 -1l77 30l46 17l25 6l19 1l16 0l16 -2l15 -3l16 -2l16 -4l18 -4l19 -3l20 -4l23 -4l24 -3l25 -2l27 -3l29 -1l32 -2l36 -2l41 -2l51 -4l73 -9l101 -12l111 -9l104 -1l66 11l44 18l30 21l21 23l12 24l4 24l0 24z" fill="#aaaaaa"/><path d="M2175 920l-5 23l-12 22l-20 22l-30 20l-44 17l-63 12l-78 7l-79 3l-74 0l-65 -2l-57 -2l-50 -3l-44 -3l-37 -3l-33 -3l-30 -3l-26 -3l-23 -3l-22 -3l-20 -4l-18 -4l-17 -4l-14 -4l-14 -3l-13 -2l-11 -3l-12 -2l-11 -2l-11 -1l-12 -1l-12 -1l-14 0l-15 0l-17 0l-20 0l-21 1l-23 0l-32 1l-196 43l-82 4l-93 1l-93 -3l-77 -10l-60 -16l-42 -19l-13 -23l17 -23l30 -23l34 -21l34 -19l33 -18l34 -17l34 -15l36 -14l38 -12l38 -11l39 -10l230 50l33 -1l26 -2l22 -2l22 -2l21 -1l43 14l26 8l17 2l13 0l12 -1l11 -2l12 -3l12 -2l13 -4l14 -3l16 -4l17 -4l19 -5l21 -4l23 -3l25 -3l27 -3l29 -3l33 -2l38 -2l45 -4l61 -6l79 -8l91 -7l89 -1l75 7l61 12l44 16l34 20l23 21l10 23l3 23z" fill="#b5b5b5"/><path d="M2143 920l-5 22l-12 21l-25 21l-39 18l-49 15l-56 12l-66 8l-73 3l-72 -1l-64 -2l-57 -3l-49 -4l-42 -3l-37 -4l-31 -4l-28 -3l-25 -4l-22 -4l-20 -4l-19 -6l-16 -5l-14 -5l-12 -4l-10 -4l-9 -4l-8 -3l-8 -3l-7 -2l-7 -2l-6 -2l-6 -2l-7 -2l-7 -1l-7 -2l-8 -1l-9 0l-11 -1l-19 2l-262 65l-89 6l-97 4l-94 -2l-76 -10l-57 -15l-41 -19l-15 -21l17 -23l34 -22l38 -20l36 -18l35 -17l35 -15l36 -14l38 -12l39 -11l38 -9l38 -9l324 81l26 3l16 1l10 -1l10 -1l9 -1l7 -1l8 -2l7 -1l7 -2l8 -2l8 -2l8 -3l8 -2l10 -3l11 -4l12 -4l13 -4l16 -5l19 -5l20 -5l23 -4l24 -4l28 -3l30 -3l34 -3l39 -3l48 -3l59 -4l69 -4l75 -1l84 1l78 6l59 12l46 17l33 19l16 21l7 22z" fill="#bfbfbf"/><path d="M1933 920l-4 16l-10 17l-19 15l-29 13l-36 12l-42 9l-49 6l-55 2l-54 -1l-49 -1l-42 -2l-37 -3l-32 -3l-27 -3l-24 -3l-20 -2l-19 -3l-17 -3l-15 -3l-14 -4l-12 -4l-10 -4l-9 -3l-8 -3l-7 -3l-6 -2l-6 -2l-5 -2l-5 -2l-5 -1l-5 -2l-5 -1l-5 -1l-5 -1l-6 -1l-7 0l-8 -1l-14 1l-197 49l-66 5l-73 3l-71 -2l-57 -7l-42 -11l-31 -14l-12 -16l14 -18l25 -16l28 -15l28 -14l26 -12l26 -12l27 -10l28 -9l29 -8l29 -7l29 -6l243 60l19 2l12 1l8 -1l7 0l6 -1l6 -1l6 -1l5 -1l6 -2l5 -1l6 -2l6 -2l7 -2l7 -2l8 -3l9 -3l10 -3l12 -4l14 -4l15 -3l17 -3l19 -3l20 -2l23 -3l26 -2l29 -2l36 -2l44 -4l52 -2l56 -1l63 1l58 4l45 10l35 12l24 14l12 16l5 16z" fill="#c2c2c2"/><path d="M1722 920l-3 11l-6 11l-13 10l-19 9l-24 7l-29 6l-32 4l-37 2l-36 0l-32 -1l-28 -2l-25 -2l-21 -2l-18 -2l-16 -1l-14 -2l-12 -2l-11 -2l-10 -2l-10 -3l-8 -2l-7 -3l-6 -2l-5 -2l-5 -2l-4 -1l-3 -2l-4 -1l-3 -1l-4 -1l-3 -1l-3 -1l-3 -1l-4 0l-4 -1l-5 0l-5 0l-10 0l-131 33l-44 3l-49 2l-47 -1l-38 -5l-28 -7l-21 -10l-7 -11l9 -11l17 -11l18 -10l19 -9l17 -8l18 -8l17 -7l19 -6l20 -5l19 -5l19 -4l162 40l13 2l8 0l5 0l5 -1l4 0l4 -1l4 -1l4 -1l3 -1l4 -1l4 -1l4 -1l4 -1l5 -2l5 -1l6 -2l7 -3l8 -2l9 -3l11 -2l11 -2l12 -2l14 -2l15 -1l17 -1l20 -2l24 -2l29 -2l35 -1l37 -1l42 0l39 4l29 6l24 8l16 9l8 11l3 11z" fill="#c6c6c6"/><path d="M1511 920l-1 5l-4 6l-6 5l-10 4l-12 4l-14 3l-16 2l-18 1l-18 0l-17 -1l-14 0l-12 -1l-11 -1l-9 -1l-8 -1l-6 -1l-7 -1l-5 -1l-5 -1l-5 -1l-4 -2l-3 -1l-3 -1l-3 -1l-2 -1l-2 -1l-2 0l-2 -1l-2 -1l-1 0l-2 -1l-2 0l-1 0l-2 -1l-2 0l-2 0l-3 0l-5 0l-65 16l-22 2l-25 1l-23 -1l-19 -2l-14 -4l-11 -4l-4 -6l5 -6l8 -5l10 -5l9 -5l9 -4l8 -4l9 -3l10 -3l9 -3l10 -2l10 -2l81 20l6 1l4 0l3 0l2 0l2 -1l2 0l2 0l2 -1l2 0l1 -1l2 0l2 -1l3 -1l2 0l3 -1l3 -1l3 -1l4 -2l5 -1l5 -1l5 -1l7 -1l6 -1l8 -1l9 0l9 -1l12 -1l15 -1l17 -1l19 0l21 0l19 2l15 3l12 4l8 5l4 5l2 5z" fill="#c9c9c9"/></g>
<g style="mix-blend-mode:lighten"><path d="M2401 660l-3 34l-11 32l-18 29l-24 23l-30 16l-32 9l-31 3l-27 1l-24 0l-22 -2l-20 -1l-19 -3l-18 -3l-18 -4l-18 -5l-18 -5l-18 -7l-19 -8l-18 -11l-19 -14l-17 -16l-17 -20l-17 -22l-16 -26l-16 -30l-18 -36l-17 -43l-17 -53l-9 -60l10 -58l26 -51l36 -47l42 -46l54 -31l61 -5l61 46l46 63l30 67l24 43l21 31l21 25l19 24l19 23l19 23l19 25l19 27l16 30z" fill="#141414"/><path d="M2385 660l0 32l-9 31l-18 27l-24 22l-29 15l-30 8l-29 3l-26 1l-23 -1l-20 -2l-19 -1l-18 -3l-17 -3l-17 -4l-16 -4l-17 -5l-17 -6l-18 -8l-18 -10l-19 -12l-17 -15l-16 -19l-16 -21l-16 -25l-16 -29l-15 -34l-16 -41l-14 -49l-8 -57l10 -53l26 -46l34 -43l40 -41l50 -29l57 -5l56 43l43 60l29 57l22 40l21 29l19 24l18 22l17 22l17 22l18 24l17 25l15 28z" fill="#181818"/><path d="M2370 660l2 31l-8 29l-18 25l-23 21l-28 13l-28 8l-28 2l-24 1l-22 -1l-19 -2l-17 -2l-17 -2l-16 -3l-15 -3l-16 -4l-16 -5l-16 -5l-17 -7l-17 -9l-18 -11l-18 -14l-16 -18l-15 -20l-15 -24l-15 -28l-14 -32l-14 -39l-12 -45l-6 -53l11 -48l24 -43l33 -38l38 -37l46 -26l52 -5l52 40l39 56l28 48l22 36l19 28l17 23l17 21l16 21l15 21l16 22l16 23l15 26z" fill="#1c1c1c"/><path d="M2355 660l4 29l-7 28l-17 24l-23 18l-27 12l-27 7l-25 3l-23 0l-20 -1l-18 -2l-17 -2l-15 -2l-15 -3l-14 -3l-14 -3l-15 -5l-15 -5l-16 -6l-17 -8l-18 -10l-17 -12l-16 -17l-15 -19l-14 -23l-14 -26l-13 -31l-12 -36l-10 -43l-5 -48l12 -44l24 -38l31 -34l35 -32l42 -25l48 -5l48 38l36 52l27 39l20 32l18 27l16 22l15 20l14 20l15 19l14 21l14 21l14 24z" fill="#202020"/><path d="M2351 660l5 28l-6 28l-18 24l-22 18l-25 14l-25 8l-24 5l-23 2l-21 0l-19 -2l-17 -3l-16 -3l-15 -3l-15 -5l-14 -4l-15 -5l-15 -6l-16 -6l-16 -8l-17 -11l-18 -13l-16 -16l-15 -19l-12 -23l-11 -26l-10 -29l-8 -33l-6 -38l-1 -43l12 -39l22 -35l28 -30l33 -28l38 -23l44 -3l43 32l33 43l26 34l20 28l17 24l15 21l15 19l14 18l14 19l15 19l14 21l15 23z" fill="#2a2a2a"/><path d="M2346 660l7 28l-6 27l-17 24l-21 18l-23 15l-24 10l-23 7l-23 3l-21 1l-20 -2l-18 -3l-17 -4l-16 -4l-15 -5l-14 -5l-15 -6l-15 -6l-15 -8l-16 -8l-17 -11l-18 -13l-16 -16l-15 -19l-11 -23l-8 -25l-6 -28l-4 -30l-1 -34l2 -37l11 -35l21 -30l26 -27l30 -25l34 -20l40 -1l38 27l31 33l24 29l19 24l17 22l15 19l14 18l14 17l14 17l14 19l15 20l15 22z" fill="#353535"/><path d="M2341 660l9 28l-6 27l-16 23l-21 19l-21 15l-22 12l-22 8l-22 6l-22 2l-21 -2l-19 -4l-18 -5l-16 -5l-16 -6l-15 -6l-14 -6l-15 -7l-15 -8l-16 -9l-16 -11l-18 -13l-17 -16l-14 -19l-9 -23l-5 -25l-3 -26l1 -27l2 -29l6 -31l11 -31l19 -27l23 -23l27 -21l31 -18l35 2l34 20l28 25l23 23l19 20l16 19l15 18l14 16l13 17l14 16l14 17l15 19l16 21z" fill="#404040"/><path d="M2328 660l6 25l-5 26l-14 22l-17 18l-19 16l-20 12l-22 7l-22 4l-21 1l-20 -3l-18 -4l-16 -4l-15 -5l-15 -5l-13 -5l-14 -6l-14 -7l-14 -7l-14 -9l-16 -10l-15 -12l-16 -15l-13 -18l-10 -21l-6 -23l-2 -24l2 -26l5 -25l6 -28l12 -26l17 -24l21 -21l24 -19l28 -16l31 -1l31 15l26 20l22 20l18 18l16 17l15 17l14 15l13 16l13 16l14 16l14 19l13 21z" fill="#4a4a4a"/><path d="M2316 660l2 23l-5 23l-10 21l-14 19l-16 16l-18 13l-23 6l-21 1l-21 -1l-18 -2l-17 -4l-15 -4l-14 -5l-13 -4l-13 -5l-13 -5l-13 -6l-13 -7l-13 -8l-14 -10l-14 -11l-14 -14l-13 -17l-10 -19l-7 -22l-1 -22l3 -23l7 -23l8 -23l12 -22l15 -21l19 -19l21 -18l25 -13l28 -3l27 9l24 15l21 17l18 16l16 16l14 14l14 15l13 15l13 15l13 17l12 18l11 20z" fill="#555555"/><path d="M2303 660l-1 21l-5 21l-7 20l-10 19l-13 16l-17 13l-22 5l-22 -1l-20 -2l-17 -3l-15 -4l-14 -3l-13 -4l-12 -4l-12 -5l-12 -4l-12 -6l-12 -6l-12 -8l-12 -9l-13 -11l-12 -12l-12 -15l-11 -18l-8 -20l0 -21l4 -21l9 -19l10 -19l12 -18l14 -18l16 -17l18 -16l22 -11l24 -5l24 3l23 10l19 14l18 14l15 14l14 13l14 14l13 14l12 15l12 16l11 17l9 20z" fill="#606060"/><path d="M2285 660l1 19l-1 20l-5 19l-7 19l-11 17l-15 13l-21 5l-21 1l-18 0l-17 -2l-16 -3l-14 -2l-13 -4l-13 -4l-12 -5l-11 -8l-10 -8l-9 -9l-9 -9l-9 -9l-8 -11l-9 -11l-8 -13l-7 -15l-5 -16l0 -17l3 -17l6 -16l8 -15l9 -16l12 -14l13 -14l15 -12l18 -9l19 -4l20 2l19 7l16 10l15 11l13 11l12 11l12 11l12 11l11 13l11 13l10 15l9 17z" fill="#6a6a6a"/><path d="M2268 660l3 17l1 18l-2 19l-4 18l-9 18l-14 13l-19 7l-19 2l-18 1l-17 0l-15 -1l-15 -2l-14 -3l-13 -5l-13 -6l-9 -10l-8 -11l-7 -11l-5 -11l-5 -10l-5 -10l-4 -11l-5 -10l-3 -12l-3 -12l1 -13l2 -13l4 -12l5 -13l7 -12l9 -12l10 -10l12 -9l14 -7l15 -3l15 1l15 5l13 6l12 8l11 8l10 8l10 9l10 9l10 9l11 11l10 12l9 14z" fill="#757575"/><path d="M2250 660l6 15l3 17l1 18l-2 18l-6 18l-12 14l-18 7l-18 4l-17 3l-16 1l-16 0l-15 -2l-15 -2l-14 -4l-12 -8l-9 -13l-6 -14l-3 -13l-2 -12l-2 -11l0 -10l-1 -9l0 -9l0 -8l0 -8l1 -9l0 -9l2 -9l3 -10l4 -9l7 -8l7 -7l9 -5l10 -5l10 -2l11 0l11 1l9 4l10 4l9 5l8 5l9 6l8 7l9 7l9 8l10 9l9 12z" fill="#808080"/><path d="M2222 660l5 11l2 13l1 13l-1 14l-5 13l-9 11l-13 5l-14 4l-13 1l-12 1l-12 0l-11 -1l-11 -2l-10 -3l-10 -6l-6 -9l-5 -11l-2 -10l-2 -9l-1 -8l-1 -7l0 -7l0 -7l0 -6l0 -6l0 -7l1 -6l1 -7l2 -7l4 -7l4 -6l6 -6l7 -4l7 -3l8 -2l8 0l8 1l7 3l7 3l7 4l6 4l7 4l6 5l7 5l7 7l7 7l7 8z" fill="#838383"/><path d="M2195 660l3 8l1 8l1 9l-1 9l-3 9l-6 7l-9 4l-9 2l-8 1l-9 0l-7 0l-8 0l-7 -2l-7 -2l-6 -4l-5 -6l-3 -7l-1 -7l-2 -6l0 -5l-1 -5l0 -4l0 -5l0 -4l0 -4l0 -4l1 -5l1 -5l1 -4l2 -5l3 -4l4 -3l5 -3l4 -2l6 -1l5 -1l5 1l5 2l5 2l4 3l5 2l4 3l4 3l4 4l5 4l5 5l5 5z" fill="#868686"/><path d="M2168 660l1 4l1 4l0 4l0 5l-2 4l-3 4l-4 2l-5 1l-4 0l-4 1l-4 0l-4 -1l-4 0l-3 -1l-3 -2l-2 -3l-2 -4l-1 -3l0 -3l-1 -3l0 -2l0 -3l0 -2l0 -2l0 -2l0 -2l0 -2l1 -3l0 -2l2 -2l1 -2l2 -2l2 -2l3 -1l2 0l3 0l3 0l2 1l2 1l3 1l2 2l2 1l2 2l2 1l3 3l2 2l2 3z" fill="#898989"/></g>
<g style="mix-blend-mode:lighten"><path d="M1100 460l-1 18l-3 18l-4 19l-7 17l-9 17l-14 13l-16 10l-18 5l-18 3l-17 2l-17 1l-16 1l-16 -1l-17 0l-17 -2l-19 -2l-20 -3l-21 -6l-20 -10l-19 -14l-16 -18l-11 -21l-5 -23l4 -24l8 -22l10 -21l11 -18l11 -18l12 -17l13 -16l15 -15l15 -14l18 -12l20 -9l22 -7l22 -4l23 -1l23 1l24 4l22 10l16 19l11 21l8 22l5 21l4 20l2 19l2 19z" fill="#171717"/><path d="M1065 460l-1 14l-2 13l-3 14l-5 13l-7 13l-10 10l-13 7l-13 4l-14 2l-12 2l-13 0l-12 1l-12 0l-13 -1l-13 -1l-14 -2l-15 -2l-15 -5l-16 -7l-14 -10l-12 -14l-8 -16l-3 -17l2 -18l6 -17l8 -15l8 -14l8 -13l9 -13l10 -12l11 -11l12 -11l13 -9l15 -7l16 -5l17 -3l17 -1l18 1l17 3l17 8l12 14l8 16l6 16l4 16l3 15l2 14l1 14z" fill="#1a1a1a"/><path d="M1030 460l-1 9l-1 9l-2 9l-3 9l-5 8l-7 7l-8 5l-9 3l-9 1l-9 1l-8 1l-8 0l-8 0l-8 -1l-9 0l-9 -1l-10 -2l-11 -3l-10 -5l-10 -7l-8 -9l-5 -10l-2 -12l1 -12l4 -11l5 -10l6 -10l6 -9l6 -8l6 -8l7 -7l8 -8l9 -6l10 -4l11 -3l11 -2l11 -1l12 0l12 3l11 5l8 9l5 11l4 10l3 11l2 10l1 9l1 10z" fill="#1c1c1c"/><path d="M995 460l0 5l-1 4l-1 5l-2 4l-2 4l-3 4l-5 2l-4 1l-5 1l-4 1l-4 0l-4 0l-4 0l-4 0l-5 -1l-4 0l-5 -1l-6 -1l-5 -3l-4 -3l-4 -5l-3 -5l-1 -6l1 -6l2 -6l2 -5l3 -4l3 -5l3 -4l3 -4l4 -4l4 -3l4 -3l5 -3l5 -1l6 -1l6 -1l6 1l5 1l6 2l4 5l3 5l2 6l1 5l1 5l1 5l0 4z" fill="#1f1f1f"/></g>
<g style="mix-blend-mode:lighten"><path d="M1033 930l0 15l-4 15l-6 16l-13 14l-23 11l-28 8l-29 5l-27 3l-27 3l-25 2l-24 1l-25 2l-25 1l-27 1l-28 0l-31 -1l-33 -2l-35 -4l-34 -8l-28 -12l-23 -15l-14 -18l-4 -18l9 -19l15 -17l17 -15l20 -14l22 -11l24 -10l24 -9l24 -7l24 -6l25 -5l25 -5l26 -5l27 -3l29 -2l30 0l29 2l30 5l27 8l25 9l21 12l17 13l10 15l7 15l4 15z" fill="#cccccc"/><path d="M1012 930l0 14l-3 14l-7 13l-11 13l-21 10l-25 7l-26 5l-25 4l-24 2l-23 2l-23 1l-22 2l-23 1l-24 0l-26 0l-27 -1l-29 -3l-31 -4l-29 -7l-25 -11l-19 -14l-13 -15l-3 -17l7 -16l13 -15l16 -14l17 -12l20 -10l20 -9l22 -7l21 -6l22 -6l22 -5l22 -4l23 -3l24 -3l25 -2l27 0l26 2l26 4l25 6l23 8l20 10l16 12l11 13l6 14l4 13z" fill="#d2d2d2"/><path d="M992 930l-1 12l-3 13l-6 12l-11 12l-18 9l-22 6l-23 5l-23 3l-22 2l-20 2l-21 1l-20 1l-21 1l-21 0l-23 -1l-24 -1l-25 -3l-27 -4l-25 -6l-21 -10l-16 -12l-10 -13l-3 -15l5 -14l12 -13l13 -12l16 -10l16 -9l18 -8l18 -7l19 -5l19 -5l20 -4l19 -3l20 -3l21 -3l22 -1l23 0l23 1l23 4l22 5l21 6l19 8l15 10l11 12l6 12l4 13z" fill="#d9d9d9"/><path d="M971 930l-1 11l-3 11l-5 11l-10 10l-16 9l-19 5l-21 4l-20 3l-19 2l-19 2l-18 1l-18 1l-18 0l-19 0l-20 -1l-21 -2l-21 -2l-22 -4l-22 -6l-17 -9l-13 -10l-8 -12l-2 -12l4 -12l9 -11l12 -10l13 -9l14 -8l15 -7l15 -5l17 -5l16 -4l17 -3l16 -3l17 -2l18 -2l18 -1l20 0l19 1l20 2l20 4l19 5l17 7l16 8l10 10l6 11l3 11z" fill="#dfdfdf"/><path d="M957 930l-2 10l-3 10l-7 10l-10 8l-14 8l-18 4l-18 4l-18 2l-17 2l-16 2l-16 1l-16 0l-16 1l-17 0l-17 -1l-18 -2l-19 -2l-19 -4l-19 -5l-16 -7l-12 -9l-8 -10l-3 -11l4 -11l9 -10l11 -9l12 -8l12 -6l13 -6l14 -6l14 -4l15 -3l14 -3l15 -3l15 -2l16 -1l16 -1l17 0l18 0l18 2l19 3l18 4l17 6l14 8l10 9l6 10l2 10z" fill="#e4e4e4"/><path d="M943 930l-2 9l-5 9l-7 8l-10 8l-14 5l-16 4l-16 3l-15 2l-15 2l-14 1l-13 1l-14 1l-14 0l-15 0l-15 0l-15 -2l-16 -2l-17 -3l-16 -5l-14 -6l-11 -7l-9 -9l-3 -9l4 -10l9 -9l10 -7l11 -7l11 -6l11 -5l12 -5l12 -3l12 -4l13 -2l13 -2l13 -2l14 -1l14 -1l15 -1l16 0l17 1l17 2l17 4l16 5l13 7l9 8l6 9l2 10z" fill="#e8e8e8"/><path d="M929 930l-3 8l-6 8l-8 7l-10 6l-13 4l-14 4l-13 2l-13 2l-12 1l-12 1l-11 1l-12 0l-12 1l-12 0l-13 -1l-13 -1l-13 -2l-14 -3l-13 -3l-13 -5l-11 -6l-8 -8l-3 -8l3 -8l9 -7l9 -7l10 -6l9 -4l10 -5l9 -4l10 -3l11 -3l11 -2l11 -2l11 -2l12 -1l12 0l13 -1l14 0l15 0l16 1l17 3l14 4l12 6l9 8l5 8l2 9z" fill="#ededed"/><path d="M897 930l-2 6l-4 6l-6 5l-8 5l-10 3l-10 2l-10 2l-10 1l-9 1l-9 1l-8 1l-9 0l-9 1l-9 0l-10 -1l-9 -1l-10 -1l-11 -2l-10 -3l-9 -4l-8 -4l-7 -6l-2 -6l2 -6l7 -6l7 -4l7 -5l7 -3l8 -4l7 -3l7 -2l8 -2l8 -2l9 -1l8 -1l9 -1l9 -1l10 0l10 0l12 0l12 1l12 2l11 3l9 5l6 5l4 6l1 7z" fill="#f1f1f1"/><path d="M866 930l-2 4l-3 4l-4 3l-5 3l-6 3l-7 1l-7 1l-7 1l-6 1l-5 0l-6 1l-6 0l-6 0l-6 0l-6 0l-7 0l-7 -1l-6 -2l-7 -2l-6 -2l-6 -3l-4 -4l-2 -4l2 -4l4 -4l5 -3l5 -3l5 -2l4 -2l5 -2l5 -2l5 -2l6 -1l5 -1l6 0l6 -1l6 0l7 0l7 -1l7 1l8 0l8 1l8 3l6 3l4 3l3 4l0 5z" fill="#f5f5f5"/><path d="M834 930l-1 2l-1 2l-2 2l-3 1l-3 1l-4 1l-3 1l-3 0l-3 0l-3 1l-3 0l-3 0l-3 0l-3 0l-3 0l-3 0l-4 -1l-3 0l-4 -1l-3 -2l-2 -1l-3 -2l0 -2l1 -2l2 -2l2 -1l2 -2l3 -1l2 -1l3 -1l2 -1l3 -1l2 0l3 -1l3 0l3 0l3 -1l3 0l4 0l4 0l4 1l4 0l3 1l3 2l2 2l2 2l0 2z" fill="#f9f9f9"/></g>
<g style="mix-blend-mode:lighten"><path d="M2094 935l-6 20l-17 19l-33 14l-37 11l-36 7l-32 5l-30 4l-26 4l-26 2l-24 2l-23 2l-24 1l-24 0l-25 0l-26 0l-28 -1l-32 -2l-35 -3l-40 -4l-44 -8l-43 -12l-33 -17l-23 -21l-7 -23l12 -23l27 -20l33 -17l35 -13l36 -10l36 -7l35 -5l32 -4l30 -3l29 -2l27 -1l28 0l28 0l28 1l29 2l31 2l33 3l36 5l38 6l36 11l27 16l16 19l9 20z" fill="#cccccc"/><path d="M2062 935l-6 18l-14 17l-29 13l-34 9l-32 7l-30 5l-26 3l-25 3l-22 2l-22 2l-21 1l-21 1l-21 0l-23 0l-23 0l-25 -1l-29 -1l-32 -3l-36 -3l-40 -7l-39 -10l-31 -16l-20 -19l-8 -21l11 -21l25 -18l30 -15l31 -12l33 -10l33 -6l31 -5l29 -3l28 -2l26 -2l25 -1l25 0l25 0l25 1l27 1l28 2l30 3l32 4l35 7l32 10l23 14l14 17l8 18z" fill="#d2d2d2"/><path d="M2029 935l-4 16l-13 15l-24 12l-31 8l-29 6l-27 4l-23 3l-22 2l-20 2l-19 1l-19 1l-18 1l-19 0l-19 0l-21 0l-22 0l-26 -2l-28 -1l-33 -3l-37 -6l-34 -9l-28 -14l-19 -17l-8 -19l10 -19l22 -16l27 -14l28 -11l30 -8l29 -6l28 -4l27 -3l24 -2l24 -1l23 -1l22 0l22 0l23 1l24 1l25 2l27 2l29 4l30 6l28 9l21 13l12 15l7 16z" fill="#d9d9d9"/><path d="M1997 935l-3 14l-11 13l-21 11l-26 7l-27 5l-23 3l-21 2l-19 2l-18 1l-16 1l-16 1l-16 1l-16 0l-17 0l-18 0l-19 0l-23 -1l-25 -1l-29 -2l-33 -5l-31 -8l-25 -12l-17 -15l-7 -17l8 -17l20 -14l23 -12l26 -10l25 -8l27 -5l25 -3l23 -3l22 -1l21 -1l20 -1l20 0l20 0l20 1l21 1l22 1l23 3l26 3l27 5l24 8l18 11l10 14l5 14z" fill="#dfdfdf"/><path d="M1978 935l-3 13l-10 12l-19 9l-24 7l-24 4l-22 3l-19 2l-17 2l-16 1l-15 1l-15 1l-14 1l-15 0l-15 0l-16 0l-18 -1l-19 -1l-22 -1l-26 -3l-29 -4l-28 -7l-23 -11l-17 -13l-6 -15l9 -15l19 -13l23 -10l23 -8l23 -7l23 -4l22 -3l20 -2l19 -2l18 -1l18 0l17 -1l17 0l18 1l18 1l20 1l21 2l23 3l24 4l22 7l17 10l10 12l6 12z" fill="#e4e4e4"/><path d="M1958 935l-2 12l-9 10l-18 9l-22 6l-21 4l-19 3l-17 2l-16 1l-14 1l-14 1l-13 1l-13 0l-13 0l-14 0l-14 0l-16 -1l-17 -1l-19 -1l-22 -3l-25 -4l-25 -6l-22 -9l-15 -12l-6 -13l10 -13l19 -11l21 -9l21 -7l20 -5l20 -4l19 -2l17 -2l16 -1l15 -1l15 -1l15 0l15 0l15 0l16 1l17 0l19 2l19 2l21 4l20 6l17 8l11 10l6 11z" fill="#e8e8e8"/><path d="M1939 935l-2 10l-8 10l-16 8l-20 5l-19 3l-16 3l-16 2l-13 1l-13 1l-12 1l-12 1l-12 0l-12 0l-12 0l-13 -1l-13 -1l-15 -1l-16 -2l-18 -2l-21 -3l-22 -6l-20 -7l-15 -10l-5 -12l10 -11l20 -9l20 -7l18 -6l18 -4l16 -3l15 -2l15 -2l13 -1l13 0l12 -1l12 0l12 -1l13 0l14 1l14 0l16 1l17 2l18 3l18 5l16 6l12 9l6 10z" fill="#ededed"/><path d="M1899 935l-2 8l-6 7l-11 6l-15 4l-14 2l-13 2l-11 1l-11 2l-9 0l-9 1l-9 0l-9 1l-9 0l-9 0l-9 -1l-10 -1l-11 0l-13 -2l-13 -2l-16 -2l-16 -4l-16 -6l-11 -7l-4 -9l8 -8l15 -7l15 -6l14 -4l13 -3l12 -2l12 -2l10 -1l10 0l10 -1l9 0l9 -1l9 0l10 0l10 0l11 0l12 1l13 2l13 2l13 4l12 5l9 6l5 7z" fill="#f1f1f1"/><path d="M1859 935l-1 5l-4 5l-8 4l-9 2l-10 2l-8 1l-8 1l-7 1l-6 1l-6 0l-6 0l-6 1l-6 -1l-6 0l-6 0l-7 0l-7 -1l-8 -1l-10 -1l-10 -2l-11 -2l-10 -4l-8 -5l-2 -6l5 -6l10 -4l10 -4l9 -2l9 -2l8 -2l8 -1l7 -1l7 0l6 -1l6 0l6 0l6 0l6 0l7 0l8 0l8 0l8 1l9 2l9 2l8 4l6 4l3 5z" fill="#f5f5f5"/><path d="M1820 935l-1 3l-2 2l-4 2l-5 1l-4 1l-5 1l-3 0l-4 1l-3 0l-3 0l-3 0l-3 0l-3 0l-3 0l-3 0l-3 0l-4 0l-4 -1l-5 -1l-5 0l-5 -2l-6 -2l-3 -2l-2 -3l3 -3l5 -2l5 -2l5 -1l4 -1l4 -1l4 -1l3 0l4 0l3 0l3 0l3 -1l3 0l3 0l4 0l3 0l4 1l5 0l4 1l4 1l4 2l3 2l2 2z" fill="#f9f9f9"/></g>
</g>
</g>
<g style="mix-blend-mode:multiply" filter="url(#mb21)"><rect x="-100" y="-100" width="2800" height="1300" fill="#fff"/><rect x="-100" y="1058" width="2800" height="300" fill="#888"/></g>
</g></g>
</g>
<g transform="translate(1528.200 1466.195) scale(0.380431)">
<path d="M18.4 412 H352 L375 389 V43 H1090 V389 L1113 412 H1473 L1497 389 V43 H2211 V389 L2235 412 H2564.7 V1072.8 H18.4 Z" fill="none" stroke="#000" stroke-width="5.5" stroke-linejoin="round"/>
<rect x="342" y="114" width="18" height="18" fill="#fff" stroke="#000" stroke-width="4.6" transform="rotate(8 351 123)"/>
<rect x="342.4" y="167.9" width="17.2" height="17.2" fill="#fff" stroke="#000" stroke-width="4.6" transform="rotate(17.2 351 176.5)"/>
<rect x="342.8" y="222.2" width="16.5" height="16.5" fill="#fff" stroke="#000" stroke-width="4.6" transform="rotate(26.5 351 230.4)"/>
<rect x="343.1" y="273.7" width="15.8" height="15.8" fill="#fff" stroke="#000" stroke-width="4.6" transform="rotate(35.8 351 281.6)"/>
<rect x="343.5" y="326.5" width="15" height="15" fill="#fff" stroke="#000" stroke-width="4.6" transform="rotate(45 351 334)"/>
<rect x="1105.5" y="87.3" width="18" height="18" fill="#fff" stroke="#000" stroke-width="4.6" transform="rotate(8 1114.5 96.3)"/>
<rect x="1105.8" y="141" width="17.4" height="17.4" fill="#fff" stroke="#000" stroke-width="4.6" transform="rotate(15.4 1114.5 149.7)"/>
<rect x="1106.1" y="193.4" width="16.8" height="16.8" fill="#fff" stroke="#000" stroke-width="4.6" transform="rotate(22.8 1114.5 201.8)"/>
<rect x="1106.4" y="246.5" width="16.2" height="16.2" fill="#fff" stroke="#000" stroke-width="4.6" transform="rotate(30.2 1114.5 254.6)"/>
<rect x="1106.7" y="299.9" width="15.6" height="15.6" fill="#fff" stroke="#000" stroke-width="4.6" transform="rotate(37.6 1114.5 307.7)"/>
<rect x="1107" y="353.1" width="15" height="15" fill="#fff" stroke="#000" stroke-width="4.6" transform="rotate(45 1114.5 360.6)"/>
<rect x="1463" y="114" width="18" height="18" fill="#fff" stroke="#000" stroke-width="4.6" transform="rotate(8 1472 123)"/>
<rect x="1463.4" y="167.9" width="17.2" height="17.2" fill="#fff" stroke="#000" stroke-width="4.6" transform="rotate(17.2 1472 176.5)"/>
<rect x="1463.8" y="222.2" width="16.5" height="16.5" fill="#fff" stroke="#000" stroke-width="4.6" transform="rotate(26.5 1472 230.4)"/>
<rect x="1464.1" y="273.7" width="15.8" height="15.8" fill="#fff" stroke="#000" stroke-width="4.6" transform="rotate(35.8 1472 281.6)"/>
<rect x="1464.5" y="326.5" width="15" height="15" fill="#fff" stroke="#000" stroke-width="4.6" transform="rotate(45 1472 334)"/>
<rect x="2226" y="87.3" width="18" height="18" fill="#fff" stroke="#000" stroke-width="4.6" transform="rotate(8 2235 96.3)"/>
<rect x="2226.3" y="141" width="17.4" height="17.4" fill="#fff" stroke="#000" stroke-width="4.6" transform="rotate(15.4 2235 149.7)"/>
<rect x="2226.6" y="193.4" width="16.8" height="16.8" fill="#fff" stroke="#000" stroke-width="4.6" transform="rotate(22.8 2235 201.8)"/>
<rect x="2226.9" y="246.5" width="16.2" height="16.2" fill="#fff" stroke="#000" stroke-width="4.6" transform="rotate(30.2 2235 254.6)"/>
<rect x="2227.2" y="299.9" width="15.6" height="15.6" fill="#fff" stroke="#000" stroke-width="4.6" transform="rotate(37.6 2235 307.7)"/>
<rect x="2227.5" y="353.1" width="15" height="15" fill="#fff" stroke="#000" stroke-width="4.6" transform="rotate(45 2235 360.6)"/>
</g>
<rect x="1535.2" y="1472.7" width="968.7" height="401.6" fill="none" stroke="#000" stroke-width="4.6"/>
<line x1="1517.2" y1="1472.7" x2="1535.2" y2="1472.7" stroke="#000" stroke-width="4.5" stroke-linecap="round"/>
<line x1="1517.2" y1="1509.2" x2="1535.2" y2="1509.2" stroke="#000" stroke-width="4.5" stroke-linecap="round"/>
<line x1="1517.2" y1="1545.7" x2="1535.2" y2="1545.7" stroke="#000" stroke-width="4.5" stroke-linecap="round"/>
<line x1="1517.2" y1="1582.2" x2="1535.2" y2="1582.2" stroke="#000" stroke-width="4.5" stroke-linecap="round"/>
<line x1="1517.2" y1="1618.7" x2="1535.2" y2="1618.7" stroke="#000" stroke-width="4.5" stroke-linecap="round"/>
<line x1="1517.2" y1="1655.2" x2="1535.2" y2="1655.2" stroke="#000" stroke-width="4.5" stroke-linecap="round"/>
<line x1="1517.2" y1="1691.8" x2="1535.2" y2="1691.8" stroke="#000" stroke-width="4.5" stroke-linecap="round"/>
<line x1="1517.2" y1="1728.3" x2="1535.2" y2="1728.3" stroke="#000" stroke-width="4.5" stroke-linecap="round"/>
<line x1="1517.2" y1="1764.8" x2="1535.2" y2="1764.8" stroke="#000" stroke-width="4.5" stroke-linecap="round"/>
<line x1="1517.2" y1="1801.3" x2="1535.2" y2="1801.3" stroke="#000" stroke-width="4.5" stroke-linecap="round"/>
<line x1="1517.2" y1="1837.8" x2="1535.2" y2="1837.8" stroke="#000" stroke-width="4.5" stroke-linecap="round"/>
<line x1="1517.2" y1="1874.3" x2="1535.2" y2="1874.3" stroke="#000" stroke-width="4.5" stroke-linecap="round"/>
<line x1="1535.2" y1="1874.3" x2="1535.2" y2="1891.3" stroke="#000" stroke-width="4.5" stroke-linecap="round"/>
<text x="1535.2" y="1957.3" font-size="62" text-anchor="middle" style="" textLength="31.5" lengthAdjust="spacingAndGlyphs" >0</text>
<line x1="1728.9" y1="1874.3" x2="1728.9" y2="1891.3" stroke="#000" stroke-width="4.5" stroke-linecap="round"/>
<text x="1728.9" y="1957.3" font-size="62" text-anchor="middle" style="" textLength="94.5" lengthAdjust="spacingAndGlyphs" >200</text>
<line x1="1922.7" y1="1874.3" x2="1922.7" y2="1891.3" stroke="#000" stroke-width="4.5" stroke-linecap="round"/>
<text x="1922.7" y="1957.3" font-size="62" text-anchor="middle" style="" textLength="94.5" lengthAdjust="spacingAndGlyphs" >400</text>
<line x1="2116.4" y1="1874.3" x2="2116.4" y2="1891.3" stroke="#000" stroke-width="4.5" stroke-linecap="round"/>
<text x="2116.4" y="1957.3" font-size="62" text-anchor="middle" style="" textLength="94.5" lengthAdjust="spacingAndGlyphs" >600</text>
<line x1="2310.2" y1="1874.3" x2="2310.2" y2="1891.3" stroke="#000" stroke-width="4.5" stroke-linecap="round"/>
<text x="2310.2" y="1957.3" font-size="62" text-anchor="middle" style="" textLength="94.5" lengthAdjust="spacingAndGlyphs" >800</text>
<line x1="2503.9" y1="1874.3" x2="2503.9" y2="1891.3" stroke="#000" stroke-width="4.5" stroke-linecap="round"/>
<text x="2503.9" y="1957.3" font-size="62" text-anchor="middle" style="" textLength="126" lengthAdjust="spacingAndGlyphs" >1000</text>
<text x="1932.9" y="2044" font-size="60" text-anchor="start" style="font-style:italic;" textLength="31" lengthAdjust="spacingAndGlyphs" >x</text>
<line x1="1994.6" y1="2001" x2="1972.4" y2="2057.6" stroke="#000" stroke-width="2.8" stroke-linecap="butt"/>
<text x="2004.3" y="2044" font-size="60" text-anchor="start" style="" textLength="103" lengthAdjust="spacingAndGlyphs" >mm</text>
<text x="1564.2" y="1547.7" font-size="66" text-anchor="start" style="" textLength="78" lengthAdjust="spacingAndGlyphs" >(h)</text>
<g transform="translate(2615.500 1466.195) scale(0.380431)">
<g clip-path="url(#dom)"><g filter="url(#jet)">
<g filter="url(#fb22)">
<rect x="-100" y="-100" width="2800" height="1300" fill="url(#nh_base)"/>
<g style="mix-blend-mode:lighten">
<g style="mix-blend-mode:lighten"><path d="M1271 885l0 40l0 41l0 44l27 59l-72 24l-85 6l-73 2l-61 0l-53 0l-47 0l-44 0l-43 0l-43 -1l-43 0l-48 0l-52 0l-62 1l-76 0l-99 0l-132 -2l-150 -19l1 -69l28 -67l30 -59l31 -54l32 -50l35 -47l39 -45l45 -42l48 -39l54 -38l57 -37l62 -39l69 -41l80 -42l94 -45l112 -50l120 -9l73 87l46 86l31 73l22 63l17 54l12 48l9 45l5 42l3 41z" fill="#202020"/><path d="M1261 885l0 39l0 40l0 43l24 57l-61 28l-84 6l-72 2l-61 1l-53 0l-47 0l-44 0l-43 0l-43 -1l-43 0l-48 0l-52 0l-62 1l-76 0l-98 0l-129 -4l-129 -24l8 -68l31 -64l32 -56l33 -51l33 -46l35 -43l39 -41l42 -37l46 -36l50 -34l52 -34l57 -35l63 -38l73 -40l86 -43l104 -50l115 -18l75 73l45 82l31 69l24 60l17 52l13 47l8 44l5 41l3 39z" fill="#2a2a2a"/><path d="M1251 885l0 38l0 39l0 42l21 55l-50 32l-82 7l-72 2l-61 1l-53 0l-47 0l-44 0l-43 0l-43 -1l-43 0l-48 0l-52 0l-62 1l-76 0l-98 0l-125 -5l-108 -30l16 -67l33 -61l34 -53l35 -47l34 -43l35 -39l38 -36l41 -34l43 -31l46 -31l48 -30l51 -32l57 -34l66 -38l78 -43l96 -49l110 -27l76 60l45 76l32 66l24 57l18 50l14 45l8 43l5 41l2 38z" fill="#353535"/><path d="M1241 885l0 37l0 38l-1 41l20 53l-39 36l-82 8l-71 2l-61 1l-53 0l-47 0l-44 0l-43 0l-43 -1l-43 0l-48 0l-52 0l-62 1l-76 0l-98 0l-121 -7l-87 -35l23 -66l36 -58l36 -50l36 -44l36 -39l36 -35l37 -32l39 -30l40 -27l42 -27l43 -27l46 -28l51 -31l59 -36l70 -42l88 -48l106 -36l76 47l45 71l32 62l25 54l20 48l13 44l8 42l5 39l2 38z" fill="#404040"/><path d="M1232 885l1 36l-2 37l-4 40l17 50l-29 39l-77 10l-71 3l-60 1l-53 0l-47 0l-44 0l-43 0l-43 -1l-43 0l-48 0l-52 0l-62 1l-76 0l-96 -1l-109 -11l-63 -41l28 -62l36 -55l36 -46l35 -40l34 -36l33 -32l34 -29l36 -27l36 -25l38 -25l40 -24l43 -25l46 -27l54 -32l63 -36l79 -44l99 -41l78 31l46 63l32 58l26 51l19 46l14 43l8 40l6 38l3 37z" fill="#4a4a4a"/><path d="M1223 885l1 35l-3 37l-6 37l13 48l-18 43l-73 11l-70 4l-60 1l-53 0l-47 0l-44 0l-43 0l-43 -1l-43 0l-48 0l-53 0l-62 1l-75 0l-94 -2l-98 -15l-37 -46l31 -60l38 -50l35 -43l34 -36l31 -33l31 -28l31 -27l32 -24l33 -23l35 -22l36 -22l39 -22l42 -24l48 -26l57 -32l71 -39l91 -45l80 14l47 56l33 53l25 49l19 44l14 41l9 38l7 37l4 36z" fill="#555555"/><path d="M1214 885l1 35l-4 35l-9 35l10 46l-7 46l-69 14l-69 3l-60 2l-53 0l-47 0l-44 0l-43 0l-43 -1l-43 0l-48 0l-53 0l-62 1l-75 0l-92 -3l-86 -20l-13 -51l36 -56l38 -47l35 -39l32 -33l30 -28l29 -26l27 -24l29 -22l29 -20l31 -20l33 -19l35 -19l38 -20l43 -22l50 -26l62 -35l84 -50l81 -2l48 48l34 49l25 46l20 42l14 39l9 38l7 35l6 35z" fill="#606060"/><path d="M1189 885l1 32l-5 33l-12 32l-2 38l-15 37l-57 14l-57 7l-51 5l-46 3l-43 2l-42 1l-40 1l-40 0l-42 0l-45 0l-50 -1l-57 -1l-67 -2l-78 -7l-73 -20l-14 -45l30 -51l35 -43l33 -35l30 -30l27 -26l26 -23l26 -21l25 -20l27 -18l28 -18l29 -17l32 -18l34 -18l39 -19l45 -22l55 -29l73 -39l72 -4l50 33l36 41l26 40l20 38l14 37l10 35l6 33l4 33z" fill="#6a6a6a"/><path d="M1164 885l0 30l-6 30l-14 29l-15 30l-22 28l-45 15l-44 10l-43 7l-40 6l-39 5l-38 2l-38 2l-38 0l-40 1l-43 -1l-46 -1l-52 -3l-58 -5l-66 -10l-59 -20l-16 -40l25 -45l32 -38l30 -32l28 -27l25 -23l24 -20l23 -19l23 -18l23 -16l25 -16l26 -15l28 -16l31 -16l35 -17l40 -19l48 -22l61 -27l64 -7l52 18l37 32l28 35l20 34l15 34l9 33l6 31l3 31z" fill="#757575"/><path d="M1140 885l-2 28l-6 28l-17 25l-27 22l-31 18l-31 16l-33 13l-33 11l-34 9l-35 6l-35 4l-36 3l-36 1l-38 0l-40 0l-43 -3l-47 -4l-50 -8l-52 -13l-45 -21l-18 -33l19 -39l29 -35l27 -28l26 -24l23 -20l21 -18l21 -16l20 -15l21 -15l22 -14l22 -14l25 -14l27 -14l31 -14l35 -15l41 -16l49 -15l56 -11l54 5l39 22l28 30l21 30l15 31l9 31l5 29l3 29z" fill="#808080"/><path d="M1088 885l-3 23l-7 23l-15 21l-23 18l-26 14l-27 13l-27 10l-27 9l-28 7l-28 5l-28 3l-29 3l-30 1l-31 1l-33 0l-35 -2l-39 -3l-41 -7l-44 -10l-39 -16l-21 -27l7 -31l18 -30l23 -25l23 -21l22 -18l21 -16l20 -14l20 -12l20 -12l20 -11l20 -10l22 -11l23 -10l25 -10l29 -11l33 -11l38 -11l44 -7l42 4l33 16l25 22l19 23l15 24l11 24l6 25l2 23z" fill="#8a8a8a"/><path d="M1035 885l-3 19l-8 17l-13 17l-19 13l-21 11l-22 9l-21 8l-21 6l-22 5l-21 4l-22 3l-22 3l-23 2l-24 1l-26 0l-29 -1l-30 -2l-33 -5l-35 -8l-33 -12l-23 -19l-6 -24l7 -25l18 -22l21 -19l21 -16l20 -13l20 -12l19 -9l19 -9l18 -8l19 -7l18 -6l19 -7l21 -7l22 -6l25 -7l28 -5l31 -4l31 3l26 10l21 14l19 16l15 17l11 18l7 19l2 19z" fill="#959595"/><path d="M983 885l-5 14l-7 13l-12 11l-15 10l-16 7l-17 6l-16 5l-15 3l-15 4l-15 3l-15 2l-15 3l-16 2l-18 1l-19 1l-21 0l-22 -2l-24 -3l-27 -5l-27 -8l-26 -12l-18 -16l-3 -20l12 -19l19 -17l20 -13l20 -12l19 -8l19 -7l18 -6l16 -4l16 -4l16 -3l15 -3l15 -3l16 -2l17 -2l17 -1l19 0l19 2l19 4l19 6l17 8l15 10l13 12l7 14l3 15z" fill="#9f9f9f"/><path d="M942 885l-3 10l-6 10l-9 9l-11 7l-12 5l-13 5l-11 3l-12 3l-11 2l-11 3l-11 2l-12 1l-12 2l-13 1l-15 1l-15 0l-17 -1l-18 -3l-20 -4l-21 -6l-19 -9l-13 -12l-3 -14l10 -15l14 -12l14 -11l15 -8l15 -7l14 -5l13 -4l13 -4l12 -2l11 -3l12 -2l11 -2l12 -1l12 -2l14 -1l14 0l14 1l15 3l13 5l13 6l11 8l10 9l6 10l2 11z" fill="#a5a5a5"/><path d="M902 885l-3 7l-4 6l-5 6l-8 5l-8 4l-8 2l-8 3l-8 2l-7 1l-8 2l-7 1l-8 1l-8 1l-9 1l-10 1l-10 0l-11 -1l-12 -2l-13 -3l-14 -3l-13 -6l-9 -9l-2 -9l7 -10l9 -8l10 -7l10 -6l9 -4l10 -4l9 -2l8 -3l8 -2l8 -1l7 -2l8 -1l8 -1l8 -1l9 0l9 -1l10 1l10 2l9 3l8 5l8 5l6 6l4 7l1 7z" fill="#ababab"/><path d="M861 885l-1 3l-2 4l-3 3l-4 2l-4 2l-4 1l-4 1l-4 1l-4 1l-3 1l-4 1l-4 0l-4 1l-4 0l-5 0l-5 0l-6 0l-6 -1l-7 -1l-7 -2l-6 -3l-4 -4l-1 -5l3 -5l5 -4l4 -4l5 -2l5 -3l5 -1l4 -2l5 -1l4 -1l3 -1l4 0l4 -1l4 0l4 -1l5 0l4 0l5 0l5 1l4 2l5 2l3 2l4 3l2 4l0 3z" fill="#b2b2b2"/></g>
<g style="mix-blend-mode:lighten"><path d="M2401 890l0 40l0 41l1 44l23 58l-77 21l-84 5l-71 2l-60 0l-52 0l-46 0l-43 0l-42 0l-42 -1l-42 0l-47 0l-51 0l-60 1l-75 0l-96 0l-130 -2l-153 -17l-11 -66l28 -66l30 -60l31 -54l32 -51l34 -47l39 -45l45 -42l49 -40l54 -39l57 -37l63 -40l70 -41l80 -43l95 -45l114 -51l120 -7l73 88l45 87l31 74l23 63l16 54l12 49l9 45l5 42l2 40z" fill="#202020"/><path d="M2391 890l0 39l0 40l1 43l23 57l-68 24l-84 6l-71 2l-59 0l-52 0l-46 0l-43 0l-42 0l-42 -1l-42 0l-47 0l-51 0l-60 1l-75 0l-96 0l-127 -3l-133 -22l-1 -66l30 -63l32 -57l33 -51l33 -47l34 -43l39 -41l43 -38l46 -36l49 -35l54 -34l57 -36l64 -38l73 -40l87 -44l105 -51l116 -16l74 75l45 82l32 70l23 60l17 52l13 47l8 44l5 42l2 39z" fill="#2a2a2a"/><path d="M2381 890l0 38l0 39l0 42l23 56l-59 27l-82 6l-71 2l-59 1l-52 0l-46 0l-43 0l-42 0l-42 -1l-42 0l-47 0l-51 0l-61 1l-74 0l-95 0l-125 -4l-114 -27l9 -65l32 -62l35 -53l34 -47l34 -44l36 -39l37 -37l41 -34l44 -32l45 -31l49 -31l52 -32l58 -34l66 -39l79 -43l97 -50l111 -25l76 61l45 78l31 66l25 57l18 50l13 46l8 43l4 41l2 38z" fill="#353535"/><path d="M2371 890l0 37l0 38l0 41l22 55l-50 30l-81 7l-70 2l-59 1l-52 0l-46 0l-43 0l-42 0l-42 -1l-42 0l-47 0l-51 0l-61 1l-74 0l-95 0l-121 -6l-95 -32l19 -64l34 -59l36 -50l36 -44l36 -39l36 -36l37 -33l39 -30l40 -28l42 -27l44 -27l47 -29l52 -31l59 -36l71 -43l89 -48l107 -36l76 49l45 72l32 63l25 54l19 48l13 45l8 42l4 39l2 38z" fill="#404040"/><path d="M2362 890l1 36l-2 37l-3 40l19 51l-39 35l-77 8l-69 3l-59 1l-52 0l-46 0l-43 0l-42 0l-42 -1l-42 0l-47 0l-51 0l-61 1l-74 0l-94 -1l-110 -9l-70 -38l23 -62l36 -54l36 -47l35 -40l34 -36l33 -33l34 -30l36 -27l36 -26l39 -25l40 -24l43 -26l48 -27l54 -32l64 -37l80 -44l100 -41l78 33l46 64l32 59l26 51l18 46l14 43l8 41l5 38l3 37z" fill="#4a4a4a"/><path d="M2353 890l1 35l-4 36l-6 38l17 49l-27 38l-74 11l-69 3l-58 1l-52 0l-46 0l-43 0l-42 0l-42 -1l-42 0l-47 0l-51 0l-61 1l-74 0l-92 -2l-100 -13l-45 -43l28 -59l37 -51l36 -43l33 -37l32 -32l31 -30l31 -26l32 -25l33 -24l35 -22l37 -22l39 -23l44 -24l48 -27l58 -32l72 -39l93 -46l79 17l47 56l33 55l25 48l19 45l13 41l9 39l6 37l4 36z" fill="#555555"/><path d="M2344 890l1 35l-5 35l-9 35l14 47l-15 42l-71 12l-68 3l-58 2l-52 0l-46 0l-43 0l-42 0l-42 -1l-42 0l-47 0l-51 0l-61 1l-74 0l-91 -2l-88 -18l-21 -48l33 -57l39 -47l35 -39l32 -33l30 -29l28 -26l28 -24l29 -23l29 -21l32 -20l33 -19l35 -20l39 -21l44 -22l51 -26l63 -35l86 -52l81 2l48 48l33 51l25 46l19 42l14 40l9 38l7 35l5 35z" fill="#606060"/><path d="M2319 890l0 32l-6 33l-12 32l0 38l-20 34l-58 13l-56 7l-50 4l-45 3l-42 2l-41 1l-39 1l-39 0l-41 0l-44 0l-48 -1l-56 -1l-66 -2l-78 -6l-75 -18l-21 -43l27 -50l35 -43l33 -36l30 -30l28 -26l26 -24l25 -21l26 -21l27 -19l28 -18l30 -18l32 -17l35 -19l40 -20l46 -22l56 -29l74 -40l73 -2l50 34l35 42l26 41l20 38l14 37l9 36l6 33l4 33z" fill="#6a6a6a"/><path d="M2294 890l-1 30l-6 30l-16 29l-14 29l-25 26l-45 14l-44 10l-41 7l-40 6l-38 4l-37 2l-37 2l-37 0l-39 1l-42 -1l-45 -1l-50 -3l-58 -4l-65 -9l-61 -19l-22 -37l21 -45l32 -39l30 -32l28 -27l25 -23l24 -21l23 -20l24 -18l24 -17l25 -16l26 -16l29 -16l31 -16l36 -18l41 -19l49 -22l62 -28l65 -6l52 20l37 33l27 35l20 35l14 34l9 34l5 31l4 31z" fill="#757575"/><path d="M2270 890l-2 28l-8 27l-19 25l-28 21l-30 18l-32 15l-32 13l-33 10l-33 9l-34 5l-34 4l-35 3l-35 1l-37 0l-39 0l-42 -2l-46 -4l-49 -8l-52 -12l-47 -20l-23 -31l15 -39l29 -34l27 -29l26 -24l23 -21l22 -18l20 -17l21 -16l21 -14l22 -15l24 -14l25 -14l28 -15l31 -15l36 -15l42 -16l50 -16l57 -10l54 6l39 24l28 30l21 31l14 32l8 31l5 29l2 29z" fill="#808080"/><path d="M2217 890l-3 23l-9 23l-16 20l-24 17l-26 14l-26 11l-27 10l-26 9l-27 6l-28 5l-27 3l-28 3l-29 1l-30 1l-32 0l-34 -1l-38 -4l-40 -5l-44 -10l-40 -16l-24 -24l3 -31l16 -29l22 -26l23 -22l22 -18l21 -16l20 -15l20 -13l20 -12l21 -11l21 -11l22 -11l24 -10l26 -11l30 -11l34 -11l40 -11l44 -7l43 5l32 17l25 23l20 24l14 24l9 25l6 24l1 24z" fill="#8a8a8a"/><path d="M2165 890l-5 18l-9 18l-15 15l-19 13l-21 10l-22 9l-20 7l-21 6l-20 5l-21 3l-21 3l-21 3l-22 1l-23 2l-25 0l-27 -1l-30 -2l-32 -4l-34 -7l-34 -12l-25 -17l-9 -23l4 -24l15 -23l21 -19l20 -17l20 -14l20 -12l20 -10l19 -9l19 -8l19 -8l20 -7l20 -7l21 -6l23 -7l26 -7l29 -6l32 -3l31 3l26 12l22 14l18 17l15 17l10 19l6 20l1 19z" fill="#959595"/><path d="M2112 890l-6 14l-9 12l-13 11l-15 9l-17 6l-16 5l-15 5l-15 3l-14 3l-13 3l-15 2l-14 3l-15 2l-17 1l-18 1l-19 0l-22 -1l-23 -3l-26 -5l-27 -7l-27 -10l-21 -16l-7 -18l9 -20l18 -17l19 -14l19 -12l20 -10l19 -8l18 -5l18 -5l17 -4l16 -4l16 -3l16 -3l17 -2l18 -2l18 -1l20 0l20 2l20 5l18 7l17 9l15 11l12 12l6 15l1 15z" fill="#9f9f9f"/><path d="M2072 890l-5 10l-7 10l-9 8l-12 6l-12 5l-12 4l-12 3l-11 3l-10 2l-11 2l-10 2l-11 2l-11 1l-13 1l-13 1l-15 0l-16 -1l-18 -2l-19 -3l-20 -6l-20 -8l-16 -11l-6 -14l7 -15l13 -13l15 -11l15 -8l14 -8l14 -5l14 -5l13 -3l13 -3l12 -3l12 -2l12 -2l13 -2l13 -2l14 -1l15 0l15 2l15 4l14 5l12 7l12 8l8 9l5 11l0 11z" fill="#a5a5a5"/><path d="M2031 890l-3 7l-5 6l-6 6l-8 4l-8 3l-8 3l-8 2l-7 2l-7 1l-7 1l-7 2l-7 1l-8 1l-8 1l-9 0l-10 0l-10 -1l-12 -1l-13 -2l-14 -4l-13 -5l-10 -8l-4 -9l4 -10l9 -9l10 -7l10 -6l9 -4l10 -4l9 -3l9 -3l8 -2l9 -1l8 -2l8 -1l8 -1l9 -1l9 -1l10 0l10 1l10 2l9 4l9 4l7 6l6 6l3 7l0 8z" fill="#ababab"/><path d="M1991 890l-2 3l-2 4l-3 2l-4 2l-4 2l-4 1l-4 1l-4 1l-3 1l-4 1l-3 0l-4 1l-4 0l-4 1l-4 0l-5 0l-6 0l-6 -1l-6 -1l-7 -2l-6 -3l-6 -3l-2 -5l3 -5l4 -4l5 -4l5 -3l5 -2l4 -2l5 -2l4 -1l5 -1l4 -1l4 0l4 -1l4 -1l4 0l5 -1l5 0l5 1l5 1l5 2l4 2l4 3l2 3l2 4l0 3z" fill="#b2b2b2"/></g>
</g>
</g>
<g style="mix-blend-mode:multiply" filter="url(#mb22)"><rect x="-100" y="-100" width="2800" height="1300" fill="#fff"/><rect x="-100" y="1058" width="2800" height="300" fill="#888"/><rect x="1280" y="400" width="27" height="525" fill="#000"/></g>
</g></g>
</g>
<g transform="translate(2615.500 1466.195) scale(0.380431)">
<path d="M18.4 412 H352 L375 389 V43 H1090 V389 L1113 412 H1473 L1497 389 V43 H2211 V389 L2235 412 H2564.7 V1072.8 H18.4 Z" fill="none" stroke="#000" stroke-width="5.5" stroke-linejoin="round"/>
<rect x="1288.5" y="414" width="10" height="497" fill="#fff" stroke="#000" stroke-width="5"/>
<rect x="342" y="114" width="18" height="18" fill="#fff" stroke="#000" stroke-width="4.6" transform="rotate(8 351 123)"/>
<rect x="342.4" y="167.9" width="17.2" height="17.2" fill="#fff" stroke="#000" stroke-width="4.6" transform="rotate(17.2 351 176.5)"/>
<rect x="342.8" y="222.2" width="16.5" height="16.5" fill="#fff" stroke="#000" stroke-width="4.6" transform="rotate(26.5 351 230.4)"/>
<rect x="343.1" y="273.7" width="15.8" height="15.8" fill="#fff" stroke="#000" stroke-width="4.6" transform="rotate(35.8 351 281.6)"/>
<rect x="343.5" y="326.5" width="15" height="15" fill="#fff" stroke="#000" stroke-width="4.6" transform="rotate(45 351 334)"/>
<rect x="1105.5" y="87.3" width="18" height="18" fill="#fff" stroke="#000" stroke-width="4.6" transform="rotate(8 1114.5 96.3)"/>
<rect x="1105.8" y="141" width="17.4" height="17.4" fill="#fff" stroke="#000" stroke-width="4.6" transform="rotate(15.4 1114.5 149.7)"/>
<rect x="1106.1" y="193.4" width="16.8" height="16.8" fill="#fff" stroke="#000" stroke-width="4.6" transform="rotate(22.8 1114.5 201.8)"/>
<rect x="1106.4" y="246.5" width="16.2" height="16.2" fill="#fff" stroke="#000" stroke-width="4.6" transform="rotate(30.2 1114.5 254.6)"/>
<rect x="1106.7" y="299.9" width="15.6" height="15.6" fill="#fff" stroke="#000" stroke-width="4.6" transform="rotate(37.6 1114.5 307.7)"/>
<rect x="1107" y="353.1" width="15" height="15" fill="#fff" stroke="#000" stroke-width="4.6" transform="rotate(45 1114.5 360.6)"/>
<rect x="1463" y="114" width="18" height="18" fill="#fff" stroke="#000" stroke-width="4.6" transform="rotate(8 1472 123)"/>
<rect x="1463.4" y="167.9" width="17.2" height="17.2" fill="#fff" stroke="#000" stroke-width="4.6" transform="rotate(17.2 1472 176.5)"/>
<rect x="1463.8" y="222.2" width="16.5" height="16.5" fill="#fff" stroke="#000" stroke-width="4.6" transform="rotate(26.5 1472 230.4)"/>
<rect x="1464.1" y="273.7" width="15.8" height="15.8" fill="#fff" stroke="#000" stroke-width="4.6" transform="rotate(35.8 1472 281.6)"/>
<rect x="1464.5" y="326.5" width="15" height="15" fill="#fff" stroke="#000" stroke-width="4.6" transform="rotate(45 1472 334)"/>
<rect x="2226" y="87.3" width="18" height="18" fill="#fff" stroke="#000" stroke-width="4.6" transform="rotate(8 2235 96.3)"/>
<rect x="2226.3" y="141" width="17.4" height="17.4" fill="#fff" stroke="#000" stroke-width="4.6" transform="rotate(15.4 2235 149.7)"/>
<rect x="2226.6" y="193.4" width="16.8" height="16.8" fill="#fff" stroke="#000" stroke-width="4.6" transform="rotate(22.8 2235 201.8)"/>
<rect x="2226.9" y="246.5" width="16.2" height="16.2" fill="#fff" stroke="#000" stroke-width="4.6" transform="rotate(30.2 2235 254.6)"/>
<rect x="2227.2" y="299.9" width="15.6" height="15.6" fill="#fff" stroke="#000" stroke-width="4.6" transform="rotate(37.6 2235 307.7)"/>
<rect x="2227.5" y="353.1" width="15" height="15" fill="#fff" stroke="#000" stroke-width="4.6" transform="rotate(45 2235 360.6)"/>
</g>
<rect x="2622.5" y="1472.7" width="968.7" height="401.6" fill="none" stroke="#000" stroke-width="4.6"/>
<line x1="2604.5" y1="1472.7" x2="2622.5" y2="1472.7" stroke="#000" stroke-width="4.5" stroke-linecap="round"/>
<line x1="2604.5" y1="1509.2" x2="2622.5" y2="1509.2" stroke="#000" stroke-width="4.5" stroke-linecap="round"/>
<line x1="2604.5" y1="1545.7" x2="2622.5" y2="1545.7" stroke="#000" stroke-width="4.5" stroke-linecap="round"/>
<line x1="2604.5" y1="1582.2" x2="2622.5" y2="1582.2" stroke="#000" stroke-width="4.5" stroke-linecap="round"/>
<line x1="2604.5" y1="1618.7" x2="2622.5" y2="1618.7" stroke="#000" stroke-width="4.5" stroke-linecap="round"/>
<line x1="2604.5" y1="1655.2" x2="2622.5" y2="1655.2" stroke="#000" stroke-width="4.5" stroke-linecap="round"/>
<line x1="2604.5" y1="1691.8" x2="2622.5" y2="1691.8" stroke="#000" stroke-width="4.5" stroke-linecap="round"/>
<line x1="2604.5" y1="1728.3" x2="2622.5" y2="1728.3" stroke="#000" stroke-width="4.5" stroke-linecap="round"/>
<line x1="2604.5" y1="1764.8" x2="2622.5" y2="1764.8" stroke="#000" stroke-width="4.5" stroke-linecap="round"/>
<line x1="2604.5" y1="1801.3" x2="2622.5" y2="1801.3" stroke="#000" stroke-width="4.5" stroke-linecap="round"/>
<line x1="2604.5" y1="1837.8" x2="2622.5" y2="1837.8" stroke="#000" stroke-width="4.5" stroke-linecap="round"/>
<line x1="2604.5" y1="1874.3" x2="2622.5" y2="1874.3" stroke="#000" stroke-width="4.5" stroke-linecap="round"/>
<line x1="2622.5" y1="1874.3" x2="2622.5" y2="1891.3" stroke="#000" stroke-width="4.5" stroke-linecap="round"/>
<text x="2622.5" y="1957.3" font-size="62" text-anchor="middle" style="" textLength="31.5" lengthAdjust="spacingAndGlyphs" >0</text>
<line x1="2816.2" y1="1874.3" x2="2816.2" y2="1891.3" stroke="#000" stroke-width="4.5" stroke-linecap="round"/>
<text x="2816.2" y="1957.3" font-size="62" text-anchor="middle" style="" textLength="94.5" lengthAdjust="spacingAndGlyphs" >200</text>
<line x1="3010" y1="1874.3" x2="3010" y2="1891.3" stroke="#000" stroke-width="4.5" stroke-linecap="round"/>
<text x="3010" y="1957.3" font-size="62" text-anchor="middle" style="" textLength="94.5" lengthAdjust="spacingAndGlyphs" >400</text>
<line x1="3203.7" y1="1874.3" x2="3203.7" y2="1891.3" stroke="#000" stroke-width="4.5" stroke-linecap="round"/>
<text x="3203.7" y="1957.3" font-size="62" text-anchor="middle" style="" textLength="94.5" lengthAdjust="spacingAndGlyphs" >600</text>
<line x1="3397.5" y1="1874.3" x2="3397.5" y2="1891.3" stroke="#000" stroke-width="4.5" stroke-linecap="round"/>
<text x="3397.5" y="1957.3" font-size="62" text-anchor="middle" style="" textLength="94.5" lengthAdjust="spacingAndGlyphs" >800</text>
<line x1="3591.2" y1="1874.3" x2="3591.2" y2="1891.3" stroke="#000" stroke-width="4.5" stroke-linecap="round"/>
<text x="3591.2" y="1957.3" font-size="62" text-anchor="middle" style="" textLength="126" lengthAdjust="spacingAndGlyphs" >1000</text>
<text x="3020.2" y="2044" font-size="60" text-anchor="start" style="font-style:italic;" textLength="31" lengthAdjust="spacingAndGlyphs" >x</text>
<line x1="3081.8" y1="2001" x2="3059.7" y2="2057.6" stroke="#000" stroke-width="2.8" stroke-linecap="butt"/>
<text x="3091.5" y="2044" font-size="60" text-anchor="start" style="" textLength="103" lengthAdjust="spacingAndGlyphs" >mm</text>
<text x="2651.5" y="1547.7" font-size="66" text-anchor="start" style="" textLength="61.4" lengthAdjust="spacingAndGlyphs" >(i)</text>
<text x="0" y="0" font-size="60" style="font-style:italic;" transform="translate(194.7 381) rotate(-90)" textLength="26" lengthAdjust="spacingAndGlyphs">z</text>
<line x1="150" y1="324" x2="207.4" y2="349" stroke="#000" stroke-width="2.8" stroke-linecap="butt"/>
<text x="0" y="0" font-size="60" style="" transform="translate(194.7 316.7) rotate(-90)" textLength="104" lengthAdjust="spacingAndGlyphs">mm</text>
<text x="0" y="0" font-size="60" style="font-style:italic;" transform="translate(194.7 1068.9) rotate(-90)" textLength="26" lengthAdjust="spacingAndGlyphs">z</text>
<line x1="150" y1="1011.9" x2="207.4" y2="1036.9" stroke="#000" stroke-width="2.8" stroke-linecap="butt"/>
<text x="0" y="0" font-size="60" style="" transform="translate(194.7 1004.6) rotate(-90)" textLength="104" lengthAdjust="spacingAndGlyphs">mm</text>
<text x="0" y="0" font-size="60" style="font-style:italic;" transform="translate(194.7 1757.2) rotate(-90)" textLength="26" lengthAdjust="spacingAndGlyphs">z</text>
<line x1="150" y1="1700.2" x2="207.4" y2="1725.2" stroke="#000" stroke-width="2.8" stroke-linecap="butt"/>
<text x="0" y="0" font-size="60" style="" transform="translate(194.7 1692.9) rotate(-90)" textLength="104" lengthAdjust="spacingAndGlyphs">mm</text>
<text x="0" y="0" font-size="60" style="font-style:italic;" transform="translate(83.4 401.8) rotate(-90)" textLength="37" lengthAdjust="spacingAndGlyphs">n</text>
<text x="0" y="0" font-size="42" style="" transform="translate(92.4 360) rotate(-90)" textLength="18" lengthAdjust="spacingAndGlyphs">e</text>
<line x1="40" y1="314" x2="97" y2="338.4" stroke="#000" stroke-width="2.8" stroke-linecap="butt"/>
<text x="0" y="0" font-size="60" style="" transform="translate(83.4 306.7) rotate(-90)" textLength="50.7" lengthAdjust="spacingAndGlyphs">m</text>
<rect x="53.5" y="221.6" width="2.6" height="25.4" fill="#000"/>
<text x="0" y="0" font-size="42" style="" transform="translate(64.4 213.5) rotate(-90)" textLength="20.8" lengthAdjust="spacingAndGlyphs">3</text>
<text x="0" y="0" font-size="60" style="font-style:italic;" transform="translate(83.4 1073) rotate(-90)" textLength="42" lengthAdjust="spacingAndGlyphs">T</text>
<text x="0" y="0" font-size="42" style="" transform="translate(92.4 1031) rotate(-90)" textLength="18" lengthAdjust="spacingAndGlyphs">e</text>
<line x1="40" y1="983" x2="97" y2="1007" stroke="#000" stroke-width="2.8" stroke-linecap="butt"/>
<text x="0" y="0" font-size="60" style="" transform="translate(83.4 978) rotate(-90)" textLength="76" lengthAdjust="spacingAndGlyphs">eV</text>
<text x="0" y="0" font-size="60" style="font-style:italic;" transform="translate(83.4 1802) rotate(-90)" textLength="40" lengthAdjust="spacingAndGlyphs">n</text>
<text x="0" y="0" font-size="42" style="" transform="translate(92.4 1758) rotate(-90)" textLength="30" lengthAdjust="spacingAndGlyphs">H</text>
<rect x="72" y="1701.6" width="2.6" height="19" fill="#000"/>
<line x1="40" y1="1670" x2="97" y2="1694" stroke="#000" stroke-width="2.8" stroke-linecap="butt"/>
<text x="0" y="0" font-size="60" style="" transform="translate(83.4 1662.5) rotate(-90)" textLength="50.7" lengthAdjust="spacingAndGlyphs">m</text>
<rect x="53.5" y="1576" width="2.6" height="27" fill="#000"/>
<text x="0" y="0" font-size="42" style="" transform="translate(64.4 1568) rotate(-90)" textLength="20.8" lengthAdjust="spacingAndGlyphs">3</text>
<text x="1637" y="58.6" font-size="60" text-anchor="start" style="font-style:italic;" textLength="45" lengthAdjust="spacingAndGlyphs" >P</text>
<text x="1677" y="66.8" font-size="42" text-anchor="start" style="" textLength="13" lengthAdjust="spacingAndGlyphs" >I</text>
<rect x="1711.6" y="36.8" width="41.2" height="3" fill="#000"/><rect x="1711.6" y="48.6" width="41.2" height="3" fill="#000"/>
<text x="1774.5" y="58.6" font-size="60" text-anchor="start" style="" textLength="60.5" lengthAdjust="spacingAndGlyphs" >56</text>
<text x="1862" y="58.6" font-size="60" text-anchor="start" style="" textLength="98" lengthAdjust="spacingAndGlyphs" >kW</text>
<text x="1988" y="58.6" font-size="60" text-anchor="start" style="" textLength="44" lengthAdjust="spacingAndGlyphs" >&amp;</text>
<text x="2062" y="58.6" font-size="60" text-anchor="start" style="font-style:italic;" textLength="45" lengthAdjust="spacingAndGlyphs" >P</text>
<text x="2103" y="66.8" font-size="42" text-anchor="start" style="" textLength="31" lengthAdjust="spacingAndGlyphs" >II</text>
<rect x="2155" y="36.8" width="41.3" height="3" fill="#000"/><rect x="2155" y="48.6" width="41.3" height="3" fill="#000"/>
<text x="2218" y="58.6" font-size="60" text-anchor="start" style="" textLength="60.6" lengthAdjust="spacingAndGlyphs" >50</text>
<text x="2306.6" y="58.6" font-size="60" text-anchor="start" style="" textLength="97.8" lengthAdjust="spacingAndGlyphs" >kW</text>
<text x="2849" y="60" font-size="60" text-anchor="start" style="" textLength="145" lengthAdjust="spacingAndGlyphs" >With</text>
<text x="3019.5" y="60" font-size="60" text-anchor="start" style="" textLength="178" lengthAdjust="spacingAndGlyphs" >spacer</text>
<text x="3225" y="60" font-size="60" text-anchor="start" style="" textLength="140" lengthAdjust="spacingAndGlyphs" >plate</text>
<rect x="3640.2" y="160" width="44" height="279.9" fill="url(#cbar)" stroke="#000" stroke-width="5"/>
<line x1="3676" y1="163" x2="3684.6" y2="163" stroke="#000" stroke-width="3" stroke-linecap="butt"/>
<line x1="3676" y1="232.5" x2="3684.6" y2="232.5" stroke="#000" stroke-width="3" stroke-linecap="butt"/>
<line x1="3676" y1="301.8" x2="3684.6" y2="301.8" stroke="#000" stroke-width="3" stroke-linecap="butt"/>
<line x1="3676" y1="371.6" x2="3684.6" y2="371.6" stroke="#000" stroke-width="3" stroke-linecap="butt"/>
<path d="M3641.6 132.2 L3682.9 132.2 L3662.25 97.5 Z" fill="#000"/>
<path d="M3641.6 462.5 L3682.9 462.5 L3662.25 497.9 Z" fill="#000"/>
<text x="3711" y="132" font-size="60" textLength="114" lengthAdjust="spacingAndGlyphs">2.04</text><path d="M3843.1 100.1L3872.2 129.2M3843.1 129.2L3872.2 100.1" stroke="#000" stroke-width="3"/><text x="3891.6" y="132" font-size="60" textLength="57" lengthAdjust="spacingAndGlyphs">10</text><text x="3956" y="114.3" font-size="42" textLength="40" lengthAdjust="spacingAndGlyphs">18</text>
<text x="3711" y="181.8" font-size="60" textLength="79.5" lengthAdjust="spacingAndGlyphs">2.0</text><path d="M3809.9 149.9L3839.1 179.1M3809.9 179.1L3839.1 149.9" stroke="#000" stroke-width="3"/><text x="3857.9" y="181.8" font-size="60" textLength="57" lengthAdjust="spacingAndGlyphs">10</text><text x="3923.5" y="164.1" font-size="42" textLength="40" lengthAdjust="spacingAndGlyphs">18</text>
<text x="3711" y="251.5" font-size="60" textLength="79.5" lengthAdjust="spacingAndGlyphs">1.5</text><path d="M3809.9 219.6L3839.1 248.8M3809.9 248.8L3839.1 219.6" stroke="#000" stroke-width="3"/><text x="3857.9" y="251.5" font-size="60" textLength="57" lengthAdjust="spacingAndGlyphs">10</text><text x="3923.5" y="233.8" font-size="42" textLength="40" lengthAdjust="spacingAndGlyphs">18</text>
<text x="3711" y="321" font-size="60" textLength="79.5" lengthAdjust="spacingAndGlyphs">1.0</text><path d="M3809.9 289L3839.1 318.2M3809.9 318.2L3839.1 289" stroke="#000" stroke-width="3"/><text x="3857.9" y="321" font-size="60" textLength="57" lengthAdjust="spacingAndGlyphs">10</text><text x="3923.5" y="303.3" font-size="42" textLength="40" lengthAdjust="spacingAndGlyphs">18</text>
<text x="3711" y="390" font-size="60" textLength="79.5" lengthAdjust="spacingAndGlyphs">0.5</text><path d="M3809.9 358L3839.1 387.2M3809.9 387.2L3839.1 358" stroke="#000" stroke-width="3"/><text x="3857.9" y="390" font-size="60" textLength="57" lengthAdjust="spacingAndGlyphs">10</text><text x="3923.5" y="372.3" font-size="42" textLength="40" lengthAdjust="spacingAndGlyphs">18</text>
<text x="3711" y="498" font-size="60" textLength="114" lengthAdjust="spacingAndGlyphs">1.64</text><path d="M3843.1 466L3872.2 495.2M3843.1 495.2L3872.2 466" stroke="#000" stroke-width="3"/><text x="3891.6" y="498" font-size="60" textLength="57" lengthAdjust="spacingAndGlyphs">10</text><text x="3956" y="480.3" font-size="42" textLength="40" lengthAdjust="spacingAndGlyphs">11</text>
<rect x="3640.2" y="847.9" width="44" height="280.6" fill="url(#cbar)" stroke="#000" stroke-width="5"/>
<line x1="3676" y1="944.3" x2="3684.6" y2="944.3" stroke="#000" stroke-width="3" stroke-linecap="butt"/>
<line x1="3676" y1="1045" x2="3684.6" y2="1045" stroke="#000" stroke-width="3" stroke-linecap="butt"/>
<path d="M3641.6 820.4 L3682.9 820.4 L3662.25 785.7 Z" fill="#000"/>
<path d="M3641.6 1151.5 L3682.9 1151.5 L3662.25 1186 Z" fill="#000"/>
<text x="3711" y="821" font-size="60" textLength="115" lengthAdjust="spacingAndGlyphs">14.8</text>
<text x="3711" y="962.4" font-size="60" textLength="60" lengthAdjust="spacingAndGlyphs">10</text>
<text x="3711" y="1062" font-size="60">5</text>
<text x="3711" y="1186.5" font-size="60" textLength="115" lengthAdjust="spacingAndGlyphs">0.85</text>
<rect x="3640.2" y="1536.2" width="44" height="280.6" fill="url(#cbar)" stroke="#000" stroke-width="5"/>
<line x1="3676" y1="1562" x2="3684.6" y2="1562" stroke="#000" stroke-width="3" stroke-linecap="butt"/>
<line x1="3676" y1="1647" x2="3684.6" y2="1647" stroke="#000" stroke-width="3" stroke-linecap="butt"/>
<line x1="3676" y1="1733" x2="3684.6" y2="1733" stroke="#000" stroke-width="3" stroke-linecap="butt"/>
<path d="M3641.6 1508.7 L3682.9 1508.7 L3662.25 1473.7 Z" fill="#000"/>
<path d="M3641.6 1839 L3682.9 1839 L3662.25 1873.7 Z" fill="#000"/>
<text x="3711" y="1508.7" font-size="60" textLength="114" lengthAdjust="spacingAndGlyphs">1.66</text><path d="M3843.1 1476.8L3872.2 1506M3843.1 1506L3872.2 1476.8" stroke="#000" stroke-width="3"/><text x="3891.6" y="1508.7" font-size="60" textLength="57" lengthAdjust="spacingAndGlyphs">10</text><text x="3956" y="1491" font-size="42" textLength="40" lengthAdjust="spacingAndGlyphs">17</text>
<text x="3711" y="1580.5" font-size="60" textLength="79.5" lengthAdjust="spacingAndGlyphs">1.5</text><path d="M3809.9 1548.6L3839.1 1577.8M3809.9 1577.8L3839.1 1548.6" stroke="#000" stroke-width="3"/><text x="3857.9" y="1580.5" font-size="60" textLength="57" lengthAdjust="spacingAndGlyphs">10</text><text x="3923.5" y="1562.8" font-size="42" textLength="40" lengthAdjust="spacingAndGlyphs">17</text>
<text x="3711" y="1665.5" font-size="60" textLength="79.5" lengthAdjust="spacingAndGlyphs">1.0</text><path d="M3809.9 1633.6L3839.1 1662.8M3809.9 1662.8L3839.1 1633.6" stroke="#000" stroke-width="3"/><text x="3857.9" y="1665.5" font-size="60" textLength="57" lengthAdjust="spacingAndGlyphs">10</text><text x="3923.5" y="1647.8" font-size="42" textLength="40" lengthAdjust="spacingAndGlyphs">17</text>
<text x="3711" y="1750.5" font-size="60" textLength="79.5" lengthAdjust="spacingAndGlyphs">0.5</text><path d="M3809.9 1718.6L3839.1 1747.8M3809.9 1747.8L3839.1 1718.6" stroke="#000" stroke-width="3"/><text x="3857.9" y="1750.5" font-size="60" textLength="57" lengthAdjust="spacingAndGlyphs">10</text><text x="3923.5" y="1732.8" font-size="42" textLength="40" lengthAdjust="spacingAndGlyphs">17</text>
<text x="3711" y="1875.5" font-size="60" textLength="114" lengthAdjust="spacingAndGlyphs">4.49</text><path d="M3843.1 1843.6L3872.2 1872.8M3843.1 1872.8L3872.2 1843.6" stroke="#000" stroke-width="3"/><text x="3891.6" y="1875.5" font-size="60" textLength="57" lengthAdjust="spacingAndGlyphs">10</text><text x="3956" y="1857.8" font-size="42" textLength="40" lengthAdjust="spacingAndGlyphs">10</text></svg></body></html>
